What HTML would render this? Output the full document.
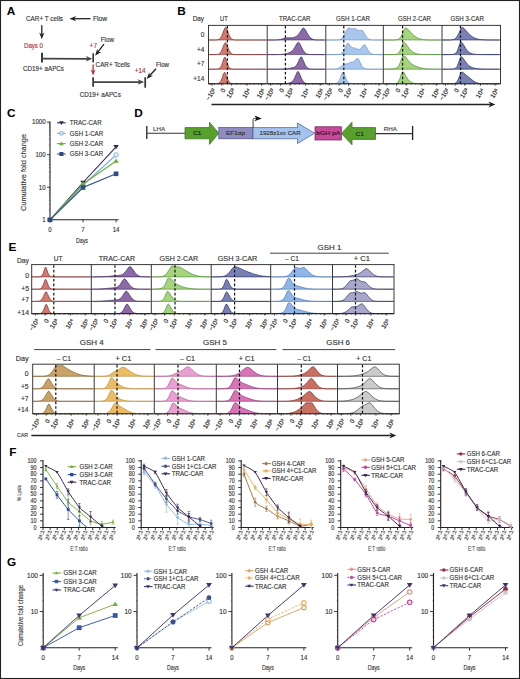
<!DOCTYPE html><html><head><meta charset="utf-8"><style>html,body{margin:0;padding:0;background:#fff;}svg{display:block;}</style></head><body>
<svg width="520" height="679" viewBox="0 0 520 679" font-family='"Liberation Sans", sans-serif'>
<rect x="0" y="0" width="520" height="679" fill="#fff"/>
<rect x="0.5" y="0.5" width="519" height="678" fill="none" stroke="#222" stroke-width="1.1"/>
<text x="6.80" y="15.10" font-size="11.8" fill="#000" font-weight="bold">A</text>
<text x="26.00" y="21.08" font-size="6.6" fill="#333" textLength="37.00" lengthAdjust="spacingAndGlyphs" stroke="#333" stroke-width="0.14">CAR+ T cells</text>
<line x1="90.50" y1="18.70" x2="73.86" y2="18.70" stroke="#222" stroke-width="1.3"/>
<path d="M69.40,18.70 L76.20,16.10 L74.16,18.70 L76.20,21.30Z" fill="#222"/>
<text x="93.00" y="21.28" font-size="6.6" fill="#333" textLength="14.00" lengthAdjust="spacingAndGlyphs" stroke="#333" stroke-width="0.14">Flow</text>
<line x1="41.80" y1="25.30" x2="41.80" y2="34.74" stroke="#222" stroke-width="1.3"/>
<path d="M41.80,39.20 L39.20,32.40 L41.80,34.44 L44.40,32.40Z" fill="#222"/>
<text x="24.00" y="48.38" font-size="6.6" fill="#b02a3a" textLength="19.00" lengthAdjust="spacingAndGlyphs" stroke="#b02a3a" stroke-width="0.14">Days 0</text>
<line x1="42.00" y1="52.80" x2="42.00" y2="62.60" stroke="#333" stroke-width="1.9"/>
<line x1="42.00" y1="58.70" x2="88.01" y2="58.79" stroke="#444" stroke-width="1.7"/>
<path d="M92.40,58.80 L85.69,61.54 L87.71,58.79 L85.71,56.04Z" fill="#444"/>
<line x1="93.20" y1="53.20" x2="93.20" y2="62.60" stroke="#333" stroke-width="1.6"/>
<text x="23.00" y="70.58" font-size="6.6" fill="#333" textLength="41.00" lengthAdjust="spacingAndGlyphs" stroke="#333" stroke-width="0.14">CD19+ aAPCs</text>
<text x="89.60" y="47.98" font-size="6.6" fill="#b02a3a" textLength="7.40" lengthAdjust="spacingAndGlyphs" stroke="#b02a3a" stroke-width="0.14">+7</text>
<text x="100.80" y="42.18" font-size="6.6" fill="#333" textLength="13.20" lengthAdjust="spacingAndGlyphs" stroke="#333" stroke-width="0.14">Flow</text>
<line x1="104.00" y1="44.20" x2="97.83" y2="52.17" stroke="#222" stroke-width="1.3"/>
<path d="M95.10,55.70 L97.21,48.73 L98.01,51.94 L101.32,51.91Z" fill="#222"/>
<text x="95.60" y="67.18" font-size="6.6" fill="#333" textLength="34.40" lengthAdjust="spacingAndGlyphs" stroke="#333" stroke-width="0.14">CAR+ Tcells</text>
<line x1="93.10" y1="64.50" x2="93.10" y2="71.56" stroke="#b02a3a" stroke-width="1.3"/>
<path d="M93.10,75.60 L90.70,69.40 L93.10,71.26 L95.50,69.40Z" fill="#b02a3a"/>
<line x1="93.10" y1="77.30" x2="93.10" y2="86.80" stroke="#333" stroke-width="1.7"/>
<line x1="93.10" y1="82.10" x2="139.81" y2="82.10" stroke="#444" stroke-width="1.6"/>
<path d="M144.20,82.10 L137.50,84.85 L139.51,82.10 L137.50,79.35Z" fill="#444"/>
<line x1="145.20" y1="77.30" x2="145.20" y2="87.70" stroke="#333" stroke-width="1.7"/>
<text x="134.80" y="73.38" font-size="6.6" fill="#b02a3a" textLength="10.60" lengthAdjust="spacingAndGlyphs" stroke="#b02a3a" stroke-width="0.14">+14</text>
<text x="156.00" y="67.18" font-size="6.6" fill="#333" textLength="13.00" lengthAdjust="spacingAndGlyphs" stroke="#333" stroke-width="0.14">Flow</text>
<line x1="156.00" y1="68.70" x2="149.61" y2="75.71" stroke="#222" stroke-width="1.3"/>
<path d="M146.60,79.00 L149.26,72.22 L149.81,75.48 L153.10,75.73Z" fill="#222"/>
<text x="79.80" y="96.98" font-size="6.6" fill="#333" textLength="41.00" lengthAdjust="spacingAndGlyphs" stroke="#333" stroke-width="0.14">CD19+ aAPCs</text>
<text x="177.20" y="15.10" font-size="11.8" fill="#000" font-weight="bold">B</text>
<text x="192.70" y="21.11" font-size="6.7" fill="#333" textLength="11.30" lengthAdjust="spacingAndGlyphs" stroke="#333" stroke-width="0.14">Day</text>
<text x="220.00" y="20.91" font-size="6.7" fill="#333" textLength="7.70" lengthAdjust="spacingAndGlyphs" stroke="#333" stroke-width="0.14">UT</text>
<text x="279.00" y="20.91" font-size="6.7" fill="#333" textLength="31.50" lengthAdjust="spacingAndGlyphs" stroke="#333" stroke-width="0.14">TRAC-CAR</text>
<text x="336.00" y="20.91" font-size="6.7" fill="#333" textLength="34.00" lengthAdjust="spacingAndGlyphs" stroke="#333" stroke-width="0.14">GSH 1-CAR</text>
<text x="398.00" y="20.91" font-size="6.7" fill="#333" textLength="33.00" lengthAdjust="spacingAndGlyphs" stroke="#333" stroke-width="0.14">GSH 2-CAR</text>
<text x="450.50" y="20.91" font-size="6.7" fill="#333" textLength="33.30" lengthAdjust="spacingAndGlyphs" stroke="#333" stroke-width="0.14">GSH 3-CAR</text>
<text x="204.30" y="36.50" font-size="6.5" fill="#333" text-anchor="end" stroke="#333" stroke-width="0.14">0</text>
<text x="204.30" y="51.50" font-size="6.5" fill="#333" text-anchor="end" stroke="#333" stroke-width="0.14">+4</text>
<text x="204.30" y="66.10" font-size="6.5" fill="#333" text-anchor="end" stroke="#333" stroke-width="0.14">+7</text>
<text x="204.30" y="80.70" font-size="6.5" fill="#333" text-anchor="end" stroke="#333" stroke-width="0.14">+14</text>
<path d="M209.0,40.00 L214.2,39.99 L215.0,39.98 L215.8,39.95 L216.5,39.90 L217.2,39.80 L218.0,39.63 L218.8,39.34 L219.5,38.88 L220.2,38.18 L221.0,37.16 L221.8,35.79 L222.5,34.07 L223.2,32.07 L224.0,30.00 L224.8,28.21 L225.5,27.18 L226.2,27.83 L227.0,29.48 L227.8,31.51 L228.5,33.55 L229.2,35.37 L230.0,36.84 L230.8,37.94 L231.5,38.72 L232.2,39.24 L233.0,39.57 L233.8,39.76 L234.5,39.88 L235.2,39.94 L236.0,39.97 L236.8,39.99 L266.0,40.00 L266.70,40.00 L209.00,40.00Z" fill="#d27a70" stroke="none"/>
<path d="M209.0,40.00 L214.2,39.99 L215.0,39.98 L215.8,39.95 L216.5,39.90 L217.2,39.80 L218.0,39.63 L218.8,39.34 L219.5,38.88 L220.2,38.18 L221.0,37.16 L221.8,35.79 L222.5,34.07 L223.2,32.07 L224.0,30.00 L224.8,28.21 L225.5,27.18 L226.2,27.83 L227.0,29.48 L227.8,31.51 L228.5,33.55 L229.2,35.37 L230.0,36.84 L230.8,37.94 L231.5,38.72 L232.2,39.24 L233.0,39.57 L233.8,39.76 L234.5,39.88 L235.2,39.94 L236.0,39.97 L236.8,39.99 L266.0,40.00" fill="none" stroke="#7c2c2c" stroke-width="0.7" stroke-linejoin="round"/>
<line x1="208.50" y1="40.00" x2="267.20" y2="40.00" stroke="#7c2c2c" stroke-width="0.8" stroke-opacity="0.75"/>
<path d="M209.0,54.60 L214.2,54.59 L215.0,54.57 L215.8,54.54 L216.5,54.48 L217.2,54.38 L218.0,54.19 L218.8,53.88 L219.5,53.38 L220.2,52.64 L221.0,51.59 L221.8,50.20 L222.5,48.48 L223.2,46.54 L224.0,44.61 L224.8,43.04 L225.5,42.42 L226.2,43.40 L227.0,45.10 L227.8,47.07 L228.5,48.96 L229.2,50.60 L230.0,51.91 L230.8,52.87 L231.5,53.54 L232.2,53.98 L233.0,54.25 L233.8,54.41 L234.5,54.50 L235.2,54.55 L236.0,54.58 L236.8,54.59 L266.0,54.60 L266.70,54.60 L209.00,54.60Z" fill="#d27a70" stroke="none"/>
<path d="M209.0,54.60 L214.2,54.59 L215.0,54.57 L215.8,54.54 L216.5,54.48 L217.2,54.38 L218.0,54.19 L218.8,53.88 L219.5,53.38 L220.2,52.64 L221.0,51.59 L221.8,50.20 L222.5,48.48 L223.2,46.54 L224.0,44.61 L224.8,43.04 L225.5,42.42 L226.2,43.40 L227.0,45.10 L227.8,47.07 L228.5,48.96 L229.2,50.60 L230.0,51.91 L230.8,52.87 L231.5,53.54 L232.2,53.98 L233.0,54.25 L233.8,54.41 L234.5,54.50 L235.2,54.55 L236.0,54.58 L236.8,54.59 L266.0,54.60" fill="none" stroke="#7c2c2c" stroke-width="0.7" stroke-linejoin="round"/>
<line x1="208.50" y1="54.60" x2="267.20" y2="54.60" stroke="#7c2c2c" stroke-width="0.8" stroke-opacity="0.75"/>
<path d="M209.0,69.20 L215.8,69.18 L216.5,69.16 L217.2,69.10 L218.0,68.98 L218.8,68.74 L219.5,68.31 L220.2,67.58 L221.0,66.45 L221.8,64.82 L222.5,62.73 L223.2,60.37 L224.0,58.21 L224.8,57.01 L225.5,57.98 L226.2,60.06 L227.0,62.42 L227.8,64.56 L228.5,66.26 L229.2,67.46 L230.0,68.24 L230.8,68.70 L231.5,68.95 L232.2,69.09 L233.0,69.15 L233.8,69.18 L234.5,69.19 L266.0,69.20 L266.70,69.20 L209.00,69.20Z" fill="#d27a70" stroke="none"/>
<path d="M209.0,69.20 L215.8,69.18 L216.5,69.16 L217.2,69.10 L218.0,68.98 L218.8,68.74 L219.5,68.31 L220.2,67.58 L221.0,66.45 L221.8,64.82 L222.5,62.73 L223.2,60.37 L224.0,58.21 L224.8,57.01 L225.5,57.98 L226.2,60.06 L227.0,62.42 L227.8,64.56 L228.5,66.26 L229.2,67.46 L230.0,68.24 L230.8,68.70 L231.5,68.95 L232.2,69.09 L233.0,69.15 L233.8,69.18 L234.5,69.19 L266.0,69.20" fill="none" stroke="#7c2c2c" stroke-width="0.7" stroke-linejoin="round"/>
<line x1="208.50" y1="69.20" x2="267.20" y2="69.20" stroke="#7c2c2c" stroke-width="0.8" stroke-opacity="0.75"/>
<path d="M209.0,83.80 L215.0,83.79 L215.8,83.78 L216.5,83.74 L217.2,83.67 L218.0,83.52 L218.8,83.23 L219.5,82.72 L220.2,81.89 L221.0,80.63 L221.8,78.90 L222.5,76.79 L223.2,74.57 L224.0,72.77 L224.8,72.38 L225.5,73.66 L226.2,75.56 L227.0,77.59 L227.8,79.42 L228.5,80.90 L229.2,81.98 L230.0,82.72 L230.8,83.19 L231.5,83.48 L232.2,83.64 L233.0,83.72 L233.8,83.76 L234.5,83.78 L266.0,83.80 L266.70,83.80 L209.00,83.80Z" fill="#d27a70" stroke="none"/>
<path d="M209.0,83.80 L215.0,83.79 L215.8,83.78 L216.5,83.74 L217.2,83.67 L218.0,83.52 L218.8,83.23 L219.5,82.72 L220.2,81.89 L221.0,80.63 L221.8,78.90 L222.5,76.79 L223.2,74.57 L224.0,72.77 L224.8,72.38 L225.5,73.66 L226.2,75.56 L227.0,77.59 L227.8,79.42 L228.5,80.90 L229.2,81.98 L230.0,82.72 L230.8,83.19 L231.5,83.48 L232.2,83.64 L233.0,83.72 L233.8,83.76 L234.5,83.78 L266.0,83.80" fill="none" stroke="#7c2c2c" stroke-width="0.7" stroke-linejoin="round"/>
<line x1="227.40" y1="26.00" x2="227.40" y2="83.80" stroke="#111" stroke-width="1.2" stroke-dasharray="2.6,2.0"/>
<path d="M267.7,40.00 L272.9,39.99 L273.7,39.98 L274.4,39.97 L275.2,39.95 L275.9,39.92 L276.7,39.89 L277.4,39.84 L278.2,39.77 L278.9,39.68 L279.7,39.57 L280.4,39.43 L281.2,39.26 L281.9,39.06 L282.7,38.83 L283.4,38.59 L284.2,38.33 L284.9,38.09 L285.7,37.87 L286.4,37.71 L287.2,37.67 L287.9,37.69 L288.7,37.73 L289.4,37.78 L290.2,37.80 L290.9,37.80 L291.7,37.75 L292.4,37.65 L293.2,37.51 L293.9,37.33 L294.7,37.12 L295.4,36.84 L296.2,36.44 L296.9,35.92 L297.7,35.24 L298.4,34.40 L299.2,33.42 L299.9,32.32 L300.7,31.17 L301.4,30.03 L302.2,29.02 L302.9,28.28 L303.7,28.03 L304.4,28.61 L305.2,29.62 L305.9,30.89 L306.7,32.25 L307.4,33.60 L308.2,34.86 L308.9,35.97 L309.7,36.93 L310.4,37.71 L311.2,38.34 L311.9,38.82 L312.7,39.18 L313.4,39.44 L314.2,39.63 L314.9,39.76 L315.7,39.84 L316.4,39.90 L317.2,39.94 L317.9,39.96 L318.7,39.98 L319.4,39.99 L324.7,40.00 L325.30,40.00 L267.70,40.00Z" fill="#8c6aa8" stroke="none"/>
<path d="M267.7,40.00 L272.9,39.99 L273.7,39.98 L274.4,39.97 L275.2,39.95 L275.9,39.92 L276.7,39.89 L277.4,39.84 L278.2,39.77 L278.9,39.68 L279.7,39.57 L280.4,39.43 L281.2,39.26 L281.9,39.06 L282.7,38.83 L283.4,38.59 L284.2,38.33 L284.9,38.09 L285.7,37.87 L286.4,37.71 L287.2,37.67 L287.9,37.69 L288.7,37.73 L289.4,37.78 L290.2,37.80 L290.9,37.80 L291.7,37.75 L292.4,37.65 L293.2,37.51 L293.9,37.33 L294.7,37.12 L295.4,36.84 L296.2,36.44 L296.9,35.92 L297.7,35.24 L298.4,34.40 L299.2,33.42 L299.9,32.32 L300.7,31.17 L301.4,30.03 L302.2,29.02 L302.9,28.28 L303.7,28.03 L304.4,28.61 L305.2,29.62 L305.9,30.89 L306.7,32.25 L307.4,33.60 L308.2,34.86 L308.9,35.97 L309.7,36.93 L310.4,37.71 L311.2,38.34 L311.9,38.82 L312.7,39.18 L313.4,39.44 L314.2,39.63 L314.9,39.76 L315.7,39.84 L316.4,39.90 L317.2,39.94 L317.9,39.96 L318.7,39.98 L319.4,39.99 L324.7,40.00" fill="none" stroke="#3a2450" stroke-width="0.7" stroke-linejoin="round"/>
<line x1="267.20" y1="40.00" x2="325.80" y2="40.00" stroke="#3a2450" stroke-width="0.8" stroke-opacity="0.75"/>
<path d="M267.7,54.60 L275.9,54.58 L276.7,54.57 L277.4,54.56 L278.2,54.54 L278.9,54.52 L279.7,54.49 L280.4,54.46 L281.2,54.41 L281.9,54.35 L282.7,54.27 L283.4,54.18 L284.2,54.07 L284.9,53.94 L285.7,53.79 L286.4,53.61 L287.2,53.41 L287.9,53.17 L288.7,52.90 L289.4,52.58 L290.2,52.21 L290.9,51.79 L291.7,51.25 L292.4,50.56 L293.2,49.70 L293.9,48.66 L294.7,47.47 L295.4,46.17 L296.2,44.84 L296.9,43.61 L297.7,42.65 L298.4,42.18 L299.2,42.73 L299.9,43.92 L300.7,45.42 L301.4,47.03 L302.2,48.58 L302.9,49.97 L303.7,51.16 L304.4,52.12 L305.2,52.87 L305.9,53.43 L306.7,53.83 L307.4,54.10 L308.2,54.29 L308.9,54.41 L309.7,54.49 L310.4,54.53 L311.2,54.56 L311.9,54.58 L312.7,54.59 L324.7,54.60 L325.30,54.60 L267.70,54.60Z" fill="#8c6aa8" stroke="none"/>
<path d="M267.7,54.60 L275.9,54.58 L276.7,54.57 L277.4,54.56 L278.2,54.54 L278.9,54.52 L279.7,54.49 L280.4,54.46 L281.2,54.41 L281.9,54.35 L282.7,54.27 L283.4,54.18 L284.2,54.07 L284.9,53.94 L285.7,53.79 L286.4,53.61 L287.2,53.41 L287.9,53.17 L288.7,52.90 L289.4,52.58 L290.2,52.21 L290.9,51.79 L291.7,51.25 L292.4,50.56 L293.2,49.70 L293.9,48.66 L294.7,47.47 L295.4,46.17 L296.2,44.84 L296.9,43.61 L297.7,42.65 L298.4,42.18 L299.2,42.73 L299.9,43.92 L300.7,45.42 L301.4,47.03 L302.2,48.58 L302.9,49.97 L303.7,51.16 L304.4,52.12 L305.2,52.87 L305.9,53.43 L306.7,53.83 L307.4,54.10 L308.2,54.29 L308.9,54.41 L309.7,54.49 L310.4,54.53 L311.2,54.56 L311.9,54.58 L312.7,54.59 L324.7,54.60" fill="none" stroke="#3a2450" stroke-width="0.7" stroke-linejoin="round"/>
<line x1="267.20" y1="54.60" x2="325.80" y2="54.60" stroke="#3a2450" stroke-width="0.8" stroke-opacity="0.75"/>
<path d="M267.7,69.20 L278.9,69.18 L279.7,69.17 L280.4,69.16 L281.2,69.14 L281.9,69.12 L282.7,69.09 L283.4,69.06 L284.2,69.01 L284.9,68.95 L285.7,68.88 L286.4,68.79 L287.2,68.70 L287.9,68.58 L288.7,68.46 L289.4,68.33 L290.2,68.19 L290.9,68.03 L291.7,67.87 L292.4,67.70 L293.2,67.50 L293.9,67.27 L294.7,66.92 L295.4,66.39 L296.2,65.62 L296.9,64.56 L297.7,63.21 L298.4,61.61 L299.2,59.89 L299.9,58.27 L300.7,57.08 L301.4,56.89 L302.2,57.98 L302.9,59.62 L303.7,61.46 L304.4,63.26 L305.2,64.84 L305.9,66.14 L306.7,67.13 L307.4,67.86 L308.2,68.36 L308.9,68.70 L309.7,68.91 L310.4,69.04 L311.2,69.11 L311.9,69.15 L312.7,69.18 L313.4,69.19 L324.7,69.20 L325.30,69.20 L267.70,69.20Z" fill="#8c6aa8" stroke="none"/>
<path d="M267.7,69.20 L278.9,69.18 L279.7,69.17 L280.4,69.16 L281.2,69.14 L281.9,69.12 L282.7,69.09 L283.4,69.06 L284.2,69.01 L284.9,68.95 L285.7,68.88 L286.4,68.79 L287.2,68.70 L287.9,68.58 L288.7,68.46 L289.4,68.33 L290.2,68.19 L290.9,68.03 L291.7,67.87 L292.4,67.70 L293.2,67.50 L293.9,67.27 L294.7,66.92 L295.4,66.39 L296.2,65.62 L296.9,64.56 L297.7,63.21 L298.4,61.61 L299.2,59.89 L299.9,58.27 L300.7,57.08 L301.4,56.89 L302.2,57.98 L302.9,59.62 L303.7,61.46 L304.4,63.26 L305.2,64.84 L305.9,66.14 L306.7,67.13 L307.4,67.86 L308.2,68.36 L308.9,68.70 L309.7,68.91 L310.4,69.04 L311.2,69.11 L311.9,69.15 L312.7,69.18 L313.4,69.19 L324.7,69.20" fill="none" stroke="#3a2450" stroke-width="0.7" stroke-linejoin="round"/>
<line x1="267.20" y1="69.20" x2="325.80" y2="69.20" stroke="#3a2450" stroke-width="0.8" stroke-opacity="0.75"/>
<path d="M267.7,83.80 L281.2,83.79 L281.9,83.78 L282.7,83.77 L283.4,83.75 L284.2,83.72 L284.9,83.68 L285.7,83.62 L286.4,83.54 L287.2,83.44 L287.9,83.31 L288.7,83.15 L289.4,82.94 L290.2,82.67 L290.9,82.32 L291.7,81.86 L292.4,81.27 L293.2,80.47 L293.9,79.38 L294.7,77.95 L295.4,76.24 L296.2,74.39 L296.9,72.68 L297.7,71.54 L298.4,71.74 L299.2,73.02 L299.9,74.74 L300.7,76.59 L301.4,78.33 L302.2,79.84 L302.9,81.05 L303.7,81.97 L304.4,82.62 L305.2,83.07 L305.9,83.37 L306.7,83.55 L307.4,83.66 L308.2,83.73 L308.9,83.76 L309.7,83.78 L324.7,83.80 L325.30,83.80 L267.70,83.80Z" fill="#8c6aa8" stroke="none"/>
<path d="M267.7,83.80 L281.2,83.79 L281.9,83.78 L282.7,83.77 L283.4,83.75 L284.2,83.72 L284.9,83.68 L285.7,83.62 L286.4,83.54 L287.2,83.44 L287.9,83.31 L288.7,83.15 L289.4,82.94 L290.2,82.67 L290.9,82.32 L291.7,81.86 L292.4,81.27 L293.2,80.47 L293.9,79.38 L294.7,77.95 L295.4,76.24 L296.2,74.39 L296.9,72.68 L297.7,71.54 L298.4,71.74 L299.2,73.02 L299.9,74.74 L300.7,76.59 L301.4,78.33 L302.2,79.84 L302.9,81.05 L303.7,81.97 L304.4,82.62 L305.2,83.07 L305.9,83.37 L306.7,83.55 L307.4,83.66 L308.2,83.73 L308.9,83.76 L309.7,83.78 L324.7,83.80" fill="none" stroke="#3a2450" stroke-width="0.7" stroke-linejoin="round"/>
<line x1="285.40" y1="26.00" x2="285.40" y2="83.80" stroke="#111" stroke-width="1.2" stroke-dasharray="2.6,2.0"/>
<path d="M326.3,40.00 L335.3,39.98 L336.1,39.97 L336.8,39.94 L337.6,39.89 L338.3,39.82 L339.1,39.70 L339.8,39.52 L340.6,39.24 L341.3,38.83 L342.1,38.26 L342.8,37.48 L343.6,36.49 L344.3,35.25 L345.1,33.82 L345.8,32.24 L346.6,30.63 L347.3,29.18 L348.1,28.15 L348.8,27.94 L349.6,28.10 L350.3,28.38 L351.1,28.64 L351.8,28.79 L352.6,28.80 L353.3,28.71 L354.1,28.57 L354.8,28.52 L355.6,28.80 L356.3,29.29 L357.1,29.80 L357.8,30.24 L358.6,30.54 L359.3,30.65 L360.1,30.59 L360.8,30.43 L361.6,30.30 L362.3,30.42 L363.1,31.19 L363.8,32.42 L364.6,33.79 L365.3,35.15 L366.1,36.36 L366.8,37.38 L367.6,38.18 L368.3,38.78 L369.1,39.21 L369.8,39.51 L370.6,39.70 L371.3,39.82 L372.1,39.90 L372.8,39.94 L373.6,39.97 L374.3,39.98 L382.6,40.00 L382.80,40.00 L326.30,40.00Z" fill="#a9c6ec" stroke="none"/>
<path d="M326.3,40.00 L335.3,39.98 L336.1,39.97 L336.8,39.94 L337.6,39.89 L338.3,39.82 L339.1,39.70 L339.8,39.52 L340.6,39.24 L341.3,38.83 L342.1,38.26 L342.8,37.48 L343.6,36.49 L344.3,35.25 L345.1,33.82 L345.8,32.24 L346.6,30.63 L347.3,29.18 L348.1,28.15 L348.8,27.94 L349.6,28.10 L350.3,28.38 L351.1,28.64 L351.8,28.79 L352.6,28.80 L353.3,28.71 L354.1,28.57 L354.8,28.52 L355.6,28.80 L356.3,29.29 L357.1,29.80 L357.8,30.24 L358.6,30.54 L359.3,30.65 L360.1,30.59 L360.8,30.43 L361.6,30.30 L362.3,30.42 L363.1,31.19 L363.8,32.42 L364.6,33.79 L365.3,35.15 L366.1,36.36 L366.8,37.38 L367.6,38.18 L368.3,38.78 L369.1,39.21 L369.8,39.51 L370.6,39.70 L371.3,39.82 L372.1,39.90 L372.8,39.94 L373.6,39.97 L374.3,39.98 L382.6,40.00" fill="none" stroke="#6a90c4" stroke-width="0.7" stroke-linejoin="round"/>
<line x1="325.80" y1="40.00" x2="383.30" y2="40.00" stroke="#6a90c4" stroke-width="0.8" stroke-opacity="0.75"/>
<path d="M326.3,54.60 L336.1,54.58 L336.8,54.56 L337.6,54.53 L338.3,54.47 L339.1,54.37 L339.8,54.20 L340.6,53.93 L341.3,53.52 L342.1,52.92 L342.8,52.09 L343.6,50.98 L344.3,49.61 L345.1,48.01 L345.8,46.31 L346.6,44.68 L347.3,43.42 L348.1,43.08 L348.8,43.67 L349.6,44.64 L350.3,45.67 L351.1,46.58 L351.8,47.26 L352.6,47.68 L353.3,47.88 L354.1,47.95 L354.8,48.01 L355.6,48.26 L356.3,48.64 L357.1,49.01 L357.8,49.30 L358.6,49.42 L359.3,49.33 L360.1,48.97 L360.8,48.34 L361.6,47.49 L362.3,46.50 L363.1,45.52 L363.8,44.78 L364.6,44.63 L365.3,45.39 L366.1,46.57 L366.8,47.93 L367.6,49.30 L368.3,50.55 L369.1,51.62 L369.8,52.49 L370.6,53.16 L371.3,53.64 L372.1,53.99 L372.8,54.22 L373.6,54.37 L374.3,54.47 L375.1,54.52 L375.8,54.56 L376.6,54.58 L377.3,54.59 L382.6,54.60 L382.80,54.60 L326.30,54.60Z" fill="#a9c6ec" stroke="none"/>
<path d="M326.3,54.60 L336.1,54.58 L336.8,54.56 L337.6,54.53 L338.3,54.47 L339.1,54.37 L339.8,54.20 L340.6,53.93 L341.3,53.52 L342.1,52.92 L342.8,52.09 L343.6,50.98 L344.3,49.61 L345.1,48.01 L345.8,46.31 L346.6,44.68 L347.3,43.42 L348.1,43.08 L348.8,43.67 L349.6,44.64 L350.3,45.67 L351.1,46.58 L351.8,47.26 L352.6,47.68 L353.3,47.88 L354.1,47.95 L354.8,48.01 L355.6,48.26 L356.3,48.64 L357.1,49.01 L357.8,49.30 L358.6,49.42 L359.3,49.33 L360.1,48.97 L360.8,48.34 L361.6,47.49 L362.3,46.50 L363.1,45.52 L363.8,44.78 L364.6,44.63 L365.3,45.39 L366.1,46.57 L366.8,47.93 L367.6,49.30 L368.3,50.55 L369.1,51.62 L369.8,52.49 L370.6,53.16 L371.3,53.64 L372.1,53.99 L372.8,54.22 L373.6,54.37 L374.3,54.47 L375.1,54.52 L375.8,54.56 L376.6,54.58 L377.3,54.59 L382.6,54.60" fill="none" stroke="#6a90c4" stroke-width="0.7" stroke-linejoin="round"/>
<line x1="325.80" y1="54.60" x2="383.30" y2="54.60" stroke="#6a90c4" stroke-width="0.8" stroke-opacity="0.75"/>
<path d="M326.3,69.20 L331.6,69.19 L332.3,69.17 L333.1,69.16 L333.8,69.13 L334.6,69.08 L335.3,69.01 L336.1,68.90 L336.8,68.75 L337.6,68.54 L338.3,68.26 L339.1,67.90 L339.8,67.45 L340.6,66.92 L341.3,66.32 L342.1,65.68 L342.8,65.04 L343.6,64.47 L344.3,64.10 L345.1,63.96 L345.8,63.89 L346.6,63.81 L347.3,63.67 L348.1,63.45 L348.8,63.16 L349.6,62.81 L350.3,62.44 L351.1,62.15 L351.8,62.06 L352.6,61.95 L353.3,61.71 L354.1,61.27 L354.8,60.62 L355.6,59.82 L356.3,58.99 L357.1,58.37 L357.8,58.35 L358.6,59.34 L359.3,60.80 L360.1,62.41 L360.8,63.96 L361.6,65.34 L362.3,66.48 L363.1,67.35 L363.8,67.99 L364.6,68.44 L365.3,68.74 L366.1,68.93 L366.8,69.05 L367.6,69.12 L368.3,69.16 L369.1,69.18 L369.8,69.19 L382.6,69.20 L382.80,69.20 L326.30,69.20Z" fill="#a9c6ec" stroke="none"/>
<path d="M326.3,69.20 L331.6,69.19 L332.3,69.17 L333.1,69.16 L333.8,69.13 L334.6,69.08 L335.3,69.01 L336.1,68.90 L336.8,68.75 L337.6,68.54 L338.3,68.26 L339.1,67.90 L339.8,67.45 L340.6,66.92 L341.3,66.32 L342.1,65.68 L342.8,65.04 L343.6,64.47 L344.3,64.10 L345.1,63.96 L345.8,63.89 L346.6,63.81 L347.3,63.67 L348.1,63.45 L348.8,63.16 L349.6,62.81 L350.3,62.44 L351.1,62.15 L351.8,62.06 L352.6,61.95 L353.3,61.71 L354.1,61.27 L354.8,60.62 L355.6,59.82 L356.3,58.99 L357.1,58.37 L357.8,58.35 L358.6,59.34 L359.3,60.80 L360.1,62.41 L360.8,63.96 L361.6,65.34 L362.3,66.48 L363.1,67.35 L363.8,67.99 L364.6,68.44 L365.3,68.74 L366.1,68.93 L366.8,69.05 L367.6,69.12 L368.3,69.16 L369.1,69.18 L369.8,69.19 L382.6,69.20" fill="none" stroke="#6a90c4" stroke-width="0.7" stroke-linejoin="round"/>
<line x1="325.80" y1="69.20" x2="383.30" y2="69.20" stroke="#6a90c4" stroke-width="0.8" stroke-opacity="0.75"/>
<path d="M326.3,83.80 L333.1,83.78 L333.8,83.76 L334.6,83.71 L335.3,83.62 L336.1,83.45 L336.8,83.16 L337.6,82.66 L338.3,81.88 L339.1,80.74 L339.8,79.21 L340.6,77.32 L341.3,75.24 L342.1,73.32 L342.8,72.08 L343.6,72.53 L344.3,74.17 L345.1,76.21 L345.8,78.24 L346.6,79.97 L347.3,81.32 L348.1,82.28 L348.8,82.92 L349.6,83.32 L350.3,83.55 L351.1,83.67 L351.8,83.74 L352.6,83.77 L353.3,83.79 L382.6,83.80 L382.80,83.80 L326.30,83.80Z" fill="#a9c6ec" stroke="none"/>
<path d="M326.3,83.80 L333.1,83.78 L333.8,83.76 L334.6,83.71 L335.3,83.62 L336.1,83.45 L336.8,83.16 L337.6,82.66 L338.3,81.88 L339.1,80.74 L339.8,79.21 L340.6,77.32 L341.3,75.24 L342.1,73.32 L342.8,72.08 L343.6,72.53 L344.3,74.17 L345.1,76.21 L345.8,78.24 L346.6,79.97 L347.3,81.32 L348.1,82.28 L348.8,82.92 L349.6,83.32 L350.3,83.55 L351.1,83.67 L351.8,83.74 L352.6,83.77 L353.3,83.79 L382.6,83.80" fill="none" stroke="#6a90c4" stroke-width="0.7" stroke-linejoin="round"/>
<line x1="343.80" y1="26.00" x2="343.80" y2="83.80" stroke="#111" stroke-width="1.2" stroke-dasharray="2.6,2.0"/>
<path d="M383.8,40.00 L392.8,39.99 L393.6,39.97 L394.3,39.95 L395.1,39.92 L395.8,39.86 L396.6,39.76 L397.3,39.59 L398.1,39.32 L398.8,38.91 L399.6,38.31 L400.3,37.46 L401.1,36.34 L401.8,34.94 L402.6,33.29 L403.3,31.50 L404.1,29.79 L404.8,28.42 L405.6,27.88 L406.3,28.09 L407.1,28.55 L407.8,29.18 L408.6,29.92 L409.3,30.72 L410.1,31.54 L410.8,32.36 L411.6,33.15 L412.3,33.91 L413.1,34.63 L413.8,35.32 L414.6,35.97 L415.3,36.56 L416.1,37.09 L416.8,37.56 L417.6,37.97 L418.3,38.32 L419.1,38.63 L419.8,38.88 L420.6,39.10 L421.3,39.28 L422.1,39.42 L422.8,39.55 L423.6,39.64 L424.3,39.72 L425.1,39.79 L425.8,39.84 L426.6,39.88 L427.3,39.91 L428.1,39.93 L428.8,39.95 L429.6,39.96 L430.3,39.97 L431.1,39.98 L431.8,39.99 L440.8,40.00 L441.50,40.00 L383.80,40.00Z" fill="#a4d47e" stroke="none"/>
<path d="M383.8,40.00 L392.8,39.99 L393.6,39.97 L394.3,39.95 L395.1,39.92 L395.8,39.86 L396.6,39.76 L397.3,39.59 L398.1,39.32 L398.8,38.91 L399.6,38.31 L400.3,37.46 L401.1,36.34 L401.8,34.94 L402.6,33.29 L403.3,31.50 L404.1,29.79 L404.8,28.42 L405.6,27.88 L406.3,28.09 L407.1,28.55 L407.8,29.18 L408.6,29.92 L409.3,30.72 L410.1,31.54 L410.8,32.36 L411.6,33.15 L412.3,33.91 L413.1,34.63 L413.8,35.32 L414.6,35.97 L415.3,36.56 L416.1,37.09 L416.8,37.56 L417.6,37.97 L418.3,38.32 L419.1,38.63 L419.8,38.88 L420.6,39.10 L421.3,39.28 L422.1,39.42 L422.8,39.55 L423.6,39.64 L424.3,39.72 L425.1,39.79 L425.8,39.84 L426.6,39.88 L427.3,39.91 L428.1,39.93 L428.8,39.95 L429.6,39.96 L430.3,39.97 L431.1,39.98 L431.8,39.99 L440.8,40.00" fill="none" stroke="#4e8a30" stroke-width="0.7" stroke-linejoin="round"/>
<line x1="383.30" y1="40.00" x2="442.00" y2="40.00" stroke="#4e8a30" stroke-width="0.8" stroke-opacity="0.75"/>
<path d="M383.8,54.60 L391.3,54.59 L392.1,54.58 L392.8,54.57 L393.6,54.55 L394.3,54.52 L395.1,54.48 L395.8,54.39 L396.6,54.24 L397.3,53.97 L398.1,53.54 L398.8,52.85 L399.6,51.83 L400.3,50.42 L401.1,48.63 L401.8,46.56 L402.6,44.47 L403.3,42.82 L404.1,42.31 L404.8,42.72 L405.6,43.46 L406.3,44.41 L407.1,45.46 L407.8,46.54 L408.6,47.58 L409.3,48.56 L410.1,49.45 L410.8,50.28 L411.6,51.00 L412.3,51.63 L413.1,52.16 L413.8,52.61 L414.6,52.97 L415.3,53.28 L416.1,53.53 L416.8,53.73 L417.6,53.90 L418.3,54.04 L419.1,54.15 L419.8,54.24 L420.6,54.32 L421.3,54.38 L422.1,54.43 L422.8,54.46 L423.6,54.50 L424.3,54.52 L425.1,54.54 L425.8,54.55 L426.6,54.57 L427.3,54.57 L428.1,54.58 L440.8,54.60 L441.50,54.60 L383.80,54.60Z" fill="#a4d47e" stroke="none"/>
<path d="M383.8,54.60 L391.3,54.59 L392.1,54.58 L392.8,54.57 L393.6,54.55 L394.3,54.52 L395.1,54.48 L395.8,54.39 L396.6,54.24 L397.3,53.97 L398.1,53.54 L398.8,52.85 L399.6,51.83 L400.3,50.42 L401.1,48.63 L401.8,46.56 L402.6,44.47 L403.3,42.82 L404.1,42.31 L404.8,42.72 L405.6,43.46 L406.3,44.41 L407.1,45.46 L407.8,46.54 L408.6,47.58 L409.3,48.56 L410.1,49.45 L410.8,50.28 L411.6,51.00 L412.3,51.63 L413.1,52.16 L413.8,52.61 L414.6,52.97 L415.3,53.28 L416.1,53.53 L416.8,53.73 L417.6,53.90 L418.3,54.04 L419.1,54.15 L419.8,54.24 L420.6,54.32 L421.3,54.38 L422.1,54.43 L422.8,54.46 L423.6,54.50 L424.3,54.52 L425.1,54.54 L425.8,54.55 L426.6,54.57 L427.3,54.57 L428.1,54.58 L440.8,54.60" fill="none" stroke="#4e8a30" stroke-width="0.7" stroke-linejoin="round"/>
<line x1="383.30" y1="54.60" x2="442.00" y2="54.60" stroke="#4e8a30" stroke-width="0.8" stroke-opacity="0.75"/>
<path d="M383.8,69.17 L384.6,69.16 L385.3,69.15 L386.1,69.13 L386.8,69.12 L387.6,69.10 L388.3,69.07 L389.1,69.05 L389.8,69.01 L390.6,68.97 L391.3,68.93 L392.1,68.87 L392.8,68.81 L393.6,68.72 L394.3,68.61 L395.1,68.46 L395.8,68.24 L396.6,67.92 L397.3,67.43 L398.1,66.70 L398.8,65.65 L399.6,64.22 L400.3,62.39 L401.1,60.25 L401.8,58.03 L402.6,56.35 L403.3,56.35 L404.1,56.35 L404.8,56.35 L405.6,56.87 L406.3,57.83 L407.1,58.83 L407.8,59.82 L408.6,60.75 L409.3,61.60 L410.1,62.38 L410.8,63.12 L411.6,63.77 L412.3,64.35 L413.1,64.86 L413.8,65.31 L414.6,65.70 L415.3,66.06 L416.1,66.37 L416.8,66.66 L417.6,66.92 L418.3,67.16 L419.1,67.38 L419.8,67.59 L420.6,67.77 L421.3,67.94 L422.1,68.10 L422.8,68.24 L423.6,68.37 L424.3,68.48 L425.1,68.59 L425.8,68.68 L426.6,68.75 L427.3,68.82 L428.1,68.88 L428.8,68.94 L429.6,68.98 L430.3,69.02 L431.1,69.05 L431.8,69.08 L432.6,69.10 L433.3,69.12 L434.1,69.13 L434.8,69.15 L435.6,69.16 L436.3,69.17 L437.1,69.17 L437.8,69.18 L438.6,69.18 L440.8,69.19 L441.50,69.20 L383.80,69.20Z" fill="#a4d47e" stroke="none"/>
<path d="M383.8,69.17 L384.6,69.16 L385.3,69.15 L386.1,69.13 L386.8,69.12 L387.6,69.10 L388.3,69.07 L389.1,69.05 L389.8,69.01 L390.6,68.97 L391.3,68.93 L392.1,68.87 L392.8,68.81 L393.6,68.72 L394.3,68.61 L395.1,68.46 L395.8,68.24 L396.6,67.92 L397.3,67.43 L398.1,66.70 L398.8,65.65 L399.6,64.22 L400.3,62.39 L401.1,60.25 L401.8,58.03 L402.6,56.35 L403.3,56.35 L404.1,56.35 L404.8,56.35 L405.6,56.87 L406.3,57.83 L407.1,58.83 L407.8,59.82 L408.6,60.75 L409.3,61.60 L410.1,62.38 L410.8,63.12 L411.6,63.77 L412.3,64.35 L413.1,64.86 L413.8,65.31 L414.6,65.70 L415.3,66.06 L416.1,66.37 L416.8,66.66 L417.6,66.92 L418.3,67.16 L419.1,67.38 L419.8,67.59 L420.6,67.77 L421.3,67.94 L422.1,68.10 L422.8,68.24 L423.6,68.37 L424.3,68.48 L425.1,68.59 L425.8,68.68 L426.6,68.75 L427.3,68.82 L428.1,68.88 L428.8,68.94 L429.6,68.98 L430.3,69.02 L431.1,69.05 L431.8,69.08 L432.6,69.10 L433.3,69.12 L434.1,69.13 L434.8,69.15 L435.6,69.16 L436.3,69.17 L437.1,69.17 L437.8,69.18 L438.6,69.18 L440.8,69.19" fill="none" stroke="#4e8a30" stroke-width="0.7" stroke-linejoin="round"/>
<line x1="383.30" y1="69.20" x2="442.00" y2="69.20" stroke="#4e8a30" stroke-width="0.8" stroke-opacity="0.75"/>
<path d="M383.8,83.80 L392.1,83.78 L392.8,83.77 L393.6,83.75 L394.3,83.72 L395.1,83.64 L395.8,83.51 L396.6,83.26 L397.3,82.82 L398.1,82.09 L398.8,80.97 L399.6,79.38 L400.3,77.34 L401.1,75.05 L401.8,72.92 L402.6,71.66 L403.3,71.97 L404.1,72.88 L404.8,74.10 L405.6,75.43 L406.3,76.76 L407.1,78.00 L407.8,79.14 L408.6,80.13 L409.3,80.94 L410.1,81.59 L410.8,82.11 L411.6,82.51 L412.3,82.83 L413.1,83.06 L413.8,83.25 L414.6,83.39 L415.3,83.49 L416.1,83.57 L416.8,83.63 L417.6,83.68 L418.3,83.71 L419.1,83.74 L419.8,83.76 L420.6,83.77 L421.3,83.78 L440.8,83.80 L441.50,83.80 L383.80,83.80Z" fill="#a4d47e" stroke="none"/>
<path d="M383.8,83.80 L392.1,83.78 L392.8,83.77 L393.6,83.75 L394.3,83.72 L395.1,83.64 L395.8,83.51 L396.6,83.26 L397.3,82.82 L398.1,82.09 L398.8,80.97 L399.6,79.38 L400.3,77.34 L401.1,75.05 L401.8,72.92 L402.6,71.66 L403.3,71.97 L404.1,72.88 L404.8,74.10 L405.6,75.43 L406.3,76.76 L407.1,78.00 L407.8,79.14 L408.6,80.13 L409.3,80.94 L410.1,81.59 L410.8,82.11 L411.6,82.51 L412.3,82.83 L413.1,83.06 L413.8,83.25 L414.6,83.39 L415.3,83.49 L416.1,83.57 L416.8,83.63 L417.6,83.68 L418.3,83.71 L419.1,83.74 L419.8,83.76 L420.6,83.77 L421.3,83.78 L440.8,83.80" fill="none" stroke="#4e8a30" stroke-width="0.7" stroke-linejoin="round"/>
<line x1="402.60" y1="26.00" x2="402.60" y2="83.80" stroke="#111" stroke-width="1.2" stroke-dasharray="2.6,2.0"/>
<path d="M442.5,40.00 L447.8,39.98 L448.5,39.97 L449.2,39.96 L450.0,39.94 L450.8,39.90 L451.5,39.84 L452.2,39.75 L453.0,39.61 L453.8,39.39 L454.5,39.06 L455.2,38.58 L456.0,37.91 L456.8,37.02 L457.5,35.87 L458.2,34.48 L459.0,32.88 L459.8,31.18 L460.5,29.54 L461.2,28.20 L462.0,27.50 L462.8,27.66 L463.5,28.10 L464.2,28.73 L465.0,29.49 L465.8,30.32 L466.5,31.19 L467.2,32.05 L468.0,32.88 L468.8,33.67 L469.5,34.41 L470.2,35.09 L471.0,35.74 L471.8,36.32 L472.5,36.84 L473.2,37.30 L474.0,37.70 L474.8,38.05 L475.5,38.35 L476.2,38.61 L477.0,38.83 L477.8,39.02 L478.5,39.18 L479.2,39.31 L480.0,39.43 L480.8,39.52 L481.5,39.61 L482.2,39.68 L483.0,39.73 L483.8,39.78 L484.5,39.82 L485.2,39.86 L486.0,39.89 L486.8,39.91 L487.5,39.93 L488.2,39.94 L489.0,39.95 L489.8,39.96 L490.5,39.97 L491.2,39.98 L492.0,39.98 L499.5,40.00 L500.00,40.00 L442.50,40.00Z" fill="#7880b4" stroke="none"/>
<path d="M442.5,40.00 L447.8,39.98 L448.5,39.97 L449.2,39.96 L450.0,39.94 L450.8,39.90 L451.5,39.84 L452.2,39.75 L453.0,39.61 L453.8,39.39 L454.5,39.06 L455.2,38.58 L456.0,37.91 L456.8,37.02 L457.5,35.87 L458.2,34.48 L459.0,32.88 L459.8,31.18 L460.5,29.54 L461.2,28.20 L462.0,27.50 L462.8,27.66 L463.5,28.10 L464.2,28.73 L465.0,29.49 L465.8,30.32 L466.5,31.19 L467.2,32.05 L468.0,32.88 L468.8,33.67 L469.5,34.41 L470.2,35.09 L471.0,35.74 L471.8,36.32 L472.5,36.84 L473.2,37.30 L474.0,37.70 L474.8,38.05 L475.5,38.35 L476.2,38.61 L477.0,38.83 L477.8,39.02 L478.5,39.18 L479.2,39.31 L480.0,39.43 L480.8,39.52 L481.5,39.61 L482.2,39.68 L483.0,39.73 L483.8,39.78 L484.5,39.82 L485.2,39.86 L486.0,39.89 L486.8,39.91 L487.5,39.93 L488.2,39.94 L489.0,39.95 L489.8,39.96 L490.5,39.97 L491.2,39.98 L492.0,39.98 L499.5,40.00" fill="none" stroke="#22285a" stroke-width="0.7" stroke-linejoin="round"/>
<line x1="442.00" y1="40.00" x2="500.50" y2="40.00" stroke="#22285a" stroke-width="0.8" stroke-opacity="0.75"/>
<path d="M442.5,54.60 L447.0,54.58 L447.8,54.57 L448.5,54.57 L449.2,54.55 L450.0,54.54 L450.8,54.52 L451.5,54.48 L452.2,54.44 L453.0,54.36 L453.8,54.22 L454.5,53.98 L455.2,53.58 L456.0,52.91 L456.8,51.87 L457.5,50.37 L458.2,48.38 L459.0,46.04 L459.8,43.70 L460.5,42.00 L461.2,41.83 L462.0,42.49 L462.8,43.51 L463.5,44.72 L464.2,46.01 L465.0,47.28 L465.8,48.50 L466.5,49.61 L467.2,50.57 L468.0,51.38 L468.8,52.04 L469.5,52.58 L470.2,53.02 L471.0,53.36 L471.8,53.62 L472.5,53.83 L473.2,54.00 L474.0,54.13 L474.8,54.23 L475.5,54.31 L476.2,54.37 L477.0,54.42 L477.8,54.46 L478.5,54.49 L479.2,54.52 L480.0,54.54 L480.8,54.55 L481.5,54.57 L482.2,54.57 L483.0,54.58 L499.5,54.60 L500.00,54.60 L442.50,54.60Z" fill="#7880b4" stroke="none"/>
<path d="M442.5,54.60 L447.0,54.58 L447.8,54.57 L448.5,54.57 L449.2,54.55 L450.0,54.54 L450.8,54.52 L451.5,54.48 L452.2,54.44 L453.0,54.36 L453.8,54.22 L454.5,53.98 L455.2,53.58 L456.0,52.91 L456.8,51.87 L457.5,50.37 L458.2,48.38 L459.0,46.04 L459.8,43.70 L460.5,42.00 L461.2,41.83 L462.0,42.49 L462.8,43.51 L463.5,44.72 L464.2,46.01 L465.0,47.28 L465.8,48.50 L466.5,49.61 L467.2,50.57 L468.0,51.38 L468.8,52.04 L469.5,52.58 L470.2,53.02 L471.0,53.36 L471.8,53.62 L472.5,53.83 L473.2,54.00 L474.0,54.13 L474.8,54.23 L475.5,54.31 L476.2,54.37 L477.0,54.42 L477.8,54.46 L478.5,54.49 L479.2,54.52 L480.0,54.54 L480.8,54.55 L481.5,54.57 L482.2,54.57 L483.0,54.58 L499.5,54.60" fill="none" stroke="#22285a" stroke-width="0.7" stroke-linejoin="round"/>
<line x1="442.00" y1="54.60" x2="500.50" y2="54.60" stroke="#22285a" stroke-width="0.8" stroke-opacity="0.75"/>
<path d="M442.5,69.20 L446.2,69.18 L447.0,69.18 L447.8,69.17 L448.5,69.16 L449.2,69.15 L450.0,69.14 L450.8,69.12 L451.5,69.10 L452.2,69.06 L453.0,69.00 L453.8,68.89 L454.5,68.70 L455.2,68.36 L456.0,67.80 L456.8,66.89 L457.5,65.54 L458.2,63.70 L459.0,61.46 L459.8,59.11 L460.5,57.18 L461.2,56.60 L462.0,57.04 L462.8,57.83 L463.5,58.82 L464.2,59.91 L465.0,61.03 L465.8,62.10 L466.5,63.10 L467.2,63.99 L468.0,64.78 L468.8,65.48 L469.5,66.07 L470.2,66.57 L471.0,66.99 L471.8,67.34 L472.5,67.62 L473.2,67.86 L474.0,68.06 L474.8,68.23 L475.5,68.37 L476.2,68.49 L477.0,68.59 L477.8,68.68 L478.5,68.76 L479.2,68.83 L480.0,68.89 L480.8,68.94 L481.5,68.99 L482.2,69.02 L483.0,69.06 L483.8,69.08 L484.5,69.11 L485.2,69.12 L486.0,69.14 L486.8,69.15 L487.5,69.16 L488.2,69.17 L489.0,69.18 L489.8,69.18 L499.5,69.20 L500.00,69.20 L442.50,69.20Z" fill="#7880b4" stroke="none"/>
<path d="M442.5,69.20 L446.2,69.18 L447.0,69.18 L447.8,69.17 L448.5,69.16 L449.2,69.15 L450.0,69.14 L450.8,69.12 L451.5,69.10 L452.2,69.06 L453.0,69.00 L453.8,68.89 L454.5,68.70 L455.2,68.36 L456.0,67.80 L456.8,66.89 L457.5,65.54 L458.2,63.70 L459.0,61.46 L459.8,59.11 L460.5,57.18 L461.2,56.60 L462.0,57.04 L462.8,57.83 L463.5,58.82 L464.2,59.91 L465.0,61.03 L465.8,62.10 L466.5,63.10 L467.2,63.99 L468.0,64.78 L468.8,65.48 L469.5,66.07 L470.2,66.57 L471.0,66.99 L471.8,67.34 L472.5,67.62 L473.2,67.86 L474.0,68.06 L474.8,68.23 L475.5,68.37 L476.2,68.49 L477.0,68.59 L477.8,68.68 L478.5,68.76 L479.2,68.83 L480.0,68.89 L480.8,68.94 L481.5,68.99 L482.2,69.02 L483.0,69.06 L483.8,69.08 L484.5,69.11 L485.2,69.12 L486.0,69.14 L486.8,69.15 L487.5,69.16 L488.2,69.17 L489.0,69.18 L489.8,69.18 L499.5,69.20" fill="none" stroke="#22285a" stroke-width="0.7" stroke-linejoin="round"/>
<line x1="442.00" y1="69.20" x2="500.50" y2="69.20" stroke="#22285a" stroke-width="0.8" stroke-opacity="0.75"/>
<path d="M442.5,83.80 L451.5,83.78 L452.2,83.76 L453.0,83.71 L453.8,83.63 L454.5,83.47 L455.2,83.18 L456.0,82.71 L456.8,81.97 L457.5,80.88 L458.2,79.40 L459.0,77.57 L459.8,75.53 L460.5,73.59 L461.2,72.25 L462.0,72.11 L462.8,72.40 L463.5,72.88 L464.2,73.47 L465.0,74.12 L465.8,74.79 L466.5,75.46 L467.2,76.10 L468.0,76.70 L468.8,77.28 L469.5,77.83 L470.2,78.42 L471.0,79.06 L471.8,79.69 L472.5,80.29 L473.2,80.85 L474.0,81.35 L474.8,81.80 L475.5,82.19 L476.2,82.53 L477.0,82.81 L477.8,83.04 L478.5,83.22 L479.2,83.37 L480.0,83.48 L480.8,83.57 L481.5,83.63 L482.2,83.68 L483.0,83.72 L483.8,83.74 L484.5,83.76 L485.2,83.77 L486.0,83.78 L499.5,83.80 L500.00,83.80 L442.50,83.80Z" fill="#7880b4" stroke="none"/>
<path d="M442.5,83.80 L451.5,83.78 L452.2,83.76 L453.0,83.71 L453.8,83.63 L454.5,83.47 L455.2,83.18 L456.0,82.71 L456.8,81.97 L457.5,80.88 L458.2,79.40 L459.0,77.57 L459.8,75.53 L460.5,73.59 L461.2,72.25 L462.0,72.11 L462.8,72.40 L463.5,72.88 L464.2,73.47 L465.0,74.12 L465.8,74.79 L466.5,75.46 L467.2,76.10 L468.0,76.70 L468.8,77.28 L469.5,77.83 L470.2,78.42 L471.0,79.06 L471.8,79.69 L472.5,80.29 L473.2,80.85 L474.0,81.35 L474.8,81.80 L475.5,82.19 L476.2,82.53 L477.0,82.81 L477.8,83.04 L478.5,83.22 L479.2,83.37 L480.0,83.48 L480.8,83.57 L481.5,83.63 L482.2,83.68 L483.0,83.72 L483.8,83.74 L484.5,83.76 L485.2,83.77 L486.0,83.78 L499.5,83.80" fill="none" stroke="#22285a" stroke-width="0.7" stroke-linejoin="round"/>
<line x1="460.50" y1="26.00" x2="460.50" y2="83.80" stroke="#111" stroke-width="1.2" stroke-dasharray="2.6,2.0"/>
<line x1="208.50" y1="25.40" x2="208.50" y2="83.80" stroke="#222" stroke-width="0.9"/>
<line x1="267.20" y1="25.40" x2="267.20" y2="83.80" stroke="#222" stroke-width="0.9"/>
<line x1="325.80" y1="25.40" x2="325.80" y2="83.80" stroke="#222" stroke-width="0.9"/>
<line x1="383.30" y1="25.40" x2="383.30" y2="83.80" stroke="#222" stroke-width="0.9"/>
<line x1="442.00" y1="25.40" x2="442.00" y2="83.80" stroke="#222" stroke-width="0.9"/>
<line x1="500.50" y1="25.40" x2="500.50" y2="83.80" stroke="#222" stroke-width="0.9"/>
<line x1="208.05" y1="25.40" x2="500.95" y2="25.40" stroke="#222" stroke-width="0.9"/>
<line x1="208.05" y1="83.80" x2="500.95" y2="83.80" stroke="#111" stroke-width="1.0"/>
<line x1="212.00" y1="83.80" x2="212.00" y2="85.60" stroke="#222" stroke-width="0.9"/>
<text x="216.00" y="90.10" font-size="6.3" fill="#2a2a2a" text-anchor="end" textLength="13.00" lengthAdjust="spacingAndGlyphs" transform="rotate(-57 216.00 90.10)" stroke="#2a2a2a" stroke-width="0.18">−10³</text>
<line x1="221.70" y1="83.80" x2="221.70" y2="85.60" stroke="#222" stroke-width="0.9"/>
<text x="225.70" y="90.10" font-size="6.3" fill="#2a2a2a" text-anchor="end" textLength="3.40" lengthAdjust="spacingAndGlyphs" transform="rotate(-57 225.70 90.10)" stroke="#2a2a2a" stroke-width="0.18">0</text>
<line x1="231.30" y1="83.80" x2="231.30" y2="85.60" stroke="#222" stroke-width="0.9"/>
<text x="235.30" y="90.10" font-size="6.3" fill="#2a2a2a" text-anchor="end" textLength="10.20" lengthAdjust="spacingAndGlyphs" transform="rotate(-57 235.30 90.10)" stroke="#2a2a2a" stroke-width="0.18">10³</text>
<line x1="247.00" y1="83.80" x2="247.00" y2="85.60" stroke="#222" stroke-width="0.9"/>
<text x="251.00" y="90.10" font-size="6.3" fill="#2a2a2a" text-anchor="end" textLength="10.20" lengthAdjust="spacingAndGlyphs" transform="rotate(-57 251.00 90.10)" stroke="#2a2a2a" stroke-width="0.18">10⁴</text>
<line x1="261.50" y1="83.80" x2="261.50" y2="85.60" stroke="#222" stroke-width="0.9"/>
<text x="265.50" y="90.10" font-size="6.3" fill="#2a2a2a" text-anchor="end" textLength="10.20" lengthAdjust="spacingAndGlyphs" transform="rotate(-57 265.50 90.10)" stroke="#2a2a2a" stroke-width="0.18">10⁵</text>
<line x1="210.00" y1="83.80" x2="210.00" y2="84.90" stroke="#333" stroke-width="0.6"/>
<line x1="214.40" y1="83.80" x2="214.40" y2="84.90" stroke="#333" stroke-width="0.6"/>
<line x1="218.80" y1="83.80" x2="218.80" y2="84.90" stroke="#333" stroke-width="0.6"/>
<line x1="223.20" y1="83.80" x2="223.20" y2="84.90" stroke="#333" stroke-width="0.6"/>
<line x1="227.60" y1="83.80" x2="227.60" y2="84.90" stroke="#333" stroke-width="0.6"/>
<line x1="232.00" y1="83.80" x2="232.00" y2="84.90" stroke="#333" stroke-width="0.6"/>
<line x1="236.40" y1="83.80" x2="236.40" y2="84.90" stroke="#333" stroke-width="0.6"/>
<line x1="240.80" y1="83.80" x2="240.80" y2="84.90" stroke="#333" stroke-width="0.6"/>
<line x1="245.20" y1="83.80" x2="245.20" y2="84.90" stroke="#333" stroke-width="0.6"/>
<line x1="249.60" y1="83.80" x2="249.60" y2="84.90" stroke="#333" stroke-width="0.6"/>
<line x1="254.00" y1="83.80" x2="254.00" y2="84.90" stroke="#333" stroke-width="0.6"/>
<line x1="258.40" y1="83.80" x2="258.40" y2="84.90" stroke="#333" stroke-width="0.6"/>
<line x1="262.80" y1="83.80" x2="262.80" y2="84.90" stroke="#333" stroke-width="0.6"/>
<line x1="270.70" y1="83.80" x2="270.70" y2="85.60" stroke="#222" stroke-width="0.9"/>
<text x="274.70" y="90.10" font-size="6.3" fill="#2a2a2a" text-anchor="end" textLength="13.00" lengthAdjust="spacingAndGlyphs" transform="rotate(-57 274.70 90.10)" stroke="#2a2a2a" stroke-width="0.18">−10³</text>
<line x1="280.40" y1="83.80" x2="280.40" y2="85.60" stroke="#222" stroke-width="0.9"/>
<text x="284.40" y="90.10" font-size="6.3" fill="#2a2a2a" text-anchor="end" textLength="3.40" lengthAdjust="spacingAndGlyphs" transform="rotate(-57 284.40 90.10)" stroke="#2a2a2a" stroke-width="0.18">0</text>
<line x1="290.00" y1="83.80" x2="290.00" y2="85.60" stroke="#222" stroke-width="0.9"/>
<text x="294.00" y="90.10" font-size="6.3" fill="#2a2a2a" text-anchor="end" textLength="10.20" lengthAdjust="spacingAndGlyphs" transform="rotate(-57 294.00 90.10)" stroke="#2a2a2a" stroke-width="0.18">10³</text>
<line x1="305.70" y1="83.80" x2="305.70" y2="85.60" stroke="#222" stroke-width="0.9"/>
<text x="309.70" y="90.10" font-size="6.3" fill="#2a2a2a" text-anchor="end" textLength="10.20" lengthAdjust="spacingAndGlyphs" transform="rotate(-57 309.70 90.10)" stroke="#2a2a2a" stroke-width="0.18">10⁴</text>
<line x1="320.20" y1="83.80" x2="320.20" y2="85.60" stroke="#222" stroke-width="0.9"/>
<text x="324.20" y="90.10" font-size="6.3" fill="#2a2a2a" text-anchor="end" textLength="10.20" lengthAdjust="spacingAndGlyphs" transform="rotate(-57 324.20 90.10)" stroke="#2a2a2a" stroke-width="0.18">10⁵</text>
<line x1="268.70" y1="83.80" x2="268.70" y2="84.90" stroke="#333" stroke-width="0.6"/>
<line x1="273.10" y1="83.80" x2="273.10" y2="84.90" stroke="#333" stroke-width="0.6"/>
<line x1="277.50" y1="83.80" x2="277.50" y2="84.90" stroke="#333" stroke-width="0.6"/>
<line x1="281.90" y1="83.80" x2="281.90" y2="84.90" stroke="#333" stroke-width="0.6"/>
<line x1="286.30" y1="83.80" x2="286.30" y2="84.90" stroke="#333" stroke-width="0.6"/>
<line x1="290.70" y1="83.80" x2="290.70" y2="84.90" stroke="#333" stroke-width="0.6"/>
<line x1="295.10" y1="83.80" x2="295.10" y2="84.90" stroke="#333" stroke-width="0.6"/>
<line x1="299.50" y1="83.80" x2="299.50" y2="84.90" stroke="#333" stroke-width="0.6"/>
<line x1="303.90" y1="83.80" x2="303.90" y2="84.90" stroke="#333" stroke-width="0.6"/>
<line x1="308.30" y1="83.80" x2="308.30" y2="84.90" stroke="#333" stroke-width="0.6"/>
<line x1="312.70" y1="83.80" x2="312.70" y2="84.90" stroke="#333" stroke-width="0.6"/>
<line x1="317.10" y1="83.80" x2="317.10" y2="84.90" stroke="#333" stroke-width="0.6"/>
<line x1="321.50" y1="83.80" x2="321.50" y2="84.90" stroke="#333" stroke-width="0.6"/>
<line x1="329.30" y1="83.80" x2="329.30" y2="85.60" stroke="#222" stroke-width="0.9"/>
<text x="333.30" y="90.10" font-size="6.3" fill="#2a2a2a" text-anchor="end" textLength="13.00" lengthAdjust="spacingAndGlyphs" transform="rotate(-57 333.30 90.10)" stroke="#2a2a2a" stroke-width="0.18">−10³</text>
<line x1="339.00" y1="83.80" x2="339.00" y2="85.60" stroke="#222" stroke-width="0.9"/>
<text x="343.00" y="90.10" font-size="6.3" fill="#2a2a2a" text-anchor="end" textLength="3.40" lengthAdjust="spacingAndGlyphs" transform="rotate(-57 343.00 90.10)" stroke="#2a2a2a" stroke-width="0.18">0</text>
<line x1="348.60" y1="83.80" x2="348.60" y2="85.60" stroke="#222" stroke-width="0.9"/>
<text x="352.60" y="90.10" font-size="6.3" fill="#2a2a2a" text-anchor="end" textLength="10.20" lengthAdjust="spacingAndGlyphs" transform="rotate(-57 352.60 90.10)" stroke="#2a2a2a" stroke-width="0.18">10³</text>
<line x1="364.30" y1="83.80" x2="364.30" y2="85.60" stroke="#222" stroke-width="0.9"/>
<text x="368.30" y="90.10" font-size="6.3" fill="#2a2a2a" text-anchor="end" textLength="10.20" lengthAdjust="spacingAndGlyphs" transform="rotate(-57 368.30 90.10)" stroke="#2a2a2a" stroke-width="0.18">10⁴</text>
<line x1="378.80" y1="83.80" x2="378.80" y2="85.60" stroke="#222" stroke-width="0.9"/>
<text x="382.80" y="90.10" font-size="6.3" fill="#2a2a2a" text-anchor="end" textLength="10.20" lengthAdjust="spacingAndGlyphs" transform="rotate(-57 382.80 90.10)" stroke="#2a2a2a" stroke-width="0.18">10⁵</text>
<line x1="327.30" y1="83.80" x2="327.30" y2="84.90" stroke="#333" stroke-width="0.6"/>
<line x1="331.70" y1="83.80" x2="331.70" y2="84.90" stroke="#333" stroke-width="0.6"/>
<line x1="336.10" y1="83.80" x2="336.10" y2="84.90" stroke="#333" stroke-width="0.6"/>
<line x1="340.50" y1="83.80" x2="340.50" y2="84.90" stroke="#333" stroke-width="0.6"/>
<line x1="344.90" y1="83.80" x2="344.90" y2="84.90" stroke="#333" stroke-width="0.6"/>
<line x1="349.30" y1="83.80" x2="349.30" y2="84.90" stroke="#333" stroke-width="0.6"/>
<line x1="353.70" y1="83.80" x2="353.70" y2="84.90" stroke="#333" stroke-width="0.6"/>
<line x1="358.10" y1="83.80" x2="358.10" y2="84.90" stroke="#333" stroke-width="0.6"/>
<line x1="362.50" y1="83.80" x2="362.50" y2="84.90" stroke="#333" stroke-width="0.6"/>
<line x1="366.90" y1="83.80" x2="366.90" y2="84.90" stroke="#333" stroke-width="0.6"/>
<line x1="371.30" y1="83.80" x2="371.30" y2="84.90" stroke="#333" stroke-width="0.6"/>
<line x1="375.70" y1="83.80" x2="375.70" y2="84.90" stroke="#333" stroke-width="0.6"/>
<line x1="380.10" y1="83.80" x2="380.10" y2="84.90" stroke="#333" stroke-width="0.6"/>
<line x1="386.80" y1="83.80" x2="386.80" y2="85.60" stroke="#222" stroke-width="0.9"/>
<text x="390.80" y="90.10" font-size="6.3" fill="#2a2a2a" text-anchor="end" textLength="13.00" lengthAdjust="spacingAndGlyphs" transform="rotate(-57 390.80 90.10)" stroke="#2a2a2a" stroke-width="0.18">−10³</text>
<line x1="396.50" y1="83.80" x2="396.50" y2="85.60" stroke="#222" stroke-width="0.9"/>
<text x="400.50" y="90.10" font-size="6.3" fill="#2a2a2a" text-anchor="end" textLength="3.40" lengthAdjust="spacingAndGlyphs" transform="rotate(-57 400.50 90.10)" stroke="#2a2a2a" stroke-width="0.18">0</text>
<line x1="406.10" y1="83.80" x2="406.10" y2="85.60" stroke="#222" stroke-width="0.9"/>
<text x="410.10" y="90.10" font-size="6.3" fill="#2a2a2a" text-anchor="end" textLength="10.20" lengthAdjust="spacingAndGlyphs" transform="rotate(-57 410.10 90.10)" stroke="#2a2a2a" stroke-width="0.18">10³</text>
<line x1="421.80" y1="83.80" x2="421.80" y2="85.60" stroke="#222" stroke-width="0.9"/>
<text x="425.80" y="90.10" font-size="6.3" fill="#2a2a2a" text-anchor="end" textLength="10.20" lengthAdjust="spacingAndGlyphs" transform="rotate(-57 425.80 90.10)" stroke="#2a2a2a" stroke-width="0.18">10⁴</text>
<line x1="436.30" y1="83.80" x2="436.30" y2="85.60" stroke="#222" stroke-width="0.9"/>
<text x="440.30" y="90.10" font-size="6.3" fill="#2a2a2a" text-anchor="end" textLength="10.20" lengthAdjust="spacingAndGlyphs" transform="rotate(-57 440.30 90.10)" stroke="#2a2a2a" stroke-width="0.18">10⁵</text>
<line x1="384.80" y1="83.80" x2="384.80" y2="84.90" stroke="#333" stroke-width="0.6"/>
<line x1="389.20" y1="83.80" x2="389.20" y2="84.90" stroke="#333" stroke-width="0.6"/>
<line x1="393.60" y1="83.80" x2="393.60" y2="84.90" stroke="#333" stroke-width="0.6"/>
<line x1="398.00" y1="83.80" x2="398.00" y2="84.90" stroke="#333" stroke-width="0.6"/>
<line x1="402.40" y1="83.80" x2="402.40" y2="84.90" stroke="#333" stroke-width="0.6"/>
<line x1="406.80" y1="83.80" x2="406.80" y2="84.90" stroke="#333" stroke-width="0.6"/>
<line x1="411.20" y1="83.80" x2="411.20" y2="84.90" stroke="#333" stroke-width="0.6"/>
<line x1="415.60" y1="83.80" x2="415.60" y2="84.90" stroke="#333" stroke-width="0.6"/>
<line x1="420.00" y1="83.80" x2="420.00" y2="84.90" stroke="#333" stroke-width="0.6"/>
<line x1="424.40" y1="83.80" x2="424.40" y2="84.90" stroke="#333" stroke-width="0.6"/>
<line x1="428.80" y1="83.80" x2="428.80" y2="84.90" stroke="#333" stroke-width="0.6"/>
<line x1="433.20" y1="83.80" x2="433.20" y2="84.90" stroke="#333" stroke-width="0.6"/>
<line x1="437.60" y1="83.80" x2="437.60" y2="84.90" stroke="#333" stroke-width="0.6"/>
<line x1="445.50" y1="83.80" x2="445.50" y2="85.60" stroke="#222" stroke-width="0.9"/>
<text x="449.50" y="90.10" font-size="6.3" fill="#2a2a2a" text-anchor="end" textLength="13.00" lengthAdjust="spacingAndGlyphs" transform="rotate(-57 449.50 90.10)" stroke="#2a2a2a" stroke-width="0.18">−10³</text>
<line x1="455.20" y1="83.80" x2="455.20" y2="85.60" stroke="#222" stroke-width="0.9"/>
<text x="459.20" y="90.10" font-size="6.3" fill="#2a2a2a" text-anchor="end" textLength="3.40" lengthAdjust="spacingAndGlyphs" transform="rotate(-57 459.20 90.10)" stroke="#2a2a2a" stroke-width="0.18">0</text>
<line x1="464.80" y1="83.80" x2="464.80" y2="85.60" stroke="#222" stroke-width="0.9"/>
<text x="468.80" y="90.10" font-size="6.3" fill="#2a2a2a" text-anchor="end" textLength="10.20" lengthAdjust="spacingAndGlyphs" transform="rotate(-57 468.80 90.10)" stroke="#2a2a2a" stroke-width="0.18">10³</text>
<line x1="480.50" y1="83.80" x2="480.50" y2="85.60" stroke="#222" stroke-width="0.9"/>
<text x="484.50" y="90.10" font-size="6.3" fill="#2a2a2a" text-anchor="end" textLength="10.20" lengthAdjust="spacingAndGlyphs" transform="rotate(-57 484.50 90.10)" stroke="#2a2a2a" stroke-width="0.18">10⁴</text>
<line x1="495.00" y1="83.80" x2="495.00" y2="85.60" stroke="#222" stroke-width="0.9"/>
<text x="499.00" y="90.10" font-size="6.3" fill="#2a2a2a" text-anchor="end" textLength="10.20" lengthAdjust="spacingAndGlyphs" transform="rotate(-57 499.00 90.10)" stroke="#2a2a2a" stroke-width="0.18">10⁵</text>
<line x1="443.50" y1="83.80" x2="443.50" y2="84.90" stroke="#333" stroke-width="0.6"/>
<line x1="447.90" y1="83.80" x2="447.90" y2="84.90" stroke="#333" stroke-width="0.6"/>
<line x1="452.30" y1="83.80" x2="452.30" y2="84.90" stroke="#333" stroke-width="0.6"/>
<line x1="456.70" y1="83.80" x2="456.70" y2="84.90" stroke="#333" stroke-width="0.6"/>
<line x1="461.10" y1="83.80" x2="461.10" y2="84.90" stroke="#333" stroke-width="0.6"/>
<line x1="465.50" y1="83.80" x2="465.50" y2="84.90" stroke="#333" stroke-width="0.6"/>
<line x1="469.90" y1="83.80" x2="469.90" y2="84.90" stroke="#333" stroke-width="0.6"/>
<line x1="474.30" y1="83.80" x2="474.30" y2="84.90" stroke="#333" stroke-width="0.6"/>
<line x1="478.70" y1="83.80" x2="478.70" y2="84.90" stroke="#333" stroke-width="0.6"/>
<line x1="483.10" y1="83.80" x2="483.10" y2="84.90" stroke="#333" stroke-width="0.6"/>
<line x1="487.50" y1="83.80" x2="487.50" y2="84.90" stroke="#333" stroke-width="0.6"/>
<line x1="491.90" y1="83.80" x2="491.90" y2="84.90" stroke="#333" stroke-width="0.6"/>
<line x1="496.30" y1="83.80" x2="496.30" y2="84.90" stroke="#333" stroke-width="0.6"/>
<line x1="211.50" y1="104.50" x2="490.80" y2="104.50" stroke="#222" stroke-width="1.4"/>
<path d="M495.40,104.50 L488.40,107.50 L490.50,104.50 L488.40,101.50Z" fill="#222"/>
<text x="6.90" y="117.30" font-size="11.8" fill="#000" font-weight="bold">C</text>
<line x1="50.00" y1="121.50" x2="50.00" y2="219.80" stroke="#222" stroke-width="1.1"/>
<line x1="50.00" y1="219.80" x2="118.50" y2="219.80" stroke="#222" stroke-width="1.1"/>
<line x1="47.00" y1="219.80" x2="50.00" y2="219.80" stroke="#222" stroke-width="0.9"/>
<text x="45.60" y="222.10" font-size="6.5" fill="#333" text-anchor="end" textLength="3.39" lengthAdjust="spacingAndGlyphs" stroke="#333" stroke-width="0.14">1</text>
<line x1="48.90" y1="210.00" x2="50.00" y2="210.00" stroke="#222" stroke-width="0.5"/>
<line x1="48.90" y1="204.27" x2="50.00" y2="204.27" stroke="#222" stroke-width="0.5"/>
<line x1="48.90" y1="200.20" x2="50.00" y2="200.20" stroke="#222" stroke-width="0.5"/>
<line x1="48.90" y1="197.05" x2="50.00" y2="197.05" stroke="#222" stroke-width="0.5"/>
<line x1="48.90" y1="194.47" x2="50.00" y2="194.47" stroke="#222" stroke-width="0.5"/>
<line x1="48.90" y1="192.29" x2="50.00" y2="192.29" stroke="#222" stroke-width="0.5"/>
<line x1="48.90" y1="190.40" x2="50.00" y2="190.40" stroke="#222" stroke-width="0.5"/>
<line x1="48.90" y1="188.74" x2="50.00" y2="188.74" stroke="#222" stroke-width="0.5"/>
<line x1="47.00" y1="187.25" x2="50.00" y2="187.25" stroke="#222" stroke-width="0.9"/>
<text x="45.60" y="189.55" font-size="6.5" fill="#333" text-anchor="end" textLength="6.78" lengthAdjust="spacingAndGlyphs" stroke="#333" stroke-width="0.14">10</text>
<line x1="48.90" y1="177.45" x2="50.00" y2="177.45" stroke="#222" stroke-width="0.5"/>
<line x1="48.90" y1="171.72" x2="50.00" y2="171.72" stroke="#222" stroke-width="0.5"/>
<line x1="48.90" y1="167.65" x2="50.00" y2="167.65" stroke="#222" stroke-width="0.5"/>
<line x1="48.90" y1="164.50" x2="50.00" y2="164.50" stroke="#222" stroke-width="0.5"/>
<line x1="48.90" y1="161.92" x2="50.00" y2="161.92" stroke="#222" stroke-width="0.5"/>
<line x1="48.90" y1="159.74" x2="50.00" y2="159.74" stroke="#222" stroke-width="0.5"/>
<line x1="48.90" y1="157.85" x2="50.00" y2="157.85" stroke="#222" stroke-width="0.5"/>
<line x1="48.90" y1="156.19" x2="50.00" y2="156.19" stroke="#222" stroke-width="0.5"/>
<line x1="47.00" y1="154.70" x2="50.00" y2="154.70" stroke="#222" stroke-width="0.9"/>
<text x="45.60" y="157.00" font-size="6.5" fill="#333" text-anchor="end" textLength="10.18" lengthAdjust="spacingAndGlyphs" stroke="#333" stroke-width="0.14">100</text>
<line x1="48.90" y1="144.90" x2="50.00" y2="144.90" stroke="#222" stroke-width="0.5"/>
<line x1="48.90" y1="139.17" x2="50.00" y2="139.17" stroke="#222" stroke-width="0.5"/>
<line x1="48.90" y1="135.10" x2="50.00" y2="135.10" stroke="#222" stroke-width="0.5"/>
<line x1="48.90" y1="131.95" x2="50.00" y2="131.95" stroke="#222" stroke-width="0.5"/>
<line x1="48.90" y1="129.37" x2="50.00" y2="129.37" stroke="#222" stroke-width="0.5"/>
<line x1="48.90" y1="127.19" x2="50.00" y2="127.19" stroke="#222" stroke-width="0.5"/>
<line x1="48.90" y1="125.30" x2="50.00" y2="125.30" stroke="#222" stroke-width="0.5"/>
<line x1="48.90" y1="123.64" x2="50.00" y2="123.64" stroke="#222" stroke-width="0.5"/>
<line x1="47.00" y1="122.15" x2="50.00" y2="122.15" stroke="#222" stroke-width="0.9"/>
<text x="45.60" y="124.45" font-size="6.5" fill="#333" text-anchor="end" textLength="13.57" lengthAdjust="spacingAndGlyphs" stroke="#333" stroke-width="0.14">1000</text>
<line x1="50.00" y1="219.80" x2="50.00" y2="222.40" stroke="#222" stroke-width="0.9"/>
<text x="50.00" y="231.70" font-size="6.5" fill="#333" text-anchor="middle" textLength="3.39" lengthAdjust="spacingAndGlyphs" stroke="#333" stroke-width="0.14">0</text>
<line x1="83.04" y1="219.80" x2="83.04" y2="222.40" stroke="#222" stroke-width="0.9"/>
<text x="83.04" y="231.70" font-size="6.5" fill="#333" text-anchor="middle" textLength="3.39" lengthAdjust="spacingAndGlyphs" stroke="#333" stroke-width="0.14">7</text>
<line x1="116.08" y1="219.80" x2="116.08" y2="222.40" stroke="#222" stroke-width="0.9"/>
<text x="116.08" y="231.70" font-size="6.5" fill="#333" text-anchor="middle" textLength="6.78" lengthAdjust="spacingAndGlyphs" stroke="#333" stroke-width="0.14">14</text>
<text x="76.00" y="243.08" font-size="6.9" fill="#333" textLength="12.00" lengthAdjust="spacingAndGlyphs" stroke="#333" stroke-width="0.14">Days</text>
<text x="25.80" y="172.50" font-size="7.4" fill="#3a3a3a" text-anchor="middle" textLength="77.00" lengthAdjust="spacingAndGlyphs" transform="rotate(-90 25.80 172.50)" stroke="#3a3a3a" stroke-width="0.14">Cumulative fold change</text>
<polyline points="50.00,219.80 83.04,182.50 116.08,146.80" fill="none" stroke="#3b2754" stroke-width="1.1"/>
<polyline points="50.00,219.80 83.04,185.00 116.08,155.00" fill="none" stroke="#7aaee0" stroke-width="1.1"/>
<polyline points="50.00,219.80 83.04,184.00 116.08,161.00" fill="none" stroke="#6aae3e" stroke-width="1.1"/>
<polyline points="50.00,219.80 83.04,187.50 116.08,173.80" fill="none" stroke="#2c4a86" stroke-width="1.1"/>
<path d="M47.24,217.96 L52.76,217.96 L50.00,222.33Z" fill="#3b2754"/>
<path d="M80.28,180.66 L85.80,180.66 L83.04,185.03Z" fill="#3b2754"/>
<path d="M113.32,144.96 L118.84,144.96 L116.08,149.33Z" fill="#3b2754"/>
<circle cx="50.00" cy="219.80" r="2.18" fill="#fff" fill-opacity="0.5" stroke="#7aaee0" stroke-width="1"/>
<circle cx="83.04" cy="185.00" r="2.18" fill="#fff" fill-opacity="0.5" stroke="#7aaee0" stroke-width="1"/>
<circle cx="116.08" cy="155.00" r="2.18" fill="#fff" fill-opacity="0.5" stroke="#7aaee0" stroke-width="1"/>
<path d="M47.24,221.64 L52.76,221.64 L50.00,217.27Z" fill="#6aae3e"/>
<path d="M80.28,185.84 L85.80,185.84 L83.04,181.47Z" fill="#6aae3e"/>
<path d="M113.32,162.84 L118.84,162.84 L116.08,158.47Z" fill="#6aae3e"/>
<rect x="47.70" y="217.50" width="4.60" height="4.60" fill="#2c4a86"/>
<rect x="80.74" y="185.20" width="4.60" height="4.60" fill="#2c4a86"/>
<rect x="113.78" y="171.50" width="4.60" height="4.60" fill="#2c4a86"/>
<line x1="57.10" y1="122.80" x2="65.60" y2="122.80" stroke="#3b2754" stroke-width="1.1"/>
<path d="M59.00,121.20 L63.80,121.20 L61.40,125.00Z" fill="#3b2754"/>
<text x="69.80" y="125.25" font-size="6.8" fill="#333" textLength="31.80" lengthAdjust="spacingAndGlyphs" stroke="#333" stroke-width="0.14">TRAC-CAR</text>
<line x1="57.10" y1="133.30" x2="65.60" y2="133.30" stroke="#7aaee0" stroke-width="1.1"/>
<circle cx="61.40" cy="133.30" r="1.90" fill="#fff" fill-opacity="0.5" stroke="#7aaee0" stroke-width="1"/>
<text x="69.80" y="135.75" font-size="6.8" fill="#333" textLength="33.30" lengthAdjust="spacingAndGlyphs" stroke="#333" stroke-width="0.14">GSH 1-CAR</text>
<line x1="57.10" y1="143.60" x2="65.60" y2="143.60" stroke="#6aae3e" stroke-width="1.1"/>
<path d="M59.00,145.20 L63.80,145.20 L61.40,141.40Z" fill="#6aae3e"/>
<text x="69.80" y="146.05" font-size="6.8" fill="#333" textLength="33.30" lengthAdjust="spacingAndGlyphs" stroke="#333" stroke-width="0.14">GSH 2-CAR</text>
<line x1="57.10" y1="154.00" x2="65.60" y2="154.00" stroke="#2c4a86" stroke-width="1.1"/>
<rect x="59.40" y="152.00" width="4.00" height="4.00" fill="#2c4a86"/>
<text x="69.80" y="156.45" font-size="6.8" fill="#333" textLength="33.30" lengthAdjust="spacingAndGlyphs" stroke="#333" stroke-width="0.14">GSH 3-CAR</text>
<text x="134.30" y="117.10" font-size="11.8" fill="#000" font-weight="bold">D</text>
<line x1="146.80" y1="126.00" x2="146.80" y2="139.00" stroke="#222" stroke-width="1.3"/>
<line x1="146.80" y1="133.20" x2="186.00" y2="133.20" stroke="#333" stroke-width="1.1"/>
<text x="153.00" y="130.70" font-size="5.0" fill="#444" textLength="12.00" lengthAdjust="spacingAndGlyphs" stroke="#444" stroke-width="0.14">LHA</text>
<path d="M185,127.6 L209.5,127.6 L209.5,122.2 L218.8,133.2 L209.5,144.4 L209.5,138.8 L185,138.8Z" fill="#58a02e" stroke="#2f6a18" stroke-width="0.7"/>
<text x="193.20" y="135.43" font-size="6.2" fill="#14280a" textLength="8.30" lengthAdjust="spacingAndGlyphs" stroke="#14280a" stroke-width="0.14">C1</text>
<rect x="218.8" y="127.6" width="34.2" height="11.2" fill="#8c8cc0" stroke="#4a4a7a" stroke-width="0.7"/>
<text x="226.00" y="135.14" font-size="5.4" fill="#333" textLength="19.00" lengthAdjust="spacingAndGlyphs" stroke="#333" stroke-width="0.14">EF1αp</text>
<path d="M253,127.6 L297.5,127.6 L297.5,123 L314.6,133.2 L297.5,143.6 L297.5,138.8 L253,138.8Z" fill="#a4c4ee" stroke="#4a5c88" stroke-width="0.7"/>
<text x="259.50" y="135.22" font-size="5.6" fill="#333" textLength="41.20" lengthAdjust="spacingAndGlyphs" stroke="#333" stroke-width="0.14">1928z1xx CAR</text>
<path d="M253.1,127.6 L253.1,119.6 Q253.1,118.4 254.3,118.4 L257,118.4" fill="none" stroke="#444" stroke-width="1.0"/>
<path d="M261.8,118.4 L254.4,115.5 L256.4,118.4 L254.4,121.3Z" fill="#111"/>
<rect x="315" y="126.8" width="26.3" height="13.2" fill="#c64a98" stroke="#6a1a50" stroke-width="0.7"/>
<text x="316.30" y="135.34" font-size="5.4" fill="#3a0a2a" textLength="23.90" lengthAdjust="spacingAndGlyphs" stroke="#3a0a2a" stroke-width="0.14">bGH pA</text>
<path d="M375.5,127.6 L352,127.6 L352,122.2 L341.4,133.4 L352,144.8 L352,139.4 L375.5,139.4Z" fill="#58a02e" stroke="#2f6a18" stroke-width="0.7"/>
<text x="355.60" y="135.63" font-size="6.2" fill="#14280a" textLength="8.40" lengthAdjust="spacingAndGlyphs" stroke="#14280a" stroke-width="0.14">C1</text>
<line x1="375.50" y1="133.60" x2="412.60" y2="133.60" stroke="#333" stroke-width="1.1"/>
<line x1="412.60" y1="126.00" x2="412.60" y2="140.00" stroke="#222" stroke-width="1.3"/>
<text x="383.80" y="130.80" font-size="5.0" fill="#444" textLength="13.20" lengthAdjust="spacingAndGlyphs" stroke="#444" stroke-width="0.14">RHA</text>
<text x="8.60" y="250.50" font-size="11.8" fill="#000" font-weight="bold">E</text>
<text x="17.00" y="263.01" font-size="6.7" fill="#333" textLength="11.80" lengthAdjust="spacingAndGlyphs" stroke="#333" stroke-width="0.14">Day</text>
<text x="53.80" y="261.21" font-size="6.7" fill="#333" textLength="8.70" lengthAdjust="spacingAndGlyphs" stroke="#333" stroke-width="0.14">UT</text>
<text x="98.80" y="261.21" font-size="6.7" fill="#333" textLength="36.20" lengthAdjust="spacingAndGlyphs" stroke="#333" stroke-width="0.14">TRAC-CAR</text>
<text x="159.50" y="261.21" font-size="6.7" fill="#333" textLength="38.50" lengthAdjust="spacingAndGlyphs" stroke="#333" stroke-width="0.14">GSH 2-CAR</text>
<text x="217.70" y="261.21" font-size="6.7" fill="#333" textLength="39.60" lengthAdjust="spacingAndGlyphs" stroke="#333" stroke-width="0.14">GSH 3-CAR</text>
<text x="285.00" y="261.21" font-size="6.7" fill="#333" textLength="13.80" lengthAdjust="spacingAndGlyphs" stroke="#333" stroke-width="0.14">– C1</text>
<text x="353.80" y="261.21" font-size="6.7" fill="#333" textLength="16.20" lengthAdjust="spacingAndGlyphs" stroke="#333" stroke-width="0.14">+ C1</text>
<text x="317.50" y="249.82" font-size="7.0" fill="#333" textLength="23.80" lengthAdjust="spacingAndGlyphs" stroke="#333" stroke-width="0.14">GSH 1</text>
<line x1="270.00" y1="253.20" x2="388.80" y2="253.20" stroke="#444" stroke-width="1.0"/>
<text x="29.00" y="278.05" font-size="6.9" fill="#333" text-anchor="end" stroke="#333" stroke-width="0.14">0</text>
<text x="29.00" y="290.55" font-size="6.9" fill="#333" text-anchor="end" stroke="#333" stroke-width="0.14">+5</text>
<text x="29.00" y="302.35" font-size="6.9" fill="#333" text-anchor="end" stroke="#333" stroke-width="0.14">+7</text>
<text x="29.00" y="314.95" font-size="6.9" fill="#333" text-anchor="end" stroke="#333" stroke-width="0.14">+14</text>
<path d="M32.2,276.90 L38.2,276.89 L39.0,276.86 L39.7,276.80 L40.5,276.64 L41.2,276.29 L42.0,275.59 L42.7,274.38 L43.5,272.54 L44.2,270.21 L45.0,267.96 L45.7,266.99 L46.5,268.50 L47.2,270.86 L48.0,273.09 L48.7,274.76 L49.5,275.82 L50.2,276.41 L51.0,276.70 L51.7,276.82 L52.5,276.87 L53.2,276.89 L90.7,276.90 L90.80,276.90 L32.20,276.90Z" fill="#d27a70" stroke="none"/>
<path d="M32.2,276.90 L38.2,276.89 L39.0,276.86 L39.7,276.80 L40.5,276.64 L41.2,276.29 L42.0,275.59 L42.7,274.38 L43.5,272.54 L44.2,270.21 L45.0,267.96 L45.7,266.99 L46.5,268.50 L47.2,270.86 L48.0,273.09 L48.7,274.76 L49.5,275.82 L50.2,276.41 L51.0,276.70 L51.7,276.82 L52.5,276.87 L53.2,276.89 L90.7,276.90" fill="none" stroke="#7c2c2c" stroke-width="0.7" stroke-linejoin="round"/>
<line x1="31.70" y1="276.90" x2="91.30" y2="276.90" stroke="#7c2c2c" stroke-width="0.8" stroke-opacity="0.75"/>
<path d="M32.2,289.20 L37.5,289.19 L38.2,289.16 L39.0,289.10 L39.7,288.97 L40.5,288.70 L41.2,288.19 L42.0,287.31 L42.7,285.97 L43.5,284.14 L44.2,282.01 L45.0,280.09 L45.7,279.28 L46.5,280.54 L47.2,282.59 L48.0,284.67 L48.7,286.37 L49.5,287.59 L50.2,288.35 L51.0,288.79 L51.7,289.01 L52.5,289.12 L53.2,289.17 L54.0,289.19 L90.7,289.20 L90.80,289.20 L32.20,289.20Z" fill="#d27a70" stroke="none"/>
<path d="M32.2,289.20 L37.5,289.19 L38.2,289.16 L39.0,289.10 L39.7,288.97 L40.5,288.70 L41.2,288.19 L42.0,287.31 L42.7,285.97 L43.5,284.14 L44.2,282.01 L45.0,280.09 L45.7,279.28 L46.5,280.54 L47.2,282.59 L48.0,284.67 L48.7,286.37 L49.5,287.59 L50.2,288.35 L51.0,288.79 L51.7,289.01 L52.5,289.12 L53.2,289.17 L54.0,289.19 L90.7,289.20" fill="none" stroke="#7c2c2c" stroke-width="0.7" stroke-linejoin="round"/>
<line x1="31.70" y1="289.20" x2="91.30" y2="289.20" stroke="#7c2c2c" stroke-width="0.8" stroke-opacity="0.75"/>
<path d="M32.2,301.40 L36.0,301.39 L36.7,301.37 L37.5,301.34 L38.2,301.27 L39.0,301.14 L39.7,300.91 L40.5,300.53 L41.2,299.93 L42.0,299.04 L42.7,297.83 L43.5,296.32 L44.2,294.63 L45.0,293.02 L45.7,291.90 L46.5,292.06 L47.2,293.32 L48.0,294.97 L48.7,296.64 L49.5,298.10 L50.2,299.25 L51.0,300.07 L51.7,300.62 L52.5,300.97 L53.2,301.17 L54.0,301.29 L54.7,301.35 L55.5,301.38 L56.2,301.39 L90.7,301.40 L90.80,301.40 L32.20,301.40Z" fill="#d27a70" stroke="none"/>
<path d="M32.2,301.40 L36.0,301.39 L36.7,301.37 L37.5,301.34 L38.2,301.27 L39.0,301.14 L39.7,300.91 L40.5,300.53 L41.2,299.93 L42.0,299.04 L42.7,297.83 L43.5,296.32 L44.2,294.63 L45.0,293.02 L45.7,291.90 L46.5,292.06 L47.2,293.32 L48.0,294.97 L48.7,296.64 L49.5,298.10 L50.2,299.25 L51.0,300.07 L51.7,300.62 L52.5,300.97 L53.2,301.17 L54.0,301.29 L54.7,301.35 L55.5,301.38 L56.2,301.39 L90.7,301.40" fill="none" stroke="#7c2c2c" stroke-width="0.7" stroke-linejoin="round"/>
<line x1="31.70" y1="301.40" x2="91.30" y2="301.40" stroke="#7c2c2c" stroke-width="0.8" stroke-opacity="0.75"/>
<path d="M32.2,313.70 L38.2,313.68 L39.0,313.65 L39.7,313.59 L40.5,313.44 L41.2,313.14 L42.0,312.60 L42.7,311.68 L43.5,310.29 L44.2,308.46 L45.0,306.42 L45.7,304.70 L46.5,304.34 L47.2,305.78 L48.0,307.79 L48.7,309.73 L49.5,311.27 L50.2,312.34 L51.0,312.99 L51.7,313.36 L52.5,313.55 L53.2,313.64 L54.0,313.68 L54.7,313.69 L90.7,313.70 L90.80,313.70 L32.20,313.70Z" fill="#d27a70" stroke="none"/>
<path d="M32.2,313.70 L38.2,313.68 L39.0,313.65 L39.7,313.59 L40.5,313.44 L41.2,313.14 L42.0,312.60 L42.7,311.68 L43.5,310.29 L44.2,308.46 L45.0,306.42 L45.7,304.70 L46.5,304.34 L47.2,305.78 L48.0,307.79 L48.7,309.73 L49.5,311.27 L50.2,312.34 L51.0,312.99 L51.7,313.36 L52.5,313.55 L53.2,313.64 L54.0,313.68 L54.7,313.69 L90.7,313.70" fill="none" stroke="#7c2c2c" stroke-width="0.7" stroke-linejoin="round"/>
<line x1="53.80" y1="265.20" x2="53.80" y2="313.70" stroke="#111" stroke-width="1.2" stroke-dasharray="2.6,2.0"/>
<path d="M91.8,276.89 L93.3,276.88 L94.0,276.88 L94.8,276.87 L95.5,276.87 L96.3,276.86 L97.0,276.85 L97.8,276.84 L98.5,276.82 L99.3,276.81 L100.0,276.79 L100.8,276.77 L101.5,276.75 L102.3,276.72 L103.0,276.69 L103.8,276.65 L104.5,276.62 L105.3,276.57 L106.0,276.52 L106.8,276.47 L107.5,276.42 L108.3,276.36 L109.0,276.29 L109.8,276.22 L110.5,276.15 L111.3,276.08 L112.0,276.01 L112.8,275.94 L113.5,275.86 L114.3,275.79 L115.0,275.72 L115.8,275.65 L116.5,275.59 L117.3,275.52 L118.0,275.46 L118.8,275.39 L119.5,275.31 L120.3,275.19 L121.0,275.00 L121.8,274.74 L122.5,274.39 L123.3,273.91 L124.0,273.29 L124.8,272.54 L125.5,271.65 L126.3,270.64 L127.0,269.58 L127.8,268.52 L128.6,267.57 L129.3,266.86 L130.1,266.58 L130.8,267.00 L131.6,267.78 L132.3,268.77 L133.1,269.86 L133.8,270.97 L134.6,272.02 L135.3,272.98 L136.1,273.82 L136.8,274.53 L137.6,275.11 L138.3,275.58 L139.1,275.94 L139.8,276.22 L140.6,276.42 L141.3,276.57 L142.1,276.68 L142.8,276.75 L143.6,276.80 L144.3,276.83 L145.1,276.86 L145.8,276.87 L146.6,276.88 L150.3,276.90 L150.80,276.90 L91.80,276.90Z" fill="#8c6aa8" stroke="none"/>
<path d="M91.8,276.89 L93.3,276.88 L94.0,276.88 L94.8,276.87 L95.5,276.87 L96.3,276.86 L97.0,276.85 L97.8,276.84 L98.5,276.82 L99.3,276.81 L100.0,276.79 L100.8,276.77 L101.5,276.75 L102.3,276.72 L103.0,276.69 L103.8,276.65 L104.5,276.62 L105.3,276.57 L106.0,276.52 L106.8,276.47 L107.5,276.42 L108.3,276.36 L109.0,276.29 L109.8,276.22 L110.5,276.15 L111.3,276.08 L112.0,276.01 L112.8,275.94 L113.5,275.86 L114.3,275.79 L115.0,275.72 L115.8,275.65 L116.5,275.59 L117.3,275.52 L118.0,275.46 L118.8,275.39 L119.5,275.31 L120.3,275.19 L121.0,275.00 L121.8,274.74 L122.5,274.39 L123.3,273.91 L124.0,273.29 L124.8,272.54 L125.5,271.65 L126.3,270.64 L127.0,269.58 L127.8,268.52 L128.6,267.57 L129.3,266.86 L130.1,266.58 L130.8,267.00 L131.6,267.78 L132.3,268.77 L133.1,269.86 L133.8,270.97 L134.6,272.02 L135.3,272.98 L136.1,273.82 L136.8,274.53 L137.6,275.11 L138.3,275.58 L139.1,275.94 L139.8,276.22 L140.6,276.42 L141.3,276.57 L142.1,276.68 L142.8,276.75 L143.6,276.80 L144.3,276.83 L145.1,276.86 L145.8,276.87 L146.6,276.88 L150.3,276.90" fill="none" stroke="#3a2450" stroke-width="0.7" stroke-linejoin="round"/>
<line x1="91.30" y1="276.90" x2="151.30" y2="276.90" stroke="#3a2450" stroke-width="0.8" stroke-opacity="0.75"/>
<path d="M91.8,289.16 L92.5,289.15 L93.3,289.14 L94.0,289.13 L94.8,289.12 L95.5,289.10 L96.3,289.08 L97.0,289.06 L97.8,289.04 L98.5,289.01 L99.3,288.98 L100.0,288.94 L100.8,288.90 L101.5,288.86 L102.3,288.81 L103.0,288.75 L103.8,288.70 L104.5,288.64 L105.3,288.57 L106.0,288.50 L106.8,288.43 L107.5,288.36 L108.3,288.29 L109.0,288.21 L109.8,288.14 L110.5,288.07 L111.3,288.00 L112.0,287.94 L112.8,287.87 L113.5,287.80 L114.3,287.72 L115.0,287.63 L115.8,287.49 L116.5,287.29 L117.3,286.98 L118.0,286.55 L118.8,285.95 L119.5,285.19 L120.3,284.24 L121.0,283.14 L121.8,281.93 L122.5,280.73 L123.3,279.66 L124.0,278.92 L124.8,278.86 L125.5,279.43 L126.3,280.31 L127.0,281.35 L127.8,282.46 L128.6,283.56 L129.3,284.60 L130.1,285.53 L130.8,286.33 L131.6,287.00 L132.3,287.55 L133.1,287.99 L133.8,288.32 L134.6,288.57 L135.3,288.76 L136.1,288.90 L136.8,288.99 L137.6,289.06 L138.3,289.11 L139.1,289.14 L139.8,289.16 L140.6,289.17 L141.3,289.18 L150.3,289.20 L150.80,289.20 L91.80,289.20Z" fill="#8c6aa8" stroke="none"/>
<path d="M91.8,289.16 L92.5,289.15 L93.3,289.14 L94.0,289.13 L94.8,289.12 L95.5,289.10 L96.3,289.08 L97.0,289.06 L97.8,289.04 L98.5,289.01 L99.3,288.98 L100.0,288.94 L100.8,288.90 L101.5,288.86 L102.3,288.81 L103.0,288.75 L103.8,288.70 L104.5,288.64 L105.3,288.57 L106.0,288.50 L106.8,288.43 L107.5,288.36 L108.3,288.29 L109.0,288.21 L109.8,288.14 L110.5,288.07 L111.3,288.00 L112.0,287.94 L112.8,287.87 L113.5,287.80 L114.3,287.72 L115.0,287.63 L115.8,287.49 L116.5,287.29 L117.3,286.98 L118.0,286.55 L118.8,285.95 L119.5,285.19 L120.3,284.24 L121.0,283.14 L121.8,281.93 L122.5,280.73 L123.3,279.66 L124.0,278.92 L124.8,278.86 L125.5,279.43 L126.3,280.31 L127.0,281.35 L127.8,282.46 L128.6,283.56 L129.3,284.60 L130.1,285.53 L130.8,286.33 L131.6,287.00 L132.3,287.55 L133.1,287.99 L133.8,288.32 L134.6,288.57 L135.3,288.76 L136.1,288.90 L136.8,288.99 L137.6,289.06 L138.3,289.11 L139.1,289.14 L139.8,289.16 L140.6,289.17 L141.3,289.18 L150.3,289.20" fill="none" stroke="#3a2450" stroke-width="0.7" stroke-linejoin="round"/>
<line x1="91.30" y1="289.20" x2="151.30" y2="289.20" stroke="#3a2450" stroke-width="0.8" stroke-opacity="0.75"/>
<path d="M91.8,301.37 L92.5,301.37 L93.3,301.36 L94.0,301.35 L94.8,301.34 L95.5,301.32 L96.3,301.31 L97.0,301.29 L97.8,301.27 L98.5,301.25 L99.3,301.22 L100.0,301.19 L100.8,301.16 L101.5,301.12 L102.3,301.07 L103.0,301.03 L103.8,300.98 L104.5,300.92 L105.3,300.86 L106.0,300.80 L106.8,300.73 L107.5,300.66 L108.3,300.59 L109.0,300.52 L109.8,300.45 L110.5,300.38 L111.3,300.31 L112.0,300.24 L112.8,300.18 L113.5,300.13 L114.3,300.07 L115.0,300.02 L115.8,299.98 L116.5,299.92 L117.3,299.82 L118.0,299.65 L118.8,299.40 L119.5,299.03 L120.3,298.51 L121.0,297.82 L121.8,296.95 L122.5,295.91 L123.3,294.75 L124.0,293.54 L124.8,292.40 L125.5,291.51 L126.3,291.11 L127.0,291.55 L127.8,292.42 L128.6,293.51 L129.3,294.70 L130.1,295.89 L130.8,296.99 L131.6,297.97 L132.3,298.79 L133.1,299.47 L133.8,300.00 L134.6,300.41 L135.3,300.71 L136.1,300.93 L136.8,301.08 L137.6,301.19 L138.3,301.26 L139.1,301.31 L139.8,301.34 L140.6,301.36 L141.3,301.37 L142.1,301.38 L150.3,301.40 L150.80,301.40 L91.80,301.40Z" fill="#8c6aa8" stroke="none"/>
<path d="M91.8,301.37 L92.5,301.37 L93.3,301.36 L94.0,301.35 L94.8,301.34 L95.5,301.32 L96.3,301.31 L97.0,301.29 L97.8,301.27 L98.5,301.25 L99.3,301.22 L100.0,301.19 L100.8,301.16 L101.5,301.12 L102.3,301.07 L103.0,301.03 L103.8,300.98 L104.5,300.92 L105.3,300.86 L106.0,300.80 L106.8,300.73 L107.5,300.66 L108.3,300.59 L109.0,300.52 L109.8,300.45 L110.5,300.38 L111.3,300.31 L112.0,300.24 L112.8,300.18 L113.5,300.13 L114.3,300.07 L115.0,300.02 L115.8,299.98 L116.5,299.92 L117.3,299.82 L118.0,299.65 L118.8,299.40 L119.5,299.03 L120.3,298.51 L121.0,297.82 L121.8,296.95 L122.5,295.91 L123.3,294.75 L124.0,293.54 L124.8,292.40 L125.5,291.51 L126.3,291.11 L127.0,291.55 L127.8,292.42 L128.6,293.51 L129.3,294.70 L130.1,295.89 L130.8,296.99 L131.6,297.97 L132.3,298.79 L133.1,299.47 L133.8,300.00 L134.6,300.41 L135.3,300.71 L136.1,300.93 L136.8,301.08 L137.6,301.19 L138.3,301.26 L139.1,301.31 L139.8,301.34 L140.6,301.36 L141.3,301.37 L142.1,301.38 L150.3,301.40" fill="none" stroke="#3a2450" stroke-width="0.7" stroke-linejoin="round"/>
<line x1="91.30" y1="301.40" x2="151.30" y2="301.40" stroke="#3a2450" stroke-width="0.8" stroke-opacity="0.75"/>
<path d="M91.8,313.70 L115.8,313.69 L116.5,313.68 L117.3,313.65 L118.0,313.61 L118.8,313.53 L119.5,313.38 L120.3,313.14 L121.0,312.76 L121.8,312.19 L122.5,311.36 L123.3,310.27 L124.0,308.91 L124.8,307.37 L125.5,305.82 L126.3,304.54 L127.0,303.96 L127.8,304.52 L128.6,305.59 L129.3,306.89 L130.1,308.24 L130.8,309.50 L131.6,310.59 L132.3,311.48 L133.1,312.17 L133.8,312.68 L134.6,313.05 L135.3,313.29 L136.1,313.45 L136.8,313.55 L137.6,313.62 L138.3,313.65 L139.1,313.68 L139.8,313.69 L150.3,313.70 L150.80,313.70 L91.80,313.70Z" fill="#8c6aa8" stroke="none"/>
<path d="M91.8,313.70 L115.8,313.69 L116.5,313.68 L117.3,313.65 L118.0,313.61 L118.8,313.53 L119.5,313.38 L120.3,313.14 L121.0,312.76 L121.8,312.19 L122.5,311.36 L123.3,310.27 L124.0,308.91 L124.8,307.37 L125.5,305.82 L126.3,304.54 L127.0,303.96 L127.8,304.52 L128.6,305.59 L129.3,306.89 L130.1,308.24 L130.8,309.50 L131.6,310.59 L132.3,311.48 L133.1,312.17 L133.8,312.68 L134.6,313.05 L135.3,313.29 L136.1,313.45 L136.8,313.55 L137.6,313.62 L138.3,313.65 L139.1,313.68 L139.8,313.69 L150.3,313.70" fill="none" stroke="#3a2450" stroke-width="0.7" stroke-linejoin="round"/>
<line x1="115.00" y1="265.20" x2="115.00" y2="313.70" stroke="#111" stroke-width="1.2" stroke-dasharray="2.6,2.0"/>
<path d="M151.8,276.90 L156.3,276.89 L157.1,276.88 L157.8,276.87 L158.6,276.84 L159.3,276.81 L160.1,276.76 L160.8,276.68 L161.6,276.56 L162.3,276.39 L163.1,276.16 L163.8,275.84 L164.6,275.42 L165.3,274.87 L166.1,274.19 L166.8,273.35 L167.6,272.36 L168.3,271.23 L169.1,270.01 L169.8,268.75 L170.6,267.53 L171.3,266.45 L172.1,266.08 L172.8,266.08 L173.6,266.08 L174.3,266.08 L175.1,266.23 L175.8,266.50 L176.6,266.69 L177.3,266.82 L178.1,266.88 L178.8,266.94 L179.6,267.05 L180.3,267.35 L181.1,267.76 L181.8,268.18 L182.6,268.62 L183.3,269.06 L184.1,269.51 L184.8,269.97 L185.6,270.44 L186.3,270.90 L187.1,271.36 L187.8,271.82 L188.6,272.26 L189.3,272.69 L190.1,273.09 L190.8,273.48 L191.6,273.84 L192.3,274.18 L193.1,274.50 L193.8,274.79 L194.6,275.05 L195.3,275.29 L196.1,275.50 L196.8,275.69 L197.6,275.86 L198.3,276.01 L199.1,276.14 L199.8,276.26 L200.6,276.36 L201.3,276.45 L202.1,276.52 L202.8,276.58 L203.6,276.64 L204.3,276.68 L205.1,276.72 L205.8,276.75 L206.6,276.78 L207.3,276.80 L208.1,276.82 L208.8,276.84 L209.6,276.85 L210.3,276.86 L210.70,276.90 L151.80,276.90Z" fill="#a4d47e" stroke="none"/>
<path d="M151.8,276.90 L156.3,276.89 L157.1,276.88 L157.8,276.87 L158.6,276.84 L159.3,276.81 L160.1,276.76 L160.8,276.68 L161.6,276.56 L162.3,276.39 L163.1,276.16 L163.8,275.84 L164.6,275.42 L165.3,274.87 L166.1,274.19 L166.8,273.35 L167.6,272.36 L168.3,271.23 L169.1,270.01 L169.8,268.75 L170.6,267.53 L171.3,266.45 L172.1,266.08 L172.8,266.08 L173.6,266.08 L174.3,266.08 L175.1,266.23 L175.8,266.50 L176.6,266.69 L177.3,266.82 L178.1,266.88 L178.8,266.94 L179.6,267.05 L180.3,267.35 L181.1,267.76 L181.8,268.18 L182.6,268.62 L183.3,269.06 L184.1,269.51 L184.8,269.97 L185.6,270.44 L186.3,270.90 L187.1,271.36 L187.8,271.82 L188.6,272.26 L189.3,272.69 L190.1,273.09 L190.8,273.48 L191.6,273.84 L192.3,274.18 L193.1,274.50 L193.8,274.79 L194.6,275.05 L195.3,275.29 L196.1,275.50 L196.8,275.69 L197.6,275.86 L198.3,276.01 L199.1,276.14 L199.8,276.26 L200.6,276.36 L201.3,276.45 L202.1,276.52 L202.8,276.58 L203.6,276.64 L204.3,276.68 L205.1,276.72 L205.8,276.75 L206.6,276.78 L207.3,276.80 L208.1,276.82 L208.8,276.84 L209.6,276.85 L210.3,276.86" fill="none" stroke="#4e8a30" stroke-width="0.7" stroke-linejoin="round"/>
<line x1="151.30" y1="276.90" x2="211.20" y2="276.90" stroke="#4e8a30" stroke-width="0.8" stroke-opacity="0.75"/>
<path d="M151.8,289.14 L152.6,289.12 L153.3,289.11 L154.1,289.08 L154.8,289.06 L155.6,289.03 L156.3,288.99 L157.1,288.95 L157.8,288.89 L158.6,288.82 L159.3,288.74 L160.1,288.62 L160.8,288.45 L161.6,288.20 L162.3,287.83 L163.1,287.29 L163.8,286.52 L164.6,285.46 L165.3,284.08 L166.1,282.40 L166.8,280.55 L167.6,278.76 L168.3,278.38 L169.1,278.38 L169.8,278.38 L170.6,278.38 L171.3,278.90 L172.1,279.80 L172.8,280.70 L173.6,281.55 L174.3,282.30 L175.1,282.96 L175.8,283.53 L176.6,284.05 L177.3,284.53 L178.1,284.94 L178.8,285.31 L179.6,285.64 L180.3,285.94 L181.1,286.22 L181.8,286.48 L182.6,286.72 L183.3,286.95 L184.1,287.17 L184.8,287.38 L185.6,287.57 L186.3,287.75 L187.1,287.92 L187.8,288.07 L188.6,288.22 L189.3,288.34 L190.1,288.46 L190.8,288.56 L191.6,288.66 L192.3,288.74 L193.1,288.81 L193.8,288.87 L194.6,288.92 L195.3,288.97 L196.1,289.01 L196.8,289.04 L197.6,289.07 L198.3,289.09 L199.1,289.11 L199.8,289.13 L200.6,289.14 L201.3,289.16 L202.1,289.16 L202.8,289.17 L203.6,289.18 L204.3,289.18 L210.3,289.20 L210.70,289.20 L151.80,289.20Z" fill="#a4d47e" stroke="none"/>
<path d="M151.8,289.14 L152.6,289.12 L153.3,289.11 L154.1,289.08 L154.8,289.06 L155.6,289.03 L156.3,288.99 L157.1,288.95 L157.8,288.89 L158.6,288.82 L159.3,288.74 L160.1,288.62 L160.8,288.45 L161.6,288.20 L162.3,287.83 L163.1,287.29 L163.8,286.52 L164.6,285.46 L165.3,284.08 L166.1,282.40 L166.8,280.55 L167.6,278.76 L168.3,278.38 L169.1,278.38 L169.8,278.38 L170.6,278.38 L171.3,278.90 L172.1,279.80 L172.8,280.70 L173.6,281.55 L174.3,282.30 L175.1,282.96 L175.8,283.53 L176.6,284.05 L177.3,284.53 L178.1,284.94 L178.8,285.31 L179.6,285.64 L180.3,285.94 L181.1,286.22 L181.8,286.48 L182.6,286.72 L183.3,286.95 L184.1,287.17 L184.8,287.38 L185.6,287.57 L186.3,287.75 L187.1,287.92 L187.8,288.07 L188.6,288.22 L189.3,288.34 L190.1,288.46 L190.8,288.56 L191.6,288.66 L192.3,288.74 L193.1,288.81 L193.8,288.87 L194.6,288.92 L195.3,288.97 L196.1,289.01 L196.8,289.04 L197.6,289.07 L198.3,289.09 L199.1,289.11 L199.8,289.13 L200.6,289.14 L201.3,289.16 L202.1,289.16 L202.8,289.17 L203.6,289.18 L204.3,289.18 L210.3,289.20" fill="none" stroke="#4e8a30" stroke-width="0.7" stroke-linejoin="round"/>
<line x1="151.30" y1="289.20" x2="211.20" y2="289.20" stroke="#4e8a30" stroke-width="0.8" stroke-opacity="0.75"/>
<path d="M151.8,301.40 L157.8,301.38 L158.6,301.36 L159.3,301.32 L160.1,301.23 L160.8,301.07 L161.6,300.79 L162.3,300.33 L163.1,299.63 L163.8,298.61 L164.6,297.25 L165.3,295.61 L166.1,293.85 L166.8,292.26 L167.6,291.34 L168.3,291.66 L169.1,292.53 L169.8,293.67 L170.6,294.88 L171.3,296.04 L172.1,297.11 L172.8,298.07 L173.6,298.89 L174.3,299.55 L175.1,300.07 L175.8,300.46 L176.6,300.75 L177.3,300.96 L178.1,301.10 L178.8,301.21 L179.6,301.28 L180.3,301.32 L181.1,301.35 L181.8,301.37 L182.6,301.38 L210.3,301.40 L210.70,301.40 L151.80,301.40Z" fill="#a4d47e" stroke="none"/>
<path d="M151.8,301.40 L157.8,301.38 L158.6,301.36 L159.3,301.32 L160.1,301.23 L160.8,301.07 L161.6,300.79 L162.3,300.33 L163.1,299.63 L163.8,298.61 L164.6,297.25 L165.3,295.61 L166.1,293.85 L166.8,292.26 L167.6,291.34 L168.3,291.66 L169.1,292.53 L169.8,293.67 L170.6,294.88 L171.3,296.04 L172.1,297.11 L172.8,298.07 L173.6,298.89 L174.3,299.55 L175.1,300.07 L175.8,300.46 L176.6,300.75 L177.3,300.96 L178.1,301.10 L178.8,301.21 L179.6,301.28 L180.3,301.32 L181.1,301.35 L181.8,301.37 L182.6,301.38 L210.3,301.40" fill="none" stroke="#4e8a30" stroke-width="0.7" stroke-linejoin="round"/>
<line x1="151.30" y1="301.40" x2="211.20" y2="301.40" stroke="#4e8a30" stroke-width="0.8" stroke-opacity="0.75"/>
<path d="M151.8,313.70 L159.3,313.68 L160.1,313.66 L160.8,313.60 L161.6,313.49 L162.3,313.28 L163.1,312.90 L163.8,312.26 L164.6,311.27 L165.3,309.90 L166.1,308.17 L166.8,306.28 L167.6,304.65 L168.3,303.98 L169.1,304.66 L169.8,305.87 L170.6,307.31 L171.3,308.74 L172.1,310.02 L172.8,311.09 L173.6,311.93 L174.3,312.54 L175.1,312.97 L175.8,313.26 L176.6,313.44 L177.3,313.55 L178.1,313.62 L178.8,313.66 L179.6,313.68 L180.3,313.69 L210.3,313.70 L210.70,313.70 L151.80,313.70Z" fill="#a4d47e" stroke="none"/>
<path d="M151.8,313.70 L159.3,313.68 L160.1,313.66 L160.8,313.60 L161.6,313.49 L162.3,313.28 L163.1,312.90 L163.8,312.26 L164.6,311.27 L165.3,309.90 L166.1,308.17 L166.8,306.28 L167.6,304.65 L168.3,303.98 L169.1,304.66 L169.8,305.87 L170.6,307.31 L171.3,308.74 L172.1,310.02 L172.8,311.09 L173.6,311.93 L174.3,312.54 L175.1,312.97 L175.8,313.26 L176.6,313.44 L177.3,313.55 L178.1,313.62 L178.8,313.66 L179.6,313.68 L180.3,313.69 L210.3,313.70" fill="none" stroke="#4e8a30" stroke-width="0.7" stroke-linejoin="round"/>
<line x1="175.00" y1="265.20" x2="175.00" y2="313.70" stroke="#111" stroke-width="1.2" stroke-dasharray="2.6,2.0"/>
<path d="M211.7,276.90 L216.2,276.88 L216.9,276.87 L217.7,276.86 L218.4,276.84 L219.2,276.82 L219.9,276.78 L220.7,276.72 L221.4,276.65 L222.2,276.55 L222.9,276.41 L223.7,276.23 L224.4,275.99 L225.2,275.68 L225.9,275.29 L226.7,274.81 L227.4,274.24 L228.2,273.56 L228.9,272.77 L229.7,271.90 L230.4,270.96 L231.2,269.98 L231.9,269.01 L232.7,268.10 L233.4,267.34 L234.2,266.81 L234.9,266.68 L235.7,266.76 L236.4,266.92 L237.2,267.14 L237.9,267.41 L238.7,267.72 L239.4,268.06 L240.2,268.41 L240.9,268.78 L241.7,269.15 L242.4,269.52 L243.2,269.88 L243.9,270.24 L244.7,270.58 L245.4,270.90 L246.2,271.22 L246.9,271.51 L247.7,271.80 L248.4,272.07 L249.2,272.33 L249.9,272.59 L250.7,272.87 L251.4,273.14 L252.2,273.41 L252.9,273.67 L253.7,273.92 L254.4,274.16 L255.2,274.40 L255.9,274.61 L256.7,274.82 L257.4,275.01 L258.2,275.20 L258.9,275.36 L259.7,275.52 L260.4,275.67 L261.2,275.80 L261.9,275.92 L262.7,276.04 L263.4,276.14 L264.2,276.23 L264.9,276.31 L265.7,276.39 L266.4,276.45 L267.2,276.51 L267.9,276.57 L268.7,276.61 L269.4,276.65 L270.2,276.69 L270.20,276.90 L211.70,276.90Z" fill="#7880b4" stroke="none"/>
<path d="M211.7,276.90 L216.2,276.88 L216.9,276.87 L217.7,276.86 L218.4,276.84 L219.2,276.82 L219.9,276.78 L220.7,276.72 L221.4,276.65 L222.2,276.55 L222.9,276.41 L223.7,276.23 L224.4,275.99 L225.2,275.68 L225.9,275.29 L226.7,274.81 L227.4,274.24 L228.2,273.56 L228.9,272.77 L229.7,271.90 L230.4,270.96 L231.2,269.98 L231.9,269.01 L232.7,268.10 L233.4,267.34 L234.2,266.81 L234.9,266.68 L235.7,266.76 L236.4,266.92 L237.2,267.14 L237.9,267.41 L238.7,267.72 L239.4,268.06 L240.2,268.41 L240.9,268.78 L241.7,269.15 L242.4,269.52 L243.2,269.88 L243.9,270.24 L244.7,270.58 L245.4,270.90 L246.2,271.22 L246.9,271.51 L247.7,271.80 L248.4,272.07 L249.2,272.33 L249.9,272.59 L250.7,272.87 L251.4,273.14 L252.2,273.41 L252.9,273.67 L253.7,273.92 L254.4,274.16 L255.2,274.40 L255.9,274.61 L256.7,274.82 L257.4,275.01 L258.2,275.20 L258.9,275.36 L259.7,275.52 L260.4,275.67 L261.2,275.80 L261.9,275.92 L262.7,276.04 L263.4,276.14 L264.2,276.23 L264.9,276.31 L265.7,276.39 L266.4,276.45 L267.2,276.51 L267.9,276.57 L268.7,276.61 L269.4,276.65 L270.2,276.69" fill="none" stroke="#22285a" stroke-width="0.7" stroke-linejoin="round"/>
<line x1="211.20" y1="276.90" x2="270.70" y2="276.90" stroke="#22285a" stroke-width="0.8" stroke-opacity="0.75"/>
<path d="M211.7,289.20 L217.7,289.19 L218.4,289.17 L219.2,289.14 L219.9,289.05 L220.7,288.88 L221.4,288.55 L222.2,287.96 L222.9,287.02 L223.7,285.63 L224.4,283.83 L225.2,281.80 L225.9,280.01 L226.7,279.26 L227.4,280.06 L228.2,281.45 L228.9,283.05 L229.7,284.60 L230.4,285.94 L231.2,287.00 L231.9,287.79 L232.7,288.33 L233.4,288.69 L234.2,288.91 L234.9,289.05 L235.7,289.12 L236.4,289.16 L237.2,289.18 L270.2,289.20 L270.20,289.20 L211.70,289.20Z" fill="#7880b4" stroke="none"/>
<path d="M211.7,289.20 L217.7,289.19 L218.4,289.17 L219.2,289.14 L219.9,289.05 L220.7,288.88 L221.4,288.55 L222.2,287.96 L222.9,287.02 L223.7,285.63 L224.4,283.83 L225.2,281.80 L225.9,280.01 L226.7,279.26 L227.4,280.06 L228.2,281.45 L228.9,283.05 L229.7,284.60 L230.4,285.94 L231.2,287.00 L231.9,287.79 L232.7,288.33 L233.4,288.69 L234.2,288.91 L234.9,289.05 L235.7,289.12 L236.4,289.16 L237.2,289.18 L270.2,289.20" fill="none" stroke="#22285a" stroke-width="0.7" stroke-linejoin="round"/>
<line x1="211.20" y1="289.20" x2="270.70" y2="289.20" stroke="#22285a" stroke-width="0.8" stroke-opacity="0.75"/>
<path d="M211.7,301.40 L217.7,301.38 L218.4,301.36 L219.2,301.31 L219.9,301.20 L220.7,300.98 L221.4,300.60 L222.2,299.97 L222.9,298.99 L223.7,297.63 L224.4,295.91 L225.2,294.04 L225.9,292.43 L226.7,291.76 L227.4,292.43 L228.2,293.64 L228.9,295.06 L229.7,296.48 L230.4,297.75 L231.2,298.82 L231.9,299.64 L232.7,300.25 L233.4,300.68 L234.2,300.96 L234.9,301.14 L235.7,301.26 L236.4,301.32 L237.2,301.36 L237.9,301.38 L238.7,301.39 L270.2,301.40 L270.20,301.40 L211.70,301.40Z" fill="#7880b4" stroke="none"/>
<path d="M211.7,301.40 L217.7,301.38 L218.4,301.36 L219.2,301.31 L219.9,301.20 L220.7,300.98 L221.4,300.60 L222.2,299.97 L222.9,298.99 L223.7,297.63 L224.4,295.91 L225.2,294.04 L225.9,292.43 L226.7,291.76 L227.4,292.43 L228.2,293.64 L228.9,295.06 L229.7,296.48 L230.4,297.75 L231.2,298.82 L231.9,299.64 L232.7,300.25 L233.4,300.68 L234.2,300.96 L234.9,301.14 L235.7,301.26 L236.4,301.32 L237.2,301.36 L237.9,301.38 L238.7,301.39 L270.2,301.40" fill="none" stroke="#22285a" stroke-width="0.7" stroke-linejoin="round"/>
<line x1="211.20" y1="301.40" x2="270.70" y2="301.40" stroke="#22285a" stroke-width="0.8" stroke-opacity="0.75"/>
<path d="M211.7,313.70 L218.4,313.68 L219.2,313.65 L219.9,313.58 L220.7,313.42 L221.4,313.10 L222.2,312.52 L222.9,311.55 L223.7,310.10 L224.4,308.21 L225.2,306.12 L225.9,304.41 L226.7,304.10 L227.4,305.08 L228.2,306.53 L228.9,308.10 L229.7,309.57 L230.4,310.82 L231.2,311.78 L231.9,312.48 L232.7,312.96 L233.4,313.27 L234.2,313.46 L234.9,313.57 L235.7,313.63 L236.4,313.67 L237.2,313.68 L270.2,313.70 L270.20,313.70 L211.70,313.70Z" fill="#7880b4" stroke="none"/>
<path d="M211.7,313.70 L218.4,313.68 L219.2,313.65 L219.9,313.58 L220.7,313.42 L221.4,313.10 L222.2,312.52 L222.9,311.55 L223.7,310.10 L224.4,308.21 L225.2,306.12 L225.9,304.41 L226.7,304.10 L227.4,305.08 L228.2,306.53 L228.9,308.10 L229.7,309.57 L230.4,310.82 L231.2,311.78 L231.9,312.48 L232.7,312.96 L233.4,313.27 L234.2,313.46 L234.9,313.57 L235.7,313.63 L236.4,313.67 L237.2,313.68 L270.2,313.70" fill="none" stroke="#22285a" stroke-width="0.7" stroke-linejoin="round"/>
<line x1="234.60" y1="265.20" x2="234.60" y2="313.70" stroke="#111" stroke-width="1.2" stroke-dasharray="2.6,2.0"/>
<path d="M271.2,276.90 L280.2,276.88 L280.9,276.87 L281.7,276.85 L282.4,276.82 L283.2,276.78 L283.9,276.71 L284.7,276.62 L285.4,276.48 L286.2,276.29 L286.9,276.03 L287.7,275.69 L288.4,275.25 L289.2,274.70 L289.9,274.03 L290.7,273.24 L291.4,272.34 L292.2,271.36 L292.9,270.34 L293.7,269.34 L294.4,268.43 L295.2,267.73 L295.9,267.48 L296.7,267.60 L297.4,267.85 L298.2,268.12 L298.9,268.31 L299.7,268.37 L300.4,268.28 L301.2,268.06 L301.9,267.77 L302.7,267.47 L303.4,267.30 L304.2,267.46 L304.9,267.98 L305.7,268.64 L306.4,269.39 L307.2,270.18 L307.9,270.99 L308.7,271.77 L309.4,272.52 L310.2,273.22 L310.9,273.84 L311.7,274.40 L312.4,274.88 L313.2,275.29 L313.9,275.64 L314.7,275.92 L315.4,276.15 L316.2,276.33 L316.9,276.48 L317.7,276.59 L318.4,276.67 L319.2,276.73 L319.9,276.78 L320.7,276.82 L321.4,276.84 L322.2,276.86 L322.9,276.87 L323.7,276.88 L331.9,276.90 L332.00,276.90 L271.20,276.90Z" fill="#90b6e8" stroke="none"/>
<path d="M271.2,276.90 L280.2,276.88 L280.9,276.87 L281.7,276.85 L282.4,276.82 L283.2,276.78 L283.9,276.71 L284.7,276.62 L285.4,276.48 L286.2,276.29 L286.9,276.03 L287.7,275.69 L288.4,275.25 L289.2,274.70 L289.9,274.03 L290.7,273.24 L291.4,272.34 L292.2,271.36 L292.9,270.34 L293.7,269.34 L294.4,268.43 L295.2,267.73 L295.9,267.48 L296.7,267.60 L297.4,267.85 L298.2,268.12 L298.9,268.31 L299.7,268.37 L300.4,268.28 L301.2,268.06 L301.9,267.77 L302.7,267.47 L303.4,267.30 L304.2,267.46 L304.9,267.98 L305.7,268.64 L306.4,269.39 L307.2,270.18 L307.9,270.99 L308.7,271.77 L309.4,272.52 L310.2,273.22 L310.9,273.84 L311.7,274.40 L312.4,274.88 L313.2,275.29 L313.9,275.64 L314.7,275.92 L315.4,276.15 L316.2,276.33 L316.9,276.48 L317.7,276.59 L318.4,276.67 L319.2,276.73 L319.9,276.78 L320.7,276.82 L321.4,276.84 L322.2,276.86 L322.9,276.87 L323.7,276.88 L331.9,276.90" fill="none" stroke="#4a72b0" stroke-width="0.7" stroke-linejoin="round"/>
<line x1="270.70" y1="276.90" x2="332.50" y2="276.90" stroke="#4a72b0" stroke-width="0.8" stroke-opacity="0.75"/>
<path d="M271.2,289.19 L271.9,289.18 L272.7,289.18 L273.4,289.17 L274.2,289.16 L274.9,289.15 L275.7,289.14 L276.4,289.12 L277.2,289.09 L277.9,289.06 L278.7,289.01 L279.4,288.93 L280.2,288.82 L280.9,288.65 L281.7,288.38 L282.4,287.98 L283.2,287.38 L283.9,286.55 L284.7,285.43 L285.4,284.01 L286.2,282.35 L286.9,280.58 L287.7,278.94 L288.4,278.38 L289.2,278.38 L289.9,278.62 L290.7,279.80 L291.4,281.08 L292.2,282.27 L292.9,283.28 L293.7,284.08 L294.4,284.66 L295.2,285.08 L295.9,285.38 L296.7,285.66 L297.4,285.90 L298.2,286.13 L298.9,286.35 L299.7,286.56 L300.4,286.78 L301.2,287.00 L301.9,287.21 L302.7,287.42 L303.4,287.62 L304.2,287.81 L304.9,287.99 L305.7,288.15 L306.4,288.30 L307.2,288.43 L307.9,288.55 L308.7,288.66 L309.4,288.75 L310.2,288.83 L310.9,288.89 L311.7,288.95 L312.4,289.00 L313.2,289.04 L313.9,289.07 L314.7,289.10 L315.4,289.12 L316.2,289.14 L316.9,289.15 L317.7,289.16 L318.4,289.17 L319.2,289.18 L319.9,289.18 L331.9,289.20 L332.00,289.20 L271.20,289.20Z" fill="#90b6e8" stroke="none"/>
<path d="M271.2,289.19 L271.9,289.18 L272.7,289.18 L273.4,289.17 L274.2,289.16 L274.9,289.15 L275.7,289.14 L276.4,289.12 L277.2,289.09 L277.9,289.06 L278.7,289.01 L279.4,288.93 L280.2,288.82 L280.9,288.65 L281.7,288.38 L282.4,287.98 L283.2,287.38 L283.9,286.55 L284.7,285.43 L285.4,284.01 L286.2,282.35 L286.9,280.58 L287.7,278.94 L288.4,278.38 L289.2,278.38 L289.9,278.62 L290.7,279.80 L291.4,281.08 L292.2,282.27 L292.9,283.28 L293.7,284.08 L294.4,284.66 L295.2,285.08 L295.9,285.38 L296.7,285.66 L297.4,285.90 L298.2,286.13 L298.9,286.35 L299.7,286.56 L300.4,286.78 L301.2,287.00 L301.9,287.21 L302.7,287.42 L303.4,287.62 L304.2,287.81 L304.9,287.99 L305.7,288.15 L306.4,288.30 L307.2,288.43 L307.9,288.55 L308.7,288.66 L309.4,288.75 L310.2,288.83 L310.9,288.89 L311.7,288.95 L312.4,289.00 L313.2,289.04 L313.9,289.07 L314.7,289.10 L315.4,289.12 L316.2,289.14 L316.9,289.15 L317.7,289.16 L318.4,289.17 L319.2,289.18 L319.9,289.18 L331.9,289.20" fill="none" stroke="#4a72b0" stroke-width="0.7" stroke-linejoin="round"/>
<line x1="270.70" y1="289.20" x2="332.50" y2="289.20" stroke="#4a72b0" stroke-width="0.8" stroke-opacity="0.75"/>
<path d="M271.2,301.39 L271.9,301.38 L272.7,301.38 L273.4,301.37 L274.2,301.36 L274.9,301.35 L275.7,301.34 L276.4,301.32 L277.2,301.29 L277.9,301.25 L278.7,301.20 L279.4,301.12 L280.2,300.99 L280.9,300.79 L281.7,300.49 L282.4,300.03 L283.2,299.37 L283.9,298.46 L284.7,297.25 L285.4,295.78 L286.2,294.10 L286.9,292.41 L287.7,290.96 L288.4,290.66 L289.2,290.66 L289.9,291.61 L290.7,292.81 L291.4,294.03 L292.2,295.12 L292.9,296.00 L293.7,296.68 L294.4,297.15 L295.2,297.49 L295.9,297.73 L296.7,297.96 L297.4,298.17 L298.2,298.38 L298.9,298.58 L299.7,298.79 L300.4,299.00 L301.2,299.22 L301.9,299.43 L302.7,299.64 L303.4,299.84 L304.2,300.02 L304.9,300.20 L305.7,300.36 L306.4,300.51 L307.2,300.64 L307.9,300.76 L308.7,300.86 L309.4,300.95 L310.2,301.03 L310.9,301.10 L311.7,301.15 L312.4,301.20 L313.2,301.24 L313.9,301.27 L314.7,301.30 L315.4,301.32 L316.2,301.34 L316.9,301.35 L317.7,301.36 L318.4,301.37 L319.2,301.38 L319.9,301.38 L331.9,301.40 L332.00,301.40 L271.20,301.40Z" fill="#90b6e8" stroke="none"/>
<path d="M271.2,301.39 L271.9,301.38 L272.7,301.38 L273.4,301.37 L274.2,301.36 L274.9,301.35 L275.7,301.34 L276.4,301.32 L277.2,301.29 L277.9,301.25 L278.7,301.20 L279.4,301.12 L280.2,300.99 L280.9,300.79 L281.7,300.49 L282.4,300.03 L283.2,299.37 L283.9,298.46 L284.7,297.25 L285.4,295.78 L286.2,294.10 L286.9,292.41 L287.7,290.96 L288.4,290.66 L289.2,290.66 L289.9,291.61 L290.7,292.81 L291.4,294.03 L292.2,295.12 L292.9,296.00 L293.7,296.68 L294.4,297.15 L295.2,297.49 L295.9,297.73 L296.7,297.96 L297.4,298.17 L298.2,298.38 L298.9,298.58 L299.7,298.79 L300.4,299.00 L301.2,299.22 L301.9,299.43 L302.7,299.64 L303.4,299.84 L304.2,300.02 L304.9,300.20 L305.7,300.36 L306.4,300.51 L307.2,300.64 L307.9,300.76 L308.7,300.86 L309.4,300.95 L310.2,301.03 L310.9,301.10 L311.7,301.15 L312.4,301.20 L313.2,301.24 L313.9,301.27 L314.7,301.30 L315.4,301.32 L316.2,301.34 L316.9,301.35 L317.7,301.36 L318.4,301.37 L319.2,301.38 L319.9,301.38 L331.9,301.40" fill="none" stroke="#4a72b0" stroke-width="0.7" stroke-linejoin="round"/>
<line x1="270.70" y1="301.40" x2="332.50" y2="301.40" stroke="#4a72b0" stroke-width="0.8" stroke-opacity="0.75"/>
<path d="M271.2,313.67 L271.9,313.66 L272.7,313.66 L273.4,313.64 L274.2,313.63 L274.9,313.61 L275.7,313.59 L276.4,313.57 L277.2,313.54 L277.9,313.51 L278.7,313.46 L279.4,313.40 L280.2,313.32 L280.9,313.20 L281.7,313.02 L282.4,312.75 L283.2,312.32 L283.9,311.68 L284.7,310.76 L285.4,309.49 L286.2,307.89 L286.9,306.03 L287.7,304.14 L288.4,302.88 L289.2,302.88 L289.9,302.88 L290.7,303.25 L291.4,304.29 L292.2,305.37 L292.9,306.37 L293.7,307.25 L294.4,307.96 L295.2,308.50 L295.9,308.90 L296.7,309.19 L297.4,309.39 L298.2,309.57 L298.9,309.76 L299.7,309.95 L300.4,310.14 L301.2,310.34 L301.9,310.54 L302.7,310.75 L303.4,310.96 L304.2,311.17 L304.9,311.39 L305.7,311.59 L306.4,311.80 L307.2,311.99 L307.9,312.17 L308.7,312.35 L309.4,312.51 L310.2,312.65 L310.9,312.79 L311.7,312.91 L312.4,313.02 L313.2,313.12 L313.9,313.20 L314.7,313.28 L315.4,313.34 L316.2,313.40 L316.9,313.45 L317.7,313.49 L318.4,313.53 L319.2,313.56 L319.9,313.58 L320.7,313.61 L321.4,313.62 L322.2,313.64 L322.9,313.65 L323.7,313.66 L324.4,313.67 L325.2,313.68 L325.9,313.68 L331.9,313.70 L332.00,313.70 L271.20,313.70Z" fill="#90b6e8" stroke="none"/>
<path d="M271.2,313.67 L271.9,313.66 L272.7,313.66 L273.4,313.64 L274.2,313.63 L274.9,313.61 L275.7,313.59 L276.4,313.57 L277.2,313.54 L277.9,313.51 L278.7,313.46 L279.4,313.40 L280.2,313.32 L280.9,313.20 L281.7,313.02 L282.4,312.75 L283.2,312.32 L283.9,311.68 L284.7,310.76 L285.4,309.49 L286.2,307.89 L286.9,306.03 L287.7,304.14 L288.4,302.88 L289.2,302.88 L289.9,302.88 L290.7,303.25 L291.4,304.29 L292.2,305.37 L292.9,306.37 L293.7,307.25 L294.4,307.96 L295.2,308.50 L295.9,308.90 L296.7,309.19 L297.4,309.39 L298.2,309.57 L298.9,309.76 L299.7,309.95 L300.4,310.14 L301.2,310.34 L301.9,310.54 L302.7,310.75 L303.4,310.96 L304.2,311.17 L304.9,311.39 L305.7,311.59 L306.4,311.80 L307.2,311.99 L307.9,312.17 L308.7,312.35 L309.4,312.51 L310.2,312.65 L310.9,312.79 L311.7,312.91 L312.4,313.02 L313.2,313.12 L313.9,313.20 L314.7,313.28 L315.4,313.34 L316.2,313.40 L316.9,313.45 L317.7,313.49 L318.4,313.53 L319.2,313.56 L319.9,313.58 L320.7,313.61 L321.4,313.62 L322.2,313.64 L322.9,313.65 L323.7,313.66 L324.4,313.67 L325.2,313.68 L325.9,313.68 L331.9,313.70" fill="none" stroke="#4a72b0" stroke-width="0.7" stroke-linejoin="round"/>
<line x1="294.50" y1="265.20" x2="294.50" y2="313.70" stroke="#111" stroke-width="1.2" stroke-dasharray="2.6,2.0"/>
<path d="M333.0,276.90 L337.5,276.88 L338.2,276.87 L339.0,276.86 L339.8,276.85 L340.5,276.84 L341.2,276.82 L342.0,276.80 L342.8,276.77 L343.5,276.73 L344.2,276.69 L345.0,276.64 L345.8,276.58 L346.5,276.51 L347.2,276.43 L348.0,276.33 L348.8,276.23 L349.5,276.11 L350.2,275.98 L351.0,275.84 L351.8,275.69 L352.5,275.53 L353.2,275.36 L354.0,275.17 L354.8,274.98 L355.5,274.80 L356.2,274.61 L357.0,274.38 L357.8,274.11 L358.5,273.79 L359.2,273.41 L360.0,272.97 L360.8,272.46 L361.5,271.90 L362.2,271.30 L363.0,270.69 L363.8,270.09 L364.5,269.55 L365.2,269.09 L366.0,268.79 L366.8,268.77 L367.5,269.11 L368.2,269.65 L369.0,270.31 L369.8,271.05 L370.5,271.80 L371.2,272.54 L372.0,273.24 L372.8,273.88 L373.5,274.45 L374.2,274.95 L375.0,275.37 L375.8,275.71 L376.5,276.00 L377.2,276.22 L378.0,276.40 L378.8,276.53 L379.5,276.64 L380.2,276.71 L381.0,276.77 L381.8,276.81 L382.5,276.84 L383.2,276.86 L384.0,276.87 L384.8,276.88 L393.0,276.90 L393.50,276.90 L333.00,276.90Z" fill="#a8a8cc" stroke="none"/>
<path d="M333.0,276.90 L337.5,276.88 L338.2,276.87 L339.0,276.86 L339.8,276.85 L340.5,276.84 L341.2,276.82 L342.0,276.80 L342.8,276.77 L343.5,276.73 L344.2,276.69 L345.0,276.64 L345.8,276.58 L346.5,276.51 L347.2,276.43 L348.0,276.33 L348.8,276.23 L349.5,276.11 L350.2,275.98 L351.0,275.84 L351.8,275.69 L352.5,275.53 L353.2,275.36 L354.0,275.17 L354.8,274.98 L355.5,274.80 L356.2,274.61 L357.0,274.38 L357.8,274.11 L358.5,273.79 L359.2,273.41 L360.0,272.97 L360.8,272.46 L361.5,271.90 L362.2,271.30 L363.0,270.69 L363.8,270.09 L364.5,269.55 L365.2,269.09 L366.0,268.79 L366.8,268.77 L367.5,269.11 L368.2,269.65 L369.0,270.31 L369.8,271.05 L370.5,271.80 L371.2,272.54 L372.0,273.24 L372.8,273.88 L373.5,274.45 L374.2,274.95 L375.0,275.37 L375.8,275.71 L376.5,276.00 L377.2,276.22 L378.0,276.40 L378.8,276.53 L379.5,276.64 L380.2,276.71 L381.0,276.77 L381.8,276.81 L382.5,276.84 L383.2,276.86 L384.0,276.87 L384.8,276.88 L393.0,276.90" fill="none" stroke="#2c2c50" stroke-width="0.7" stroke-linejoin="round"/>
<line x1="332.50" y1="276.90" x2="394.00" y2="276.90" stroke="#2c2c50" stroke-width="0.8" stroke-opacity="0.75"/>
<path d="M333.0,289.20 L336.0,289.19 L336.8,289.18 L337.5,289.16 L338.2,289.13 L339.0,289.09 L339.8,289.02 L340.5,288.92 L341.2,288.78 L342.0,288.57 L342.8,288.29 L343.5,287.91 L344.2,287.42 L345.0,286.81 L345.8,286.08 L346.5,285.22 L347.2,284.27 L348.0,283.28 L348.8,282.29 L349.5,281.41 L350.2,280.81 L351.0,280.57 L351.8,280.46 L352.5,280.34 L353.2,280.16 L354.0,279.88 L354.8,279.52 L355.5,279.13 L356.2,278.79 L357.0,278.65 L357.8,278.98 L358.5,279.53 L359.2,280.12 L360.0,280.68 L360.8,281.15 L361.5,281.48 L362.2,281.67 L363.0,281.77 L363.8,281.82 L364.5,281.92 L365.2,282.24 L366.0,282.87 L366.8,283.62 L367.5,284.42 L368.2,285.22 L369.0,285.97 L369.8,286.64 L370.5,287.22 L371.2,287.70 L372.0,288.10 L372.8,288.40 L373.5,288.64 L374.2,288.81 L375.0,288.94 L375.8,289.03 L376.5,289.09 L377.2,289.13 L378.0,289.15 L378.8,289.17 L379.5,289.18 L393.0,289.20 L393.50,289.20 L333.00,289.20Z" fill="#a8a8cc" stroke="none"/>
<path d="M333.0,289.20 L336.0,289.19 L336.8,289.18 L337.5,289.16 L338.2,289.13 L339.0,289.09 L339.8,289.02 L340.5,288.92 L341.2,288.78 L342.0,288.57 L342.8,288.29 L343.5,287.91 L344.2,287.42 L345.0,286.81 L345.8,286.08 L346.5,285.22 L347.2,284.27 L348.0,283.28 L348.8,282.29 L349.5,281.41 L350.2,280.81 L351.0,280.57 L351.8,280.46 L352.5,280.34 L353.2,280.16 L354.0,279.88 L354.8,279.52 L355.5,279.13 L356.2,278.79 L357.0,278.65 L357.8,278.98 L358.5,279.53 L359.2,280.12 L360.0,280.68 L360.8,281.15 L361.5,281.48 L362.2,281.67 L363.0,281.77 L363.8,281.82 L364.5,281.92 L365.2,282.24 L366.0,282.87 L366.8,283.62 L367.5,284.42 L368.2,285.22 L369.0,285.97 L369.8,286.64 L370.5,287.22 L371.2,287.70 L372.0,288.10 L372.8,288.40 L373.5,288.64 L374.2,288.81 L375.0,288.94 L375.8,289.03 L376.5,289.09 L377.2,289.13 L378.0,289.15 L378.8,289.17 L379.5,289.18 L393.0,289.20" fill="none" stroke="#2c2c50" stroke-width="0.7" stroke-linejoin="round"/>
<line x1="332.50" y1="289.20" x2="394.00" y2="289.20" stroke="#2c2c50" stroke-width="0.8" stroke-opacity="0.75"/>
<path d="M333.0,301.40 L335.2,301.38 L336.0,301.37 L336.8,301.36 L337.5,301.33 L338.2,301.29 L339.0,301.23 L339.8,301.14 L340.5,301.01 L341.2,300.83 L342.0,300.59 L342.8,300.27 L343.5,299.85 L344.2,299.33 L345.0,298.70 L345.8,297.95 L346.5,297.11 L347.2,296.19 L348.0,295.24 L348.8,294.32 L349.5,293.51 L350.2,292.96 L351.0,292.77 L351.8,292.70 L352.5,292.65 L353.2,292.57 L354.0,292.41 L354.8,292.19 L355.5,291.92 L356.2,291.68 L357.0,291.58 L357.8,291.83 L358.5,292.21 L359.2,292.58 L360.0,292.88 L360.8,293.06 L361.5,293.11 L362.2,293.03 L363.0,292.87 L363.8,292.71 L364.5,292.65 L365.2,292.92 L366.0,293.61 L366.8,294.49 L367.5,295.46 L368.2,296.43 L369.0,297.35 L369.8,298.19 L370.5,298.91 L371.2,299.52 L372.0,300.01 L372.8,300.40 L373.5,300.69 L374.2,300.91 L375.0,301.07 L375.8,301.18 L376.5,301.26 L377.2,301.31 L378.0,301.34 L378.8,301.37 L379.5,301.38 L380.2,301.39 L393.0,301.40 L393.50,301.40 L333.00,301.40Z" fill="#a8a8cc" stroke="none"/>
<path d="M333.0,301.40 L335.2,301.38 L336.0,301.37 L336.8,301.36 L337.5,301.33 L338.2,301.29 L339.0,301.23 L339.8,301.14 L340.5,301.01 L341.2,300.83 L342.0,300.59 L342.8,300.27 L343.5,299.85 L344.2,299.33 L345.0,298.70 L345.8,297.95 L346.5,297.11 L347.2,296.19 L348.0,295.24 L348.8,294.32 L349.5,293.51 L350.2,292.96 L351.0,292.77 L351.8,292.70 L352.5,292.65 L353.2,292.57 L354.0,292.41 L354.8,292.19 L355.5,291.92 L356.2,291.68 L357.0,291.58 L357.8,291.83 L358.5,292.21 L359.2,292.58 L360.0,292.88 L360.8,293.06 L361.5,293.11 L362.2,293.03 L363.0,292.87 L363.8,292.71 L364.5,292.65 L365.2,292.92 L366.0,293.61 L366.8,294.49 L367.5,295.46 L368.2,296.43 L369.0,297.35 L369.8,298.19 L370.5,298.91 L371.2,299.52 L372.0,300.01 L372.8,300.40 L373.5,300.69 L374.2,300.91 L375.0,301.07 L375.8,301.18 L376.5,301.26 L377.2,301.31 L378.0,301.34 L378.8,301.37 L379.5,301.38 L380.2,301.39 L393.0,301.40" fill="none" stroke="#2c2c50" stroke-width="0.7" stroke-linejoin="round"/>
<line x1="332.50" y1="301.40" x2="394.00" y2="301.40" stroke="#2c2c50" stroke-width="0.8" stroke-opacity="0.75"/>
<path d="M333.0,313.70 L336.0,313.68 L336.8,313.67 L337.5,313.65 L338.2,313.63 L339.0,313.60 L339.8,313.55 L340.5,313.48 L341.2,313.38 L342.0,313.25 L342.8,313.08 L343.5,312.85 L344.2,312.57 L345.0,312.22 L345.8,311.80 L346.5,311.30 L347.2,310.74 L348.0,310.11 L348.8,309.44 L349.5,308.75 L350.2,308.07 L351.0,307.46 L351.8,306.97 L352.5,306.76 L353.2,306.74 L354.0,306.79 L354.8,306.83 L355.5,306.80 L356.2,306.68 L357.0,306.43 L357.8,306.06 L358.5,305.59 L359.2,305.06 L360.0,304.52 L360.8,304.06 L361.5,303.76 L362.2,303.83 L363.0,304.42 L363.8,305.28 L364.5,306.29 L365.2,307.35 L366.0,308.40 L366.8,309.38 L367.5,310.27 L368.2,311.03 L369.0,311.67 L369.8,312.18 L370.5,312.59 L371.2,312.91 L372.0,313.14 L372.8,313.32 L373.5,313.44 L374.2,313.53 L375.0,313.59 L375.8,313.63 L376.5,313.65 L377.2,313.67 L378.0,313.68 L393.0,313.70 L393.50,313.70 L333.00,313.70Z" fill="#a8a8cc" stroke="none"/>
<path d="M333.0,313.70 L336.0,313.68 L336.8,313.67 L337.5,313.65 L338.2,313.63 L339.0,313.60 L339.8,313.55 L340.5,313.48 L341.2,313.38 L342.0,313.25 L342.8,313.08 L343.5,312.85 L344.2,312.57 L345.0,312.22 L345.8,311.80 L346.5,311.30 L347.2,310.74 L348.0,310.11 L348.8,309.44 L349.5,308.75 L350.2,308.07 L351.0,307.46 L351.8,306.97 L352.5,306.76 L353.2,306.74 L354.0,306.79 L354.8,306.83 L355.5,306.80 L356.2,306.68 L357.0,306.43 L357.8,306.06 L358.5,305.59 L359.2,305.06 L360.0,304.52 L360.8,304.06 L361.5,303.76 L362.2,303.83 L363.0,304.42 L363.8,305.28 L364.5,306.29 L365.2,307.35 L366.0,308.40 L366.8,309.38 L367.5,310.27 L368.2,311.03 L369.0,311.67 L369.8,312.18 L370.5,312.59 L371.2,312.91 L372.0,313.14 L372.8,313.32 L373.5,313.44 L374.2,313.53 L375.0,313.59 L375.8,313.63 L376.5,313.65 L377.2,313.67 L378.0,313.68 L393.0,313.70" fill="none" stroke="#2c2c50" stroke-width="0.7" stroke-linejoin="round"/>
<line x1="355.50" y1="265.20" x2="355.50" y2="313.70" stroke="#111" stroke-width="1.2" stroke-dasharray="2.6,2.0"/>
<line x1="31.70" y1="264.60" x2="31.70" y2="313.70" stroke="#222" stroke-width="0.9"/>
<line x1="91.30" y1="264.60" x2="91.30" y2="313.70" stroke="#222" stroke-width="0.9"/>
<line x1="151.30" y1="264.60" x2="151.30" y2="313.70" stroke="#222" stroke-width="0.9"/>
<line x1="211.20" y1="264.60" x2="211.20" y2="313.70" stroke="#222" stroke-width="0.9"/>
<line x1="270.70" y1="264.60" x2="270.70" y2="313.70" stroke="#222" stroke-width="0.9"/>
<line x1="332.50" y1="264.60" x2="332.50" y2="313.70" stroke="#222" stroke-width="0.9"/>
<line x1="394.00" y1="264.60" x2="394.00" y2="313.70" stroke="#222" stroke-width="0.9"/>
<line x1="31.25" y1="264.60" x2="394.45" y2="264.60" stroke="#222" stroke-width="0.9"/>
<line x1="31.25" y1="313.70" x2="394.45" y2="313.70" stroke="#111" stroke-width="1.0"/>
<line x1="35.40" y1="313.70" x2="35.40" y2="315.50" stroke="#222" stroke-width="0.9"/>
<text x="39.40" y="320.70" font-size="6.3" fill="#2a2a2a" text-anchor="end" textLength="13.00" lengthAdjust="spacingAndGlyphs" transform="rotate(-57 39.40 320.70)" stroke="#2a2a2a" stroke-width="0.18">−10³</text>
<line x1="45.00" y1="313.70" x2="45.00" y2="315.50" stroke="#222" stroke-width="0.9"/>
<text x="49.00" y="320.70" font-size="6.3" fill="#2a2a2a" text-anchor="end" textLength="3.40" lengthAdjust="spacingAndGlyphs" transform="rotate(-57 49.00 320.70)" stroke="#2a2a2a" stroke-width="0.18">0</text>
<line x1="54.60" y1="313.70" x2="54.60" y2="315.50" stroke="#222" stroke-width="0.9"/>
<text x="58.60" y="320.70" font-size="6.3" fill="#2a2a2a" text-anchor="end" textLength="10.20" lengthAdjust="spacingAndGlyphs" transform="rotate(-57 58.60 320.70)" stroke="#2a2a2a" stroke-width="0.18">10³</text>
<line x1="70.20" y1="313.70" x2="70.20" y2="315.50" stroke="#222" stroke-width="0.9"/>
<text x="74.20" y="320.70" font-size="6.3" fill="#2a2a2a" text-anchor="end" textLength="10.20" lengthAdjust="spacingAndGlyphs" transform="rotate(-57 74.20 320.70)" stroke="#2a2a2a" stroke-width="0.18">10⁴</text>
<line x1="85.20" y1="313.70" x2="85.20" y2="315.50" stroke="#222" stroke-width="0.9"/>
<text x="89.20" y="320.70" font-size="6.3" fill="#2a2a2a" text-anchor="end" textLength="10.20" lengthAdjust="spacingAndGlyphs" transform="rotate(-57 89.20 320.70)" stroke="#2a2a2a" stroke-width="0.18">10⁵</text>
<line x1="33.20" y1="313.70" x2="33.20" y2="314.80" stroke="#333" stroke-width="0.6"/>
<line x1="37.60" y1="313.70" x2="37.60" y2="314.80" stroke="#333" stroke-width="0.6"/>
<line x1="42.00" y1="313.70" x2="42.00" y2="314.80" stroke="#333" stroke-width="0.6"/>
<line x1="46.40" y1="313.70" x2="46.40" y2="314.80" stroke="#333" stroke-width="0.6"/>
<line x1="50.80" y1="313.70" x2="50.80" y2="314.80" stroke="#333" stroke-width="0.6"/>
<line x1="55.20" y1="313.70" x2="55.20" y2="314.80" stroke="#333" stroke-width="0.6"/>
<line x1="59.60" y1="313.70" x2="59.60" y2="314.80" stroke="#333" stroke-width="0.6"/>
<line x1="64.00" y1="313.70" x2="64.00" y2="314.80" stroke="#333" stroke-width="0.6"/>
<line x1="68.40" y1="313.70" x2="68.40" y2="314.80" stroke="#333" stroke-width="0.6"/>
<line x1="72.80" y1="313.70" x2="72.80" y2="314.80" stroke="#333" stroke-width="0.6"/>
<line x1="77.20" y1="313.70" x2="77.20" y2="314.80" stroke="#333" stroke-width="0.6"/>
<line x1="81.60" y1="313.70" x2="81.60" y2="314.80" stroke="#333" stroke-width="0.6"/>
<line x1="86.00" y1="313.70" x2="86.00" y2="314.80" stroke="#333" stroke-width="0.6"/>
<line x1="95.00" y1="313.70" x2="95.00" y2="315.50" stroke="#222" stroke-width="0.9"/>
<text x="99.00" y="320.70" font-size="6.3" fill="#2a2a2a" text-anchor="end" textLength="13.00" lengthAdjust="spacingAndGlyphs" transform="rotate(-57 99.00 320.70)" stroke="#2a2a2a" stroke-width="0.18">−10³</text>
<line x1="104.60" y1="313.70" x2="104.60" y2="315.50" stroke="#222" stroke-width="0.9"/>
<text x="108.60" y="320.70" font-size="6.3" fill="#2a2a2a" text-anchor="end" textLength="3.40" lengthAdjust="spacingAndGlyphs" transform="rotate(-57 108.60 320.70)" stroke="#2a2a2a" stroke-width="0.18">0</text>
<line x1="114.20" y1="313.70" x2="114.20" y2="315.50" stroke="#222" stroke-width="0.9"/>
<text x="118.20" y="320.70" font-size="6.3" fill="#2a2a2a" text-anchor="end" textLength="10.20" lengthAdjust="spacingAndGlyphs" transform="rotate(-57 118.20 320.70)" stroke="#2a2a2a" stroke-width="0.18">10³</text>
<line x1="129.80" y1="313.70" x2="129.80" y2="315.50" stroke="#222" stroke-width="0.9"/>
<text x="133.80" y="320.70" font-size="6.3" fill="#2a2a2a" text-anchor="end" textLength="10.20" lengthAdjust="spacingAndGlyphs" transform="rotate(-57 133.80 320.70)" stroke="#2a2a2a" stroke-width="0.18">10⁴</text>
<line x1="144.80" y1="313.70" x2="144.80" y2="315.50" stroke="#222" stroke-width="0.9"/>
<text x="148.80" y="320.70" font-size="6.3" fill="#2a2a2a" text-anchor="end" textLength="10.20" lengthAdjust="spacingAndGlyphs" transform="rotate(-57 148.80 320.70)" stroke="#2a2a2a" stroke-width="0.18">10⁵</text>
<line x1="92.80" y1="313.70" x2="92.80" y2="314.80" stroke="#333" stroke-width="0.6"/>
<line x1="97.20" y1="313.70" x2="97.20" y2="314.80" stroke="#333" stroke-width="0.6"/>
<line x1="101.60" y1="313.70" x2="101.60" y2="314.80" stroke="#333" stroke-width="0.6"/>
<line x1="106.00" y1="313.70" x2="106.00" y2="314.80" stroke="#333" stroke-width="0.6"/>
<line x1="110.40" y1="313.70" x2="110.40" y2="314.80" stroke="#333" stroke-width="0.6"/>
<line x1="114.80" y1="313.70" x2="114.80" y2="314.80" stroke="#333" stroke-width="0.6"/>
<line x1="119.20" y1="313.70" x2="119.20" y2="314.80" stroke="#333" stroke-width="0.6"/>
<line x1="123.60" y1="313.70" x2="123.60" y2="314.80" stroke="#333" stroke-width="0.6"/>
<line x1="128.00" y1="313.70" x2="128.00" y2="314.80" stroke="#333" stroke-width="0.6"/>
<line x1="132.40" y1="313.70" x2="132.40" y2="314.80" stroke="#333" stroke-width="0.6"/>
<line x1="136.80" y1="313.70" x2="136.80" y2="314.80" stroke="#333" stroke-width="0.6"/>
<line x1="141.20" y1="313.70" x2="141.20" y2="314.80" stroke="#333" stroke-width="0.6"/>
<line x1="145.60" y1="313.70" x2="145.60" y2="314.80" stroke="#333" stroke-width="0.6"/>
<line x1="155.00" y1="313.70" x2="155.00" y2="315.50" stroke="#222" stroke-width="0.9"/>
<text x="159.00" y="320.70" font-size="6.3" fill="#2a2a2a" text-anchor="end" textLength="13.00" lengthAdjust="spacingAndGlyphs" transform="rotate(-57 159.00 320.70)" stroke="#2a2a2a" stroke-width="0.18">−10³</text>
<line x1="164.60" y1="313.70" x2="164.60" y2="315.50" stroke="#222" stroke-width="0.9"/>
<text x="168.60" y="320.70" font-size="6.3" fill="#2a2a2a" text-anchor="end" textLength="3.40" lengthAdjust="spacingAndGlyphs" transform="rotate(-57 168.60 320.70)" stroke="#2a2a2a" stroke-width="0.18">0</text>
<line x1="174.20" y1="313.70" x2="174.20" y2="315.50" stroke="#222" stroke-width="0.9"/>
<text x="178.20" y="320.70" font-size="6.3" fill="#2a2a2a" text-anchor="end" textLength="10.20" lengthAdjust="spacingAndGlyphs" transform="rotate(-57 178.20 320.70)" stroke="#2a2a2a" stroke-width="0.18">10³</text>
<line x1="189.80" y1="313.70" x2="189.80" y2="315.50" stroke="#222" stroke-width="0.9"/>
<text x="193.80" y="320.70" font-size="6.3" fill="#2a2a2a" text-anchor="end" textLength="10.20" lengthAdjust="spacingAndGlyphs" transform="rotate(-57 193.80 320.70)" stroke="#2a2a2a" stroke-width="0.18">10⁴</text>
<line x1="204.80" y1="313.70" x2="204.80" y2="315.50" stroke="#222" stroke-width="0.9"/>
<text x="208.80" y="320.70" font-size="6.3" fill="#2a2a2a" text-anchor="end" textLength="10.20" lengthAdjust="spacingAndGlyphs" transform="rotate(-57 208.80 320.70)" stroke="#2a2a2a" stroke-width="0.18">10⁵</text>
<line x1="152.80" y1="313.70" x2="152.80" y2="314.80" stroke="#333" stroke-width="0.6"/>
<line x1="157.20" y1="313.70" x2="157.20" y2="314.80" stroke="#333" stroke-width="0.6"/>
<line x1="161.60" y1="313.70" x2="161.60" y2="314.80" stroke="#333" stroke-width="0.6"/>
<line x1="166.00" y1="313.70" x2="166.00" y2="314.80" stroke="#333" stroke-width="0.6"/>
<line x1="170.40" y1="313.70" x2="170.40" y2="314.80" stroke="#333" stroke-width="0.6"/>
<line x1="174.80" y1="313.70" x2="174.80" y2="314.80" stroke="#333" stroke-width="0.6"/>
<line x1="179.20" y1="313.70" x2="179.20" y2="314.80" stroke="#333" stroke-width="0.6"/>
<line x1="183.60" y1="313.70" x2="183.60" y2="314.80" stroke="#333" stroke-width="0.6"/>
<line x1="188.00" y1="313.70" x2="188.00" y2="314.80" stroke="#333" stroke-width="0.6"/>
<line x1="192.40" y1="313.70" x2="192.40" y2="314.80" stroke="#333" stroke-width="0.6"/>
<line x1="196.80" y1="313.70" x2="196.80" y2="314.80" stroke="#333" stroke-width="0.6"/>
<line x1="201.20" y1="313.70" x2="201.20" y2="314.80" stroke="#333" stroke-width="0.6"/>
<line x1="205.60" y1="313.70" x2="205.60" y2="314.80" stroke="#333" stroke-width="0.6"/>
<line x1="214.90" y1="313.70" x2="214.90" y2="315.50" stroke="#222" stroke-width="0.9"/>
<text x="218.90" y="320.70" font-size="6.3" fill="#2a2a2a" text-anchor="end" textLength="13.00" lengthAdjust="spacingAndGlyphs" transform="rotate(-57 218.90 320.70)" stroke="#2a2a2a" stroke-width="0.18">−10³</text>
<line x1="224.50" y1="313.70" x2="224.50" y2="315.50" stroke="#222" stroke-width="0.9"/>
<text x="228.50" y="320.70" font-size="6.3" fill="#2a2a2a" text-anchor="end" textLength="3.40" lengthAdjust="spacingAndGlyphs" transform="rotate(-57 228.50 320.70)" stroke="#2a2a2a" stroke-width="0.18">0</text>
<line x1="234.10" y1="313.70" x2="234.10" y2="315.50" stroke="#222" stroke-width="0.9"/>
<text x="238.10" y="320.70" font-size="6.3" fill="#2a2a2a" text-anchor="end" textLength="10.20" lengthAdjust="spacingAndGlyphs" transform="rotate(-57 238.10 320.70)" stroke="#2a2a2a" stroke-width="0.18">10³</text>
<line x1="249.70" y1="313.70" x2="249.70" y2="315.50" stroke="#222" stroke-width="0.9"/>
<text x="253.70" y="320.70" font-size="6.3" fill="#2a2a2a" text-anchor="end" textLength="10.20" lengthAdjust="spacingAndGlyphs" transform="rotate(-57 253.70 320.70)" stroke="#2a2a2a" stroke-width="0.18">10⁴</text>
<line x1="264.70" y1="313.70" x2="264.70" y2="315.50" stroke="#222" stroke-width="0.9"/>
<text x="268.70" y="320.70" font-size="6.3" fill="#2a2a2a" text-anchor="end" textLength="10.20" lengthAdjust="spacingAndGlyphs" transform="rotate(-57 268.70 320.70)" stroke="#2a2a2a" stroke-width="0.18">10⁵</text>
<line x1="212.70" y1="313.70" x2="212.70" y2="314.80" stroke="#333" stroke-width="0.6"/>
<line x1="217.10" y1="313.70" x2="217.10" y2="314.80" stroke="#333" stroke-width="0.6"/>
<line x1="221.50" y1="313.70" x2="221.50" y2="314.80" stroke="#333" stroke-width="0.6"/>
<line x1="225.90" y1="313.70" x2="225.90" y2="314.80" stroke="#333" stroke-width="0.6"/>
<line x1="230.30" y1="313.70" x2="230.30" y2="314.80" stroke="#333" stroke-width="0.6"/>
<line x1="234.70" y1="313.70" x2="234.70" y2="314.80" stroke="#333" stroke-width="0.6"/>
<line x1="239.10" y1="313.70" x2="239.10" y2="314.80" stroke="#333" stroke-width="0.6"/>
<line x1="243.50" y1="313.70" x2="243.50" y2="314.80" stroke="#333" stroke-width="0.6"/>
<line x1="247.90" y1="313.70" x2="247.90" y2="314.80" stroke="#333" stroke-width="0.6"/>
<line x1="252.30" y1="313.70" x2="252.30" y2="314.80" stroke="#333" stroke-width="0.6"/>
<line x1="256.70" y1="313.70" x2="256.70" y2="314.80" stroke="#333" stroke-width="0.6"/>
<line x1="261.10" y1="313.70" x2="261.10" y2="314.80" stroke="#333" stroke-width="0.6"/>
<line x1="265.50" y1="313.70" x2="265.50" y2="314.80" stroke="#333" stroke-width="0.6"/>
<line x1="274.40" y1="313.70" x2="274.40" y2="315.50" stroke="#222" stroke-width="0.9"/>
<text x="278.40" y="320.70" font-size="6.3" fill="#2a2a2a" text-anchor="end" textLength="13.00" lengthAdjust="spacingAndGlyphs" transform="rotate(-57 278.40 320.70)" stroke="#2a2a2a" stroke-width="0.18">−10³</text>
<line x1="284.00" y1="313.70" x2="284.00" y2="315.50" stroke="#222" stroke-width="0.9"/>
<text x="288.00" y="320.70" font-size="6.3" fill="#2a2a2a" text-anchor="end" textLength="3.40" lengthAdjust="spacingAndGlyphs" transform="rotate(-57 288.00 320.70)" stroke="#2a2a2a" stroke-width="0.18">0</text>
<line x1="293.60" y1="313.70" x2="293.60" y2="315.50" stroke="#222" stroke-width="0.9"/>
<text x="297.60" y="320.70" font-size="6.3" fill="#2a2a2a" text-anchor="end" textLength="10.20" lengthAdjust="spacingAndGlyphs" transform="rotate(-57 297.60 320.70)" stroke="#2a2a2a" stroke-width="0.18">10³</text>
<line x1="309.20" y1="313.70" x2="309.20" y2="315.50" stroke="#222" stroke-width="0.9"/>
<text x="313.20" y="320.70" font-size="6.3" fill="#2a2a2a" text-anchor="end" textLength="10.20" lengthAdjust="spacingAndGlyphs" transform="rotate(-57 313.20 320.70)" stroke="#2a2a2a" stroke-width="0.18">10⁴</text>
<line x1="324.20" y1="313.70" x2="324.20" y2="315.50" stroke="#222" stroke-width="0.9"/>
<text x="328.20" y="320.70" font-size="6.3" fill="#2a2a2a" text-anchor="end" textLength="10.20" lengthAdjust="spacingAndGlyphs" transform="rotate(-57 328.20 320.70)" stroke="#2a2a2a" stroke-width="0.18">10⁵</text>
<line x1="272.20" y1="313.70" x2="272.20" y2="314.80" stroke="#333" stroke-width="0.6"/>
<line x1="276.60" y1="313.70" x2="276.60" y2="314.80" stroke="#333" stroke-width="0.6"/>
<line x1="281.00" y1="313.70" x2="281.00" y2="314.80" stroke="#333" stroke-width="0.6"/>
<line x1="285.40" y1="313.70" x2="285.40" y2="314.80" stroke="#333" stroke-width="0.6"/>
<line x1="289.80" y1="313.70" x2="289.80" y2="314.80" stroke="#333" stroke-width="0.6"/>
<line x1="294.20" y1="313.70" x2="294.20" y2="314.80" stroke="#333" stroke-width="0.6"/>
<line x1="298.60" y1="313.70" x2="298.60" y2="314.80" stroke="#333" stroke-width="0.6"/>
<line x1="303.00" y1="313.70" x2="303.00" y2="314.80" stroke="#333" stroke-width="0.6"/>
<line x1="307.40" y1="313.70" x2="307.40" y2="314.80" stroke="#333" stroke-width="0.6"/>
<line x1="311.80" y1="313.70" x2="311.80" y2="314.80" stroke="#333" stroke-width="0.6"/>
<line x1="316.20" y1="313.70" x2="316.20" y2="314.80" stroke="#333" stroke-width="0.6"/>
<line x1="320.60" y1="313.70" x2="320.60" y2="314.80" stroke="#333" stroke-width="0.6"/>
<line x1="325.00" y1="313.70" x2="325.00" y2="314.80" stroke="#333" stroke-width="0.6"/>
<line x1="336.20" y1="313.70" x2="336.20" y2="315.50" stroke="#222" stroke-width="0.9"/>
<text x="340.20" y="320.70" font-size="6.3" fill="#2a2a2a" text-anchor="end" textLength="13.00" lengthAdjust="spacingAndGlyphs" transform="rotate(-57 340.20 320.70)" stroke="#2a2a2a" stroke-width="0.18">−10³</text>
<line x1="345.80" y1="313.70" x2="345.80" y2="315.50" stroke="#222" stroke-width="0.9"/>
<text x="349.80" y="320.70" font-size="6.3" fill="#2a2a2a" text-anchor="end" textLength="3.40" lengthAdjust="spacingAndGlyphs" transform="rotate(-57 349.80 320.70)" stroke="#2a2a2a" stroke-width="0.18">0</text>
<line x1="355.40" y1="313.70" x2="355.40" y2="315.50" stroke="#222" stroke-width="0.9"/>
<text x="359.40" y="320.70" font-size="6.3" fill="#2a2a2a" text-anchor="end" textLength="10.20" lengthAdjust="spacingAndGlyphs" transform="rotate(-57 359.40 320.70)" stroke="#2a2a2a" stroke-width="0.18">10³</text>
<line x1="371.00" y1="313.70" x2="371.00" y2="315.50" stroke="#222" stroke-width="0.9"/>
<text x="375.00" y="320.70" font-size="6.3" fill="#2a2a2a" text-anchor="end" textLength="10.20" lengthAdjust="spacingAndGlyphs" transform="rotate(-57 375.00 320.70)" stroke="#2a2a2a" stroke-width="0.18">10⁴</text>
<line x1="386.00" y1="313.70" x2="386.00" y2="315.50" stroke="#222" stroke-width="0.9"/>
<text x="390.00" y="320.70" font-size="6.3" fill="#2a2a2a" text-anchor="end" textLength="10.20" lengthAdjust="spacingAndGlyphs" transform="rotate(-57 390.00 320.70)" stroke="#2a2a2a" stroke-width="0.18">10⁵</text>
<line x1="334.00" y1="313.70" x2="334.00" y2="314.80" stroke="#333" stroke-width="0.6"/>
<line x1="338.40" y1="313.70" x2="338.40" y2="314.80" stroke="#333" stroke-width="0.6"/>
<line x1="342.80" y1="313.70" x2="342.80" y2="314.80" stroke="#333" stroke-width="0.6"/>
<line x1="347.20" y1="313.70" x2="347.20" y2="314.80" stroke="#333" stroke-width="0.6"/>
<line x1="351.60" y1="313.70" x2="351.60" y2="314.80" stroke="#333" stroke-width="0.6"/>
<line x1="356.00" y1="313.70" x2="356.00" y2="314.80" stroke="#333" stroke-width="0.6"/>
<line x1="360.40" y1="313.70" x2="360.40" y2="314.80" stroke="#333" stroke-width="0.6"/>
<line x1="364.80" y1="313.70" x2="364.80" y2="314.80" stroke="#333" stroke-width="0.6"/>
<line x1="369.20" y1="313.70" x2="369.20" y2="314.80" stroke="#333" stroke-width="0.6"/>
<line x1="373.60" y1="313.70" x2="373.60" y2="314.80" stroke="#333" stroke-width="0.6"/>
<line x1="378.00" y1="313.70" x2="378.00" y2="314.80" stroke="#333" stroke-width="0.6"/>
<line x1="382.40" y1="313.70" x2="382.40" y2="314.80" stroke="#333" stroke-width="0.6"/>
<line x1="386.80" y1="313.70" x2="386.80" y2="314.80" stroke="#333" stroke-width="0.6"/>
<text x="79.80" y="344.72" font-size="7.0" fill="#333" textLength="24.00" lengthAdjust="spacingAndGlyphs" stroke="#333" stroke-width="0.14">GSH 4</text>
<text x="203.00" y="344.72" font-size="7.0" fill="#333" textLength="24.00" lengthAdjust="spacingAndGlyphs" stroke="#333" stroke-width="0.14">GSH 5</text>
<text x="326.30" y="344.72" font-size="7.0" fill="#333" textLength="23.70" lengthAdjust="spacingAndGlyphs" stroke="#333" stroke-width="0.14">GSH 6</text>
<line x1="34.20" y1="349.60" x2="150.50" y2="349.60" stroke="#444" stroke-width="1.0"/>
<line x1="155.50" y1="349.60" x2="276.30" y2="349.60" stroke="#444" stroke-width="1.0"/>
<line x1="282.50" y1="349.60" x2="395.00" y2="349.60" stroke="#444" stroke-width="1.0"/>
<text x="15.80" y="360.61" font-size="6.7" fill="#333" textLength="12.70" lengthAdjust="spacingAndGlyphs" stroke="#333" stroke-width="0.14">Day</text>
<text x="56.70" y="360.61" font-size="6.7" fill="#333" textLength="14.30" lengthAdjust="spacingAndGlyphs" stroke="#333" stroke-width="0.14">– C1</text>
<text x="115.50" y="360.61" font-size="6.7" fill="#333" textLength="15.80" lengthAdjust="spacingAndGlyphs" stroke="#333" stroke-width="0.14">+ C1</text>
<text x="180.00" y="360.61" font-size="6.7" fill="#333" textLength="15.00" lengthAdjust="spacingAndGlyphs" stroke="#333" stroke-width="0.14">– C1</text>
<text x="238.80" y="360.61" font-size="6.7" fill="#333" textLength="15.70" lengthAdjust="spacingAndGlyphs" stroke="#333" stroke-width="0.14">+ C1</text>
<text x="297.50" y="360.61" font-size="6.7" fill="#333" textLength="13.50" lengthAdjust="spacingAndGlyphs" stroke="#333" stroke-width="0.14">– C1</text>
<text x="356.30" y="360.61" font-size="6.7" fill="#333" textLength="15.00" lengthAdjust="spacingAndGlyphs" stroke="#333" stroke-width="0.14">+ C1</text>
<text x="28.50" y="376.00" font-size="6.7" fill="#333" text-anchor="end" stroke="#333" stroke-width="0.14">0</text>
<text x="28.50" y="388.70" font-size="6.7" fill="#333" text-anchor="end" stroke="#333" stroke-width="0.14">+5</text>
<text x="28.50" y="400.80" font-size="6.7" fill="#333" text-anchor="end" stroke="#333" stroke-width="0.14">+7</text>
<text x="28.50" y="412.40" font-size="6.7" fill="#333" text-anchor="end" stroke="#333" stroke-width="0.14">+14</text>
<path d="M33.2,376.30 L40.7,376.28 L41.5,376.27 L42.2,376.25 L43.0,376.23 L43.7,376.18 L44.5,376.12 L45.2,376.03 L46.0,375.91 L46.7,375.73 L47.5,375.49 L48.2,375.17 L49.0,374.75 L49.7,374.22 L50.5,373.56 L51.2,372.77 L52.0,371.84 L52.7,370.80 L53.5,369.66 L54.2,368.46 L55.0,367.28 L55.7,366.19 L56.5,365.65 L57.2,365.65 L58.0,365.65 L58.7,365.65 L59.5,365.65 L60.2,365.65 L61.0,365.65 L61.7,365.65 L62.5,365.65 L63.2,365.82 L64.0,366.40 L64.7,366.96 L65.5,367.49 L66.2,367.99 L67.0,368.47 L67.7,368.94 L68.5,369.39 L69.2,369.82 L70.0,370.25 L70.7,370.67 L71.5,371.08 L72.2,371.47 L73.0,371.86 L73.7,372.23 L74.5,372.58 L75.2,372.92 L76.0,373.24 L76.7,373.54 L77.5,373.82 L78.2,374.08 L79.0,374.32 L79.7,374.54 L80.5,374.74 L81.2,374.93 L82.0,375.09 L82.7,375.24 L83.5,375.38 L84.2,375.50 L85.0,375.61 L85.7,375.70 L86.5,375.79 L87.2,375.86 L88.0,375.92 L88.7,375.98 L89.5,376.03 L90.2,376.07 L91.0,376.11 L91.7,376.14 L92.5,376.16 L93.2,376.19 L93.70,376.30 L33.20,376.30Z" fill="#c8a266" stroke="none"/>
<path d="M33.2,376.30 L40.7,376.28 L41.5,376.27 L42.2,376.25 L43.0,376.23 L43.7,376.18 L44.5,376.12 L45.2,376.03 L46.0,375.91 L46.7,375.73 L47.5,375.49 L48.2,375.17 L49.0,374.75 L49.7,374.22 L50.5,373.56 L51.2,372.77 L52.0,371.84 L52.7,370.80 L53.5,369.66 L54.2,368.46 L55.0,367.28 L55.7,366.19 L56.5,365.65 L57.2,365.65 L58.0,365.65 L58.7,365.65 L59.5,365.65 L60.2,365.65 L61.0,365.65 L61.7,365.65 L62.5,365.65 L63.2,365.82 L64.0,366.40 L64.7,366.96 L65.5,367.49 L66.2,367.99 L67.0,368.47 L67.7,368.94 L68.5,369.39 L69.2,369.82 L70.0,370.25 L70.7,370.67 L71.5,371.08 L72.2,371.47 L73.0,371.86 L73.7,372.23 L74.5,372.58 L75.2,372.92 L76.0,373.24 L76.7,373.54 L77.5,373.82 L78.2,374.08 L79.0,374.32 L79.7,374.54 L80.5,374.74 L81.2,374.93 L82.0,375.09 L82.7,375.24 L83.5,375.38 L84.2,375.50 L85.0,375.61 L85.7,375.70 L86.5,375.79 L87.2,375.86 L88.0,375.92 L88.7,375.98 L89.5,376.03 L90.2,376.07 L91.0,376.11 L91.7,376.14 L92.5,376.16 L93.2,376.19" fill="none" stroke="#7a5a2a" stroke-width="0.7" stroke-linejoin="round"/>
<line x1="32.70" y1="376.30" x2="94.20" y2="376.30" stroke="#7a5a2a" stroke-width="0.8" stroke-opacity="0.75"/>
<path d="M33.2,388.80 L35.5,388.79 L36.2,388.78 L37.0,388.75 L37.7,388.72 L38.5,388.65 L39.2,388.55 L40.0,388.39 L40.7,388.14 L41.5,387.77 L42.2,387.25 L43.0,386.55 L43.7,385.64 L44.5,384.51 L45.2,383.22 L46.0,381.82 L46.7,380.46 L47.5,379.33 L48.2,378.70 L49.0,379.05 L49.7,379.97 L50.5,381.18 L51.2,382.49 L52.0,383.76 L52.7,384.92 L53.5,385.91 L54.2,386.71 L55.0,387.34 L55.7,387.81 L56.5,388.14 L57.2,388.38 L58.0,388.54 L58.7,388.64 L59.5,388.70 L60.2,388.74 L61.0,388.77 L61.7,388.78 L93.2,388.80 L93.70,388.80 L33.20,388.80Z" fill="#c8a266" stroke="none"/>
<path d="M33.2,388.80 L35.5,388.79 L36.2,388.78 L37.0,388.75 L37.7,388.72 L38.5,388.65 L39.2,388.55 L40.0,388.39 L40.7,388.14 L41.5,387.77 L42.2,387.25 L43.0,386.55 L43.7,385.64 L44.5,384.51 L45.2,383.22 L46.0,381.82 L46.7,380.46 L47.5,379.33 L48.2,378.70 L49.0,379.05 L49.7,379.97 L50.5,381.18 L51.2,382.49 L52.0,383.76 L52.7,384.92 L53.5,385.91 L54.2,386.71 L55.0,387.34 L55.7,387.81 L56.5,388.14 L57.2,388.38 L58.0,388.54 L58.7,388.64 L59.5,388.70 L60.2,388.74 L61.0,388.77 L61.7,388.78 L93.2,388.80" fill="none" stroke="#7a5a2a" stroke-width="0.7" stroke-linejoin="round"/>
<line x1="32.70" y1="388.80" x2="94.20" y2="388.80" stroke="#7a5a2a" stroke-width="0.8" stroke-opacity="0.75"/>
<path d="M33.2,401.30 L36.2,401.28 L37.0,401.26 L37.7,401.23 L38.5,401.18 L39.2,401.10 L40.0,400.96 L40.7,400.75 L41.5,400.44 L42.2,399.98 L43.0,399.35 L43.7,398.53 L44.5,397.49 L45.2,396.25 L46.0,394.88 L46.7,393.49 L47.5,392.24 L48.2,391.36 L49.0,391.31 L49.7,392.06 L50.5,393.18 L51.2,394.46 L52.0,395.76 L52.7,396.98 L53.5,398.04 L54.2,398.91 L55.0,399.61 L55.7,400.14 L56.5,400.52 L57.2,400.79 L58.0,400.98 L58.7,401.10 L59.5,401.18 L60.2,401.23 L61.0,401.26 L61.7,401.28 L62.5,401.29 L93.2,401.30 L93.70,401.30 L33.20,401.30Z" fill="#c8a266" stroke="none"/>
<path d="M33.2,401.30 L36.2,401.28 L37.0,401.26 L37.7,401.23 L38.5,401.18 L39.2,401.10 L40.0,400.96 L40.7,400.75 L41.5,400.44 L42.2,399.98 L43.0,399.35 L43.7,398.53 L44.5,397.49 L45.2,396.25 L46.0,394.88 L46.7,393.49 L47.5,392.24 L48.2,391.36 L49.0,391.31 L49.7,392.06 L50.5,393.18 L51.2,394.46 L52.0,395.76 L52.7,396.98 L53.5,398.04 L54.2,398.91 L55.0,399.61 L55.7,400.14 L56.5,400.52 L57.2,400.79 L58.0,400.98 L58.7,401.10 L59.5,401.18 L60.2,401.23 L61.0,401.26 L61.7,401.28 L62.5,401.29 L93.2,401.30" fill="none" stroke="#7a5a2a" stroke-width="0.7" stroke-linejoin="round"/>
<line x1="32.70" y1="401.30" x2="94.20" y2="401.30" stroke="#7a5a2a" stroke-width="0.8" stroke-opacity="0.75"/>
<path d="M33.2,413.80 L38.5,413.79 L39.2,413.78 L40.0,413.75 L40.7,413.70 L41.5,413.60 L42.2,413.41 L43.0,413.09 L43.7,412.57 L44.5,411.79 L45.2,410.68 L46.0,409.25 L46.7,407.56 L47.5,405.84 L48.2,404.43 L49.0,403.94 L49.7,404.79 L50.5,406.20 L51.2,407.80 L52.0,409.32 L52.7,410.64 L53.5,411.68 L54.2,412.44 L55.0,412.97 L55.7,413.31 L56.5,413.53 L57.2,413.65 L58.0,413.72 L58.7,413.76 L59.5,413.78 L93.2,413.80 L93.70,413.80 L33.20,413.80Z" fill="#c8a266" stroke="none"/>
<path d="M33.2,413.80 L38.5,413.79 L39.2,413.78 L40.0,413.75 L40.7,413.70 L41.5,413.60 L42.2,413.41 L43.0,413.09 L43.7,412.57 L44.5,411.79 L45.2,410.68 L46.0,409.25 L46.7,407.56 L47.5,405.84 L48.2,404.43 L49.0,403.94 L49.7,404.79 L50.5,406.20 L51.2,407.80 L52.0,409.32 L52.7,410.64 L53.5,411.68 L54.2,412.44 L55.0,412.97 L55.7,413.31 L56.5,413.53 L57.2,413.65 L58.0,413.72 L58.7,413.76 L59.5,413.78 L93.2,413.80" fill="none" stroke="#7a5a2a" stroke-width="0.7" stroke-linejoin="round"/>
<line x1="55.80" y1="364.80" x2="55.80" y2="413.80" stroke="#111" stroke-width="1.2" stroke-dasharray="2.6,2.0"/>
<path d="M94.7,376.30 L100.7,376.28 L101.5,376.27 L102.2,376.26 L103.0,376.23 L103.7,376.20 L104.5,376.15 L105.2,376.09 L106.0,375.99 L106.7,375.86 L107.5,375.69 L108.2,375.46 L109.0,375.17 L109.7,374.81 L110.5,374.38 L111.2,373.88 L112.0,373.34 L112.7,372.77 L113.5,372.21 L114.2,371.73 L115.0,371.37 L115.7,371.04 L116.5,370.70 L117.2,370.33 L118.0,369.90 L118.7,369.42 L119.5,368.92 L120.2,368.41 L121.0,367.93 L121.7,367.52 L122.5,367.24 L123.2,367.19 L124.0,367.37 L124.7,367.67 L125.5,368.05 L126.2,368.50 L127.0,368.99 L127.7,369.51 L128.4,370.05 L129.2,370.59 L129.9,371.13 L130.7,371.65 L131.4,372.16 L132.2,372.63 L132.9,373.07 L133.7,373.48 L134.4,373.86 L135.2,374.19 L135.9,374.50 L136.7,374.77 L137.4,375.01 L138.2,375.21 L138.9,375.39 L139.7,375.55 L140.4,375.68 L141.2,375.79 L141.9,375.89 L142.7,375.96 L143.4,376.03 L144.2,376.08 L144.9,376.13 L145.7,376.16 L146.4,376.19 L147.2,376.22 L147.9,376.23 L148.7,376.25 L149.4,376.26 L150.2,376.27 L150.9,376.28 L151.7,376.28 L153.2,376.29 L153.80,376.30 L94.70,376.30Z" fill="#ecbc64" stroke="none"/>
<path d="M94.7,376.30 L100.7,376.28 L101.5,376.27 L102.2,376.26 L103.0,376.23 L103.7,376.20 L104.5,376.15 L105.2,376.09 L106.0,375.99 L106.7,375.86 L107.5,375.69 L108.2,375.46 L109.0,375.17 L109.7,374.81 L110.5,374.38 L111.2,373.88 L112.0,373.34 L112.7,372.77 L113.5,372.21 L114.2,371.73 L115.0,371.37 L115.7,371.04 L116.5,370.70 L117.2,370.33 L118.0,369.90 L118.7,369.42 L119.5,368.92 L120.2,368.41 L121.0,367.93 L121.7,367.52 L122.5,367.24 L123.2,367.19 L124.0,367.37 L124.7,367.67 L125.5,368.05 L126.2,368.50 L127.0,368.99 L127.7,369.51 L128.4,370.05 L129.2,370.59 L129.9,371.13 L130.7,371.65 L131.4,372.16 L132.2,372.63 L132.9,373.07 L133.7,373.48 L134.4,373.86 L135.2,374.19 L135.9,374.50 L136.7,374.77 L137.4,375.01 L138.2,375.21 L138.9,375.39 L139.7,375.55 L140.4,375.68 L141.2,375.79 L141.9,375.89 L142.7,375.96 L143.4,376.03 L144.2,376.08 L144.9,376.13 L145.7,376.16 L146.4,376.19 L147.2,376.22 L147.9,376.23 L148.7,376.25 L149.4,376.26 L150.2,376.27 L150.9,376.28 L151.7,376.28 L153.2,376.29" fill="none" stroke="#b88a36" stroke-width="0.7" stroke-linejoin="round"/>
<line x1="94.20" y1="376.30" x2="154.30" y2="376.30" stroke="#b88a36" stroke-width="0.8" stroke-opacity="0.75"/>
<path d="M94.7,388.80 L98.5,388.78 L99.2,388.77 L100.0,388.76 L100.7,388.74 L101.5,388.70 L102.2,388.64 L103.0,388.54 L103.7,388.38 L104.5,388.11 L105.2,387.71 L106.0,387.10 L106.7,386.24 L107.5,385.09 L108.2,383.66 L109.0,381.99 L109.7,380.26 L110.5,378.71 L111.2,377.80 L112.0,377.80 L112.7,378.26 L113.5,378.96 L114.2,379.79 L115.0,380.65 L115.7,381.49 L116.5,382.28 L117.2,383.00 L118.0,383.66 L118.7,384.29 L119.5,384.88 L120.2,385.41 L121.0,385.87 L121.7,386.29 L122.5,386.65 L123.2,386.97 L124.0,387.25 L124.7,387.50 L125.5,387.71 L126.2,387.90 L127.0,388.06 L127.7,388.20 L128.4,388.31 L129.2,388.41 L129.9,388.49 L130.7,388.56 L131.4,388.61 L132.2,388.66 L132.9,388.69 L133.7,388.72 L134.4,388.74 L135.2,388.75 L135.9,388.77 L136.7,388.78 L137.4,388.78 L153.2,388.80 L153.80,388.80 L94.70,388.80Z" fill="#ecbc64" stroke="none"/>
<path d="M94.7,388.80 L98.5,388.78 L99.2,388.77 L100.0,388.76 L100.7,388.74 L101.5,388.70 L102.2,388.64 L103.0,388.54 L103.7,388.38 L104.5,388.11 L105.2,387.71 L106.0,387.10 L106.7,386.24 L107.5,385.09 L108.2,383.66 L109.0,381.99 L109.7,380.26 L110.5,378.71 L111.2,377.80 L112.0,377.80 L112.7,378.26 L113.5,378.96 L114.2,379.79 L115.0,380.65 L115.7,381.49 L116.5,382.28 L117.2,383.00 L118.0,383.66 L118.7,384.29 L119.5,384.88 L120.2,385.41 L121.0,385.87 L121.7,386.29 L122.5,386.65 L123.2,386.97 L124.0,387.25 L124.7,387.50 L125.5,387.71 L126.2,387.90 L127.0,388.06 L127.7,388.20 L128.4,388.31 L129.2,388.41 L129.9,388.49 L130.7,388.56 L131.4,388.61 L132.2,388.66 L132.9,388.69 L133.7,388.72 L134.4,388.74 L135.2,388.75 L135.9,388.77 L136.7,388.78 L137.4,388.78 L153.2,388.80" fill="none" stroke="#b88a36" stroke-width="0.7" stroke-linejoin="round"/>
<line x1="94.20" y1="388.80" x2="154.30" y2="388.80" stroke="#b88a36" stroke-width="0.8" stroke-opacity="0.75"/>
<path d="M94.7,401.30 L97.7,401.28 L98.5,401.28 L99.2,401.27 L100.0,401.25 L100.7,401.23 L101.5,401.19 L102.2,401.13 L103.0,401.02 L103.7,400.85 L104.5,400.58 L105.2,400.16 L106.0,399.54 L106.7,398.67 L107.5,397.50 L108.2,396.03 L109.0,394.34 L109.7,392.58 L110.5,391.01 L111.2,390.30 L112.0,390.30 L112.7,390.98 L113.5,392.02 L114.2,393.16 L115.0,394.29 L115.7,395.33 L116.5,396.23 L117.2,397.02 L118.0,397.70 L118.7,398.27 L119.5,398.75 L120.2,399.14 L121.0,399.46 L121.7,399.74 L122.5,399.97 L123.2,400.17 L124.0,400.35 L124.7,400.51 L125.5,400.64 L126.2,400.76 L127.0,400.86 L127.7,400.94 L128.4,401.01 L129.2,401.07 L129.9,401.12 L130.7,401.16 L131.4,401.19 L132.2,401.22 L132.9,401.24 L133.7,401.25 L134.4,401.27 L135.2,401.28 L135.9,401.28 L153.2,401.30 L153.80,401.30 L94.70,401.30Z" fill="#ecbc64" stroke="none"/>
<path d="M94.7,401.30 L97.7,401.28 L98.5,401.28 L99.2,401.27 L100.0,401.25 L100.7,401.23 L101.5,401.19 L102.2,401.13 L103.0,401.02 L103.7,400.85 L104.5,400.58 L105.2,400.16 L106.0,399.54 L106.7,398.67 L107.5,397.50 L108.2,396.03 L109.0,394.34 L109.7,392.58 L110.5,391.01 L111.2,390.30 L112.0,390.30 L112.7,390.98 L113.5,392.02 L114.2,393.16 L115.0,394.29 L115.7,395.33 L116.5,396.23 L117.2,397.02 L118.0,397.70 L118.7,398.27 L119.5,398.75 L120.2,399.14 L121.0,399.46 L121.7,399.74 L122.5,399.97 L123.2,400.17 L124.0,400.35 L124.7,400.51 L125.5,400.64 L126.2,400.76 L127.0,400.86 L127.7,400.94 L128.4,401.01 L129.2,401.07 L129.9,401.12 L130.7,401.16 L131.4,401.19 L132.2,401.22 L132.9,401.24 L133.7,401.25 L134.4,401.27 L135.2,401.28 L135.9,401.28 L153.2,401.30" fill="none" stroke="#b88a36" stroke-width="0.7" stroke-linejoin="round"/>
<line x1="94.20" y1="401.30" x2="154.30" y2="401.30" stroke="#b88a36" stroke-width="0.8" stroke-opacity="0.75"/>
<path d="M94.7,413.80 L101.5,413.78 L102.2,413.77 L103.0,413.74 L103.7,413.70 L104.5,413.64 L105.2,413.54 L106.0,413.39 L106.7,413.17 L107.5,412.85 L108.2,412.41 L109.0,411.81 L109.7,411.04 L110.5,410.08 L111.2,408.94 L112.0,407.66 L112.7,406.31 L113.5,405.02 L114.2,403.93 L115.0,403.29 L115.7,403.31 L116.5,403.60 L117.2,404.03 L118.0,404.56 L118.7,405.14 L119.5,405.72 L120.2,406.28 L121.0,406.81 L121.7,407.29 L122.5,407.74 L123.2,408.15 L124.0,408.56 L124.7,409.03 L125.5,409.50 L126.2,409.97 L127.0,410.41 L127.7,410.83 L128.4,411.22 L129.2,411.58 L129.9,411.91 L130.7,412.20 L131.4,412.46 L132.2,412.69 L132.9,412.89 L133.7,413.06 L134.4,413.20 L135.2,413.32 L135.9,413.42 L136.7,413.51 L137.4,413.57 L138.2,413.62 L138.9,413.67 L139.7,413.70 L140.4,413.72 L141.2,413.74 L141.9,413.76 L142.7,413.77 L143.4,413.78 L144.2,413.78 L153.2,413.80 L153.80,413.80 L94.70,413.80Z" fill="#ecbc64" stroke="none"/>
<path d="M94.7,413.80 L101.5,413.78 L102.2,413.77 L103.0,413.74 L103.7,413.70 L104.5,413.64 L105.2,413.54 L106.0,413.39 L106.7,413.17 L107.5,412.85 L108.2,412.41 L109.0,411.81 L109.7,411.04 L110.5,410.08 L111.2,408.94 L112.0,407.66 L112.7,406.31 L113.5,405.02 L114.2,403.93 L115.0,403.29 L115.7,403.31 L116.5,403.60 L117.2,404.03 L118.0,404.56 L118.7,405.14 L119.5,405.72 L120.2,406.28 L121.0,406.81 L121.7,407.29 L122.5,407.74 L123.2,408.15 L124.0,408.56 L124.7,409.03 L125.5,409.50 L126.2,409.97 L127.0,410.41 L127.7,410.83 L128.4,411.22 L129.2,411.58 L129.9,411.91 L130.7,412.20 L131.4,412.46 L132.2,412.69 L132.9,412.89 L133.7,413.06 L134.4,413.20 L135.2,413.32 L135.9,413.42 L136.7,413.51 L137.4,413.57 L138.2,413.62 L138.9,413.67 L139.7,413.70 L140.4,413.72 L141.2,413.74 L141.9,413.76 L142.7,413.77 L143.4,413.78 L144.2,413.78 L153.2,413.80" fill="none" stroke="#b88a36" stroke-width="0.7" stroke-linejoin="round"/>
<line x1="117.00" y1="364.80" x2="117.00" y2="413.80" stroke="#111" stroke-width="1.2" stroke-dasharray="2.6,2.0"/>
<path d="M154.8,376.30 L161.6,376.28 L162.3,376.28 L163.1,376.26 L163.8,376.25 L164.6,376.22 L165.3,376.19 L166.1,376.15 L166.8,376.09 L167.6,376.01 L168.3,375.92 L169.1,375.80 L169.8,375.65 L170.6,375.47 L171.3,375.25 L172.1,375.00 L172.8,374.72 L173.6,374.41 L174.3,374.07 L175.1,373.71 L175.8,373.34 L176.6,372.98 L177.3,372.67 L178.1,372.41 L178.8,372.14 L179.6,371.85 L180.3,371.51 L181.1,371.12 L181.8,370.67 L182.6,370.16 L183.3,369.60 L184.1,369.02 L184.8,368.44 L185.6,367.88 L186.3,367.39 L187.1,367.01 L187.8,366.81 L188.6,366.94 L189.3,367.32 L190.1,367.85 L190.8,368.49 L191.6,369.19 L192.3,369.92 L193.1,370.65 L193.8,371.37 L194.6,372.05 L195.3,372.68 L196.1,373.25 L196.8,373.76 L197.6,374.21 L198.3,374.60 L199.1,374.93 L199.8,375.21 L200.6,375.44 L201.3,375.63 L202.1,375.78 L202.8,375.90 L203.6,376.00 L204.3,376.07 L205.1,376.13 L205.8,376.18 L206.6,376.21 L207.3,376.23 L208.1,376.25 L208.8,376.27 L209.6,376.28 L210.3,376.28 L215.6,376.30 L215.80,376.30 L154.80,376.30Z" fill="#e7a0d0" stroke="none"/>
<path d="M154.8,376.30 L161.6,376.28 L162.3,376.28 L163.1,376.26 L163.8,376.25 L164.6,376.22 L165.3,376.19 L166.1,376.15 L166.8,376.09 L167.6,376.01 L168.3,375.92 L169.1,375.80 L169.8,375.65 L170.6,375.47 L171.3,375.25 L172.1,375.00 L172.8,374.72 L173.6,374.41 L174.3,374.07 L175.1,373.71 L175.8,373.34 L176.6,372.98 L177.3,372.67 L178.1,372.41 L178.8,372.14 L179.6,371.85 L180.3,371.51 L181.1,371.12 L181.8,370.67 L182.6,370.16 L183.3,369.60 L184.1,369.02 L184.8,368.44 L185.6,367.88 L186.3,367.39 L187.1,367.01 L187.8,366.81 L188.6,366.94 L189.3,367.32 L190.1,367.85 L190.8,368.49 L191.6,369.19 L192.3,369.92 L193.1,370.65 L193.8,371.37 L194.6,372.05 L195.3,372.68 L196.1,373.25 L196.8,373.76 L197.6,374.21 L198.3,374.60 L199.1,374.93 L199.8,375.21 L200.6,375.44 L201.3,375.63 L202.1,375.78 L202.8,375.90 L203.6,376.00 L204.3,376.07 L205.1,376.13 L205.8,376.18 L206.6,376.21 L207.3,376.23 L208.1,376.25 L208.8,376.27 L209.6,376.28 L210.3,376.28 L215.6,376.30" fill="none" stroke="#b0578e" stroke-width="0.7" stroke-linejoin="round"/>
<line x1="154.30" y1="376.30" x2="216.30" y2="376.30" stroke="#b0578e" stroke-width="0.8" stroke-opacity="0.75"/>
<path d="M154.8,388.80 L160.8,388.78 L161.6,388.77 L162.3,388.74 L163.1,388.69 L163.8,388.60 L164.6,388.44 L165.3,388.17 L166.1,387.76 L166.8,387.13 L167.6,386.24 L168.3,385.06 L169.1,383.59 L169.8,381.91 L170.6,380.21 L171.3,378.76 L172.1,378.02 L172.8,378.26 L173.6,378.85 L174.3,379.64 L175.1,380.51 L175.8,381.36 L176.6,382.15 L177.3,382.82 L178.1,383.37 L178.8,383.80 L179.6,384.14 L180.3,384.41 L181.1,384.68 L181.8,385.02 L182.6,385.37 L183.3,385.73 L184.1,386.08 L184.8,386.42 L185.6,386.75 L186.3,387.05 L187.1,387.33 L187.8,387.58 L188.6,387.80 L189.3,387.99 L190.1,388.16 L190.8,388.29 L191.6,388.41 L192.3,388.50 L193.1,388.57 L193.8,388.63 L194.6,388.67 L195.3,388.71 L196.1,388.73 L196.8,388.75 L197.6,388.77 L198.3,388.78 L199.1,388.78 L215.6,388.80 L215.80,388.80 L154.80,388.80Z" fill="#e7a0d0" stroke="none"/>
<path d="M154.8,388.80 L160.8,388.78 L161.6,388.77 L162.3,388.74 L163.1,388.69 L163.8,388.60 L164.6,388.44 L165.3,388.17 L166.1,387.76 L166.8,387.13 L167.6,386.24 L168.3,385.06 L169.1,383.59 L169.8,381.91 L170.6,380.21 L171.3,378.76 L172.1,378.02 L172.8,378.26 L173.6,378.85 L174.3,379.64 L175.1,380.51 L175.8,381.36 L176.6,382.15 L177.3,382.82 L178.1,383.37 L178.8,383.80 L179.6,384.14 L180.3,384.41 L181.1,384.68 L181.8,385.02 L182.6,385.37 L183.3,385.73 L184.1,386.08 L184.8,386.42 L185.6,386.75 L186.3,387.05 L187.1,387.33 L187.8,387.58 L188.6,387.80 L189.3,387.99 L190.1,388.16 L190.8,388.29 L191.6,388.41 L192.3,388.50 L193.1,388.57 L193.8,388.63 L194.6,388.67 L195.3,388.71 L196.1,388.73 L196.8,388.75 L197.6,388.77 L198.3,388.78 L199.1,388.78 L215.6,388.80" fill="none" stroke="#b0578e" stroke-width="0.7" stroke-linejoin="round"/>
<line x1="154.30" y1="388.80" x2="216.30" y2="388.80" stroke="#b0578e" stroke-width="0.8" stroke-opacity="0.75"/>
<path d="M154.8,401.30 L160.8,401.28 L161.6,401.27 L162.3,401.24 L163.1,401.19 L163.8,401.10 L164.6,400.94 L165.3,400.68 L166.1,400.28 L166.8,399.66 L167.6,398.79 L168.3,397.64 L169.1,396.20 L169.8,394.56 L170.6,392.89 L171.3,391.47 L172.1,390.74 L172.8,390.97 L173.6,391.55 L174.3,392.32 L175.1,393.16 L175.8,393.99 L176.6,394.75 L177.3,395.40 L178.1,395.93 L178.8,396.35 L179.6,396.67 L180.3,396.94 L181.1,397.20 L181.8,397.53 L182.6,397.88 L183.3,398.23 L184.1,398.59 L184.8,398.93 L185.6,399.25 L186.3,399.55 L187.1,399.83 L187.8,400.08 L188.6,400.30 L189.3,400.49 L190.1,400.66 L190.8,400.79 L191.6,400.91 L192.3,401.00 L193.1,401.07 L193.8,401.13 L194.6,401.17 L195.3,401.21 L196.1,401.23 L196.8,401.25 L197.6,401.27 L198.3,401.28 L199.1,401.28 L215.6,401.30 L215.80,401.30 L154.80,401.30Z" fill="#e7a0d0" stroke="none"/>
<path d="M154.8,401.30 L160.8,401.28 L161.6,401.27 L162.3,401.24 L163.1,401.19 L163.8,401.10 L164.6,400.94 L165.3,400.68 L166.1,400.28 L166.8,399.66 L167.6,398.79 L168.3,397.64 L169.1,396.20 L169.8,394.56 L170.6,392.89 L171.3,391.47 L172.1,390.74 L172.8,390.97 L173.6,391.55 L174.3,392.32 L175.1,393.16 L175.8,393.99 L176.6,394.75 L177.3,395.40 L178.1,395.93 L178.8,396.35 L179.6,396.67 L180.3,396.94 L181.1,397.20 L181.8,397.53 L182.6,397.88 L183.3,398.23 L184.1,398.59 L184.8,398.93 L185.6,399.25 L186.3,399.55 L187.1,399.83 L187.8,400.08 L188.6,400.30 L189.3,400.49 L190.1,400.66 L190.8,400.79 L191.6,400.91 L192.3,401.00 L193.1,401.07 L193.8,401.13 L194.6,401.17 L195.3,401.21 L196.1,401.23 L196.8,401.25 L197.6,401.27 L198.3,401.28 L199.1,401.28 L215.6,401.30" fill="none" stroke="#b0578e" stroke-width="0.7" stroke-linejoin="round"/>
<line x1="154.30" y1="401.30" x2="216.30" y2="401.30" stroke="#b0578e" stroke-width="0.8" stroke-opacity="0.75"/>
<path d="M154.8,413.80 L160.8,413.79 L161.6,413.78 L162.3,413.76 L163.1,413.73 L163.8,413.68 L164.6,413.60 L165.3,413.46 L166.1,413.22 L166.8,412.85 L167.6,412.30 L168.3,411.49 L169.1,410.41 L169.8,409.02 L170.6,407.40 L171.3,405.68 L172.1,404.10 L172.8,403.03 L173.6,402.97 L174.3,403.42 L175.1,404.10 L175.8,404.90 L176.6,405.71 L177.3,406.48 L178.1,407.15 L178.8,407.71 L179.6,408.16 L180.3,408.52 L181.1,408.80 L181.8,409.06 L182.6,409.36 L183.3,409.71 L184.1,410.06 L184.8,410.41 L185.6,410.76 L186.3,411.11 L187.1,411.44 L187.8,411.75 L188.6,412.04 L189.3,412.30 L190.1,412.54 L190.8,412.75 L191.6,412.94 L192.3,413.10 L193.1,413.24 L193.8,413.35 L194.6,413.45 L195.3,413.52 L196.1,413.59 L196.8,413.64 L197.6,413.68 L198.3,413.71 L199.1,413.73 L199.8,413.75 L200.6,413.76 L201.3,413.77 L202.1,413.78 L215.6,413.80 L215.80,413.80 L154.80,413.80Z" fill="#e7a0d0" stroke="none"/>
<path d="M154.8,413.80 L160.8,413.79 L161.6,413.78 L162.3,413.76 L163.1,413.73 L163.8,413.68 L164.6,413.60 L165.3,413.46 L166.1,413.22 L166.8,412.85 L167.6,412.30 L168.3,411.49 L169.1,410.41 L169.8,409.02 L170.6,407.40 L171.3,405.68 L172.1,404.10 L172.8,403.03 L173.6,402.97 L174.3,403.42 L175.1,404.10 L175.8,404.90 L176.6,405.71 L177.3,406.48 L178.1,407.15 L178.8,407.71 L179.6,408.16 L180.3,408.52 L181.1,408.80 L181.8,409.06 L182.6,409.36 L183.3,409.71 L184.1,410.06 L184.8,410.41 L185.6,410.76 L186.3,411.11 L187.1,411.44 L187.8,411.75 L188.6,412.04 L189.3,412.30 L190.1,412.54 L190.8,412.75 L191.6,412.94 L192.3,413.10 L193.1,413.24 L193.8,413.35 L194.6,413.45 L195.3,413.52 L196.1,413.59 L196.8,413.64 L197.6,413.68 L198.3,413.71 L199.1,413.73 L199.8,413.75 L200.6,413.76 L201.3,413.77 L202.1,413.78 L215.6,413.80" fill="none" stroke="#b0578e" stroke-width="0.7" stroke-linejoin="round"/>
<line x1="178.00" y1="364.80" x2="178.00" y2="413.80" stroke="#111" stroke-width="1.2" stroke-dasharray="2.6,2.0"/>
<path d="M216.8,376.30 L222.8,376.29 L223.6,376.28 L224.3,376.27 L225.1,376.26 L225.8,376.25 L226.6,376.23 L227.3,376.21 L228.1,376.17 L228.8,376.13 L229.6,376.08 L230.3,376.02 L231.1,375.94 L231.8,375.84 L232.6,375.71 L233.3,375.56 L234.1,375.38 L234.8,375.16 L235.6,374.91 L236.3,374.60 L237.1,374.26 L237.8,373.86 L238.6,373.42 L239.3,372.92 L240.1,372.38 L240.8,371.80 L241.6,371.19 L242.3,370.56 L243.1,369.91 L243.8,369.29 L244.6,368.69 L245.3,368.15 L246.1,367.71 L246.8,367.38 L247.6,367.25 L248.3,367.42 L249.1,367.76 L249.8,368.22 L250.6,368.77 L251.3,369.37 L252.1,370.00 L252.8,370.64 L253.6,371.27 L254.3,371.88 L255.1,372.46 L255.8,372.99 L256.6,373.48 L257.3,373.92 L258.1,374.31 L258.8,374.65 L259.6,374.94 L260.3,375.19 L261.1,375.41 L261.8,375.58 L262.6,375.73 L263.3,375.85 L264.1,375.95 L264.8,376.03 L265.6,376.09 L266.3,376.14 L267.1,376.18 L267.8,376.21 L268.6,376.23 L269.3,376.25 L270.1,376.26 L270.8,376.27 L271.6,376.28 L276.8,376.30 L277.00,376.30 L216.80,376.30Z" fill="#d873b8" stroke="none"/>
<path d="M216.8,376.30 L222.8,376.29 L223.6,376.28 L224.3,376.27 L225.1,376.26 L225.8,376.25 L226.6,376.23 L227.3,376.21 L228.1,376.17 L228.8,376.13 L229.6,376.08 L230.3,376.02 L231.1,375.94 L231.8,375.84 L232.6,375.71 L233.3,375.56 L234.1,375.38 L234.8,375.16 L235.6,374.91 L236.3,374.60 L237.1,374.26 L237.8,373.86 L238.6,373.42 L239.3,372.92 L240.1,372.38 L240.8,371.80 L241.6,371.19 L242.3,370.56 L243.1,369.91 L243.8,369.29 L244.6,368.69 L245.3,368.15 L246.1,367.71 L246.8,367.38 L247.6,367.25 L248.3,367.42 L249.1,367.76 L249.8,368.22 L250.6,368.77 L251.3,369.37 L252.1,370.00 L252.8,370.64 L253.6,371.27 L254.3,371.88 L255.1,372.46 L255.8,372.99 L256.6,373.48 L257.3,373.92 L258.1,374.31 L258.8,374.65 L259.6,374.94 L260.3,375.19 L261.1,375.41 L261.8,375.58 L262.6,375.73 L263.3,375.85 L264.1,375.95 L264.8,376.03 L265.6,376.09 L266.3,376.14 L267.1,376.18 L267.8,376.21 L268.6,376.23 L269.3,376.25 L270.1,376.26 L270.8,376.27 L271.6,376.28 L276.8,376.30" fill="none" stroke="#8a2a68" stroke-width="0.7" stroke-linejoin="round"/>
<line x1="216.30" y1="376.30" x2="277.50" y2="376.30" stroke="#8a2a68" stroke-width="0.8" stroke-opacity="0.75"/>
<path d="M216.8,388.80 L220.6,388.78 L221.3,388.78 L222.1,388.77 L222.8,388.75 L223.6,388.73 L224.3,388.70 L225.1,388.64 L225.8,388.56 L226.6,388.43 L227.3,388.22 L228.1,387.90 L228.8,387.44 L229.6,386.78 L230.3,385.89 L231.1,384.75 L231.8,383.37 L232.6,381.82 L233.3,380.22 L234.1,378.80 L234.8,377.84 L235.6,377.80 L236.3,378.10 L237.1,378.65 L237.8,379.32 L238.6,380.03 L239.3,380.74 L240.1,381.41 L240.8,382.00 L241.6,382.52 L242.3,382.95 L243.1,383.31 L243.8,383.61 L244.6,383.87 L245.3,384.15 L246.1,384.45 L246.8,384.76 L247.6,385.07 L248.3,385.38 L249.1,385.68 L249.8,385.97 L250.6,386.25 L251.3,386.52 L252.1,386.78 L252.8,387.02 L253.6,387.24 L254.3,387.45 L255.1,387.64 L255.8,387.81 L256.6,387.96 L257.3,388.09 L258.1,388.21 L258.8,388.31 L259.6,388.40 L260.3,388.47 L261.1,388.53 L261.8,388.58 L262.6,388.63 L263.3,388.66 L264.1,388.69 L264.8,388.71 L265.6,388.73 L266.3,388.75 L267.1,388.76 L267.8,388.77 L268.6,388.78 L269.3,388.78 L276.8,388.80 L277.00,388.80 L216.80,388.80Z" fill="#d873b8" stroke="none"/>
<path d="M216.8,388.80 L220.6,388.78 L221.3,388.78 L222.1,388.77 L222.8,388.75 L223.6,388.73 L224.3,388.70 L225.1,388.64 L225.8,388.56 L226.6,388.43 L227.3,388.22 L228.1,387.90 L228.8,387.44 L229.6,386.78 L230.3,385.89 L231.1,384.75 L231.8,383.37 L232.6,381.82 L233.3,380.22 L234.1,378.80 L234.8,377.84 L235.6,377.80 L236.3,378.10 L237.1,378.65 L237.8,379.32 L238.6,380.03 L239.3,380.74 L240.1,381.41 L240.8,382.00 L241.6,382.52 L242.3,382.95 L243.1,383.31 L243.8,383.61 L244.6,383.87 L245.3,384.15 L246.1,384.45 L246.8,384.76 L247.6,385.07 L248.3,385.38 L249.1,385.68 L249.8,385.97 L250.6,386.25 L251.3,386.52 L252.1,386.78 L252.8,387.02 L253.6,387.24 L254.3,387.45 L255.1,387.64 L255.8,387.81 L256.6,387.96 L257.3,388.09 L258.1,388.21 L258.8,388.31 L259.6,388.40 L260.3,388.47 L261.1,388.53 L261.8,388.58 L262.6,388.63 L263.3,388.66 L264.1,388.69 L264.8,388.71 L265.6,388.73 L266.3,388.75 L267.1,388.76 L267.8,388.77 L268.6,388.78 L269.3,388.78 L276.8,388.80" fill="none" stroke="#8a2a68" stroke-width="0.7" stroke-linejoin="round"/>
<line x1="216.30" y1="388.80" x2="277.50" y2="388.80" stroke="#8a2a68" stroke-width="0.8" stroke-opacity="0.75"/>
<path d="M216.8,401.30 L220.6,401.28 L221.3,401.28 L222.1,401.27 L222.8,401.26 L223.6,401.24 L224.3,401.21 L225.1,401.16 L225.8,401.07 L226.6,400.94 L227.3,400.74 L228.1,400.43 L228.8,399.97 L229.6,399.32 L230.3,398.45 L231.1,397.32 L231.8,395.95 L232.6,394.41 L233.3,392.84 L234.1,391.43 L234.8,390.50 L235.6,390.45 L236.3,390.82 L237.1,391.40 L237.8,392.09 L238.6,392.84 L239.3,393.59 L240.1,394.29 L240.8,394.92 L241.6,395.47 L242.3,395.93 L243.1,396.32 L243.8,396.64 L244.6,396.92 L245.3,397.19 L246.1,397.49 L246.8,397.78 L247.6,398.06 L248.3,398.34 L249.1,398.60 L249.8,398.86 L250.6,399.11 L251.3,399.34 L252.1,399.56 L252.8,399.77 L253.6,399.96 L254.3,400.14 L255.1,400.30 L255.8,400.45 L256.6,400.58 L257.3,400.69 L258.1,400.79 L258.8,400.88 L259.6,400.95 L260.3,401.02 L261.1,401.07 L261.8,401.11 L262.6,401.15 L263.3,401.18 L264.1,401.21 L264.8,401.23 L265.6,401.24 L266.3,401.26 L267.1,401.27 L267.8,401.27 L268.6,401.28 L276.8,401.30 L277.00,401.30 L216.80,401.30Z" fill="#d873b8" stroke="none"/>
<path d="M216.8,401.30 L220.6,401.28 L221.3,401.28 L222.1,401.27 L222.8,401.26 L223.6,401.24 L224.3,401.21 L225.1,401.16 L225.8,401.07 L226.6,400.94 L227.3,400.74 L228.1,400.43 L228.8,399.97 L229.6,399.32 L230.3,398.45 L231.1,397.32 L231.8,395.95 L232.6,394.41 L233.3,392.84 L234.1,391.43 L234.8,390.50 L235.6,390.45 L236.3,390.82 L237.1,391.40 L237.8,392.09 L238.6,392.84 L239.3,393.59 L240.1,394.29 L240.8,394.92 L241.6,395.47 L242.3,395.93 L243.1,396.32 L243.8,396.64 L244.6,396.92 L245.3,397.19 L246.1,397.49 L246.8,397.78 L247.6,398.06 L248.3,398.34 L249.1,398.60 L249.8,398.86 L250.6,399.11 L251.3,399.34 L252.1,399.56 L252.8,399.77 L253.6,399.96 L254.3,400.14 L255.1,400.30 L255.8,400.45 L256.6,400.58 L257.3,400.69 L258.1,400.79 L258.8,400.88 L259.6,400.95 L260.3,401.02 L261.1,401.07 L261.8,401.11 L262.6,401.15 L263.3,401.18 L264.1,401.21 L264.8,401.23 L265.6,401.24 L266.3,401.26 L267.1,401.27 L267.8,401.27 L268.6,401.28 L276.8,401.30" fill="none" stroke="#8a2a68" stroke-width="0.7" stroke-linejoin="round"/>
<line x1="216.30" y1="401.30" x2="277.50" y2="401.30" stroke="#8a2a68" stroke-width="0.8" stroke-opacity="0.75"/>
<path d="M216.8,413.80 L220.6,413.78 L221.3,413.78 L222.1,413.77 L222.8,413.75 L223.6,413.73 L224.3,413.70 L225.1,413.64 L225.8,413.56 L226.6,413.43 L227.3,413.22 L228.1,412.90 L228.8,412.44 L229.6,411.78 L230.3,410.89 L231.1,409.75 L231.8,408.37 L232.6,406.82 L233.3,405.22 L234.1,403.80 L234.8,402.84 L235.6,402.80 L236.3,403.10 L237.1,403.65 L237.8,404.32 L238.6,405.03 L239.3,405.74 L240.1,406.41 L240.8,407.00 L241.6,407.52 L242.3,407.95 L243.1,408.31 L243.8,408.61 L244.6,408.87 L245.3,409.15 L246.1,409.45 L246.8,409.76 L247.6,410.07 L248.3,410.38 L249.1,410.68 L249.8,410.97 L250.6,411.25 L251.3,411.52 L252.1,411.78 L252.8,412.02 L253.6,412.24 L254.3,412.45 L255.1,412.64 L255.8,412.81 L256.6,412.96 L257.3,413.09 L258.1,413.21 L258.8,413.31 L259.6,413.40 L260.3,413.47 L261.1,413.53 L261.8,413.58 L262.6,413.63 L263.3,413.66 L264.1,413.69 L264.8,413.71 L265.6,413.73 L266.3,413.75 L267.1,413.76 L267.8,413.77 L268.6,413.78 L269.3,413.78 L276.8,413.80 L277.00,413.80 L216.80,413.80Z" fill="#d873b8" stroke="none"/>
<path d="M216.8,413.80 L220.6,413.78 L221.3,413.78 L222.1,413.77 L222.8,413.75 L223.6,413.73 L224.3,413.70 L225.1,413.64 L225.8,413.56 L226.6,413.43 L227.3,413.22 L228.1,412.90 L228.8,412.44 L229.6,411.78 L230.3,410.89 L231.1,409.75 L231.8,408.37 L232.6,406.82 L233.3,405.22 L234.1,403.80 L234.8,402.84 L235.6,402.80 L236.3,403.10 L237.1,403.65 L237.8,404.32 L238.6,405.03 L239.3,405.74 L240.1,406.41 L240.8,407.00 L241.6,407.52 L242.3,407.95 L243.1,408.31 L243.8,408.61 L244.6,408.87 L245.3,409.15 L246.1,409.45 L246.8,409.76 L247.6,410.07 L248.3,410.38 L249.1,410.68 L249.8,410.97 L250.6,411.25 L251.3,411.52 L252.1,411.78 L252.8,412.02 L253.6,412.24 L254.3,412.45 L255.1,412.64 L255.8,412.81 L256.6,412.96 L257.3,413.09 L258.1,413.21 L258.8,413.31 L259.6,413.40 L260.3,413.47 L261.1,413.53 L261.8,413.58 L262.6,413.63 L263.3,413.66 L264.1,413.69 L264.8,413.71 L265.6,413.73 L266.3,413.75 L267.1,413.76 L267.8,413.77 L268.6,413.78 L269.3,413.78 L276.8,413.80" fill="none" stroke="#8a2a68" stroke-width="0.7" stroke-linejoin="round"/>
<line x1="239.50" y1="364.80" x2="239.50" y2="413.80" stroke="#111" stroke-width="1.2" stroke-dasharray="2.6,2.0"/>
<path d="M278.0,376.30 L285.5,376.28 L286.2,376.27 L287.0,376.27 L287.8,376.25 L288.5,376.24 L289.2,376.22 L290.0,376.20 L290.8,376.17 L291.5,376.13 L292.2,376.09 L293.0,376.04 L293.8,375.98 L294.5,375.91 L295.2,375.83 L296.0,375.73 L296.8,375.62 L297.5,375.50 L298.2,375.36 L299.0,375.20 L299.8,375.02 L300.5,374.82 L301.2,374.60 L302.0,374.35 L302.8,374.07 L303.5,373.77 L304.2,373.44 L305.0,373.05 L305.8,372.59 L306.5,372.05 L307.2,371.43 L308.0,370.74 L308.8,370.00 L309.5,369.22 L310.2,368.46 L311.0,367.75 L311.8,367.16 L312.5,366.77 L313.2,366.74 L314.0,367.21 L314.8,367.95 L315.5,368.85 L316.2,369.82 L317.0,370.80 L317.8,371.73 L318.5,372.59 L319.2,373.35 L320.0,373.99 L320.8,374.54 L321.5,374.97 L322.2,375.32 L323.0,375.59 L323.8,375.79 L324.5,375.95 L325.2,376.06 L326.0,376.13 L326.8,376.19 L327.5,376.23 L328.2,376.25 L329.0,376.27 L329.8,376.28 L336.5,376.30 L337.00,376.30 L278.00,376.30Z" fill="#c87062" stroke="none"/>
<path d="M278.0,376.30 L285.5,376.28 L286.2,376.27 L287.0,376.27 L287.8,376.25 L288.5,376.24 L289.2,376.22 L290.0,376.20 L290.8,376.17 L291.5,376.13 L292.2,376.09 L293.0,376.04 L293.8,375.98 L294.5,375.91 L295.2,375.83 L296.0,375.73 L296.8,375.62 L297.5,375.50 L298.2,375.36 L299.0,375.20 L299.8,375.02 L300.5,374.82 L301.2,374.60 L302.0,374.35 L302.8,374.07 L303.5,373.77 L304.2,373.44 L305.0,373.05 L305.8,372.59 L306.5,372.05 L307.2,371.43 L308.0,370.74 L308.8,370.00 L309.5,369.22 L310.2,368.46 L311.0,367.75 L311.8,367.16 L312.5,366.77 L313.2,366.74 L314.0,367.21 L314.8,367.95 L315.5,368.85 L316.2,369.82 L317.0,370.80 L317.8,371.73 L318.5,372.59 L319.2,373.35 L320.0,373.99 L320.8,374.54 L321.5,374.97 L322.2,375.32 L323.0,375.59 L323.8,375.79 L324.5,375.95 L325.2,376.06 L326.0,376.13 L326.8,376.19 L327.5,376.23 L328.2,376.25 L329.0,376.27 L329.8,376.28 L336.5,376.30" fill="none" stroke="#7a2a28" stroke-width="0.7" stroke-linejoin="round"/>
<line x1="277.50" y1="376.30" x2="337.50" y2="376.30" stroke="#7a2a28" stroke-width="0.8" stroke-opacity="0.75"/>
<path d="M278.0,388.80 L284.8,388.78 L285.5,388.78 L286.2,388.77 L287.0,388.76 L287.8,388.74 L288.5,388.73 L289.2,388.70 L290.0,388.68 L290.8,388.65 L291.5,388.61 L292.2,388.56 L293.0,388.51 L293.8,388.44 L294.5,388.36 L295.2,388.28 L296.0,388.18 L296.8,388.06 L297.5,387.92 L298.2,387.77 L299.0,387.59 L299.8,387.39 L300.5,387.15 L301.2,386.87 L302.0,386.55 L302.8,386.20 L303.5,385.78 L304.2,385.27 L305.0,384.68 L305.8,383.98 L306.5,383.20 L307.2,382.35 L308.0,381.45 L308.8,380.55 L309.5,379.72 L310.2,379.02 L311.0,378.54 L311.8,378.50 L312.5,379.00 L313.2,379.80 L314.0,380.76 L314.8,381.81 L315.5,382.86 L316.2,383.87 L317.0,384.79 L317.8,385.61 L318.5,386.31 L319.2,386.89 L320.0,387.37 L320.8,387.74 L321.5,388.03 L322.2,388.25 L323.0,388.42 L323.8,388.54 L324.5,388.62 L325.2,388.68 L326.0,388.72 L326.8,388.75 L327.5,388.77 L328.2,388.78 L329.0,388.79 L336.5,388.80 L337.00,388.80 L278.00,388.80Z" fill="#c87062" stroke="none"/>
<path d="M278.0,388.80 L284.8,388.78 L285.5,388.78 L286.2,388.77 L287.0,388.76 L287.8,388.74 L288.5,388.73 L289.2,388.70 L290.0,388.68 L290.8,388.65 L291.5,388.61 L292.2,388.56 L293.0,388.51 L293.8,388.44 L294.5,388.36 L295.2,388.28 L296.0,388.18 L296.8,388.06 L297.5,387.92 L298.2,387.77 L299.0,387.59 L299.8,387.39 L300.5,387.15 L301.2,386.87 L302.0,386.55 L302.8,386.20 L303.5,385.78 L304.2,385.27 L305.0,384.68 L305.8,383.98 L306.5,383.20 L307.2,382.35 L308.0,381.45 L308.8,380.55 L309.5,379.72 L310.2,379.02 L311.0,378.54 L311.8,378.50 L312.5,379.00 L313.2,379.80 L314.0,380.76 L314.8,381.81 L315.5,382.86 L316.2,383.87 L317.0,384.79 L317.8,385.61 L318.5,386.31 L319.2,386.89 L320.0,387.37 L320.8,387.74 L321.5,388.03 L322.2,388.25 L323.0,388.42 L323.8,388.54 L324.5,388.62 L325.2,388.68 L326.0,388.72 L326.8,388.75 L327.5,388.77 L328.2,388.78 L329.0,388.79 L336.5,388.80" fill="none" stroke="#7a2a28" stroke-width="0.7" stroke-linejoin="round"/>
<line x1="277.50" y1="388.80" x2="337.50" y2="388.80" stroke="#7a2a28" stroke-width="0.8" stroke-opacity="0.75"/>
<path d="M278.0,401.30 L281.8,401.28 L282.5,401.28 L283.2,401.27 L284.0,401.25 L284.8,401.24 L285.5,401.22 L286.2,401.20 L287.0,401.16 L287.8,401.13 L288.5,401.08 L289.2,401.02 L290.0,400.95 L290.8,400.86 L291.5,400.76 L292.2,400.64 L293.0,400.50 L293.8,400.34 L294.5,400.16 L295.2,399.95 L296.0,399.71 L296.8,399.44 L297.5,399.15 L298.2,398.82 L299.0,398.46 L299.8,398.08 L300.5,397.69 L301.2,397.27 L302.0,396.81 L302.8,396.30 L303.5,395.73 L304.2,395.11 L305.0,394.46 L305.8,393.78 L306.5,393.12 L307.2,392.50 L308.0,391.98 L308.8,391.60 L309.5,391.47 L310.2,391.75 L311.0,392.27 L311.8,392.95 L312.5,393.72 L313.2,394.54 L314.0,395.36 L314.8,396.17 L315.5,396.93 L316.2,397.64 L317.0,398.27 L317.8,398.82 L318.5,399.31 L319.2,399.71 L320.0,400.05 L320.8,400.33 L321.5,400.56 L322.2,400.74 L323.0,400.88 L323.8,400.99 L324.5,401.07 L325.2,401.13 L326.0,401.18 L326.8,401.22 L327.5,401.24 L328.2,401.26 L329.0,401.27 L329.8,401.28 L336.5,401.30 L337.00,401.30 L278.00,401.30Z" fill="#c87062" stroke="none"/>
<path d="M278.0,401.30 L281.8,401.28 L282.5,401.28 L283.2,401.27 L284.0,401.25 L284.8,401.24 L285.5,401.22 L286.2,401.20 L287.0,401.16 L287.8,401.13 L288.5,401.08 L289.2,401.02 L290.0,400.95 L290.8,400.86 L291.5,400.76 L292.2,400.64 L293.0,400.50 L293.8,400.34 L294.5,400.16 L295.2,399.95 L296.0,399.71 L296.8,399.44 L297.5,399.15 L298.2,398.82 L299.0,398.46 L299.8,398.08 L300.5,397.69 L301.2,397.27 L302.0,396.81 L302.8,396.30 L303.5,395.73 L304.2,395.11 L305.0,394.46 L305.8,393.78 L306.5,393.12 L307.2,392.50 L308.0,391.98 L308.8,391.60 L309.5,391.47 L310.2,391.75 L311.0,392.27 L311.8,392.95 L312.5,393.72 L313.2,394.54 L314.0,395.36 L314.8,396.17 L315.5,396.93 L316.2,397.64 L317.0,398.27 L317.8,398.82 L318.5,399.31 L319.2,399.71 L320.0,400.05 L320.8,400.33 L321.5,400.56 L322.2,400.74 L323.0,400.88 L323.8,400.99 L324.5,401.07 L325.2,401.13 L326.0,401.18 L326.8,401.22 L327.5,401.24 L328.2,401.26 L329.0,401.27 L329.8,401.28 L336.5,401.30" fill="none" stroke="#7a2a28" stroke-width="0.7" stroke-linejoin="round"/>
<line x1="277.50" y1="401.30" x2="337.50" y2="401.30" stroke="#7a2a28" stroke-width="0.8" stroke-opacity="0.75"/>
<path d="M278.0,413.79 L280.2,413.78 L281.0,413.77 L281.8,413.76 L282.5,413.75 L283.2,413.73 L284.0,413.71 L284.8,413.68 L285.5,413.64 L286.2,413.60 L287.0,413.54 L287.8,413.47 L288.5,413.38 L289.2,413.27 L290.0,413.14 L290.8,412.99 L291.5,412.82 L292.2,412.62 L293.0,412.39 L293.8,412.13 L294.5,411.84 L295.2,411.52 L296.0,411.16 L296.8,410.77 L297.5,410.34 L298.2,409.87 L299.0,409.36 L299.8,408.81 L300.5,408.26 L301.2,407.68 L302.0,407.01 L302.8,406.24 L303.5,405.39 L304.2,404.46 L305.0,403.49 L305.8,402.80 L306.5,402.80 L307.2,402.80 L308.0,402.80 L308.8,402.80 L309.5,402.80 L310.2,402.80 L311.0,402.80 L311.8,402.80 L312.5,403.13 L313.2,404.41 L314.0,405.74 L314.8,407.04 L315.5,408.26 L316.2,409.36 L317.0,410.31 L317.8,411.11 L318.5,411.77 L319.2,412.30 L320.0,412.71 L320.8,413.03 L321.5,413.26 L322.2,413.43 L323.0,413.55 L323.8,413.63 L324.5,413.69 L325.2,413.73 L326.0,413.76 L326.8,413.77 L327.5,413.78 L336.5,413.80 L337.00,413.80 L278.00,413.80Z" fill="#c87062" stroke="none"/>
<path d="M278.0,413.79 L280.2,413.78 L281.0,413.77 L281.8,413.76 L282.5,413.75 L283.2,413.73 L284.0,413.71 L284.8,413.68 L285.5,413.64 L286.2,413.60 L287.0,413.54 L287.8,413.47 L288.5,413.38 L289.2,413.27 L290.0,413.14 L290.8,412.99 L291.5,412.82 L292.2,412.62 L293.0,412.39 L293.8,412.13 L294.5,411.84 L295.2,411.52 L296.0,411.16 L296.8,410.77 L297.5,410.34 L298.2,409.87 L299.0,409.36 L299.8,408.81 L300.5,408.26 L301.2,407.68 L302.0,407.01 L302.8,406.24 L303.5,405.39 L304.2,404.46 L305.0,403.49 L305.8,402.80 L306.5,402.80 L307.2,402.80 L308.0,402.80 L308.8,402.80 L309.5,402.80 L310.2,402.80 L311.0,402.80 L311.8,402.80 L312.5,403.13 L313.2,404.41 L314.0,405.74 L314.8,407.04 L315.5,408.26 L316.2,409.36 L317.0,410.31 L317.8,411.11 L318.5,411.77 L319.2,412.30 L320.0,412.71 L320.8,413.03 L321.5,413.26 L322.2,413.43 L323.0,413.55 L323.8,413.63 L324.5,413.69 L325.2,413.73 L326.0,413.76 L326.8,413.77 L327.5,413.78 L336.5,413.80" fill="none" stroke="#7a2a28" stroke-width="0.7" stroke-linejoin="round"/>
<line x1="301.30" y1="364.80" x2="301.30" y2="413.80" stroke="#111" stroke-width="1.2" stroke-dasharray="2.6,2.0"/>
<path d="M338.0,376.30 L342.5,376.28 L343.2,376.28 L344.0,376.27 L344.8,376.26 L345.5,376.25 L346.2,376.24 L347.0,376.22 L347.8,376.20 L348.5,376.18 L349.2,376.15 L350.0,376.12 L350.8,376.08 L351.5,376.03 L352.2,375.98 L353.0,375.91 L353.8,375.84 L354.5,375.76 L355.2,375.67 L356.0,375.57 L356.8,375.45 L357.5,375.32 L358.2,375.18 L359.0,375.02 L359.8,374.85 L360.5,374.65 L361.2,374.44 L362.0,374.20 L362.8,373.95 L363.5,373.67 L364.2,373.37 L365.0,373.06 L365.8,372.72 L366.5,372.33 L367.2,371.89 L368.0,371.41 L368.8,370.88 L369.5,370.30 L370.2,369.70 L371.0,369.09 L371.8,368.49 L372.5,367.94 L373.2,367.45 L374.0,367.09 L374.8,366.89 L375.5,367.03 L376.2,367.49 L377.0,368.13 L377.8,368.88 L378.5,369.69 L379.2,370.52 L380.0,371.33 L380.8,372.10 L381.5,372.80 L382.2,373.43 L383.0,373.98 L383.8,374.46 L384.5,374.85 L385.2,375.18 L386.0,375.44 L386.8,375.65 L387.5,375.82 L388.2,375.94 L389.0,376.04 L389.8,376.11 L390.5,376.17 L391.2,376.21 L392.0,376.24 L392.8,376.26 L393.5,376.27 L394.2,376.28 L398.8,376.30 L398.80,376.30 L338.00,376.30Z" fill="#cbcbcb" stroke="none"/>
<path d="M338.0,376.30 L342.5,376.28 L343.2,376.28 L344.0,376.27 L344.8,376.26 L345.5,376.25 L346.2,376.24 L347.0,376.22 L347.8,376.20 L348.5,376.18 L349.2,376.15 L350.0,376.12 L350.8,376.08 L351.5,376.03 L352.2,375.98 L353.0,375.91 L353.8,375.84 L354.5,375.76 L355.2,375.67 L356.0,375.57 L356.8,375.45 L357.5,375.32 L358.2,375.18 L359.0,375.02 L359.8,374.85 L360.5,374.65 L361.2,374.44 L362.0,374.20 L362.8,373.95 L363.5,373.67 L364.2,373.37 L365.0,373.06 L365.8,372.72 L366.5,372.33 L367.2,371.89 L368.0,371.41 L368.8,370.88 L369.5,370.30 L370.2,369.70 L371.0,369.09 L371.8,368.49 L372.5,367.94 L373.2,367.45 L374.0,367.09 L374.8,366.89 L375.5,367.03 L376.2,367.49 L377.0,368.13 L377.8,368.88 L378.5,369.69 L379.2,370.52 L380.0,371.33 L380.8,372.10 L381.5,372.80 L382.2,373.43 L383.0,373.98 L383.8,374.46 L384.5,374.85 L385.2,375.18 L386.0,375.44 L386.8,375.65 L387.5,375.82 L388.2,375.94 L389.0,376.04 L389.8,376.11 L390.5,376.17 L391.2,376.21 L392.0,376.24 L392.8,376.26 L393.5,376.27 L394.2,376.28 L398.8,376.30" fill="none" stroke="#3c3c3c" stroke-width="0.7" stroke-linejoin="round"/>
<line x1="337.50" y1="376.30" x2="399.30" y2="376.30" stroke="#3c3c3c" stroke-width="0.8" stroke-opacity="0.75"/>
<path d="M338.0,388.78 L338.8,388.77 L339.5,388.77 L340.2,388.76 L341.0,388.75 L341.8,388.73 L342.5,388.72 L343.2,388.70 L344.0,388.68 L344.8,388.65 L345.5,388.62 L346.2,388.58 L347.0,388.54 L347.8,388.49 L348.5,388.43 L349.2,388.36 L350.0,388.29 L350.8,388.21 L351.5,388.12 L352.2,388.01 L353.0,387.90 L353.8,387.78 L354.5,387.64 L355.2,387.48 L356.0,387.31 L356.8,387.12 L357.5,386.90 L358.2,386.66 L359.0,386.38 L359.8,386.09 L360.5,385.76 L361.2,385.37 L362.0,384.92 L362.8,384.40 L363.5,383.80 L364.2,383.15 L365.0,382.43 L365.8,381.69 L366.5,380.93 L367.2,380.20 L368.0,379.54 L368.8,379.00 L369.5,378.65 L370.2,378.63 L371.0,379.00 L371.8,379.59 L372.5,380.33 L373.2,381.15 L374.0,382.00 L374.8,382.86 L375.5,383.69 L376.2,384.47 L377.0,385.18 L377.8,385.82 L378.5,386.37 L379.2,386.85 L380.0,387.26 L380.8,387.59 L381.5,387.87 L382.2,388.09 L383.0,388.26 L383.8,388.40 L384.5,388.50 L385.2,388.58 L386.0,388.64 L386.8,388.69 L387.5,388.72 L388.2,388.74 L389.0,388.76 L389.8,388.77 L390.5,388.78 L398.8,388.80 L398.80,388.80 L338.00,388.80Z" fill="#cbcbcb" stroke="none"/>
<path d="M338.0,388.78 L338.8,388.77 L339.5,388.77 L340.2,388.76 L341.0,388.75 L341.8,388.73 L342.5,388.72 L343.2,388.70 L344.0,388.68 L344.8,388.65 L345.5,388.62 L346.2,388.58 L347.0,388.54 L347.8,388.49 L348.5,388.43 L349.2,388.36 L350.0,388.29 L350.8,388.21 L351.5,388.12 L352.2,388.01 L353.0,387.90 L353.8,387.78 L354.5,387.64 L355.2,387.48 L356.0,387.31 L356.8,387.12 L357.5,386.90 L358.2,386.66 L359.0,386.38 L359.8,386.09 L360.5,385.76 L361.2,385.37 L362.0,384.92 L362.8,384.40 L363.5,383.80 L364.2,383.15 L365.0,382.43 L365.8,381.69 L366.5,380.93 L367.2,380.20 L368.0,379.54 L368.8,379.00 L369.5,378.65 L370.2,378.63 L371.0,379.00 L371.8,379.59 L372.5,380.33 L373.2,381.15 L374.0,382.00 L374.8,382.86 L375.5,383.69 L376.2,384.47 L377.0,385.18 L377.8,385.82 L378.5,386.37 L379.2,386.85 L380.0,387.26 L380.8,387.59 L381.5,387.87 L382.2,388.09 L383.0,388.26 L383.8,388.40 L384.5,388.50 L385.2,388.58 L386.0,388.64 L386.8,388.69 L387.5,388.72 L388.2,388.74 L389.0,388.76 L389.8,388.77 L390.5,388.78 L398.8,388.80" fill="none" stroke="#3c3c3c" stroke-width="0.7" stroke-linejoin="round"/>
<line x1="337.50" y1="388.80" x2="399.30" y2="388.80" stroke="#3c3c3c" stroke-width="0.8" stroke-opacity="0.75"/>
<path d="M338.0,401.24 L338.8,401.22 L339.5,401.20 L340.2,401.18 L341.0,401.15 L341.8,401.12 L342.5,401.08 L343.2,401.03 L344.0,400.98 L344.8,400.91 L345.5,400.84 L346.2,400.75 L347.0,400.66 L347.8,400.55 L348.5,400.42 L349.2,400.28 L350.0,400.11 L350.8,399.93 L351.5,399.73 L352.2,399.50 L353.0,399.24 L353.8,398.96 L354.5,398.64 L355.2,398.29 L356.0,397.92 L356.8,397.53 L357.5,397.10 L358.2,396.64 L359.0,396.12 L359.8,395.57 L360.5,394.97 L361.2,394.35 L362.0,393.73 L362.8,393.11 L363.5,392.54 L364.2,392.05 L365.0,391.68 L365.8,391.49 L366.5,391.61 L367.2,392.00 L368.0,392.52 L368.8,393.15 L369.5,393.84 L370.2,394.57 L371.0,395.30 L371.8,396.02 L372.5,396.70 L373.2,397.34 L374.0,397.93 L374.8,398.47 L375.5,398.94 L376.2,399.35 L377.0,399.71 L377.8,400.02 L378.5,400.27 L379.2,400.48 L380.0,400.66 L380.8,400.80 L381.5,400.91 L382.2,401.01 L383.0,401.08 L383.8,401.13 L384.5,401.17 L385.2,401.21 L386.0,401.23 L386.8,401.25 L387.5,401.26 L388.2,401.27 L389.0,401.28 L398.8,401.30 L398.80,401.30 L338.00,401.30Z" fill="#cbcbcb" stroke="none"/>
<path d="M338.0,401.24 L338.8,401.22 L339.5,401.20 L340.2,401.18 L341.0,401.15 L341.8,401.12 L342.5,401.08 L343.2,401.03 L344.0,400.98 L344.8,400.91 L345.5,400.84 L346.2,400.75 L347.0,400.66 L347.8,400.55 L348.5,400.42 L349.2,400.28 L350.0,400.11 L350.8,399.93 L351.5,399.73 L352.2,399.50 L353.0,399.24 L353.8,398.96 L354.5,398.64 L355.2,398.29 L356.0,397.92 L356.8,397.53 L357.5,397.10 L358.2,396.64 L359.0,396.12 L359.8,395.57 L360.5,394.97 L361.2,394.35 L362.0,393.73 L362.8,393.11 L363.5,392.54 L364.2,392.05 L365.0,391.68 L365.8,391.49 L366.5,391.61 L367.2,392.00 L368.0,392.52 L368.8,393.15 L369.5,393.84 L370.2,394.57 L371.0,395.30 L371.8,396.02 L372.5,396.70 L373.2,397.34 L374.0,397.93 L374.8,398.47 L375.5,398.94 L376.2,399.35 L377.0,399.71 L377.8,400.02 L378.5,400.27 L379.2,400.48 L380.0,400.66 L380.8,400.80 L381.5,400.91 L382.2,401.01 L383.0,401.08 L383.8,401.13 L384.5,401.17 L385.2,401.21 L386.0,401.23 L386.8,401.25 L387.5,401.26 L388.2,401.27 L389.0,401.28 L398.8,401.30" fill="none" stroke="#3c3c3c" stroke-width="0.7" stroke-linejoin="round"/>
<line x1="337.50" y1="401.30" x2="399.30" y2="401.30" stroke="#3c3c3c" stroke-width="0.8" stroke-opacity="0.75"/>
<path d="M338.0,413.80 L342.5,413.79 L343.2,413.78 L344.0,413.77 L344.8,413.76 L345.5,413.74 L346.2,413.71 L347.0,413.67 L347.8,413.63 L348.5,413.56 L349.2,413.48 L350.0,413.37 L350.8,413.23 L351.5,413.06 L352.2,412.85 L353.0,412.59 L353.8,412.28 L354.5,411.92 L355.2,411.50 L356.0,411.03 L356.8,410.50 L357.5,409.92 L358.2,409.30 L359.0,408.65 L359.8,407.99 L360.5,407.33 L361.2,406.71 L362.0,406.16 L362.8,405.80 L363.5,405.51 L364.2,405.21 L365.0,404.88 L365.8,404.50 L366.5,404.08 L367.2,403.63 L368.0,403.22 L368.8,402.90 L369.5,402.80 L370.2,403.00 L371.0,403.63 L371.8,404.44 L372.5,405.34 L373.2,406.30 L374.0,407.26 L374.8,408.19 L375.5,409.06 L376.2,409.85 L377.0,410.56 L377.8,411.18 L378.5,411.71 L379.2,412.16 L380.0,412.53 L380.8,412.83 L381.5,413.06 L382.2,413.25 L383.0,413.39 L383.8,413.50 L384.5,413.59 L385.2,413.65 L386.0,413.69 L386.8,413.73 L387.5,413.75 L388.2,413.77 L389.0,413.78 L389.8,413.78 L398.8,413.80 L398.80,413.80 L338.00,413.80Z" fill="#cbcbcb" stroke="none"/>
<path d="M338.0,413.80 L342.5,413.79 L343.2,413.78 L344.0,413.77 L344.8,413.76 L345.5,413.74 L346.2,413.71 L347.0,413.67 L347.8,413.63 L348.5,413.56 L349.2,413.48 L350.0,413.37 L350.8,413.23 L351.5,413.06 L352.2,412.85 L353.0,412.59 L353.8,412.28 L354.5,411.92 L355.2,411.50 L356.0,411.03 L356.8,410.50 L357.5,409.92 L358.2,409.30 L359.0,408.65 L359.8,407.99 L360.5,407.33 L361.2,406.71 L362.0,406.16 L362.8,405.80 L363.5,405.51 L364.2,405.21 L365.0,404.88 L365.8,404.50 L366.5,404.08 L367.2,403.63 L368.0,403.22 L368.8,402.90 L369.5,402.80 L370.2,403.00 L371.0,403.63 L371.8,404.44 L372.5,405.34 L373.2,406.30 L374.0,407.26 L374.8,408.19 L375.5,409.06 L376.2,409.85 L377.0,410.56 L377.8,411.18 L378.5,411.71 L379.2,412.16 L380.0,412.53 L380.8,412.83 L381.5,413.06 L382.2,413.25 L383.0,413.39 L383.8,413.50 L384.5,413.59 L385.2,413.65 L386.0,413.69 L386.8,413.73 L387.5,413.75 L388.2,413.77 L389.0,413.78 L389.8,413.78 L398.8,413.80" fill="none" stroke="#3c3c3c" stroke-width="0.7" stroke-linejoin="round"/>
<line x1="362.50" y1="364.80" x2="362.50" y2="413.80" stroke="#111" stroke-width="1.2" stroke-dasharray="2.6,2.0"/>
<line x1="32.70" y1="364.20" x2="32.70" y2="413.80" stroke="#222" stroke-width="0.9"/>
<line x1="94.20" y1="364.20" x2="94.20" y2="413.80" stroke="#222" stroke-width="0.9"/>
<line x1="154.30" y1="364.20" x2="154.30" y2="413.80" stroke="#222" stroke-width="0.9"/>
<line x1="216.30" y1="364.20" x2="216.30" y2="413.80" stroke="#222" stroke-width="0.9"/>
<line x1="277.50" y1="364.20" x2="277.50" y2="413.80" stroke="#222" stroke-width="0.9"/>
<line x1="337.50" y1="364.20" x2="337.50" y2="413.80" stroke="#222" stroke-width="0.9"/>
<line x1="399.30" y1="364.20" x2="399.30" y2="413.80" stroke="#222" stroke-width="0.9"/>
<line x1="32.25" y1="364.20" x2="399.75" y2="364.20" stroke="#222" stroke-width="0.9"/>
<line x1="32.25" y1="413.80" x2="399.75" y2="413.80" stroke="#111" stroke-width="1.0"/>
<line x1="36.40" y1="413.80" x2="36.40" y2="415.60" stroke="#222" stroke-width="0.9"/>
<text x="40.40" y="420.80" font-size="6.3" fill="#2a2a2a" text-anchor="end" textLength="13.00" lengthAdjust="spacingAndGlyphs" transform="rotate(-57 40.40 420.80)" stroke="#2a2a2a" stroke-width="0.18">−10³</text>
<line x1="46.00" y1="413.80" x2="46.00" y2="415.60" stroke="#222" stroke-width="0.9"/>
<text x="50.00" y="420.80" font-size="6.3" fill="#2a2a2a" text-anchor="end" textLength="3.40" lengthAdjust="spacingAndGlyphs" transform="rotate(-57 50.00 420.80)" stroke="#2a2a2a" stroke-width="0.18">0</text>
<line x1="55.60" y1="413.80" x2="55.60" y2="415.60" stroke="#222" stroke-width="0.9"/>
<text x="59.60" y="420.80" font-size="6.3" fill="#2a2a2a" text-anchor="end" textLength="10.20" lengthAdjust="spacingAndGlyphs" transform="rotate(-57 59.60 420.80)" stroke="#2a2a2a" stroke-width="0.18">10³</text>
<line x1="71.20" y1="413.80" x2="71.20" y2="415.60" stroke="#222" stroke-width="0.9"/>
<text x="75.20" y="420.80" font-size="6.3" fill="#2a2a2a" text-anchor="end" textLength="10.20" lengthAdjust="spacingAndGlyphs" transform="rotate(-57 75.20 420.80)" stroke="#2a2a2a" stroke-width="0.18">10⁴</text>
<line x1="86.20" y1="413.80" x2="86.20" y2="415.60" stroke="#222" stroke-width="0.9"/>
<text x="90.20" y="420.80" font-size="6.3" fill="#2a2a2a" text-anchor="end" textLength="10.20" lengthAdjust="spacingAndGlyphs" transform="rotate(-57 90.20 420.80)" stroke="#2a2a2a" stroke-width="0.18">10⁵</text>
<line x1="34.20" y1="413.80" x2="34.20" y2="414.90" stroke="#333" stroke-width="0.6"/>
<line x1="38.60" y1="413.80" x2="38.60" y2="414.90" stroke="#333" stroke-width="0.6"/>
<line x1="43.00" y1="413.80" x2="43.00" y2="414.90" stroke="#333" stroke-width="0.6"/>
<line x1="47.40" y1="413.80" x2="47.40" y2="414.90" stroke="#333" stroke-width="0.6"/>
<line x1="51.80" y1="413.80" x2="51.80" y2="414.90" stroke="#333" stroke-width="0.6"/>
<line x1="56.20" y1="413.80" x2="56.20" y2="414.90" stroke="#333" stroke-width="0.6"/>
<line x1="60.60" y1="413.80" x2="60.60" y2="414.90" stroke="#333" stroke-width="0.6"/>
<line x1="65.00" y1="413.80" x2="65.00" y2="414.90" stroke="#333" stroke-width="0.6"/>
<line x1="69.40" y1="413.80" x2="69.40" y2="414.90" stroke="#333" stroke-width="0.6"/>
<line x1="73.80" y1="413.80" x2="73.80" y2="414.90" stroke="#333" stroke-width="0.6"/>
<line x1="78.20" y1="413.80" x2="78.20" y2="414.90" stroke="#333" stroke-width="0.6"/>
<line x1="82.60" y1="413.80" x2="82.60" y2="414.90" stroke="#333" stroke-width="0.6"/>
<line x1="87.00" y1="413.80" x2="87.00" y2="414.90" stroke="#333" stroke-width="0.6"/>
<line x1="97.90" y1="413.80" x2="97.90" y2="415.60" stroke="#222" stroke-width="0.9"/>
<text x="101.90" y="420.80" font-size="6.3" fill="#2a2a2a" text-anchor="end" textLength="13.00" lengthAdjust="spacingAndGlyphs" transform="rotate(-57 101.90 420.80)" stroke="#2a2a2a" stroke-width="0.18">−10³</text>
<line x1="107.50" y1="413.80" x2="107.50" y2="415.60" stroke="#222" stroke-width="0.9"/>
<text x="111.50" y="420.80" font-size="6.3" fill="#2a2a2a" text-anchor="end" textLength="3.40" lengthAdjust="spacingAndGlyphs" transform="rotate(-57 111.50 420.80)" stroke="#2a2a2a" stroke-width="0.18">0</text>
<line x1="117.10" y1="413.80" x2="117.10" y2="415.60" stroke="#222" stroke-width="0.9"/>
<text x="121.10" y="420.80" font-size="6.3" fill="#2a2a2a" text-anchor="end" textLength="10.20" lengthAdjust="spacingAndGlyphs" transform="rotate(-57 121.10 420.80)" stroke="#2a2a2a" stroke-width="0.18">10³</text>
<line x1="132.70" y1="413.80" x2="132.70" y2="415.60" stroke="#222" stroke-width="0.9"/>
<text x="136.70" y="420.80" font-size="6.3" fill="#2a2a2a" text-anchor="end" textLength="10.20" lengthAdjust="spacingAndGlyphs" transform="rotate(-57 136.70 420.80)" stroke="#2a2a2a" stroke-width="0.18">10⁴</text>
<line x1="147.70" y1="413.80" x2="147.70" y2="415.60" stroke="#222" stroke-width="0.9"/>
<text x="151.70" y="420.80" font-size="6.3" fill="#2a2a2a" text-anchor="end" textLength="10.20" lengthAdjust="spacingAndGlyphs" transform="rotate(-57 151.70 420.80)" stroke="#2a2a2a" stroke-width="0.18">10⁵</text>
<line x1="95.70" y1="413.80" x2="95.70" y2="414.90" stroke="#333" stroke-width="0.6"/>
<line x1="100.10" y1="413.80" x2="100.10" y2="414.90" stroke="#333" stroke-width="0.6"/>
<line x1="104.50" y1="413.80" x2="104.50" y2="414.90" stroke="#333" stroke-width="0.6"/>
<line x1="108.90" y1="413.80" x2="108.90" y2="414.90" stroke="#333" stroke-width="0.6"/>
<line x1="113.30" y1="413.80" x2="113.30" y2="414.90" stroke="#333" stroke-width="0.6"/>
<line x1="117.70" y1="413.80" x2="117.70" y2="414.90" stroke="#333" stroke-width="0.6"/>
<line x1="122.10" y1="413.80" x2="122.10" y2="414.90" stroke="#333" stroke-width="0.6"/>
<line x1="126.50" y1="413.80" x2="126.50" y2="414.90" stroke="#333" stroke-width="0.6"/>
<line x1="130.90" y1="413.80" x2="130.90" y2="414.90" stroke="#333" stroke-width="0.6"/>
<line x1="135.30" y1="413.80" x2="135.30" y2="414.90" stroke="#333" stroke-width="0.6"/>
<line x1="139.70" y1="413.80" x2="139.70" y2="414.90" stroke="#333" stroke-width="0.6"/>
<line x1="144.10" y1="413.80" x2="144.10" y2="414.90" stroke="#333" stroke-width="0.6"/>
<line x1="148.50" y1="413.80" x2="148.50" y2="414.90" stroke="#333" stroke-width="0.6"/>
<line x1="158.00" y1="413.80" x2="158.00" y2="415.60" stroke="#222" stroke-width="0.9"/>
<text x="162.00" y="420.80" font-size="6.3" fill="#2a2a2a" text-anchor="end" textLength="13.00" lengthAdjust="spacingAndGlyphs" transform="rotate(-57 162.00 420.80)" stroke="#2a2a2a" stroke-width="0.18">−10³</text>
<line x1="167.60" y1="413.80" x2="167.60" y2="415.60" stroke="#222" stroke-width="0.9"/>
<text x="171.60" y="420.80" font-size="6.3" fill="#2a2a2a" text-anchor="end" textLength="3.40" lengthAdjust="spacingAndGlyphs" transform="rotate(-57 171.60 420.80)" stroke="#2a2a2a" stroke-width="0.18">0</text>
<line x1="177.20" y1="413.80" x2="177.20" y2="415.60" stroke="#222" stroke-width="0.9"/>
<text x="181.20" y="420.80" font-size="6.3" fill="#2a2a2a" text-anchor="end" textLength="10.20" lengthAdjust="spacingAndGlyphs" transform="rotate(-57 181.20 420.80)" stroke="#2a2a2a" stroke-width="0.18">10³</text>
<line x1="192.80" y1="413.80" x2="192.80" y2="415.60" stroke="#222" stroke-width="0.9"/>
<text x="196.80" y="420.80" font-size="6.3" fill="#2a2a2a" text-anchor="end" textLength="10.20" lengthAdjust="spacingAndGlyphs" transform="rotate(-57 196.80 420.80)" stroke="#2a2a2a" stroke-width="0.18">10⁴</text>
<line x1="207.80" y1="413.80" x2="207.80" y2="415.60" stroke="#222" stroke-width="0.9"/>
<text x="211.80" y="420.80" font-size="6.3" fill="#2a2a2a" text-anchor="end" textLength="10.20" lengthAdjust="spacingAndGlyphs" transform="rotate(-57 211.80 420.80)" stroke="#2a2a2a" stroke-width="0.18">10⁵</text>
<line x1="155.80" y1="413.80" x2="155.80" y2="414.90" stroke="#333" stroke-width="0.6"/>
<line x1="160.20" y1="413.80" x2="160.20" y2="414.90" stroke="#333" stroke-width="0.6"/>
<line x1="164.60" y1="413.80" x2="164.60" y2="414.90" stroke="#333" stroke-width="0.6"/>
<line x1="169.00" y1="413.80" x2="169.00" y2="414.90" stroke="#333" stroke-width="0.6"/>
<line x1="173.40" y1="413.80" x2="173.40" y2="414.90" stroke="#333" stroke-width="0.6"/>
<line x1="177.80" y1="413.80" x2="177.80" y2="414.90" stroke="#333" stroke-width="0.6"/>
<line x1="182.20" y1="413.80" x2="182.20" y2="414.90" stroke="#333" stroke-width="0.6"/>
<line x1="186.60" y1="413.80" x2="186.60" y2="414.90" stroke="#333" stroke-width="0.6"/>
<line x1="191.00" y1="413.80" x2="191.00" y2="414.90" stroke="#333" stroke-width="0.6"/>
<line x1="195.40" y1="413.80" x2="195.40" y2="414.90" stroke="#333" stroke-width="0.6"/>
<line x1="199.80" y1="413.80" x2="199.80" y2="414.90" stroke="#333" stroke-width="0.6"/>
<line x1="204.20" y1="413.80" x2="204.20" y2="414.90" stroke="#333" stroke-width="0.6"/>
<line x1="208.60" y1="413.80" x2="208.60" y2="414.90" stroke="#333" stroke-width="0.6"/>
<line x1="220.00" y1="413.80" x2="220.00" y2="415.60" stroke="#222" stroke-width="0.9"/>
<text x="224.00" y="420.80" font-size="6.3" fill="#2a2a2a" text-anchor="end" textLength="13.00" lengthAdjust="spacingAndGlyphs" transform="rotate(-57 224.00 420.80)" stroke="#2a2a2a" stroke-width="0.18">−10³</text>
<line x1="229.60" y1="413.80" x2="229.60" y2="415.60" stroke="#222" stroke-width="0.9"/>
<text x="233.60" y="420.80" font-size="6.3" fill="#2a2a2a" text-anchor="end" textLength="3.40" lengthAdjust="spacingAndGlyphs" transform="rotate(-57 233.60 420.80)" stroke="#2a2a2a" stroke-width="0.18">0</text>
<line x1="239.20" y1="413.80" x2="239.20" y2="415.60" stroke="#222" stroke-width="0.9"/>
<text x="243.20" y="420.80" font-size="6.3" fill="#2a2a2a" text-anchor="end" textLength="10.20" lengthAdjust="spacingAndGlyphs" transform="rotate(-57 243.20 420.80)" stroke="#2a2a2a" stroke-width="0.18">10³</text>
<line x1="254.80" y1="413.80" x2="254.80" y2="415.60" stroke="#222" stroke-width="0.9"/>
<text x="258.80" y="420.80" font-size="6.3" fill="#2a2a2a" text-anchor="end" textLength="10.20" lengthAdjust="spacingAndGlyphs" transform="rotate(-57 258.80 420.80)" stroke="#2a2a2a" stroke-width="0.18">10⁴</text>
<line x1="269.80" y1="413.80" x2="269.80" y2="415.60" stroke="#222" stroke-width="0.9"/>
<text x="273.80" y="420.80" font-size="6.3" fill="#2a2a2a" text-anchor="end" textLength="10.20" lengthAdjust="spacingAndGlyphs" transform="rotate(-57 273.80 420.80)" stroke="#2a2a2a" stroke-width="0.18">10⁵</text>
<line x1="217.80" y1="413.80" x2="217.80" y2="414.90" stroke="#333" stroke-width="0.6"/>
<line x1="222.20" y1="413.80" x2="222.20" y2="414.90" stroke="#333" stroke-width="0.6"/>
<line x1="226.60" y1="413.80" x2="226.60" y2="414.90" stroke="#333" stroke-width="0.6"/>
<line x1="231.00" y1="413.80" x2="231.00" y2="414.90" stroke="#333" stroke-width="0.6"/>
<line x1="235.40" y1="413.80" x2="235.40" y2="414.90" stroke="#333" stroke-width="0.6"/>
<line x1="239.80" y1="413.80" x2="239.80" y2="414.90" stroke="#333" stroke-width="0.6"/>
<line x1="244.20" y1="413.80" x2="244.20" y2="414.90" stroke="#333" stroke-width="0.6"/>
<line x1="248.60" y1="413.80" x2="248.60" y2="414.90" stroke="#333" stroke-width="0.6"/>
<line x1="253.00" y1="413.80" x2="253.00" y2="414.90" stroke="#333" stroke-width="0.6"/>
<line x1="257.40" y1="413.80" x2="257.40" y2="414.90" stroke="#333" stroke-width="0.6"/>
<line x1="261.80" y1="413.80" x2="261.80" y2="414.90" stroke="#333" stroke-width="0.6"/>
<line x1="266.20" y1="413.80" x2="266.20" y2="414.90" stroke="#333" stroke-width="0.6"/>
<line x1="270.60" y1="413.80" x2="270.60" y2="414.90" stroke="#333" stroke-width="0.6"/>
<line x1="281.20" y1="413.80" x2="281.20" y2="415.60" stroke="#222" stroke-width="0.9"/>
<text x="285.20" y="420.80" font-size="6.3" fill="#2a2a2a" text-anchor="end" textLength="13.00" lengthAdjust="spacingAndGlyphs" transform="rotate(-57 285.20 420.80)" stroke="#2a2a2a" stroke-width="0.18">−10³</text>
<line x1="290.80" y1="413.80" x2="290.80" y2="415.60" stroke="#222" stroke-width="0.9"/>
<text x="294.80" y="420.80" font-size="6.3" fill="#2a2a2a" text-anchor="end" textLength="3.40" lengthAdjust="spacingAndGlyphs" transform="rotate(-57 294.80 420.80)" stroke="#2a2a2a" stroke-width="0.18">0</text>
<line x1="300.40" y1="413.80" x2="300.40" y2="415.60" stroke="#222" stroke-width="0.9"/>
<text x="304.40" y="420.80" font-size="6.3" fill="#2a2a2a" text-anchor="end" textLength="10.20" lengthAdjust="spacingAndGlyphs" transform="rotate(-57 304.40 420.80)" stroke="#2a2a2a" stroke-width="0.18">10³</text>
<line x1="316.00" y1="413.80" x2="316.00" y2="415.60" stroke="#222" stroke-width="0.9"/>
<text x="320.00" y="420.80" font-size="6.3" fill="#2a2a2a" text-anchor="end" textLength="10.20" lengthAdjust="spacingAndGlyphs" transform="rotate(-57 320.00 420.80)" stroke="#2a2a2a" stroke-width="0.18">10⁴</text>
<line x1="331.00" y1="413.80" x2="331.00" y2="415.60" stroke="#222" stroke-width="0.9"/>
<text x="335.00" y="420.80" font-size="6.3" fill="#2a2a2a" text-anchor="end" textLength="10.20" lengthAdjust="spacingAndGlyphs" transform="rotate(-57 335.00 420.80)" stroke="#2a2a2a" stroke-width="0.18">10⁵</text>
<line x1="279.00" y1="413.80" x2="279.00" y2="414.90" stroke="#333" stroke-width="0.6"/>
<line x1="283.40" y1="413.80" x2="283.40" y2="414.90" stroke="#333" stroke-width="0.6"/>
<line x1="287.80" y1="413.80" x2="287.80" y2="414.90" stroke="#333" stroke-width="0.6"/>
<line x1="292.20" y1="413.80" x2="292.20" y2="414.90" stroke="#333" stroke-width="0.6"/>
<line x1="296.60" y1="413.80" x2="296.60" y2="414.90" stroke="#333" stroke-width="0.6"/>
<line x1="301.00" y1="413.80" x2="301.00" y2="414.90" stroke="#333" stroke-width="0.6"/>
<line x1="305.40" y1="413.80" x2="305.40" y2="414.90" stroke="#333" stroke-width="0.6"/>
<line x1="309.80" y1="413.80" x2="309.80" y2="414.90" stroke="#333" stroke-width="0.6"/>
<line x1="314.20" y1="413.80" x2="314.20" y2="414.90" stroke="#333" stroke-width="0.6"/>
<line x1="318.60" y1="413.80" x2="318.60" y2="414.90" stroke="#333" stroke-width="0.6"/>
<line x1="323.00" y1="413.80" x2="323.00" y2="414.90" stroke="#333" stroke-width="0.6"/>
<line x1="327.40" y1="413.80" x2="327.40" y2="414.90" stroke="#333" stroke-width="0.6"/>
<line x1="331.80" y1="413.80" x2="331.80" y2="414.90" stroke="#333" stroke-width="0.6"/>
<line x1="341.20" y1="413.80" x2="341.20" y2="415.60" stroke="#222" stroke-width="0.9"/>
<text x="345.20" y="420.80" font-size="6.3" fill="#2a2a2a" text-anchor="end" textLength="13.00" lengthAdjust="spacingAndGlyphs" transform="rotate(-57 345.20 420.80)" stroke="#2a2a2a" stroke-width="0.18">−10³</text>
<line x1="350.80" y1="413.80" x2="350.80" y2="415.60" stroke="#222" stroke-width="0.9"/>
<text x="354.80" y="420.80" font-size="6.3" fill="#2a2a2a" text-anchor="end" textLength="3.40" lengthAdjust="spacingAndGlyphs" transform="rotate(-57 354.80 420.80)" stroke="#2a2a2a" stroke-width="0.18">0</text>
<line x1="360.40" y1="413.80" x2="360.40" y2="415.60" stroke="#222" stroke-width="0.9"/>
<text x="364.40" y="420.80" font-size="6.3" fill="#2a2a2a" text-anchor="end" textLength="10.20" lengthAdjust="spacingAndGlyphs" transform="rotate(-57 364.40 420.80)" stroke="#2a2a2a" stroke-width="0.18">10³</text>
<line x1="376.00" y1="413.80" x2="376.00" y2="415.60" stroke="#222" stroke-width="0.9"/>
<text x="380.00" y="420.80" font-size="6.3" fill="#2a2a2a" text-anchor="end" textLength="10.20" lengthAdjust="spacingAndGlyphs" transform="rotate(-57 380.00 420.80)" stroke="#2a2a2a" stroke-width="0.18">10⁴</text>
<line x1="391.00" y1="413.80" x2="391.00" y2="415.60" stroke="#222" stroke-width="0.9"/>
<text x="395.00" y="420.80" font-size="6.3" fill="#2a2a2a" text-anchor="end" textLength="10.20" lengthAdjust="spacingAndGlyphs" transform="rotate(-57 395.00 420.80)" stroke="#2a2a2a" stroke-width="0.18">10⁵</text>
<line x1="339.00" y1="413.80" x2="339.00" y2="414.90" stroke="#333" stroke-width="0.6"/>
<line x1="343.40" y1="413.80" x2="343.40" y2="414.90" stroke="#333" stroke-width="0.6"/>
<line x1="347.80" y1="413.80" x2="347.80" y2="414.90" stroke="#333" stroke-width="0.6"/>
<line x1="352.20" y1="413.80" x2="352.20" y2="414.90" stroke="#333" stroke-width="0.6"/>
<line x1="356.60" y1="413.80" x2="356.60" y2="414.90" stroke="#333" stroke-width="0.6"/>
<line x1="361.00" y1="413.80" x2="361.00" y2="414.90" stroke="#333" stroke-width="0.6"/>
<line x1="365.40" y1="413.80" x2="365.40" y2="414.90" stroke="#333" stroke-width="0.6"/>
<line x1="369.80" y1="413.80" x2="369.80" y2="414.90" stroke="#333" stroke-width="0.6"/>
<line x1="374.20" y1="413.80" x2="374.20" y2="414.90" stroke="#333" stroke-width="0.6"/>
<line x1="378.60" y1="413.80" x2="378.60" y2="414.90" stroke="#333" stroke-width="0.6"/>
<line x1="383.00" y1="413.80" x2="383.00" y2="414.90" stroke="#333" stroke-width="0.6"/>
<line x1="387.40" y1="413.80" x2="387.40" y2="414.90" stroke="#333" stroke-width="0.6"/>
<line x1="391.80" y1="413.80" x2="391.80" y2="414.90" stroke="#333" stroke-width="0.6"/>
<text x="17.00" y="437.14" font-size="5.4" fill="#333" textLength="11.00" lengthAdjust="spacingAndGlyphs" stroke="#333" stroke-width="0.14">CAR</text>
<line x1="31.30" y1="435.50" x2="391.70" y2="435.50" stroke="#222" stroke-width="1.4"/>
<path d="M396.30,435.50 L389.30,438.50 L391.40,435.50 L389.30,432.50Z" fill="#222"/>
<text x="9.20" y="456.20" font-size="11.8" fill="#000" font-weight="bold">F</text>
<text x="6.90" y="565.60" font-size="11.8" fill="#000" font-weight="bold">G</text>
<line x1="43.00" y1="460.00" x2="43.00" y2="527.50" stroke="#222" stroke-width="1.1"/>
<line x1="42.50" y1="527.50" x2="115.50" y2="527.50" stroke="#222" stroke-width="1.1"/>
<line x1="40.00" y1="527.50" x2="43.00" y2="527.50" stroke="#222" stroke-width="0.9"/>
<text x="36.60" y="529.70" font-size="6.3" fill="#333" text-anchor="end" textLength="3.00" lengthAdjust="spacingAndGlyphs" stroke="#333" stroke-width="0.14">0</text>
<line x1="40.00" y1="520.84" x2="43.00" y2="520.84" stroke="#222" stroke-width="0.9"/>
<text x="36.60" y="523.04" font-size="6.3" fill="#333" text-anchor="end" textLength="6.01" lengthAdjust="spacingAndGlyphs" stroke="#333" stroke-width="0.14">10</text>
<line x1="40.00" y1="514.18" x2="43.00" y2="514.18" stroke="#222" stroke-width="0.9"/>
<text x="36.60" y="516.38" font-size="6.3" fill="#333" text-anchor="end" textLength="6.01" lengthAdjust="spacingAndGlyphs" stroke="#333" stroke-width="0.14">20</text>
<line x1="40.00" y1="507.52" x2="43.00" y2="507.52" stroke="#222" stroke-width="0.9"/>
<text x="36.60" y="509.72" font-size="6.3" fill="#333" text-anchor="end" textLength="6.01" lengthAdjust="spacingAndGlyphs" stroke="#333" stroke-width="0.14">30</text>
<line x1="40.00" y1="500.86" x2="43.00" y2="500.86" stroke="#222" stroke-width="0.9"/>
<text x="36.60" y="503.06" font-size="6.3" fill="#333" text-anchor="end" textLength="6.01" lengthAdjust="spacingAndGlyphs" stroke="#333" stroke-width="0.14">40</text>
<line x1="40.00" y1="494.20" x2="43.00" y2="494.20" stroke="#222" stroke-width="0.9"/>
<text x="36.60" y="496.40" font-size="6.3" fill="#333" text-anchor="end" textLength="6.01" lengthAdjust="spacingAndGlyphs" stroke="#333" stroke-width="0.14">50</text>
<line x1="40.00" y1="487.54" x2="43.00" y2="487.54" stroke="#222" stroke-width="0.9"/>
<text x="36.60" y="489.74" font-size="6.3" fill="#333" text-anchor="end" textLength="6.01" lengthAdjust="spacingAndGlyphs" stroke="#333" stroke-width="0.14">60</text>
<line x1="40.00" y1="480.88" x2="43.00" y2="480.88" stroke="#222" stroke-width="0.9"/>
<text x="36.60" y="483.08" font-size="6.3" fill="#333" text-anchor="end" textLength="6.01" lengthAdjust="spacingAndGlyphs" stroke="#333" stroke-width="0.14">70</text>
<line x1="40.00" y1="474.22" x2="43.00" y2="474.22" stroke="#222" stroke-width="0.9"/>
<text x="36.60" y="476.42" font-size="6.3" fill="#333" text-anchor="end" textLength="6.01" lengthAdjust="spacingAndGlyphs" stroke="#333" stroke-width="0.14">80</text>
<line x1="40.00" y1="467.56" x2="43.00" y2="467.56" stroke="#222" stroke-width="0.9"/>
<text x="36.60" y="469.76" font-size="6.3" fill="#333" text-anchor="end" textLength="6.01" lengthAdjust="spacingAndGlyphs" stroke="#333" stroke-width="0.14">90</text>
<line x1="40.00" y1="460.90" x2="43.00" y2="460.90" stroke="#222" stroke-width="0.9"/>
<text x="36.60" y="463.10" font-size="6.3" fill="#333" text-anchor="end" textLength="9.01" lengthAdjust="spacingAndGlyphs" stroke="#333" stroke-width="0.14">100</text>
<line x1="43.00" y1="527.50" x2="43.00" y2="530.20" stroke="#222" stroke-width="0.9"/>
<text x="44.70" y="531.00" font-size="5.2" fill="#333" text-anchor="end" textLength="10.00" lengthAdjust="spacingAndGlyphs" transform="rotate(-70 44.70 531.00)" stroke="#333" stroke-width="0.14">2²:1</text>
<line x1="50.10" y1="527.50" x2="50.10" y2="530.20" stroke="#222" stroke-width="0.9"/>
<text x="51.80" y="531.00" font-size="5.2" fill="#333" text-anchor="end" textLength="10.00" lengthAdjust="spacingAndGlyphs" transform="rotate(-70 51.80 531.00)" stroke="#333" stroke-width="0.14">2²:1</text>
<line x1="57.20" y1="527.50" x2="57.20" y2="530.20" stroke="#222" stroke-width="0.9"/>
<text x="58.90" y="531.00" font-size="5.2" fill="#333" text-anchor="end" textLength="10.00" lengthAdjust="spacingAndGlyphs" transform="rotate(-70 58.90 531.00)" stroke="#333" stroke-width="0.14">2²:1</text>
<line x1="64.30" y1="527.50" x2="64.30" y2="530.20" stroke="#222" stroke-width="0.9"/>
<text x="66.00" y="531.00" font-size="5.2" fill="#333" text-anchor="end" textLength="10.00" lengthAdjust="spacingAndGlyphs" transform="rotate(-70 66.00 531.00)" stroke="#333" stroke-width="0.14">2²:1</text>
<line x1="71.40" y1="527.50" x2="71.40" y2="530.20" stroke="#222" stroke-width="0.9"/>
<text x="73.10" y="531.00" font-size="5.2" fill="#333" text-anchor="end" textLength="10.00" lengthAdjust="spacingAndGlyphs" transform="rotate(-70 73.10 531.00)" stroke="#333" stroke-width="0.14">2²:1</text>
<line x1="78.50" y1="527.50" x2="78.50" y2="530.20" stroke="#222" stroke-width="0.9"/>
<text x="80.20" y="531.00" font-size="5.2" fill="#333" text-anchor="end" textLength="10.00" lengthAdjust="spacingAndGlyphs" transform="rotate(-70 80.20 531.00)" stroke="#333" stroke-width="0.14">2²:1</text>
<line x1="85.60" y1="527.50" x2="85.60" y2="530.20" stroke="#222" stroke-width="0.9"/>
<text x="87.30" y="531.00" font-size="5.2" fill="#333" text-anchor="end" textLength="10.00" lengthAdjust="spacingAndGlyphs" transform="rotate(-70 87.30 531.00)" stroke="#333" stroke-width="0.14">2²:1</text>
<line x1="92.70" y1="527.50" x2="92.70" y2="530.20" stroke="#222" stroke-width="0.9"/>
<text x="94.40" y="531.00" font-size="5.2" fill="#333" text-anchor="end" textLength="10.00" lengthAdjust="spacingAndGlyphs" transform="rotate(-70 94.40 531.00)" stroke="#333" stroke-width="0.14">2²:1</text>
<line x1="99.80" y1="527.50" x2="99.80" y2="530.20" stroke="#222" stroke-width="0.9"/>
<text x="101.50" y="531.00" font-size="5.2" fill="#333" text-anchor="end" textLength="10.00" lengthAdjust="spacingAndGlyphs" transform="rotate(-70 101.50 531.00)" stroke="#333" stroke-width="0.14">2²:1</text>
<line x1="106.90" y1="527.50" x2="106.90" y2="530.20" stroke="#222" stroke-width="0.9"/>
<text x="108.60" y="531.00" font-size="5.2" fill="#333" text-anchor="end" textLength="10.00" lengthAdjust="spacingAndGlyphs" transform="rotate(-70 108.60 531.00)" stroke="#333" stroke-width="0.14">2²:1</text>
<line x1="114.00" y1="527.50" x2="114.00" y2="530.20" stroke="#222" stroke-width="0.9"/>
<text x="115.70" y="531.00" font-size="5.2" fill="#333" text-anchor="end" textLength="10.00" lengthAdjust="spacingAndGlyphs" transform="rotate(-70 115.70 531.00)" stroke="#333" stroke-width="0.14">2²:1</text>
<text x="79.00" y="551.40" font-size="6.6" fill="#555" text-anchor="middle" textLength="17.50" lengthAdjust="spacingAndGlyphs" stroke="#555" stroke-width="0.14">E:T ratio</text>
<text x="21.20" y="493.00" font-size="6.0" fill="#444" text-anchor="middle" textLength="15.80" lengthAdjust="spacingAndGlyphs" transform="rotate(-90 21.20 493.00)" stroke="#444" stroke-width="0.14">% Lysis</text>
<path d="M45.80,469.56 C46.62,470.78 55.36,483.81 57.00,486.21 C58.64,488.60 66.56,500.34 68.20,502.19 C69.84,504.05 77.76,510.15 79.40,511.52 C81.04,512.88 88.96,519.91 90.60,520.84 C92.24,521.77 100.16,524.07 101.80,524.17 C103.44,524.27 112.18,522.32 113.00,522.17" fill="none" stroke="#7db04a" stroke-width="1.0"/>
<line x1="45.80" y1="468.23" x2="45.80" y2="470.89" stroke="#7db04a" stroke-width="0.6"/>
<line x1="44.60" y1="468.23" x2="47.00" y2="468.23" stroke="#7db04a" stroke-width="0.6"/>
<line x1="44.60" y1="470.89" x2="47.00" y2="470.89" stroke="#7db04a" stroke-width="0.6"/>
<path d="M44.12,470.68 L47.48,470.68 L45.80,468.02Z" fill="#7db04a"/>
<line x1="57.00" y1="483.54" x2="57.00" y2="488.87" stroke="#7db04a" stroke-width="0.6"/>
<line x1="55.80" y1="483.54" x2="58.20" y2="483.54" stroke="#7db04a" stroke-width="0.6"/>
<line x1="55.80" y1="488.87" x2="58.20" y2="488.87" stroke="#7db04a" stroke-width="0.6"/>
<path d="M55.32,487.33 L58.68,487.33 L57.00,484.67Z" fill="#7db04a"/>
<line x1="68.20" y1="495.53" x2="68.20" y2="508.85" stroke="#7db04a" stroke-width="0.6"/>
<line x1="67.00" y1="495.53" x2="69.40" y2="495.53" stroke="#7db04a" stroke-width="0.6"/>
<line x1="67.00" y1="508.85" x2="69.40" y2="508.85" stroke="#7db04a" stroke-width="0.6"/>
<path d="M66.52,503.31 L69.88,503.31 L68.20,500.65Z" fill="#7db04a"/>
<line x1="79.40" y1="506.19" x2="79.40" y2="516.84" stroke="#7db04a" stroke-width="0.6"/>
<line x1="78.20" y1="506.19" x2="80.60" y2="506.19" stroke="#7db04a" stroke-width="0.6"/>
<line x1="78.20" y1="516.84" x2="80.60" y2="516.84" stroke="#7db04a" stroke-width="0.6"/>
<path d="M77.72,512.64 L81.08,512.64 L79.40,509.98Z" fill="#7db04a"/>
<line x1="90.60" y1="516.84" x2="90.60" y2="524.84" stroke="#7db04a" stroke-width="0.6"/>
<line x1="89.40" y1="516.84" x2="91.80" y2="516.84" stroke="#7db04a" stroke-width="0.6"/>
<line x1="89.40" y1="524.84" x2="91.80" y2="524.84" stroke="#7db04a" stroke-width="0.6"/>
<path d="M88.92,521.96 L92.28,521.96 L90.60,519.30Z" fill="#7db04a"/>
<line x1="101.80" y1="521.51" x2="101.80" y2="526.83" stroke="#7db04a" stroke-width="0.6"/>
<line x1="100.60" y1="521.51" x2="103.00" y2="521.51" stroke="#7db04a" stroke-width="0.6"/>
<line x1="100.60" y1="526.83" x2="103.00" y2="526.83" stroke="#7db04a" stroke-width="0.6"/>
<path d="M100.12,525.29 L103.48,525.29 L101.80,522.63Z" fill="#7db04a"/>
<line x1="113.00" y1="520.17" x2="113.00" y2="524.17" stroke="#7db04a" stroke-width="0.6"/>
<line x1="111.80" y1="520.17" x2="114.20" y2="520.17" stroke="#7db04a" stroke-width="0.6"/>
<line x1="111.80" y1="524.17" x2="114.20" y2="524.17" stroke="#7db04a" stroke-width="0.6"/>
<path d="M111.32,523.29 L114.68,523.29 L113.00,520.63Z" fill="#7db04a"/>
<path d="M45.80,478.88 C46.62,480.05 55.36,492.62 57.00,494.87 C58.64,497.11 66.56,507.61 68.20,509.52 C69.84,511.42 78.02,519.52 79.40,520.84 C80.78,522.16 86.44,527.01 87.00,527.50" fill="none" stroke="#2d4d96" stroke-width="1.0"/>
<rect x="44.40" y="477.48" width="2.80" height="2.80" fill="#2d4d96"/>
<line x1="57.00" y1="491.54" x2="57.00" y2="498.20" stroke="#2d4d96" stroke-width="0.6"/>
<line x1="55.80" y1="491.54" x2="58.20" y2="491.54" stroke="#2d4d96" stroke-width="0.6"/>
<line x1="55.80" y1="498.20" x2="58.20" y2="498.20" stroke="#2d4d96" stroke-width="0.6"/>
<rect x="55.60" y="493.47" width="2.80" height="2.80" fill="#2d4d96"/>
<line x1="68.20" y1="499.53" x2="68.20" y2="519.51" stroke="#2d4d96" stroke-width="0.6"/>
<line x1="67.00" y1="499.53" x2="69.40" y2="499.53" stroke="#2d4d96" stroke-width="0.6"/>
<line x1="67.00" y1="519.51" x2="69.40" y2="519.51" stroke="#2d4d96" stroke-width="0.6"/>
<rect x="66.80" y="508.12" width="2.80" height="2.80" fill="#2d4d96"/>
<line x1="79.40" y1="515.51" x2="79.40" y2="526.17" stroke="#2d4d96" stroke-width="0.6"/>
<line x1="78.20" y1="515.51" x2="80.60" y2="515.51" stroke="#2d4d96" stroke-width="0.6"/>
<line x1="78.20" y1="526.17" x2="80.60" y2="526.17" stroke="#2d4d96" stroke-width="0.6"/>
<rect x="78.00" y="519.44" width="2.80" height="2.80" fill="#2d4d96"/>
<path d="M45.80,466.23 C46.62,466.67 55.36,470.37 57.00,472.22 C58.64,474.08 66.56,488.95 68.20,491.54 C69.84,494.12 77.76,505.66 79.40,507.52 C81.04,509.38 88.96,515.48 90.60,516.84 C92.24,518.21 100.74,525.39 101.80,526.17 C102.86,526.95 104.77,527.40 105.00,527.50" fill="none" stroke="#3b2754" stroke-width="1.0"/>
<path d="M44.12,465.11 L47.48,465.11 L45.80,467.77Z" fill="#3b2754"/>
<path d="M55.32,471.10 L58.68,471.10 L57.00,473.76Z" fill="#3b2754"/>
<line x1="68.20" y1="488.87" x2="68.20" y2="494.20" stroke="#3b2754" stroke-width="0.6"/>
<line x1="67.00" y1="488.87" x2="69.40" y2="488.87" stroke="#3b2754" stroke-width="0.6"/>
<line x1="67.00" y1="494.20" x2="69.40" y2="494.20" stroke="#3b2754" stroke-width="0.6"/>
<path d="M66.52,490.42 L69.88,490.42 L68.20,493.08Z" fill="#3b2754"/>
<line x1="79.40" y1="503.52" x2="79.40" y2="511.52" stroke="#3b2754" stroke-width="0.6"/>
<line x1="78.20" y1="503.52" x2="80.60" y2="503.52" stroke="#3b2754" stroke-width="0.6"/>
<line x1="78.20" y1="511.52" x2="80.60" y2="511.52" stroke="#3b2754" stroke-width="0.6"/>
<path d="M77.72,506.40 L81.08,506.40 L79.40,509.06Z" fill="#3b2754"/>
<line x1="90.60" y1="511.52" x2="90.60" y2="522.17" stroke="#3b2754" stroke-width="0.6"/>
<line x1="89.40" y1="511.52" x2="91.80" y2="511.52" stroke="#3b2754" stroke-width="0.6"/>
<line x1="89.40" y1="522.17" x2="91.80" y2="522.17" stroke="#3b2754" stroke-width="0.6"/>
<path d="M88.92,515.72 L92.28,515.72 L90.60,518.38Z" fill="#3b2754"/>
<line x1="101.80" y1="524.17" x2="101.80" y2="527.50" stroke="#3b2754" stroke-width="0.6"/>
<line x1="100.60" y1="524.17" x2="103.00" y2="524.17" stroke="#3b2754" stroke-width="0.6"/>
<line x1="100.60" y1="527.50" x2="103.00" y2="527.50" stroke="#3b2754" stroke-width="0.6"/>
<path d="M100.12,525.05 L103.48,525.05 L101.80,527.71Z" fill="#3b2754"/>
<line x1="67.70" y1="466.60" x2="76.20" y2="466.60" stroke="#7db04a" stroke-width="1.1"/>
<path d="M69.66,467.96 L73.74,467.96 L71.70,464.73Z" fill="#7db04a"/>
<text x="79.40" y="469.00" font-size="6.7" fill="#333" textLength="33.22" lengthAdjust="spacingAndGlyphs" stroke="#333" stroke-width="0.14">GSH 2-CAR</text>
<line x1="67.70" y1="474.60" x2="76.20" y2="474.60" stroke="#2d4d96" stroke-width="1.1"/>
<rect x="70.00" y="472.90" width="3.40" height="3.40" fill="#2d4d96"/>
<text x="79.40" y="477.00" font-size="6.7" fill="#333" textLength="33.22" lengthAdjust="spacingAndGlyphs" stroke="#333" stroke-width="0.14">GSH 3-CAR</text>
<line x1="67.70" y1="482.20" x2="76.20" y2="482.20" stroke="#3b2754" stroke-width="1.1"/>
<path d="M69.66,480.84 L73.74,480.84 L71.70,484.07Z" fill="#3b2754"/>
<text x="79.40" y="484.60" font-size="6.7" fill="#333" textLength="31.52" lengthAdjust="spacingAndGlyphs" stroke="#333" stroke-width="0.14">TRAC-CAR</text>
<line x1="141.20" y1="460.00" x2="141.20" y2="527.50" stroke="#222" stroke-width="1.1"/>
<line x1="140.70" y1="527.50" x2="213.70" y2="527.50" stroke="#222" stroke-width="1.1"/>
<line x1="138.20" y1="527.50" x2="141.20" y2="527.50" stroke="#222" stroke-width="0.9"/>
<text x="134.80" y="529.70" font-size="6.3" fill="#333" text-anchor="end" textLength="3.00" lengthAdjust="spacingAndGlyphs" stroke="#333" stroke-width="0.14">0</text>
<line x1="138.20" y1="520.84" x2="141.20" y2="520.84" stroke="#222" stroke-width="0.9"/>
<text x="134.80" y="523.04" font-size="6.3" fill="#333" text-anchor="end" textLength="6.01" lengthAdjust="spacingAndGlyphs" stroke="#333" stroke-width="0.14">10</text>
<line x1="138.20" y1="514.18" x2="141.20" y2="514.18" stroke="#222" stroke-width="0.9"/>
<text x="134.80" y="516.38" font-size="6.3" fill="#333" text-anchor="end" textLength="6.01" lengthAdjust="spacingAndGlyphs" stroke="#333" stroke-width="0.14">20</text>
<line x1="138.20" y1="507.52" x2="141.20" y2="507.52" stroke="#222" stroke-width="0.9"/>
<text x="134.80" y="509.72" font-size="6.3" fill="#333" text-anchor="end" textLength="6.01" lengthAdjust="spacingAndGlyphs" stroke="#333" stroke-width="0.14">30</text>
<line x1="138.20" y1="500.86" x2="141.20" y2="500.86" stroke="#222" stroke-width="0.9"/>
<text x="134.80" y="503.06" font-size="6.3" fill="#333" text-anchor="end" textLength="6.01" lengthAdjust="spacingAndGlyphs" stroke="#333" stroke-width="0.14">40</text>
<line x1="138.20" y1="494.20" x2="141.20" y2="494.20" stroke="#222" stroke-width="0.9"/>
<text x="134.80" y="496.40" font-size="6.3" fill="#333" text-anchor="end" textLength="6.01" lengthAdjust="spacingAndGlyphs" stroke="#333" stroke-width="0.14">50</text>
<line x1="138.20" y1="487.54" x2="141.20" y2="487.54" stroke="#222" stroke-width="0.9"/>
<text x="134.80" y="489.74" font-size="6.3" fill="#333" text-anchor="end" textLength="6.01" lengthAdjust="spacingAndGlyphs" stroke="#333" stroke-width="0.14">60</text>
<line x1="138.20" y1="480.88" x2="141.20" y2="480.88" stroke="#222" stroke-width="0.9"/>
<text x="134.80" y="483.08" font-size="6.3" fill="#333" text-anchor="end" textLength="6.01" lengthAdjust="spacingAndGlyphs" stroke="#333" stroke-width="0.14">70</text>
<line x1="138.20" y1="474.22" x2="141.20" y2="474.22" stroke="#222" stroke-width="0.9"/>
<text x="134.80" y="476.42" font-size="6.3" fill="#333" text-anchor="end" textLength="6.01" lengthAdjust="spacingAndGlyphs" stroke="#333" stroke-width="0.14">80</text>
<line x1="138.20" y1="467.56" x2="141.20" y2="467.56" stroke="#222" stroke-width="0.9"/>
<text x="134.80" y="469.76" font-size="6.3" fill="#333" text-anchor="end" textLength="6.01" lengthAdjust="spacingAndGlyphs" stroke="#333" stroke-width="0.14">90</text>
<line x1="138.20" y1="460.90" x2="141.20" y2="460.90" stroke="#222" stroke-width="0.9"/>
<text x="134.80" y="463.10" font-size="6.3" fill="#333" text-anchor="end" textLength="9.01" lengthAdjust="spacingAndGlyphs" stroke="#333" stroke-width="0.14">100</text>
<line x1="141.20" y1="527.50" x2="141.20" y2="530.20" stroke="#222" stroke-width="0.9"/>
<text x="142.90" y="531.00" font-size="5.2" fill="#333" text-anchor="end" textLength="10.00" lengthAdjust="spacingAndGlyphs" transform="rotate(-70 142.90 531.00)" stroke="#333" stroke-width="0.14">2²:1</text>
<line x1="148.30" y1="527.50" x2="148.30" y2="530.20" stroke="#222" stroke-width="0.9"/>
<text x="150.00" y="531.00" font-size="5.2" fill="#333" text-anchor="end" textLength="10.00" lengthAdjust="spacingAndGlyphs" transform="rotate(-70 150.00 531.00)" stroke="#333" stroke-width="0.14">2²:1</text>
<line x1="155.40" y1="527.50" x2="155.40" y2="530.20" stroke="#222" stroke-width="0.9"/>
<text x="157.10" y="531.00" font-size="5.2" fill="#333" text-anchor="end" textLength="10.00" lengthAdjust="spacingAndGlyphs" transform="rotate(-70 157.10 531.00)" stroke="#333" stroke-width="0.14">2²:1</text>
<line x1="162.50" y1="527.50" x2="162.50" y2="530.20" stroke="#222" stroke-width="0.9"/>
<text x="164.20" y="531.00" font-size="5.2" fill="#333" text-anchor="end" textLength="10.00" lengthAdjust="spacingAndGlyphs" transform="rotate(-70 164.20 531.00)" stroke="#333" stroke-width="0.14">2²:1</text>
<line x1="169.60" y1="527.50" x2="169.60" y2="530.20" stroke="#222" stroke-width="0.9"/>
<text x="171.30" y="531.00" font-size="5.2" fill="#333" text-anchor="end" textLength="10.00" lengthAdjust="spacingAndGlyphs" transform="rotate(-70 171.30 531.00)" stroke="#333" stroke-width="0.14">2²:1</text>
<line x1="176.70" y1="527.50" x2="176.70" y2="530.20" stroke="#222" stroke-width="0.9"/>
<text x="178.40" y="531.00" font-size="5.2" fill="#333" text-anchor="end" textLength="10.00" lengthAdjust="spacingAndGlyphs" transform="rotate(-70 178.40 531.00)" stroke="#333" stroke-width="0.14">2²:1</text>
<line x1="183.80" y1="527.50" x2="183.80" y2="530.20" stroke="#222" stroke-width="0.9"/>
<text x="185.50" y="531.00" font-size="5.2" fill="#333" text-anchor="end" textLength="10.00" lengthAdjust="spacingAndGlyphs" transform="rotate(-70 185.50 531.00)" stroke="#333" stroke-width="0.14">2²:1</text>
<line x1="190.90" y1="527.50" x2="190.90" y2="530.20" stroke="#222" stroke-width="0.9"/>
<text x="192.60" y="531.00" font-size="5.2" fill="#333" text-anchor="end" textLength="10.00" lengthAdjust="spacingAndGlyphs" transform="rotate(-70 192.60 531.00)" stroke="#333" stroke-width="0.14">2²:1</text>
<line x1="198.00" y1="527.50" x2="198.00" y2="530.20" stroke="#222" stroke-width="0.9"/>
<text x="199.70" y="531.00" font-size="5.2" fill="#333" text-anchor="end" textLength="10.00" lengthAdjust="spacingAndGlyphs" transform="rotate(-70 199.70 531.00)" stroke="#333" stroke-width="0.14">2²:1</text>
<line x1="205.10" y1="527.50" x2="205.10" y2="530.20" stroke="#222" stroke-width="0.9"/>
<text x="206.80" y="531.00" font-size="5.2" fill="#333" text-anchor="end" textLength="10.00" lengthAdjust="spacingAndGlyphs" transform="rotate(-70 206.80 531.00)" stroke="#333" stroke-width="0.14">2²:1</text>
<line x1="212.20" y1="527.50" x2="212.20" y2="530.20" stroke="#222" stroke-width="0.9"/>
<text x="213.90" y="531.00" font-size="5.2" fill="#333" text-anchor="end" textLength="10.00" lengthAdjust="spacingAndGlyphs" transform="rotate(-70 213.90 531.00)" stroke="#333" stroke-width="0.14">2²:1</text>
<text x="177.20" y="551.40" font-size="6.6" fill="#555" text-anchor="middle" textLength="17.50" lengthAdjust="spacingAndGlyphs" stroke="#555" stroke-width="0.14">E:T ratio</text>
<path d="M144.00,472.22 C144.82,473.20 153.56,483.20 155.20,485.54 C156.84,487.89 164.76,501.85 166.40,504.19 C168.04,506.53 175.96,516.04 177.60,517.51 C179.24,518.98 187.16,523.68 188.80,524.17 C190.44,524.66 198.36,524.07 200.00,524.17 C201.64,524.27 210.38,525.40 211.20,525.50" fill="none" stroke="#8fb8e6" stroke-width="1.0"/>
<line x1="144.00" y1="469.56" x2="144.00" y2="474.89" stroke="#8fb8e6" stroke-width="0.6"/>
<line x1="142.80" y1="469.56" x2="145.20" y2="469.56" stroke="#8fb8e6" stroke-width="0.6"/>
<line x1="142.80" y1="474.89" x2="145.20" y2="474.89" stroke="#8fb8e6" stroke-width="0.6"/>
<path d="M144.00,470.54 L145.68,472.22 L144.00,473.90 L142.32,472.22Z" fill="#8fb8e6"/>
<line x1="155.20" y1="482.88" x2="155.20" y2="488.21" stroke="#8fb8e6" stroke-width="0.6"/>
<line x1="154.00" y1="482.88" x2="156.40" y2="482.88" stroke="#8fb8e6" stroke-width="0.6"/>
<line x1="154.00" y1="488.21" x2="156.40" y2="488.21" stroke="#8fb8e6" stroke-width="0.6"/>
<path d="M155.20,483.86 L156.88,485.54 L155.20,487.22 L153.52,485.54Z" fill="#8fb8e6"/>
<line x1="166.40" y1="496.20" x2="166.40" y2="512.18" stroke="#8fb8e6" stroke-width="0.6"/>
<line x1="165.20" y1="496.20" x2="167.60" y2="496.20" stroke="#8fb8e6" stroke-width="0.6"/>
<line x1="165.20" y1="512.18" x2="167.60" y2="512.18" stroke="#8fb8e6" stroke-width="0.6"/>
<path d="M166.40,502.51 L168.08,504.19 L166.40,505.87 L164.72,504.19Z" fill="#8fb8e6"/>
<line x1="177.60" y1="510.85" x2="177.60" y2="524.17" stroke="#8fb8e6" stroke-width="0.6"/>
<line x1="176.40" y1="510.85" x2="178.80" y2="510.85" stroke="#8fb8e6" stroke-width="0.6"/>
<line x1="176.40" y1="524.17" x2="178.80" y2="524.17" stroke="#8fb8e6" stroke-width="0.6"/>
<path d="M177.60,515.83 L179.28,517.51 L177.60,519.19 L175.92,517.51Z" fill="#8fb8e6"/>
<line x1="188.80" y1="521.51" x2="188.80" y2="526.83" stroke="#8fb8e6" stroke-width="0.6"/>
<line x1="187.60" y1="521.51" x2="190.00" y2="521.51" stroke="#8fb8e6" stroke-width="0.6"/>
<line x1="187.60" y1="526.83" x2="190.00" y2="526.83" stroke="#8fb8e6" stroke-width="0.6"/>
<path d="M188.80,522.49 L190.48,524.17 L188.80,525.85 L187.12,524.17Z" fill="#8fb8e6"/>
<line x1="200.00" y1="522.84" x2="200.00" y2="525.50" stroke="#8fb8e6" stroke-width="0.6"/>
<line x1="198.80" y1="522.84" x2="201.20" y2="522.84" stroke="#8fb8e6" stroke-width="0.6"/>
<line x1="198.80" y1="525.50" x2="201.20" y2="525.50" stroke="#8fb8e6" stroke-width="0.6"/>
<path d="M200.00,522.49 L201.68,524.17 L200.00,525.85 L198.32,524.17Z" fill="#8fb8e6"/>
<line x1="211.20" y1="524.17" x2="211.20" y2="526.83" stroke="#8fb8e6" stroke-width="0.6"/>
<line x1="210.00" y1="524.17" x2="212.40" y2="524.17" stroke="#8fb8e6" stroke-width="0.6"/>
<line x1="210.00" y1="526.83" x2="212.40" y2="526.83" stroke="#8fb8e6" stroke-width="0.6"/>
<path d="M211.20,523.82 L212.88,525.50 L211.20,527.18 L209.52,525.50Z" fill="#8fb8e6"/>
<path d="M144.00,468.23 C144.82,469.40 153.56,481.96 155.20,484.21 C156.84,486.46 164.76,496.91 166.40,498.86 C168.04,500.82 175.96,509.53 177.60,510.85 C179.24,512.17 187.16,516.21 188.80,516.84 C190.44,517.48 198.36,519.02 200.00,519.51 C201.64,520.00 210.38,523.21 211.20,523.50" fill="none" stroke="#45527e" stroke-width="1.0"/>
<line x1="144.00" y1="466.23" x2="144.00" y2="470.22" stroke="#45527e" stroke-width="0.6"/>
<line x1="142.80" y1="466.23" x2="145.20" y2="466.23" stroke="#45527e" stroke-width="0.6"/>
<line x1="142.80" y1="470.22" x2="145.20" y2="470.22" stroke="#45527e" stroke-width="0.6"/>
<circle cx="144.00" cy="468.23" r="1.40" fill="#45527e"/>
<line x1="155.20" y1="482.21" x2="155.20" y2="486.21" stroke="#45527e" stroke-width="0.6"/>
<line x1="154.00" y1="482.21" x2="156.40" y2="482.21" stroke="#45527e" stroke-width="0.6"/>
<line x1="154.00" y1="486.21" x2="156.40" y2="486.21" stroke="#45527e" stroke-width="0.6"/>
<circle cx="155.20" cy="484.21" r="1.40" fill="#45527e"/>
<line x1="166.40" y1="495.53" x2="166.40" y2="502.19" stroke="#45527e" stroke-width="0.6"/>
<line x1="165.20" y1="495.53" x2="167.60" y2="495.53" stroke="#45527e" stroke-width="0.6"/>
<line x1="165.20" y1="502.19" x2="167.60" y2="502.19" stroke="#45527e" stroke-width="0.6"/>
<circle cx="166.40" cy="498.86" r="1.40" fill="#45527e"/>
<line x1="177.60" y1="507.52" x2="177.60" y2="514.18" stroke="#45527e" stroke-width="0.6"/>
<line x1="176.40" y1="507.52" x2="178.80" y2="507.52" stroke="#45527e" stroke-width="0.6"/>
<line x1="176.40" y1="514.18" x2="178.80" y2="514.18" stroke="#45527e" stroke-width="0.6"/>
<circle cx="177.60" cy="510.85" r="1.40" fill="#45527e"/>
<line x1="188.80" y1="511.52" x2="188.80" y2="522.17" stroke="#45527e" stroke-width="0.6"/>
<line x1="187.60" y1="511.52" x2="190.00" y2="511.52" stroke="#45527e" stroke-width="0.6"/>
<line x1="187.60" y1="522.17" x2="190.00" y2="522.17" stroke="#45527e" stroke-width="0.6"/>
<circle cx="188.80" cy="516.84" r="1.40" fill="#45527e"/>
<line x1="200.00" y1="517.51" x2="200.00" y2="521.51" stroke="#45527e" stroke-width="0.6"/>
<line x1="198.80" y1="517.51" x2="201.20" y2="517.51" stroke="#45527e" stroke-width="0.6"/>
<line x1="198.80" y1="521.51" x2="201.20" y2="521.51" stroke="#45527e" stroke-width="0.6"/>
<circle cx="200.00" cy="519.51" r="1.40" fill="#45527e"/>
<line x1="211.20" y1="520.17" x2="211.20" y2="526.83" stroke="#45527e" stroke-width="0.6"/>
<line x1="210.00" y1="520.17" x2="212.40" y2="520.17" stroke="#45527e" stroke-width="0.6"/>
<line x1="210.00" y1="526.83" x2="212.40" y2="526.83" stroke="#45527e" stroke-width="0.6"/>
<circle cx="211.20" cy="523.50" r="1.40" fill="#45527e"/>
<path d="M144.00,466.23 C144.82,466.67 153.56,470.27 155.20,472.22 C156.84,474.18 164.76,490.28 166.40,492.87 C168.04,495.46 175.96,505.76 177.60,507.52 C179.24,509.28 187.16,515.48 188.80,516.84 C190.44,518.21 198.98,525.39 200.00,526.17 C201.02,526.95 202.50,527.40 202.70,527.50" fill="none" stroke="#3b2754" stroke-width="1.0"/>
<line x1="144.00" y1="464.23" x2="144.00" y2="468.23" stroke="#3b2754" stroke-width="0.6"/>
<line x1="142.80" y1="464.23" x2="145.20" y2="464.23" stroke="#3b2754" stroke-width="0.6"/>
<line x1="142.80" y1="468.23" x2="145.20" y2="468.23" stroke="#3b2754" stroke-width="0.6"/>
<path d="M142.32,465.11 L145.68,465.11 L144.00,467.77Z" fill="#3b2754"/>
<line x1="155.20" y1="470.89" x2="155.20" y2="473.55" stroke="#3b2754" stroke-width="0.6"/>
<line x1="154.00" y1="470.89" x2="156.40" y2="470.89" stroke="#3b2754" stroke-width="0.6"/>
<line x1="154.00" y1="473.55" x2="156.40" y2="473.55" stroke="#3b2754" stroke-width="0.6"/>
<path d="M153.52,471.10 L156.88,471.10 L155.20,473.76Z" fill="#3b2754"/>
<line x1="166.40" y1="489.54" x2="166.40" y2="496.20" stroke="#3b2754" stroke-width="0.6"/>
<line x1="165.20" y1="489.54" x2="167.60" y2="489.54" stroke="#3b2754" stroke-width="0.6"/>
<line x1="165.20" y1="496.20" x2="167.60" y2="496.20" stroke="#3b2754" stroke-width="0.6"/>
<path d="M164.72,491.75 L168.08,491.75 L166.40,494.41Z" fill="#3b2754"/>
<line x1="177.60" y1="504.19" x2="177.60" y2="510.85" stroke="#3b2754" stroke-width="0.6"/>
<line x1="176.40" y1="504.19" x2="178.80" y2="504.19" stroke="#3b2754" stroke-width="0.6"/>
<line x1="176.40" y1="510.85" x2="178.80" y2="510.85" stroke="#3b2754" stroke-width="0.6"/>
<path d="M175.92,506.40 L179.28,506.40 L177.60,509.06Z" fill="#3b2754"/>
<line x1="188.80" y1="513.51" x2="188.80" y2="520.17" stroke="#3b2754" stroke-width="0.6"/>
<line x1="187.60" y1="513.51" x2="190.00" y2="513.51" stroke="#3b2754" stroke-width="0.6"/>
<line x1="187.60" y1="520.17" x2="190.00" y2="520.17" stroke="#3b2754" stroke-width="0.6"/>
<path d="M187.12,515.72 L190.48,515.72 L188.80,518.38Z" fill="#3b2754"/>
<line x1="200.00" y1="524.84" x2="200.00" y2="527.50" stroke="#3b2754" stroke-width="0.6"/>
<line x1="198.80" y1="524.84" x2="201.20" y2="524.84" stroke="#3b2754" stroke-width="0.6"/>
<line x1="198.80" y1="527.50" x2="201.20" y2="527.50" stroke="#3b2754" stroke-width="0.6"/>
<path d="M198.32,525.05 L201.68,525.05 L200.00,527.71Z" fill="#3b2754"/>
<line x1="161.50" y1="458.30" x2="170.00" y2="458.30" stroke="#8fb8e6" stroke-width="1.1"/>
<path d="M165.50,456.26 L167.54,458.30 L165.50,460.34 L163.46,458.30Z" fill="#8fb8e6"/>
<text x="171.80" y="460.70" font-size="6.7" fill="#333" textLength="33.22" lengthAdjust="spacingAndGlyphs" stroke="#333" stroke-width="0.14">GSH 1-CAR</text>
<line x1="161.50" y1="466.20" x2="170.00" y2="466.20" stroke="#45527e" stroke-width="1.1"/>
<circle cx="165.50" cy="466.20" r="1.70" fill="#45527e"/>
<text x="171.80" y="468.60" font-size="6.7" fill="#333" textLength="44.58" lengthAdjust="spacingAndGlyphs" stroke="#333" stroke-width="0.14">GSH 1+C1-CAR</text>
<line x1="161.50" y1="473.80" x2="170.00" y2="473.80" stroke="#3b2754" stroke-width="1.1"/>
<path d="M163.46,472.44 L167.54,472.44 L165.50,475.67Z" fill="#3b2754"/>
<text x="171.80" y="476.20" font-size="6.7" fill="#333" textLength="31.52" lengthAdjust="spacingAndGlyphs" stroke="#333" stroke-width="0.14">TRAC-CAR</text>
<line x1="241.20" y1="460.00" x2="241.20" y2="527.50" stroke="#222" stroke-width="1.1"/>
<line x1="240.70" y1="527.50" x2="313.70" y2="527.50" stroke="#222" stroke-width="1.1"/>
<line x1="238.20" y1="527.50" x2="241.20" y2="527.50" stroke="#222" stroke-width="0.9"/>
<text x="234.80" y="529.70" font-size="6.3" fill="#333" text-anchor="end" textLength="3.00" lengthAdjust="spacingAndGlyphs" stroke="#333" stroke-width="0.14">0</text>
<line x1="238.20" y1="520.84" x2="241.20" y2="520.84" stroke="#222" stroke-width="0.9"/>
<text x="234.80" y="523.04" font-size="6.3" fill="#333" text-anchor="end" textLength="6.01" lengthAdjust="spacingAndGlyphs" stroke="#333" stroke-width="0.14">10</text>
<line x1="238.20" y1="514.18" x2="241.20" y2="514.18" stroke="#222" stroke-width="0.9"/>
<text x="234.80" y="516.38" font-size="6.3" fill="#333" text-anchor="end" textLength="6.01" lengthAdjust="spacingAndGlyphs" stroke="#333" stroke-width="0.14">20</text>
<line x1="238.20" y1="507.52" x2="241.20" y2="507.52" stroke="#222" stroke-width="0.9"/>
<text x="234.80" y="509.72" font-size="6.3" fill="#333" text-anchor="end" textLength="6.01" lengthAdjust="spacingAndGlyphs" stroke="#333" stroke-width="0.14">30</text>
<line x1="238.20" y1="500.86" x2="241.20" y2="500.86" stroke="#222" stroke-width="0.9"/>
<text x="234.80" y="503.06" font-size="6.3" fill="#333" text-anchor="end" textLength="6.01" lengthAdjust="spacingAndGlyphs" stroke="#333" stroke-width="0.14">40</text>
<line x1="238.20" y1="494.20" x2="241.20" y2="494.20" stroke="#222" stroke-width="0.9"/>
<text x="234.80" y="496.40" font-size="6.3" fill="#333" text-anchor="end" textLength="6.01" lengthAdjust="spacingAndGlyphs" stroke="#333" stroke-width="0.14">50</text>
<line x1="238.20" y1="487.54" x2="241.20" y2="487.54" stroke="#222" stroke-width="0.9"/>
<text x="234.80" y="489.74" font-size="6.3" fill="#333" text-anchor="end" textLength="6.01" lengthAdjust="spacingAndGlyphs" stroke="#333" stroke-width="0.14">60</text>
<line x1="238.20" y1="480.88" x2="241.20" y2="480.88" stroke="#222" stroke-width="0.9"/>
<text x="234.80" y="483.08" font-size="6.3" fill="#333" text-anchor="end" textLength="6.01" lengthAdjust="spacingAndGlyphs" stroke="#333" stroke-width="0.14">70</text>
<line x1="238.20" y1="474.22" x2="241.20" y2="474.22" stroke="#222" stroke-width="0.9"/>
<text x="234.80" y="476.42" font-size="6.3" fill="#333" text-anchor="end" textLength="6.01" lengthAdjust="spacingAndGlyphs" stroke="#333" stroke-width="0.14">80</text>
<line x1="238.20" y1="467.56" x2="241.20" y2="467.56" stroke="#222" stroke-width="0.9"/>
<text x="234.80" y="469.76" font-size="6.3" fill="#333" text-anchor="end" textLength="6.01" lengthAdjust="spacingAndGlyphs" stroke="#333" stroke-width="0.14">90</text>
<line x1="238.20" y1="460.90" x2="241.20" y2="460.90" stroke="#222" stroke-width="0.9"/>
<text x="234.80" y="463.10" font-size="6.3" fill="#333" text-anchor="end" textLength="9.01" lengthAdjust="spacingAndGlyphs" stroke="#333" stroke-width="0.14">100</text>
<line x1="241.20" y1="527.50" x2="241.20" y2="530.20" stroke="#222" stroke-width="0.9"/>
<text x="242.90" y="531.00" font-size="5.2" fill="#333" text-anchor="end" textLength="10.00" lengthAdjust="spacingAndGlyphs" transform="rotate(-70 242.90 531.00)" stroke="#333" stroke-width="0.14">2²:1</text>
<line x1="248.30" y1="527.50" x2="248.30" y2="530.20" stroke="#222" stroke-width="0.9"/>
<text x="250.00" y="531.00" font-size="5.2" fill="#333" text-anchor="end" textLength="10.00" lengthAdjust="spacingAndGlyphs" transform="rotate(-70 250.00 531.00)" stroke="#333" stroke-width="0.14">2²:1</text>
<line x1="255.40" y1="527.50" x2="255.40" y2="530.20" stroke="#222" stroke-width="0.9"/>
<text x="257.10" y="531.00" font-size="5.2" fill="#333" text-anchor="end" textLength="10.00" lengthAdjust="spacingAndGlyphs" transform="rotate(-70 257.10 531.00)" stroke="#333" stroke-width="0.14">2²:1</text>
<line x1="262.50" y1="527.50" x2="262.50" y2="530.20" stroke="#222" stroke-width="0.9"/>
<text x="264.20" y="531.00" font-size="5.2" fill="#333" text-anchor="end" textLength="10.00" lengthAdjust="spacingAndGlyphs" transform="rotate(-70 264.20 531.00)" stroke="#333" stroke-width="0.14">2²:1</text>
<line x1="269.60" y1="527.50" x2="269.60" y2="530.20" stroke="#222" stroke-width="0.9"/>
<text x="271.30" y="531.00" font-size="5.2" fill="#333" text-anchor="end" textLength="10.00" lengthAdjust="spacingAndGlyphs" transform="rotate(-70 271.30 531.00)" stroke="#333" stroke-width="0.14">2²:1</text>
<line x1="276.70" y1="527.50" x2="276.70" y2="530.20" stroke="#222" stroke-width="0.9"/>
<text x="278.40" y="531.00" font-size="5.2" fill="#333" text-anchor="end" textLength="10.00" lengthAdjust="spacingAndGlyphs" transform="rotate(-70 278.40 531.00)" stroke="#333" stroke-width="0.14">2²:1</text>
<line x1="283.80" y1="527.50" x2="283.80" y2="530.20" stroke="#222" stroke-width="0.9"/>
<text x="285.50" y="531.00" font-size="5.2" fill="#333" text-anchor="end" textLength="10.00" lengthAdjust="spacingAndGlyphs" transform="rotate(-70 285.50 531.00)" stroke="#333" stroke-width="0.14">2²:1</text>
<line x1="290.90" y1="527.50" x2="290.90" y2="530.20" stroke="#222" stroke-width="0.9"/>
<text x="292.60" y="531.00" font-size="5.2" fill="#333" text-anchor="end" textLength="10.00" lengthAdjust="spacingAndGlyphs" transform="rotate(-70 292.60 531.00)" stroke="#333" stroke-width="0.14">2²:1</text>
<line x1="298.00" y1="527.50" x2="298.00" y2="530.20" stroke="#222" stroke-width="0.9"/>
<text x="299.70" y="531.00" font-size="5.2" fill="#333" text-anchor="end" textLength="10.00" lengthAdjust="spacingAndGlyphs" transform="rotate(-70 299.70 531.00)" stroke="#333" stroke-width="0.14">2²:1</text>
<line x1="305.10" y1="527.50" x2="305.10" y2="530.20" stroke="#222" stroke-width="0.9"/>
<text x="306.80" y="531.00" font-size="5.2" fill="#333" text-anchor="end" textLength="10.00" lengthAdjust="spacingAndGlyphs" transform="rotate(-70 306.80 531.00)" stroke="#333" stroke-width="0.14">2²:1</text>
<line x1="312.20" y1="527.50" x2="312.20" y2="530.20" stroke="#222" stroke-width="0.9"/>
<text x="313.90" y="531.00" font-size="5.2" fill="#333" text-anchor="end" textLength="10.00" lengthAdjust="spacingAndGlyphs" transform="rotate(-70 313.90 531.00)" stroke="#333" stroke-width="0.14">2²:1</text>
<text x="277.20" y="551.40" font-size="6.6" fill="#555" text-anchor="middle" textLength="17.50" lengthAdjust="spacingAndGlyphs" stroke="#555" stroke-width="0.14">E:T ratio</text>
<path d="M244.00,474.22 C244.82,476.27 253.56,499.65 255.20,502.19 C256.84,504.73 264.76,507.83 266.40,508.85 C268.04,509.88 275.96,515.30 277.60,516.18 C279.24,517.06 287.16,520.11 288.80,520.84 C290.44,521.57 298.36,525.92 300.00,526.17 C301.64,526.41 310.38,524.32 311.20,524.17" fill="none" stroke="#a47a4a" stroke-width="1.0"/>
<line x1="244.00" y1="472.22" x2="244.00" y2="476.22" stroke="#a47a4a" stroke-width="0.6"/>
<line x1="242.80" y1="472.22" x2="245.20" y2="472.22" stroke="#a47a4a" stroke-width="0.6"/>
<line x1="242.80" y1="476.22" x2="245.20" y2="476.22" stroke="#a47a4a" stroke-width="0.6"/>
<path d="M244.00,472.54 L245.68,474.22 L244.00,475.90 L242.32,474.22Z" fill="#a47a4a"/>
<line x1="255.20" y1="498.20" x2="255.20" y2="506.19" stroke="#a47a4a" stroke-width="0.6"/>
<line x1="254.00" y1="498.20" x2="256.40" y2="498.20" stroke="#a47a4a" stroke-width="0.6"/>
<line x1="254.00" y1="506.19" x2="256.40" y2="506.19" stroke="#a47a4a" stroke-width="0.6"/>
<path d="M255.20,500.51 L256.88,502.19 L255.20,503.87 L253.52,502.19Z" fill="#a47a4a"/>
<line x1="266.40" y1="506.19" x2="266.40" y2="511.52" stroke="#a47a4a" stroke-width="0.6"/>
<line x1="265.20" y1="506.19" x2="267.60" y2="506.19" stroke="#a47a4a" stroke-width="0.6"/>
<line x1="265.20" y1="511.52" x2="267.60" y2="511.52" stroke="#a47a4a" stroke-width="0.6"/>
<path d="M266.40,507.17 L268.08,508.85 L266.40,510.53 L264.72,508.85Z" fill="#a47a4a"/>
<line x1="277.60" y1="513.51" x2="277.60" y2="518.84" stroke="#a47a4a" stroke-width="0.6"/>
<line x1="276.40" y1="513.51" x2="278.80" y2="513.51" stroke="#a47a4a" stroke-width="0.6"/>
<line x1="276.40" y1="518.84" x2="278.80" y2="518.84" stroke="#a47a4a" stroke-width="0.6"/>
<path d="M277.60,514.50 L279.28,516.18 L277.60,517.86 L275.92,516.18Z" fill="#a47a4a"/>
<line x1="288.80" y1="518.84" x2="288.80" y2="522.84" stroke="#a47a4a" stroke-width="0.6"/>
<line x1="287.60" y1="518.84" x2="290.00" y2="518.84" stroke="#a47a4a" stroke-width="0.6"/>
<line x1="287.60" y1="522.84" x2="290.00" y2="522.84" stroke="#a47a4a" stroke-width="0.6"/>
<path d="M288.80,519.16 L290.48,520.84 L288.80,522.52 L287.12,520.84Z" fill="#a47a4a"/>
<line x1="300.00" y1="524.84" x2="300.00" y2="527.50" stroke="#a47a4a" stroke-width="0.6"/>
<line x1="298.80" y1="524.84" x2="301.20" y2="524.84" stroke="#a47a4a" stroke-width="0.6"/>
<line x1="298.80" y1="527.50" x2="301.20" y2="527.50" stroke="#a47a4a" stroke-width="0.6"/>
<path d="M300.00,524.49 L301.68,526.17 L300.00,527.85 L298.32,526.17Z" fill="#a47a4a"/>
<line x1="311.20" y1="522.84" x2="311.20" y2="525.50" stroke="#a47a4a" stroke-width="0.6"/>
<line x1="310.00" y1="522.84" x2="312.40" y2="522.84" stroke="#a47a4a" stroke-width="0.6"/>
<line x1="310.00" y1="525.50" x2="312.40" y2="525.50" stroke="#a47a4a" stroke-width="0.6"/>
<path d="M311.20,522.49 L312.88,524.17 L311.20,525.85 L309.52,524.17Z" fill="#a47a4a"/>
<path d="M244.00,469.56 C244.82,470.88 253.56,485.34 255.20,487.54 C256.84,489.74 264.76,497.67 266.40,499.53 C268.04,501.38 275.96,511.43 277.60,512.85 C279.24,514.26 287.16,518.01 288.80,518.84 C290.44,519.67 298.36,523.78 300.00,524.17 C301.64,524.56 310.38,524.17 311.20,524.17" fill="none" stroke="#eab060" stroke-width="1.0"/>
<line x1="244.00" y1="467.56" x2="244.00" y2="471.56" stroke="#eab060" stroke-width="0.6"/>
<line x1="242.80" y1="467.56" x2="245.20" y2="467.56" stroke="#eab060" stroke-width="0.6"/>
<line x1="242.80" y1="471.56" x2="245.20" y2="471.56" stroke="#eab060" stroke-width="0.6"/>
<circle cx="244.00" cy="469.56" r="1.40" fill="#eab060"/>
<line x1="255.20" y1="485.54" x2="255.20" y2="489.54" stroke="#eab060" stroke-width="0.6"/>
<line x1="254.00" y1="485.54" x2="256.40" y2="485.54" stroke="#eab060" stroke-width="0.6"/>
<line x1="254.00" y1="489.54" x2="256.40" y2="489.54" stroke="#eab060" stroke-width="0.6"/>
<circle cx="255.20" cy="487.54" r="1.40" fill="#eab060"/>
<line x1="266.40" y1="496.20" x2="266.40" y2="502.86" stroke="#eab060" stroke-width="0.6"/>
<line x1="265.20" y1="496.20" x2="267.60" y2="496.20" stroke="#eab060" stroke-width="0.6"/>
<line x1="265.20" y1="502.86" x2="267.60" y2="502.86" stroke="#eab060" stroke-width="0.6"/>
<circle cx="266.40" cy="499.53" r="1.40" fill="#eab060"/>
<line x1="277.60" y1="508.85" x2="277.60" y2="516.84" stroke="#eab060" stroke-width="0.6"/>
<line x1="276.40" y1="508.85" x2="278.80" y2="508.85" stroke="#eab060" stroke-width="0.6"/>
<line x1="276.40" y1="516.84" x2="278.80" y2="516.84" stroke="#eab060" stroke-width="0.6"/>
<circle cx="277.60" cy="512.85" r="1.40" fill="#eab060"/>
<line x1="288.80" y1="513.51" x2="288.80" y2="524.17" stroke="#eab060" stroke-width="0.6"/>
<line x1="287.60" y1="513.51" x2="290.00" y2="513.51" stroke="#eab060" stroke-width="0.6"/>
<line x1="287.60" y1="524.17" x2="290.00" y2="524.17" stroke="#eab060" stroke-width="0.6"/>
<circle cx="288.80" cy="518.84" r="1.40" fill="#eab060"/>
<line x1="300.00" y1="518.84" x2="300.00" y2="527.50" stroke="#eab060" stroke-width="0.6"/>
<line x1="298.80" y1="518.84" x2="301.20" y2="518.84" stroke="#eab060" stroke-width="0.6"/>
<line x1="298.80" y1="527.50" x2="301.20" y2="527.50" stroke="#eab060" stroke-width="0.6"/>
<circle cx="300.00" cy="524.17" r="1.40" fill="#eab060"/>
<line x1="311.20" y1="520.17" x2="311.20" y2="527.50" stroke="#eab060" stroke-width="0.6"/>
<line x1="310.00" y1="520.17" x2="312.40" y2="520.17" stroke="#eab060" stroke-width="0.6"/>
<line x1="310.00" y1="527.50" x2="312.40" y2="527.50" stroke="#eab060" stroke-width="0.6"/>
<circle cx="311.20" cy="524.17" r="1.40" fill="#eab060"/>
<path d="M244.00,465.56 C244.82,466.05 253.56,470.27 255.20,472.22 C256.84,474.18 264.76,489.61 266.40,492.20 C268.04,494.79 275.96,505.66 277.60,507.52 C279.24,509.38 287.16,516.14 288.80,517.51 C290.44,518.88 298.98,525.44 300.00,526.17 C301.02,526.90 302.50,527.40 302.70,527.50" fill="none" stroke="#3b2754" stroke-width="1.0"/>
<path d="M242.32,464.44 L245.68,464.44 L244.00,467.10Z" fill="#3b2754"/>
<path d="M253.52,471.10 L256.88,471.10 L255.20,473.76Z" fill="#3b2754"/>
<line x1="266.40" y1="488.87" x2="266.40" y2="495.53" stroke="#3b2754" stroke-width="0.6"/>
<line x1="265.20" y1="488.87" x2="267.60" y2="488.87" stroke="#3b2754" stroke-width="0.6"/>
<line x1="265.20" y1="495.53" x2="267.60" y2="495.53" stroke="#3b2754" stroke-width="0.6"/>
<path d="M264.72,491.08 L268.08,491.08 L266.40,493.74Z" fill="#3b2754"/>
<line x1="277.60" y1="504.86" x2="277.60" y2="510.18" stroke="#3b2754" stroke-width="0.6"/>
<line x1="276.40" y1="504.86" x2="278.80" y2="504.86" stroke="#3b2754" stroke-width="0.6"/>
<line x1="276.40" y1="510.18" x2="278.80" y2="510.18" stroke="#3b2754" stroke-width="0.6"/>
<path d="M275.92,506.40 L279.28,506.40 L277.60,509.06Z" fill="#3b2754"/>
<line x1="288.80" y1="512.18" x2="288.80" y2="522.84" stroke="#3b2754" stroke-width="0.6"/>
<line x1="287.60" y1="512.18" x2="290.00" y2="512.18" stroke="#3b2754" stroke-width="0.6"/>
<line x1="287.60" y1="522.84" x2="290.00" y2="522.84" stroke="#3b2754" stroke-width="0.6"/>
<path d="M287.12,516.39 L290.48,516.39 L288.80,519.05Z" fill="#3b2754"/>
<line x1="300.00" y1="524.84" x2="300.00" y2="527.50" stroke="#3b2754" stroke-width="0.6"/>
<line x1="298.80" y1="524.84" x2="301.20" y2="524.84" stroke="#3b2754" stroke-width="0.6"/>
<line x1="298.80" y1="527.50" x2="301.20" y2="527.50" stroke="#3b2754" stroke-width="0.6"/>
<path d="M298.32,525.05 L301.68,525.05 L300.00,527.71Z" fill="#3b2754"/>
<line x1="262.10" y1="463.60" x2="270.60" y2="463.60" stroke="#a47a4a" stroke-width="1.1"/>
<path d="M266.10,461.56 L268.14,463.60 L266.10,465.64 L264.06,463.60Z" fill="#a47a4a"/>
<text x="271.80" y="466.00" font-size="6.7" fill="#333" textLength="33.22" lengthAdjust="spacingAndGlyphs" stroke="#333" stroke-width="0.14">GSH 4-CAR</text>
<line x1="262.10" y1="470.90" x2="270.60" y2="470.90" stroke="#eab060" stroke-width="1.1"/>
<circle cx="266.10" cy="470.90" r="1.70" fill="#eab060"/>
<text x="271.80" y="473.30" font-size="6.7" fill="#333" textLength="44.58" lengthAdjust="spacingAndGlyphs" stroke="#333" stroke-width="0.14">GSH 4+C1-CAR</text>
<line x1="262.10" y1="478.40" x2="270.60" y2="478.40" stroke="#3b2754" stroke-width="1.1"/>
<path d="M264.06,477.04 L268.14,477.04 L266.10,480.27Z" fill="#3b2754"/>
<text x="271.80" y="480.80" font-size="6.7" fill="#333" textLength="31.52" lengthAdjust="spacingAndGlyphs" stroke="#333" stroke-width="0.14">TRAC-CAR</text>
<line x1="340.70" y1="460.00" x2="340.70" y2="527.50" stroke="#222" stroke-width="1.1"/>
<line x1="340.20" y1="527.50" x2="413.20" y2="527.50" stroke="#222" stroke-width="1.1"/>
<line x1="337.70" y1="527.50" x2="340.70" y2="527.50" stroke="#222" stroke-width="0.9"/>
<text x="334.30" y="529.70" font-size="6.3" fill="#333" text-anchor="end" textLength="3.00" lengthAdjust="spacingAndGlyphs" stroke="#333" stroke-width="0.14">0</text>
<line x1="337.70" y1="520.84" x2="340.70" y2="520.84" stroke="#222" stroke-width="0.9"/>
<text x="334.30" y="523.04" font-size="6.3" fill="#333" text-anchor="end" textLength="6.01" lengthAdjust="spacingAndGlyphs" stroke="#333" stroke-width="0.14">10</text>
<line x1="337.70" y1="514.18" x2="340.70" y2="514.18" stroke="#222" stroke-width="0.9"/>
<text x="334.30" y="516.38" font-size="6.3" fill="#333" text-anchor="end" textLength="6.01" lengthAdjust="spacingAndGlyphs" stroke="#333" stroke-width="0.14">20</text>
<line x1="337.70" y1="507.52" x2="340.70" y2="507.52" stroke="#222" stroke-width="0.9"/>
<text x="334.30" y="509.72" font-size="6.3" fill="#333" text-anchor="end" textLength="6.01" lengthAdjust="spacingAndGlyphs" stroke="#333" stroke-width="0.14">30</text>
<line x1="337.70" y1="500.86" x2="340.70" y2="500.86" stroke="#222" stroke-width="0.9"/>
<text x="334.30" y="503.06" font-size="6.3" fill="#333" text-anchor="end" textLength="6.01" lengthAdjust="spacingAndGlyphs" stroke="#333" stroke-width="0.14">40</text>
<line x1="337.70" y1="494.20" x2="340.70" y2="494.20" stroke="#222" stroke-width="0.9"/>
<text x="334.30" y="496.40" font-size="6.3" fill="#333" text-anchor="end" textLength="6.01" lengthAdjust="spacingAndGlyphs" stroke="#333" stroke-width="0.14">50</text>
<line x1="337.70" y1="487.54" x2="340.70" y2="487.54" stroke="#222" stroke-width="0.9"/>
<text x="334.30" y="489.74" font-size="6.3" fill="#333" text-anchor="end" textLength="6.01" lengthAdjust="spacingAndGlyphs" stroke="#333" stroke-width="0.14">60</text>
<line x1="337.70" y1="480.88" x2="340.70" y2="480.88" stroke="#222" stroke-width="0.9"/>
<text x="334.30" y="483.08" font-size="6.3" fill="#333" text-anchor="end" textLength="6.01" lengthAdjust="spacingAndGlyphs" stroke="#333" stroke-width="0.14">70</text>
<line x1="337.70" y1="474.22" x2="340.70" y2="474.22" stroke="#222" stroke-width="0.9"/>
<text x="334.30" y="476.42" font-size="6.3" fill="#333" text-anchor="end" textLength="6.01" lengthAdjust="spacingAndGlyphs" stroke="#333" stroke-width="0.14">80</text>
<line x1="337.70" y1="467.56" x2="340.70" y2="467.56" stroke="#222" stroke-width="0.9"/>
<text x="334.30" y="469.76" font-size="6.3" fill="#333" text-anchor="end" textLength="6.01" lengthAdjust="spacingAndGlyphs" stroke="#333" stroke-width="0.14">90</text>
<line x1="337.70" y1="460.90" x2="340.70" y2="460.90" stroke="#222" stroke-width="0.9"/>
<text x="334.30" y="463.10" font-size="6.3" fill="#333" text-anchor="end" textLength="9.01" lengthAdjust="spacingAndGlyphs" stroke="#333" stroke-width="0.14">100</text>
<line x1="340.70" y1="527.50" x2="340.70" y2="530.20" stroke="#222" stroke-width="0.9"/>
<text x="342.40" y="531.00" font-size="5.2" fill="#333" text-anchor="end" textLength="10.00" lengthAdjust="spacingAndGlyphs" transform="rotate(-70 342.40 531.00)" stroke="#333" stroke-width="0.14">2²:1</text>
<line x1="347.80" y1="527.50" x2="347.80" y2="530.20" stroke="#222" stroke-width="0.9"/>
<text x="349.50" y="531.00" font-size="5.2" fill="#333" text-anchor="end" textLength="10.00" lengthAdjust="spacingAndGlyphs" transform="rotate(-70 349.50 531.00)" stroke="#333" stroke-width="0.14">2²:1</text>
<line x1="354.90" y1="527.50" x2="354.90" y2="530.20" stroke="#222" stroke-width="0.9"/>
<text x="356.60" y="531.00" font-size="5.2" fill="#333" text-anchor="end" textLength="10.00" lengthAdjust="spacingAndGlyphs" transform="rotate(-70 356.60 531.00)" stroke="#333" stroke-width="0.14">2²:1</text>
<line x1="362.00" y1="527.50" x2="362.00" y2="530.20" stroke="#222" stroke-width="0.9"/>
<text x="363.70" y="531.00" font-size="5.2" fill="#333" text-anchor="end" textLength="10.00" lengthAdjust="spacingAndGlyphs" transform="rotate(-70 363.70 531.00)" stroke="#333" stroke-width="0.14">2²:1</text>
<line x1="369.10" y1="527.50" x2="369.10" y2="530.20" stroke="#222" stroke-width="0.9"/>
<text x="370.80" y="531.00" font-size="5.2" fill="#333" text-anchor="end" textLength="10.00" lengthAdjust="spacingAndGlyphs" transform="rotate(-70 370.80 531.00)" stroke="#333" stroke-width="0.14">2²:1</text>
<line x1="376.20" y1="527.50" x2="376.20" y2="530.20" stroke="#222" stroke-width="0.9"/>
<text x="377.90" y="531.00" font-size="5.2" fill="#333" text-anchor="end" textLength="10.00" lengthAdjust="spacingAndGlyphs" transform="rotate(-70 377.90 531.00)" stroke="#333" stroke-width="0.14">2²:1</text>
<line x1="383.30" y1="527.50" x2="383.30" y2="530.20" stroke="#222" stroke-width="0.9"/>
<text x="385.00" y="531.00" font-size="5.2" fill="#333" text-anchor="end" textLength="10.00" lengthAdjust="spacingAndGlyphs" transform="rotate(-70 385.00 531.00)" stroke="#333" stroke-width="0.14">2²:1</text>
<line x1="390.40" y1="527.50" x2="390.40" y2="530.20" stroke="#222" stroke-width="0.9"/>
<text x="392.10" y="531.00" font-size="5.2" fill="#333" text-anchor="end" textLength="10.00" lengthAdjust="spacingAndGlyphs" transform="rotate(-70 392.10 531.00)" stroke="#333" stroke-width="0.14">2²:1</text>
<line x1="397.50" y1="527.50" x2="397.50" y2="530.20" stroke="#222" stroke-width="0.9"/>
<text x="399.20" y="531.00" font-size="5.2" fill="#333" text-anchor="end" textLength="10.00" lengthAdjust="spacingAndGlyphs" transform="rotate(-70 399.20 531.00)" stroke="#333" stroke-width="0.14">2²:1</text>
<line x1="404.60" y1="527.50" x2="404.60" y2="530.20" stroke="#222" stroke-width="0.9"/>
<text x="406.30" y="531.00" font-size="5.2" fill="#333" text-anchor="end" textLength="10.00" lengthAdjust="spacingAndGlyphs" transform="rotate(-70 406.30 531.00)" stroke="#333" stroke-width="0.14">2²:1</text>
<line x1="411.70" y1="527.50" x2="411.70" y2="530.20" stroke="#222" stroke-width="0.9"/>
<text x="413.40" y="531.00" font-size="5.2" fill="#333" text-anchor="end" textLength="10.00" lengthAdjust="spacingAndGlyphs" transform="rotate(-70 413.40 531.00)" stroke="#333" stroke-width="0.14">2²:1</text>
<text x="376.70" y="551.40" font-size="6.6" fill="#555" text-anchor="middle" textLength="17.50" lengthAdjust="spacingAndGlyphs" stroke="#555" stroke-width="0.14">E:T ratio</text>
<path d="M343.50,467.56 C344.32,467.95 353.06,471.33 354.70,472.89 C356.34,474.45 364.26,486.48 365.90,488.87 C367.54,491.27 375.46,503.67 377.10,505.52 C378.74,507.38 386.66,513.20 388.30,514.18 C389.94,515.16 397.86,518.45 399.50,518.84 C401.14,519.23 409.88,519.46 410.70,519.51" fill="none" stroke="#e2a494" stroke-width="1.0"/>
<line x1="343.50" y1="464.23" x2="343.50" y2="470.89" stroke="#e2a494" stroke-width="0.6"/>
<line x1="342.30" y1="464.23" x2="344.70" y2="464.23" stroke="#e2a494" stroke-width="0.6"/>
<line x1="342.30" y1="470.89" x2="344.70" y2="470.89" stroke="#e2a494" stroke-width="0.6"/>
<circle cx="343.50" cy="467.56" r="1.40" fill="#e2a494"/>
<line x1="354.70" y1="470.89" x2="354.70" y2="474.89" stroke="#e2a494" stroke-width="0.6"/>
<line x1="353.50" y1="470.89" x2="355.90" y2="470.89" stroke="#e2a494" stroke-width="0.6"/>
<line x1="353.50" y1="474.89" x2="355.90" y2="474.89" stroke="#e2a494" stroke-width="0.6"/>
<circle cx="354.70" cy="472.89" r="1.40" fill="#e2a494"/>
<line x1="365.90" y1="485.54" x2="365.90" y2="492.20" stroke="#e2a494" stroke-width="0.6"/>
<line x1="364.70" y1="485.54" x2="367.10" y2="485.54" stroke="#e2a494" stroke-width="0.6"/>
<line x1="364.70" y1="492.20" x2="367.10" y2="492.20" stroke="#e2a494" stroke-width="0.6"/>
<circle cx="365.90" cy="488.87" r="1.40" fill="#e2a494"/>
<line x1="377.10" y1="502.86" x2="377.10" y2="508.19" stroke="#e2a494" stroke-width="0.6"/>
<line x1="375.90" y1="502.86" x2="378.30" y2="502.86" stroke="#e2a494" stroke-width="0.6"/>
<line x1="375.90" y1="508.19" x2="378.30" y2="508.19" stroke="#e2a494" stroke-width="0.6"/>
<circle cx="377.10" cy="505.52" r="1.40" fill="#e2a494"/>
<line x1="388.30" y1="510.85" x2="388.30" y2="517.51" stroke="#e2a494" stroke-width="0.6"/>
<line x1="387.10" y1="510.85" x2="389.50" y2="510.85" stroke="#e2a494" stroke-width="0.6"/>
<line x1="387.10" y1="517.51" x2="389.50" y2="517.51" stroke="#e2a494" stroke-width="0.6"/>
<circle cx="388.30" cy="514.18" r="1.40" fill="#e2a494"/>
<line x1="399.50" y1="513.51" x2="399.50" y2="524.17" stroke="#e2a494" stroke-width="0.6"/>
<line x1="398.30" y1="513.51" x2="400.70" y2="513.51" stroke="#e2a494" stroke-width="0.6"/>
<line x1="398.30" y1="524.17" x2="400.70" y2="524.17" stroke="#e2a494" stroke-width="0.6"/>
<circle cx="399.50" cy="518.84" r="1.40" fill="#e2a494"/>
<line x1="410.70" y1="514.18" x2="410.70" y2="524.84" stroke="#e2a494" stroke-width="0.6"/>
<line x1="409.50" y1="514.18" x2="411.90" y2="514.18" stroke="#e2a494" stroke-width="0.6"/>
<line x1="409.50" y1="524.84" x2="411.90" y2="524.84" stroke="#e2a494" stroke-width="0.6"/>
<circle cx="410.70" cy="519.51" r="1.40" fill="#e2a494"/>
<path d="M343.50,468.89 C344.32,469.67 353.06,477.69 354.70,479.55 C356.34,481.40 364.26,491.76 365.90,494.20 C367.54,496.64 375.46,511.24 377.10,512.85 C378.74,514.46 386.66,515.59 388.30,516.18 C389.94,516.76 397.86,520.16 399.50,520.84 C401.14,521.52 409.88,525.16 410.70,525.50" fill="none" stroke="#c2449e" stroke-width="1.0"/>
<line x1="343.50" y1="466.23" x2="343.50" y2="471.56" stroke="#c2449e" stroke-width="0.6"/>
<line x1="342.30" y1="466.23" x2="344.70" y2="466.23" stroke="#c2449e" stroke-width="0.6"/>
<line x1="342.30" y1="471.56" x2="344.70" y2="471.56" stroke="#c2449e" stroke-width="0.6"/>
<circle cx="343.50" cy="468.89" r="1.40" fill="#c2449e"/>
<line x1="354.70" y1="478.22" x2="354.70" y2="480.88" stroke="#c2449e" stroke-width="0.6"/>
<line x1="353.50" y1="478.22" x2="355.90" y2="478.22" stroke="#c2449e" stroke-width="0.6"/>
<line x1="353.50" y1="480.88" x2="355.90" y2="480.88" stroke="#c2449e" stroke-width="0.6"/>
<circle cx="354.70" cy="479.55" r="1.40" fill="#c2449e"/>
<line x1="365.90" y1="491.54" x2="365.90" y2="496.86" stroke="#c2449e" stroke-width="0.6"/>
<line x1="364.70" y1="491.54" x2="367.10" y2="491.54" stroke="#c2449e" stroke-width="0.6"/>
<line x1="364.70" y1="496.86" x2="367.10" y2="496.86" stroke="#c2449e" stroke-width="0.6"/>
<circle cx="365.90" cy="494.20" r="1.40" fill="#c2449e"/>
<line x1="377.10" y1="510.18" x2="377.10" y2="515.51" stroke="#c2449e" stroke-width="0.6"/>
<line x1="375.90" y1="510.18" x2="378.30" y2="510.18" stroke="#c2449e" stroke-width="0.6"/>
<line x1="375.90" y1="515.51" x2="378.30" y2="515.51" stroke="#c2449e" stroke-width="0.6"/>
<circle cx="377.10" cy="512.85" r="1.40" fill="#c2449e"/>
<line x1="388.30" y1="512.18" x2="388.30" y2="520.17" stroke="#c2449e" stroke-width="0.6"/>
<line x1="387.10" y1="512.18" x2="389.50" y2="512.18" stroke="#c2449e" stroke-width="0.6"/>
<line x1="387.10" y1="520.17" x2="389.50" y2="520.17" stroke="#c2449e" stroke-width="0.6"/>
<circle cx="388.30" cy="516.18" r="1.40" fill="#c2449e"/>
<line x1="399.50" y1="516.84" x2="399.50" y2="524.84" stroke="#c2449e" stroke-width="0.6"/>
<line x1="398.30" y1="516.84" x2="400.70" y2="516.84" stroke="#c2449e" stroke-width="0.6"/>
<line x1="398.30" y1="524.84" x2="400.70" y2="524.84" stroke="#c2449e" stroke-width="0.6"/>
<circle cx="399.50" cy="520.84" r="1.40" fill="#c2449e"/>
<line x1="410.70" y1="522.84" x2="410.70" y2="527.50" stroke="#c2449e" stroke-width="0.6"/>
<line x1="409.50" y1="522.84" x2="411.90" y2="522.84" stroke="#c2449e" stroke-width="0.6"/>
<line x1="409.50" y1="527.50" x2="411.90" y2="527.50" stroke="#c2449e" stroke-width="0.6"/>
<circle cx="410.70" cy="525.50" r="1.40" fill="#c2449e"/>
<path d="M343.50,466.23 C344.32,466.67 353.06,470.32 354.70,472.22 C356.34,474.13 364.26,489.61 365.90,492.20 C367.54,494.79 375.46,505.76 377.10,507.52 C378.74,509.28 386.66,514.81 388.30,516.18 C389.94,517.55 398.44,525.34 399.50,526.17 C400.56,527.00 402.47,527.40 402.70,527.50" fill="none" stroke="#3b2754" stroke-width="1.0"/>
<path d="M341.82,465.11 L345.18,465.11 L343.50,467.77Z" fill="#3b2754"/>
<path d="M353.02,471.10 L356.38,471.10 L354.70,473.76Z" fill="#3b2754"/>
<line x1="365.90" y1="489.54" x2="365.90" y2="494.87" stroke="#3b2754" stroke-width="0.6"/>
<line x1="364.70" y1="489.54" x2="367.10" y2="489.54" stroke="#3b2754" stroke-width="0.6"/>
<line x1="364.70" y1="494.87" x2="367.10" y2="494.87" stroke="#3b2754" stroke-width="0.6"/>
<path d="M364.22,491.08 L367.58,491.08 L365.90,493.74Z" fill="#3b2754"/>
<line x1="377.10" y1="504.86" x2="377.10" y2="510.18" stroke="#3b2754" stroke-width="0.6"/>
<line x1="375.90" y1="504.86" x2="378.30" y2="504.86" stroke="#3b2754" stroke-width="0.6"/>
<line x1="375.90" y1="510.18" x2="378.30" y2="510.18" stroke="#3b2754" stroke-width="0.6"/>
<path d="M375.42,506.40 L378.78,506.40 L377.10,509.06Z" fill="#3b2754"/>
<line x1="388.30" y1="512.18" x2="388.30" y2="520.17" stroke="#3b2754" stroke-width="0.6"/>
<line x1="387.10" y1="512.18" x2="389.50" y2="512.18" stroke="#3b2754" stroke-width="0.6"/>
<line x1="387.10" y1="520.17" x2="389.50" y2="520.17" stroke="#3b2754" stroke-width="0.6"/>
<path d="M386.62,515.06 L389.98,515.06 L388.30,517.72Z" fill="#3b2754"/>
<line x1="399.50" y1="524.84" x2="399.50" y2="527.50" stroke="#3b2754" stroke-width="0.6"/>
<line x1="398.30" y1="524.84" x2="400.70" y2="524.84" stroke="#3b2754" stroke-width="0.6"/>
<line x1="398.30" y1="527.50" x2="400.70" y2="527.50" stroke="#3b2754" stroke-width="0.6"/>
<path d="M397.82,525.05 L401.18,525.05 L399.50,527.71Z" fill="#3b2754"/>
<line x1="361.40" y1="459.90" x2="369.90" y2="459.90" stroke="#e2a494" stroke-width="1.1"/>
<circle cx="365.40" cy="459.90" r="1.70" fill="#e2a494"/>
<text x="371.30" y="462.30" font-size="6.7" fill="#333" textLength="33.22" lengthAdjust="spacingAndGlyphs" stroke="#333" stroke-width="0.14">GSH 5-CAR</text>
<line x1="361.40" y1="467.30" x2="369.90" y2="467.30" stroke="#c2449e" stroke-width="1.1"/>
<circle cx="365.40" cy="467.30" r="1.70" fill="#c2449e"/>
<text x="371.30" y="469.70" font-size="6.7" fill="#333" textLength="44.58" lengthAdjust="spacingAndGlyphs" stroke="#333" stroke-width="0.14">GSH 5+C1-CAR</text>
<line x1="361.40" y1="475.30" x2="369.90" y2="475.30" stroke="#3b2754" stroke-width="1.1"/>
<path d="M363.36,473.94 L367.44,473.94 L365.40,477.17Z" fill="#3b2754"/>
<text x="371.30" y="477.70" font-size="6.7" fill="#333" textLength="31.52" lengthAdjust="spacingAndGlyphs" stroke="#333" stroke-width="0.14">TRAC-CAR</text>
<line x1="440.70" y1="460.00" x2="440.70" y2="527.50" stroke="#222" stroke-width="1.1"/>
<line x1="440.20" y1="527.50" x2="513.20" y2="527.50" stroke="#222" stroke-width="1.1"/>
<line x1="437.70" y1="527.50" x2="440.70" y2="527.50" stroke="#222" stroke-width="0.9"/>
<text x="434.30" y="529.70" font-size="6.3" fill="#333" text-anchor="end" textLength="3.00" lengthAdjust="spacingAndGlyphs" stroke="#333" stroke-width="0.14">0</text>
<line x1="437.70" y1="520.84" x2="440.70" y2="520.84" stroke="#222" stroke-width="0.9"/>
<text x="434.30" y="523.04" font-size="6.3" fill="#333" text-anchor="end" textLength="6.01" lengthAdjust="spacingAndGlyphs" stroke="#333" stroke-width="0.14">10</text>
<line x1="437.70" y1="514.18" x2="440.70" y2="514.18" stroke="#222" stroke-width="0.9"/>
<text x="434.30" y="516.38" font-size="6.3" fill="#333" text-anchor="end" textLength="6.01" lengthAdjust="spacingAndGlyphs" stroke="#333" stroke-width="0.14">20</text>
<line x1="437.70" y1="507.52" x2="440.70" y2="507.52" stroke="#222" stroke-width="0.9"/>
<text x="434.30" y="509.72" font-size="6.3" fill="#333" text-anchor="end" textLength="6.01" lengthAdjust="spacingAndGlyphs" stroke="#333" stroke-width="0.14">30</text>
<line x1="437.70" y1="500.86" x2="440.70" y2="500.86" stroke="#222" stroke-width="0.9"/>
<text x="434.30" y="503.06" font-size="6.3" fill="#333" text-anchor="end" textLength="6.01" lengthAdjust="spacingAndGlyphs" stroke="#333" stroke-width="0.14">40</text>
<line x1="437.70" y1="494.20" x2="440.70" y2="494.20" stroke="#222" stroke-width="0.9"/>
<text x="434.30" y="496.40" font-size="6.3" fill="#333" text-anchor="end" textLength="6.01" lengthAdjust="spacingAndGlyphs" stroke="#333" stroke-width="0.14">50</text>
<line x1="437.70" y1="487.54" x2="440.70" y2="487.54" stroke="#222" stroke-width="0.9"/>
<text x="434.30" y="489.74" font-size="6.3" fill="#333" text-anchor="end" textLength="6.01" lengthAdjust="spacingAndGlyphs" stroke="#333" stroke-width="0.14">60</text>
<line x1="437.70" y1="480.88" x2="440.70" y2="480.88" stroke="#222" stroke-width="0.9"/>
<text x="434.30" y="483.08" font-size="6.3" fill="#333" text-anchor="end" textLength="6.01" lengthAdjust="spacingAndGlyphs" stroke="#333" stroke-width="0.14">70</text>
<line x1="437.70" y1="474.22" x2="440.70" y2="474.22" stroke="#222" stroke-width="0.9"/>
<text x="434.30" y="476.42" font-size="6.3" fill="#333" text-anchor="end" textLength="6.01" lengthAdjust="spacingAndGlyphs" stroke="#333" stroke-width="0.14">80</text>
<line x1="437.70" y1="467.56" x2="440.70" y2="467.56" stroke="#222" stroke-width="0.9"/>
<text x="434.30" y="469.76" font-size="6.3" fill="#333" text-anchor="end" textLength="6.01" lengthAdjust="spacingAndGlyphs" stroke="#333" stroke-width="0.14">90</text>
<line x1="437.70" y1="460.90" x2="440.70" y2="460.90" stroke="#222" stroke-width="0.9"/>
<text x="434.30" y="463.10" font-size="6.3" fill="#333" text-anchor="end" textLength="9.01" lengthAdjust="spacingAndGlyphs" stroke="#333" stroke-width="0.14">100</text>
<line x1="440.70" y1="527.50" x2="440.70" y2="530.20" stroke="#222" stroke-width="0.9"/>
<text x="442.40" y="531.00" font-size="5.2" fill="#333" text-anchor="end" textLength="10.00" lengthAdjust="spacingAndGlyphs" transform="rotate(-70 442.40 531.00)" stroke="#333" stroke-width="0.14">2²:1</text>
<line x1="447.80" y1="527.50" x2="447.80" y2="530.20" stroke="#222" stroke-width="0.9"/>
<text x="449.50" y="531.00" font-size="5.2" fill="#333" text-anchor="end" textLength="10.00" lengthAdjust="spacingAndGlyphs" transform="rotate(-70 449.50 531.00)" stroke="#333" stroke-width="0.14">2²:1</text>
<line x1="454.90" y1="527.50" x2="454.90" y2="530.20" stroke="#222" stroke-width="0.9"/>
<text x="456.60" y="531.00" font-size="5.2" fill="#333" text-anchor="end" textLength="10.00" lengthAdjust="spacingAndGlyphs" transform="rotate(-70 456.60 531.00)" stroke="#333" stroke-width="0.14">2²:1</text>
<line x1="462.00" y1="527.50" x2="462.00" y2="530.20" stroke="#222" stroke-width="0.9"/>
<text x="463.70" y="531.00" font-size="5.2" fill="#333" text-anchor="end" textLength="10.00" lengthAdjust="spacingAndGlyphs" transform="rotate(-70 463.70 531.00)" stroke="#333" stroke-width="0.14">2²:1</text>
<line x1="469.10" y1="527.50" x2="469.10" y2="530.20" stroke="#222" stroke-width="0.9"/>
<text x="470.80" y="531.00" font-size="5.2" fill="#333" text-anchor="end" textLength="10.00" lengthAdjust="spacingAndGlyphs" transform="rotate(-70 470.80 531.00)" stroke="#333" stroke-width="0.14">2²:1</text>
<line x1="476.20" y1="527.50" x2="476.20" y2="530.20" stroke="#222" stroke-width="0.9"/>
<text x="477.90" y="531.00" font-size="5.2" fill="#333" text-anchor="end" textLength="10.00" lengthAdjust="spacingAndGlyphs" transform="rotate(-70 477.90 531.00)" stroke="#333" stroke-width="0.14">2²:1</text>
<line x1="483.30" y1="527.50" x2="483.30" y2="530.20" stroke="#222" stroke-width="0.9"/>
<text x="485.00" y="531.00" font-size="5.2" fill="#333" text-anchor="end" textLength="10.00" lengthAdjust="spacingAndGlyphs" transform="rotate(-70 485.00 531.00)" stroke="#333" stroke-width="0.14">2²:1</text>
<line x1="490.40" y1="527.50" x2="490.40" y2="530.20" stroke="#222" stroke-width="0.9"/>
<text x="492.10" y="531.00" font-size="5.2" fill="#333" text-anchor="end" textLength="10.00" lengthAdjust="spacingAndGlyphs" transform="rotate(-70 492.10 531.00)" stroke="#333" stroke-width="0.14">2²:1</text>
<line x1="497.50" y1="527.50" x2="497.50" y2="530.20" stroke="#222" stroke-width="0.9"/>
<text x="499.20" y="531.00" font-size="5.2" fill="#333" text-anchor="end" textLength="10.00" lengthAdjust="spacingAndGlyphs" transform="rotate(-70 499.20 531.00)" stroke="#333" stroke-width="0.14">2²:1</text>
<line x1="504.60" y1="527.50" x2="504.60" y2="530.20" stroke="#222" stroke-width="0.9"/>
<text x="506.30" y="531.00" font-size="5.2" fill="#333" text-anchor="end" textLength="10.00" lengthAdjust="spacingAndGlyphs" transform="rotate(-70 506.30 531.00)" stroke="#333" stroke-width="0.14">2²:1</text>
<line x1="511.70" y1="527.50" x2="511.70" y2="530.20" stroke="#222" stroke-width="0.9"/>
<text x="513.40" y="531.00" font-size="5.2" fill="#333" text-anchor="end" textLength="10.00" lengthAdjust="spacingAndGlyphs" transform="rotate(-70 513.40 531.00)" stroke="#333" stroke-width="0.14">2²:1</text>
<text x="476.70" y="551.40" font-size="6.6" fill="#555" text-anchor="middle" textLength="17.50" lengthAdjust="spacingAndGlyphs" stroke="#555" stroke-width="0.14">E:T ratio</text>
<path d="M443.50,468.89 C444.32,469.43 453.06,474.51 454.70,476.22 C456.34,477.93 464.26,489.91 465.90,492.20 C467.54,494.50 475.46,505.76 477.10,507.52 C478.74,509.28 486.66,515.30 488.30,516.18 C489.94,517.06 497.86,518.78 499.50,519.51 C501.14,520.24 509.88,525.68 510.70,526.17" fill="none" stroke="#9a2a40" stroke-width="1.0"/>
<line x1="443.50" y1="466.89" x2="443.50" y2="470.89" stroke="#9a2a40" stroke-width="0.6"/>
<line x1="442.30" y1="466.89" x2="444.70" y2="466.89" stroke="#9a2a40" stroke-width="0.6"/>
<line x1="442.30" y1="470.89" x2="444.70" y2="470.89" stroke="#9a2a40" stroke-width="0.6"/>
<circle cx="443.50" cy="468.89" r="1.40" fill="#9a2a40"/>
<line x1="454.70" y1="474.22" x2="454.70" y2="478.22" stroke="#9a2a40" stroke-width="0.6"/>
<line x1="453.50" y1="474.22" x2="455.90" y2="474.22" stroke="#9a2a40" stroke-width="0.6"/>
<line x1="453.50" y1="478.22" x2="455.90" y2="478.22" stroke="#9a2a40" stroke-width="0.6"/>
<circle cx="454.70" cy="476.22" r="1.40" fill="#9a2a40"/>
<line x1="465.90" y1="488.87" x2="465.90" y2="495.53" stroke="#9a2a40" stroke-width="0.6"/>
<line x1="464.70" y1="488.87" x2="467.10" y2="488.87" stroke="#9a2a40" stroke-width="0.6"/>
<line x1="464.70" y1="495.53" x2="467.10" y2="495.53" stroke="#9a2a40" stroke-width="0.6"/>
<circle cx="465.90" cy="492.20" r="1.40" fill="#9a2a40"/>
<line x1="477.10" y1="504.86" x2="477.10" y2="510.18" stroke="#9a2a40" stroke-width="0.6"/>
<line x1="475.90" y1="504.86" x2="478.30" y2="504.86" stroke="#9a2a40" stroke-width="0.6"/>
<line x1="475.90" y1="510.18" x2="478.30" y2="510.18" stroke="#9a2a40" stroke-width="0.6"/>
<circle cx="477.10" cy="507.52" r="1.40" fill="#9a2a40"/>
<line x1="488.30" y1="512.18" x2="488.30" y2="520.17" stroke="#9a2a40" stroke-width="0.6"/>
<line x1="487.10" y1="512.18" x2="489.50" y2="512.18" stroke="#9a2a40" stroke-width="0.6"/>
<line x1="487.10" y1="520.17" x2="489.50" y2="520.17" stroke="#9a2a40" stroke-width="0.6"/>
<circle cx="488.30" cy="516.18" r="1.40" fill="#9a2a40"/>
<line x1="499.50" y1="516.84" x2="499.50" y2="522.17" stroke="#9a2a40" stroke-width="0.6"/>
<line x1="498.30" y1="516.84" x2="500.70" y2="516.84" stroke="#9a2a40" stroke-width="0.6"/>
<line x1="498.30" y1="522.17" x2="500.70" y2="522.17" stroke="#9a2a40" stroke-width="0.6"/>
<circle cx="499.50" cy="519.51" r="1.40" fill="#9a2a40"/>
<line x1="510.70" y1="524.84" x2="510.70" y2="527.50" stroke="#9a2a40" stroke-width="0.6"/>
<line x1="509.50" y1="524.84" x2="511.90" y2="524.84" stroke="#9a2a40" stroke-width="0.6"/>
<line x1="509.50" y1="527.50" x2="511.90" y2="527.50" stroke="#9a2a40" stroke-width="0.6"/>
<circle cx="510.70" cy="526.17" r="1.40" fill="#9a2a40"/>
<path d="M443.50,467.56 C444.32,468.44 453.06,477.69 454.70,479.55 C456.34,481.40 464.26,490.77 465.90,492.87 C467.54,494.97 475.46,506.13 477.10,508.19 C478.74,510.24 486.66,520.01 488.30,520.84 C489.94,521.67 497.86,519.17 499.50,519.51 C501.14,519.85 509.88,525.06 510.70,525.50" fill="none" stroke="#d0c2c8" stroke-width="1.0"/>
<line x1="443.50" y1="465.56" x2="443.50" y2="469.56" stroke="#d0c2c8" stroke-width="0.6"/>
<line x1="442.30" y1="465.56" x2="444.70" y2="465.56" stroke="#d0c2c8" stroke-width="0.6"/>
<line x1="442.30" y1="469.56" x2="444.70" y2="469.56" stroke="#d0c2c8" stroke-width="0.6"/>
<circle cx="443.50" cy="467.56" r="1.40" fill="#d0c2c8"/>
<line x1="454.70" y1="476.88" x2="454.70" y2="482.21" stroke="#d0c2c8" stroke-width="0.6"/>
<line x1="453.50" y1="476.88" x2="455.90" y2="476.88" stroke="#d0c2c8" stroke-width="0.6"/>
<line x1="453.50" y1="482.21" x2="455.90" y2="482.21" stroke="#d0c2c8" stroke-width="0.6"/>
<circle cx="454.70" cy="479.55" r="1.40" fill="#d0c2c8"/>
<line x1="465.90" y1="488.87" x2="465.90" y2="496.86" stroke="#d0c2c8" stroke-width="0.6"/>
<line x1="464.70" y1="488.87" x2="467.10" y2="488.87" stroke="#d0c2c8" stroke-width="0.6"/>
<line x1="464.70" y1="496.86" x2="467.10" y2="496.86" stroke="#d0c2c8" stroke-width="0.6"/>
<circle cx="465.90" cy="492.87" r="1.40" fill="#d0c2c8"/>
<line x1="477.10" y1="505.52" x2="477.10" y2="510.85" stroke="#d0c2c8" stroke-width="0.6"/>
<line x1="475.90" y1="505.52" x2="478.30" y2="505.52" stroke="#d0c2c8" stroke-width="0.6"/>
<line x1="475.90" y1="510.85" x2="478.30" y2="510.85" stroke="#d0c2c8" stroke-width="0.6"/>
<circle cx="477.10" cy="508.19" r="1.40" fill="#d0c2c8"/>
<line x1="488.30" y1="518.18" x2="488.30" y2="523.50" stroke="#d0c2c8" stroke-width="0.6"/>
<line x1="487.10" y1="518.18" x2="489.50" y2="518.18" stroke="#d0c2c8" stroke-width="0.6"/>
<line x1="487.10" y1="523.50" x2="489.50" y2="523.50" stroke="#d0c2c8" stroke-width="0.6"/>
<circle cx="488.30" cy="520.84" r="1.40" fill="#d0c2c8"/>
<line x1="499.50" y1="516.84" x2="499.50" y2="522.17" stroke="#d0c2c8" stroke-width="0.6"/>
<line x1="498.30" y1="516.84" x2="500.70" y2="516.84" stroke="#d0c2c8" stroke-width="0.6"/>
<line x1="498.30" y1="522.17" x2="500.70" y2="522.17" stroke="#d0c2c8" stroke-width="0.6"/>
<circle cx="499.50" cy="519.51" r="1.40" fill="#d0c2c8"/>
<line x1="510.70" y1="522.84" x2="510.70" y2="527.50" stroke="#d0c2c8" stroke-width="0.6"/>
<line x1="509.50" y1="522.84" x2="511.90" y2="522.84" stroke="#d0c2c8" stroke-width="0.6"/>
<line x1="509.50" y1="527.50" x2="511.90" y2="527.50" stroke="#d0c2c8" stroke-width="0.6"/>
<circle cx="510.70" cy="525.50" r="1.40" fill="#d0c2c8"/>
<path d="M443.50,466.23 C444.32,466.67 453.06,470.37 454.70,472.22 C456.34,474.08 464.26,488.95 465.90,491.54 C467.54,494.12 475.46,505.71 477.10,507.52 C478.74,509.33 486.66,514.81 488.30,516.18 C489.94,517.55 498.44,525.34 499.50,526.17 C500.56,527.00 502.47,527.40 502.70,527.50" fill="none" stroke="#3b2754" stroke-width="1.0"/>
<path d="M441.82,465.11 L445.18,465.11 L443.50,467.77Z" fill="#3b2754"/>
<path d="M453.02,471.10 L456.38,471.10 L454.70,473.76Z" fill="#3b2754"/>
<line x1="465.90" y1="488.87" x2="465.90" y2="494.20" stroke="#3b2754" stroke-width="0.6"/>
<line x1="464.70" y1="488.87" x2="467.10" y2="488.87" stroke="#3b2754" stroke-width="0.6"/>
<line x1="464.70" y1="494.20" x2="467.10" y2="494.20" stroke="#3b2754" stroke-width="0.6"/>
<path d="M464.22,490.42 L467.58,490.42 L465.90,493.08Z" fill="#3b2754"/>
<line x1="477.10" y1="504.86" x2="477.10" y2="510.18" stroke="#3b2754" stroke-width="0.6"/>
<line x1="475.90" y1="504.86" x2="478.30" y2="504.86" stroke="#3b2754" stroke-width="0.6"/>
<line x1="475.90" y1="510.18" x2="478.30" y2="510.18" stroke="#3b2754" stroke-width="0.6"/>
<path d="M475.42,506.40 L478.78,506.40 L477.10,509.06Z" fill="#3b2754"/>
<line x1="488.30" y1="512.18" x2="488.30" y2="520.17" stroke="#3b2754" stroke-width="0.6"/>
<line x1="487.10" y1="512.18" x2="489.50" y2="512.18" stroke="#3b2754" stroke-width="0.6"/>
<line x1="487.10" y1="520.17" x2="489.50" y2="520.17" stroke="#3b2754" stroke-width="0.6"/>
<path d="M486.62,515.06 L489.98,515.06 L488.30,517.72Z" fill="#3b2754"/>
<line x1="499.50" y1="524.84" x2="499.50" y2="527.50" stroke="#3b2754" stroke-width="0.6"/>
<line x1="498.30" y1="524.84" x2="500.70" y2="524.84" stroke="#3b2754" stroke-width="0.6"/>
<line x1="498.30" y1="527.50" x2="500.70" y2="527.50" stroke="#3b2754" stroke-width="0.6"/>
<path d="M497.82,525.05 L501.18,525.05 L499.50,527.71Z" fill="#3b2754"/>
<line x1="456.80" y1="453.90" x2="465.30" y2="453.90" stroke="#9a2a40" stroke-width="1.1"/>
<circle cx="460.80" cy="453.90" r="1.70" fill="#9a2a40"/>
<text x="466.70" y="456.30" font-size="6.7" fill="#333" textLength="33.22" lengthAdjust="spacingAndGlyphs" stroke="#333" stroke-width="0.14">GSH 6-CAR</text>
<line x1="456.80" y1="461.60" x2="465.30" y2="461.60" stroke="#d0c2c8" stroke-width="1.1"/>
<circle cx="460.80" cy="461.60" r="1.70" fill="#d0c2c8"/>
<text x="466.70" y="464.00" font-size="6.7" fill="#333" textLength="44.58" lengthAdjust="spacingAndGlyphs" stroke="#333" stroke-width="0.14">GSH 6+C1-CAR</text>
<line x1="456.80" y1="469.30" x2="465.30" y2="469.30" stroke="#3b2754" stroke-width="1.1"/>
<path d="M458.76,467.94 L462.84,467.94 L460.80,471.17Z" fill="#3b2754"/>
<text x="466.70" y="471.70" font-size="6.7" fill="#333" textLength="31.52" lengthAdjust="spacingAndGlyphs" stroke="#333" stroke-width="0.14">TRAC-CAR</text>
<line x1="43.20" y1="573.00" x2="43.20" y2="647.80" stroke="#222" stroke-width="1.1"/>
<line x1="42.70" y1="647.80" x2="117.70" y2="647.80" stroke="#222" stroke-width="1.1"/>
<line x1="39.70" y1="611.55" x2="43.20" y2="611.55" stroke="#222" stroke-width="0.9"/>
<text x="37.90" y="613.95" font-size="6.6" fill="#333" text-anchor="end" textLength="7.23" lengthAdjust="spacingAndGlyphs" stroke="#333" stroke-width="0.14">10</text>
<line x1="39.70" y1="575.30" x2="43.20" y2="575.30" stroke="#222" stroke-width="0.9"/>
<text x="37.90" y="577.70" font-size="6.6" fill="#333" text-anchor="end" textLength="10.84" lengthAdjust="spacingAndGlyphs" stroke="#333" stroke-width="0.14">100</text>
<line x1="42.20" y1="636.89" x2="43.20" y2="636.89" stroke="#222" stroke-width="0.45"/>
<line x1="42.20" y1="630.50" x2="43.20" y2="630.50" stroke="#222" stroke-width="0.45"/>
<line x1="42.20" y1="625.98" x2="43.20" y2="625.98" stroke="#222" stroke-width="0.45"/>
<line x1="42.20" y1="622.46" x2="43.20" y2="622.46" stroke="#222" stroke-width="0.45"/>
<line x1="42.20" y1="619.59" x2="43.20" y2="619.59" stroke="#222" stroke-width="0.45"/>
<line x1="42.20" y1="617.17" x2="43.20" y2="617.17" stroke="#222" stroke-width="0.45"/>
<line x1="42.20" y1="615.06" x2="43.20" y2="615.06" stroke="#222" stroke-width="0.45"/>
<line x1="42.20" y1="613.21" x2="43.20" y2="613.21" stroke="#222" stroke-width="0.45"/>
<line x1="42.20" y1="600.64" x2="43.20" y2="600.64" stroke="#222" stroke-width="0.45"/>
<line x1="42.20" y1="594.25" x2="43.20" y2="594.25" stroke="#222" stroke-width="0.45"/>
<line x1="42.20" y1="589.73" x2="43.20" y2="589.73" stroke="#222" stroke-width="0.45"/>
<line x1="42.20" y1="586.21" x2="43.20" y2="586.21" stroke="#222" stroke-width="0.45"/>
<line x1="42.20" y1="583.34" x2="43.20" y2="583.34" stroke="#222" stroke-width="0.45"/>
<line x1="42.20" y1="580.92" x2="43.20" y2="580.92" stroke="#222" stroke-width="0.45"/>
<line x1="42.20" y1="578.81" x2="43.20" y2="578.81" stroke="#222" stroke-width="0.45"/>
<line x1="42.20" y1="576.96" x2="43.20" y2="576.96" stroke="#222" stroke-width="0.45"/>
<line x1="43.20" y1="647.80" x2="43.20" y2="650.60" stroke="#222" stroke-width="0.9"/>
<text x="43.20" y="659.60" font-size="6.9" fill="#333" text-anchor="middle" textLength="3.34" lengthAdjust="spacingAndGlyphs" stroke="#333" stroke-width="0.14">0</text>
<line x1="79.20" y1="647.80" x2="79.20" y2="650.60" stroke="#222" stroke-width="0.9"/>
<text x="79.20" y="659.60" font-size="6.9" fill="#333" text-anchor="middle" textLength="3.34" lengthAdjust="spacingAndGlyphs" stroke="#333" stroke-width="0.14">7</text>
<line x1="115.20" y1="647.80" x2="115.20" y2="650.60" stroke="#222" stroke-width="0.9"/>
<text x="115.20" y="659.60" font-size="6.9" fill="#333" text-anchor="middle" textLength="6.67" lengthAdjust="spacingAndGlyphs" stroke="#333" stroke-width="0.14">14</text>
<text x="79.20" y="670.20" font-size="7.2" fill="#333" text-anchor="middle" textLength="12.00" lengthAdjust="spacingAndGlyphs" stroke="#333" stroke-width="0.14">Days</text>
<text x="22.50" y="615.50" font-size="7.0" fill="#444" text-anchor="middle" textLength="61.00" lengthAdjust="spacingAndGlyphs" transform="rotate(-90 22.50 615.50)" stroke="#444" stroke-width="0.14">Cumulative fold change</text>
<path d="M43.20,647.80 L79.20,617.80 L115.20,604.20" fill="none" stroke="#7db04a" stroke-width="0.95"/>
<path d="M43.20,647.80 L79.20,627.70 L115.20,615.50" fill="none" stroke="#3a5aa0" stroke-width="0.95"/>
<path d="M43.20,647.80 L79.20,615.50 L115.20,585.50" fill="none" stroke="#44346e" stroke-width="0.95"/>
<path d="M40.32,649.72 L46.08,649.72 L43.20,645.16Z" fill="#7db04a"/>
<path d="M76.32,619.72 L82.08,619.72 L79.20,615.16Z" fill="#7db04a"/>
<path d="M112.32,606.12 L118.08,606.12 L115.20,601.56Z" fill="#7db04a"/>
<rect x="40.80" y="645.40" width="4.80" height="4.80" fill="#3a5aa0"/>
<rect x="76.80" y="625.30" width="4.80" height="4.80" fill="#3a5aa0"/>
<rect x="112.80" y="613.10" width="4.80" height="4.80" fill="#3a5aa0"/>
<path d="M40.32,645.88 L46.08,645.88 L43.20,650.44Z" fill="#44346e"/>
<path d="M76.32,613.58 L82.08,613.58 L79.20,618.14Z" fill="#44346e"/>
<path d="M112.32,583.58 L118.08,583.58 L115.20,588.14Z" fill="#44346e"/>
<line x1="52.50" y1="573.00" x2="61.00" y2="573.00" stroke="#7db04a" stroke-width="1.1"/>
<path d="M54.46,574.36 L58.54,574.36 L56.50,571.13Z" fill="#7db04a"/>
<text x="63.50" y="575.40" font-size="6.7" fill="#333" textLength="33.22" lengthAdjust="spacingAndGlyphs" stroke="#333" stroke-width="0.14">GSH 2-CAR</text>
<line x1="52.50" y1="581.50" x2="61.00" y2="581.50" stroke="#3a5aa0" stroke-width="1.1"/>
<rect x="54.80" y="579.80" width="3.40" height="3.40" fill="#3a5aa0"/>
<text x="63.50" y="583.90" font-size="6.7" fill="#333" textLength="33.22" lengthAdjust="spacingAndGlyphs" stroke="#333" stroke-width="0.14">GSH 3-CAR</text>
<line x1="52.50" y1="590.00" x2="61.00" y2="590.00" stroke="#44346e" stroke-width="1.1"/>
<path d="M54.46,588.64 L58.54,588.64 L56.50,591.87Z" fill="#44346e"/>
<text x="63.50" y="592.40" font-size="6.7" fill="#333" textLength="31.52" lengthAdjust="spacingAndGlyphs" stroke="#333" stroke-width="0.14">TRAC-CAR</text>
<line x1="137.00" y1="573.00" x2="137.00" y2="647.80" stroke="#222" stroke-width="1.1"/>
<line x1="136.50" y1="647.80" x2="211.50" y2="647.80" stroke="#222" stroke-width="1.1"/>
<line x1="133.50" y1="611.55" x2="137.00" y2="611.55" stroke="#222" stroke-width="0.9"/>
<text x="131.70" y="613.95" font-size="6.6" fill="#333" text-anchor="end" textLength="7.23" lengthAdjust="spacingAndGlyphs" stroke="#333" stroke-width="0.14">10</text>
<line x1="133.50" y1="575.30" x2="137.00" y2="575.30" stroke="#222" stroke-width="0.9"/>
<text x="131.70" y="577.70" font-size="6.6" fill="#333" text-anchor="end" textLength="10.84" lengthAdjust="spacingAndGlyphs" stroke="#333" stroke-width="0.14">100</text>
<line x1="136.00" y1="636.89" x2="137.00" y2="636.89" stroke="#222" stroke-width="0.45"/>
<line x1="136.00" y1="630.50" x2="137.00" y2="630.50" stroke="#222" stroke-width="0.45"/>
<line x1="136.00" y1="625.98" x2="137.00" y2="625.98" stroke="#222" stroke-width="0.45"/>
<line x1="136.00" y1="622.46" x2="137.00" y2="622.46" stroke="#222" stroke-width="0.45"/>
<line x1="136.00" y1="619.59" x2="137.00" y2="619.59" stroke="#222" stroke-width="0.45"/>
<line x1="136.00" y1="617.17" x2="137.00" y2="617.17" stroke="#222" stroke-width="0.45"/>
<line x1="136.00" y1="615.06" x2="137.00" y2="615.06" stroke="#222" stroke-width="0.45"/>
<line x1="136.00" y1="613.21" x2="137.00" y2="613.21" stroke="#222" stroke-width="0.45"/>
<line x1="136.00" y1="600.64" x2="137.00" y2="600.64" stroke="#222" stroke-width="0.45"/>
<line x1="136.00" y1="594.25" x2="137.00" y2="594.25" stroke="#222" stroke-width="0.45"/>
<line x1="136.00" y1="589.73" x2="137.00" y2="589.73" stroke="#222" stroke-width="0.45"/>
<line x1="136.00" y1="586.21" x2="137.00" y2="586.21" stroke="#222" stroke-width="0.45"/>
<line x1="136.00" y1="583.34" x2="137.00" y2="583.34" stroke="#222" stroke-width="0.45"/>
<line x1="136.00" y1="580.92" x2="137.00" y2="580.92" stroke="#222" stroke-width="0.45"/>
<line x1="136.00" y1="578.81" x2="137.00" y2="578.81" stroke="#222" stroke-width="0.45"/>
<line x1="136.00" y1="576.96" x2="137.00" y2="576.96" stroke="#222" stroke-width="0.45"/>
<line x1="137.00" y1="647.80" x2="137.00" y2="650.60" stroke="#222" stroke-width="0.9"/>
<text x="137.00" y="659.60" font-size="6.9" fill="#333" text-anchor="middle" textLength="3.34" lengthAdjust="spacingAndGlyphs" stroke="#333" stroke-width="0.14">0</text>
<line x1="173.00" y1="647.80" x2="173.00" y2="650.60" stroke="#222" stroke-width="0.9"/>
<text x="173.00" y="659.60" font-size="6.9" fill="#333" text-anchor="middle" textLength="3.34" lengthAdjust="spacingAndGlyphs" stroke="#333" stroke-width="0.14">7</text>
<line x1="209.00" y1="647.80" x2="209.00" y2="650.60" stroke="#222" stroke-width="0.9"/>
<text x="209.00" y="659.60" font-size="6.9" fill="#333" text-anchor="middle" textLength="6.67" lengthAdjust="spacingAndGlyphs" stroke="#333" stroke-width="0.14">14</text>
<text x="173.00" y="670.20" font-size="7.2" fill="#333" text-anchor="middle" textLength="12.00" lengthAdjust="spacingAndGlyphs" stroke="#333" stroke-width="0.14">Days</text>
<path d="M137.00,647.80 L173.00,622.00 L209.00,601.20" fill="none" stroke="#9cc0ea" stroke-width="0.95"/>
<path d="M137.00,647.80 L173.00,622.00 L209.00,597.70" fill="none" stroke="#3d4f86" stroke-width="0.95" stroke-dasharray="2.2,1.6"/>
<path d="M137.00,647.80 L173.00,615.00 L209.00,585.00" fill="none" stroke="#44346e" stroke-width="0.95"/>
<circle cx="137.00" cy="647.80" r="2.2" fill="#fff" fill-opacity="0.6" stroke="#9cc0ea" stroke-width="1.2"/>
<circle cx="173.00" cy="622.00" r="2.2" fill="#fff" fill-opacity="0.6" stroke="#9cc0ea" stroke-width="1.2"/>
<circle cx="209.00" cy="601.20" r="2.2" fill="#fff" fill-opacity="0.6" stroke="#9cc0ea" stroke-width="1.2"/>
<circle cx="137.00" cy="647.80" r="2.40" fill="#3d4f86"/>
<circle cx="173.00" cy="622.00" r="2.40" fill="#3d4f86"/>
<circle cx="209.00" cy="597.70" r="2.40" fill="#3d4f86"/>
<path d="M134.12,645.88 L139.88,645.88 L137.00,650.44Z" fill="#44346e"/>
<path d="M170.12,613.08 L175.88,613.08 L173.00,617.64Z" fill="#44346e"/>
<path d="M206.12,583.08 L211.88,583.08 L209.00,587.64Z" fill="#44346e"/>
<line x1="144.00" y1="571.20" x2="152.50" y2="571.20" stroke="#9cc0ea" stroke-width="1.1"/>
<circle cx="148.00" cy="571.20" r="1.70" fill="#9cc0ea"/>
<text x="153.80" y="573.60" font-size="6.7" fill="#333" textLength="33.22" lengthAdjust="spacingAndGlyphs" stroke="#333" stroke-width="0.14">GSH 1-CAR</text>
<line x1="144.00" y1="578.80" x2="152.50" y2="578.80" stroke="#3d4f86" stroke-width="1.1" stroke-dasharray="1.6,1.2"/>
<circle cx="148.00" cy="578.80" r="1.70" fill="#3d4f86"/>
<text x="153.80" y="581.20" font-size="6.7" fill="#333" textLength="44.58" lengthAdjust="spacingAndGlyphs" stroke="#333" stroke-width="0.14">GSH 1+C1-CAR</text>
<line x1="144.00" y1="586.60" x2="152.50" y2="586.60" stroke="#44346e" stroke-width="1.1"/>
<path d="M145.96,585.24 L150.04,585.24 L148.00,588.47Z" fill="#44346e"/>
<text x="153.80" y="589.00" font-size="6.7" fill="#333" textLength="31.52" lengthAdjust="spacingAndGlyphs" stroke="#333" stroke-width="0.14">TRAC-CAR</text>
<line x1="231.90" y1="573.00" x2="231.90" y2="647.80" stroke="#222" stroke-width="1.1"/>
<line x1="231.40" y1="647.80" x2="306.40" y2="647.80" stroke="#222" stroke-width="1.1"/>
<line x1="228.40" y1="611.55" x2="231.90" y2="611.55" stroke="#222" stroke-width="0.9"/>
<text x="226.60" y="613.95" font-size="6.6" fill="#333" text-anchor="end" textLength="7.23" lengthAdjust="spacingAndGlyphs" stroke="#333" stroke-width="0.14">10</text>
<line x1="228.40" y1="575.30" x2="231.90" y2="575.30" stroke="#222" stroke-width="0.9"/>
<text x="226.60" y="577.70" font-size="6.6" fill="#333" text-anchor="end" textLength="10.84" lengthAdjust="spacingAndGlyphs" stroke="#333" stroke-width="0.14">100</text>
<line x1="230.90" y1="636.89" x2="231.90" y2="636.89" stroke="#222" stroke-width="0.45"/>
<line x1="230.90" y1="630.50" x2="231.90" y2="630.50" stroke="#222" stroke-width="0.45"/>
<line x1="230.90" y1="625.98" x2="231.90" y2="625.98" stroke="#222" stroke-width="0.45"/>
<line x1="230.90" y1="622.46" x2="231.90" y2="622.46" stroke="#222" stroke-width="0.45"/>
<line x1="230.90" y1="619.59" x2="231.90" y2="619.59" stroke="#222" stroke-width="0.45"/>
<line x1="230.90" y1="617.17" x2="231.90" y2="617.17" stroke="#222" stroke-width="0.45"/>
<line x1="230.90" y1="615.06" x2="231.90" y2="615.06" stroke="#222" stroke-width="0.45"/>
<line x1="230.90" y1="613.21" x2="231.90" y2="613.21" stroke="#222" stroke-width="0.45"/>
<line x1="230.90" y1="600.64" x2="231.90" y2="600.64" stroke="#222" stroke-width="0.45"/>
<line x1="230.90" y1="594.25" x2="231.90" y2="594.25" stroke="#222" stroke-width="0.45"/>
<line x1="230.90" y1="589.73" x2="231.90" y2="589.73" stroke="#222" stroke-width="0.45"/>
<line x1="230.90" y1="586.21" x2="231.90" y2="586.21" stroke="#222" stroke-width="0.45"/>
<line x1="230.90" y1="583.34" x2="231.90" y2="583.34" stroke="#222" stroke-width="0.45"/>
<line x1="230.90" y1="580.92" x2="231.90" y2="580.92" stroke="#222" stroke-width="0.45"/>
<line x1="230.90" y1="578.81" x2="231.90" y2="578.81" stroke="#222" stroke-width="0.45"/>
<line x1="230.90" y1="576.96" x2="231.90" y2="576.96" stroke="#222" stroke-width="0.45"/>
<line x1="231.90" y1="647.80" x2="231.90" y2="650.60" stroke="#222" stroke-width="0.9"/>
<text x="231.90" y="659.60" font-size="6.9" fill="#333" text-anchor="middle" textLength="3.34" lengthAdjust="spacingAndGlyphs" stroke="#333" stroke-width="0.14">0</text>
<line x1="267.90" y1="647.80" x2="267.90" y2="650.60" stroke="#222" stroke-width="0.9"/>
<text x="267.90" y="659.60" font-size="6.9" fill="#333" text-anchor="middle" textLength="3.34" lengthAdjust="spacingAndGlyphs" stroke="#333" stroke-width="0.14">7</text>
<line x1="303.90" y1="647.80" x2="303.90" y2="650.60" stroke="#222" stroke-width="0.9"/>
<text x="303.90" y="659.60" font-size="6.9" fill="#333" text-anchor="middle" textLength="6.67" lengthAdjust="spacingAndGlyphs" stroke="#333" stroke-width="0.14">14</text>
<text x="267.90" y="670.20" font-size="7.2" fill="#333" text-anchor="middle" textLength="12.00" lengthAdjust="spacingAndGlyphs" stroke="#333" stroke-width="0.14">Days</text>
<path d="M231.90,647.80 L267.90,622.60 L303.90,607.60" fill="none" stroke="#d2aa6a" stroke-width="0.95"/>
<path d="M231.90,647.80 L267.90,619.20 L303.90,602.80" fill="none" stroke="#eab060" stroke-width="0.95" stroke-dasharray="2.2,1.6"/>
<path d="M231.90,647.80 L267.90,615.50 L303.90,585.00" fill="none" stroke="#44346e" stroke-width="0.95"/>
<circle cx="231.90" cy="647.80" r="2.2" fill="#fff" fill-opacity="0.6" stroke="#d2aa6a" stroke-width="1.2"/>
<circle cx="267.90" cy="622.60" r="2.2" fill="#fff" fill-opacity="0.6" stroke="#d2aa6a" stroke-width="1.2"/>
<circle cx="303.90" cy="607.60" r="2.2" fill="#fff" fill-opacity="0.6" stroke="#d2aa6a" stroke-width="1.2"/>
<circle cx="231.90" cy="647.80" r="2.2" fill="#fff" fill-opacity="0.6" stroke="#eab060" stroke-width="1.2"/>
<circle cx="267.90" cy="619.20" r="2.2" fill="#fff" fill-opacity="0.6" stroke="#eab060" stroke-width="1.2"/>
<circle cx="303.90" cy="602.80" r="2.2" fill="#fff" fill-opacity="0.6" stroke="#eab060" stroke-width="1.2"/>
<path d="M229.02,645.88 L234.78,645.88 L231.90,650.44Z" fill="#44346e"/>
<path d="M265.02,613.58 L270.78,613.58 L267.90,618.14Z" fill="#44346e"/>
<path d="M301.02,583.08 L306.78,583.08 L303.90,587.64Z" fill="#44346e"/>
<line x1="245.20" y1="570.70" x2="253.70" y2="570.70" stroke="#d2aa6a" stroke-width="1.1"/>
<path d="M249.20,568.66 L251.24,570.70 L249.20,572.74 L247.16,570.70Z" fill="#d2aa6a"/>
<text x="255.00" y="573.10" font-size="6.7" fill="#333" textLength="33.22" lengthAdjust="spacingAndGlyphs" stroke="#333" stroke-width="0.14">GSH 4-CAR</text>
<line x1="245.20" y1="578.00" x2="253.70" y2="578.00" stroke="#eab060" stroke-width="1.1" stroke-dasharray="1.6,1.2"/>
<circle cx="249.20" cy="578.00" r="1.70" fill="#eab060"/>
<text x="255.00" y="580.40" font-size="6.7" fill="#333" textLength="44.58" lengthAdjust="spacingAndGlyphs" stroke="#333" stroke-width="0.14">GSH 4+C1-CAR</text>
<line x1="245.20" y1="586.20" x2="253.70" y2="586.20" stroke="#44346e" stroke-width="1.1"/>
<path d="M247.16,584.84 L251.24,584.84 L249.20,588.07Z" fill="#44346e"/>
<text x="255.00" y="588.60" font-size="6.7" fill="#333" textLength="31.52" lengthAdjust="spacingAndGlyphs" stroke="#333" stroke-width="0.14">TRAC-CAR</text>
<line x1="337.70" y1="573.00" x2="337.70" y2="647.80" stroke="#222" stroke-width="1.1"/>
<line x1="337.20" y1="647.80" x2="412.20" y2="647.80" stroke="#222" stroke-width="1.1"/>
<line x1="334.20" y1="611.55" x2="337.70" y2="611.55" stroke="#222" stroke-width="0.9"/>
<text x="332.40" y="613.95" font-size="6.6" fill="#333" text-anchor="end" textLength="7.23" lengthAdjust="spacingAndGlyphs" stroke="#333" stroke-width="0.14">10</text>
<line x1="334.20" y1="575.30" x2="337.70" y2="575.30" stroke="#222" stroke-width="0.9"/>
<text x="332.40" y="577.70" font-size="6.6" fill="#333" text-anchor="end" textLength="10.84" lengthAdjust="spacingAndGlyphs" stroke="#333" stroke-width="0.14">100</text>
<line x1="336.70" y1="636.89" x2="337.70" y2="636.89" stroke="#222" stroke-width="0.45"/>
<line x1="336.70" y1="630.50" x2="337.70" y2="630.50" stroke="#222" stroke-width="0.45"/>
<line x1="336.70" y1="625.98" x2="337.70" y2="625.98" stroke="#222" stroke-width="0.45"/>
<line x1="336.70" y1="622.46" x2="337.70" y2="622.46" stroke="#222" stroke-width="0.45"/>
<line x1="336.70" y1="619.59" x2="337.70" y2="619.59" stroke="#222" stroke-width="0.45"/>
<line x1="336.70" y1="617.17" x2="337.70" y2="617.17" stroke="#222" stroke-width="0.45"/>
<line x1="336.70" y1="615.06" x2="337.70" y2="615.06" stroke="#222" stroke-width="0.45"/>
<line x1="336.70" y1="613.21" x2="337.70" y2="613.21" stroke="#222" stroke-width="0.45"/>
<line x1="336.70" y1="600.64" x2="337.70" y2="600.64" stroke="#222" stroke-width="0.45"/>
<line x1="336.70" y1="594.25" x2="337.70" y2="594.25" stroke="#222" stroke-width="0.45"/>
<line x1="336.70" y1="589.73" x2="337.70" y2="589.73" stroke="#222" stroke-width="0.45"/>
<line x1="336.70" y1="586.21" x2="337.70" y2="586.21" stroke="#222" stroke-width="0.45"/>
<line x1="336.70" y1="583.34" x2="337.70" y2="583.34" stroke="#222" stroke-width="0.45"/>
<line x1="336.70" y1="580.92" x2="337.70" y2="580.92" stroke="#222" stroke-width="0.45"/>
<line x1="336.70" y1="578.81" x2="337.70" y2="578.81" stroke="#222" stroke-width="0.45"/>
<line x1="336.70" y1="576.96" x2="337.70" y2="576.96" stroke="#222" stroke-width="0.45"/>
<line x1="337.70" y1="647.80" x2="337.70" y2="650.60" stroke="#222" stroke-width="0.9"/>
<text x="337.70" y="659.60" font-size="6.9" fill="#333" text-anchor="middle" textLength="3.34" lengthAdjust="spacingAndGlyphs" stroke="#333" stroke-width="0.14">0</text>
<line x1="373.70" y1="647.80" x2="373.70" y2="650.60" stroke="#222" stroke-width="0.9"/>
<text x="373.70" y="659.60" font-size="6.9" fill="#333" text-anchor="middle" textLength="3.34" lengthAdjust="spacingAndGlyphs" stroke="#333" stroke-width="0.14">7</text>
<line x1="409.70" y1="647.80" x2="409.70" y2="650.60" stroke="#222" stroke-width="0.9"/>
<text x="409.70" y="659.60" font-size="6.9" fill="#333" text-anchor="middle" textLength="6.67" lengthAdjust="spacingAndGlyphs" stroke="#333" stroke-width="0.14">14</text>
<text x="373.70" y="670.20" font-size="7.2" fill="#333" text-anchor="middle" textLength="12.00" lengthAdjust="spacingAndGlyphs" stroke="#333" stroke-width="0.14">Days</text>
<path d="M337.70,647.80 L373.70,617.30 L409.70,592.00" fill="none" stroke="#dc9a8a" stroke-width="0.95"/>
<path d="M337.70,647.80 L373.70,619.60 L409.70,602.30" fill="none" stroke="#c8489e" stroke-width="0.95" stroke-dasharray="2.2,1.6"/>
<path d="M337.70,647.80 L373.70,615.50 L409.70,585.00" fill="none" stroke="#44346e" stroke-width="0.95"/>
<circle cx="337.70" cy="647.80" r="2.2" fill="#fff" fill-opacity="0.6" stroke="#dc9a8a" stroke-width="1.2"/>
<circle cx="373.70" cy="617.30" r="2.2" fill="#fff" fill-opacity="0.6" stroke="#dc9a8a" stroke-width="1.2"/>
<circle cx="409.70" cy="592.00" r="2.2" fill="#fff" fill-opacity="0.6" stroke="#dc9a8a" stroke-width="1.2"/>
<circle cx="337.70" cy="647.80" r="2.2" fill="#fff" fill-opacity="0.6" stroke="#c8489e" stroke-width="1.2"/>
<circle cx="373.70" cy="619.60" r="2.2" fill="#fff" fill-opacity="0.6" stroke="#c8489e" stroke-width="1.2"/>
<circle cx="409.70" cy="602.30" r="2.2" fill="#fff" fill-opacity="0.6" stroke="#c8489e" stroke-width="1.2"/>
<path d="M334.82,645.88 L340.58,645.88 L337.70,650.44Z" fill="#44346e"/>
<path d="M370.82,613.58 L376.58,613.58 L373.70,618.14Z" fill="#44346e"/>
<path d="M406.82,583.08 L412.58,583.08 L409.70,587.64Z" fill="#44346e"/>
<line x1="347.50" y1="569.30" x2="356.00" y2="569.30" stroke="#dc9a8a" stroke-width="1.1"/>
<circle cx="351.50" cy="569.30" r="1.70" fill="#dc9a8a"/>
<text x="357.30" y="571.70" font-size="6.7" fill="#333" textLength="33.22" lengthAdjust="spacingAndGlyphs" stroke="#333" stroke-width="0.14">GSH 5-CAR</text>
<line x1="347.50" y1="577.40" x2="356.00" y2="577.40" stroke="#c8489e" stroke-width="1.1" stroke-dasharray="1.6,1.2"/>
<circle cx="351.50" cy="577.40" r="1.70" fill="#c8489e"/>
<text x="357.30" y="579.80" font-size="6.7" fill="#333" textLength="44.58" lengthAdjust="spacingAndGlyphs" stroke="#333" stroke-width="0.14">GSH 5+C1-CAR</text>
<line x1="347.50" y1="585.00" x2="356.00" y2="585.00" stroke="#44346e" stroke-width="1.1"/>
<path d="M349.46,583.64 L353.54,583.64 L351.50,586.87Z" fill="#44346e"/>
<text x="357.30" y="587.40" font-size="6.7" fill="#333" textLength="31.52" lengthAdjust="spacingAndGlyphs" stroke="#333" stroke-width="0.14">TRAC-CAR</text>
<line x1="433.50" y1="573.00" x2="433.50" y2="647.80" stroke="#222" stroke-width="1.1"/>
<line x1="433.00" y1="647.80" x2="508.00" y2="647.80" stroke="#222" stroke-width="1.1"/>
<line x1="430.00" y1="611.55" x2="433.50" y2="611.55" stroke="#222" stroke-width="0.9"/>
<text x="428.20" y="613.95" font-size="6.6" fill="#333" text-anchor="end" textLength="7.23" lengthAdjust="spacingAndGlyphs" stroke="#333" stroke-width="0.14">10</text>
<line x1="430.00" y1="575.30" x2="433.50" y2="575.30" stroke="#222" stroke-width="0.9"/>
<text x="428.20" y="577.70" font-size="6.6" fill="#333" text-anchor="end" textLength="10.84" lengthAdjust="spacingAndGlyphs" stroke="#333" stroke-width="0.14">100</text>
<line x1="432.50" y1="636.89" x2="433.50" y2="636.89" stroke="#222" stroke-width="0.45"/>
<line x1="432.50" y1="630.50" x2="433.50" y2="630.50" stroke="#222" stroke-width="0.45"/>
<line x1="432.50" y1="625.98" x2="433.50" y2="625.98" stroke="#222" stroke-width="0.45"/>
<line x1="432.50" y1="622.46" x2="433.50" y2="622.46" stroke="#222" stroke-width="0.45"/>
<line x1="432.50" y1="619.59" x2="433.50" y2="619.59" stroke="#222" stroke-width="0.45"/>
<line x1="432.50" y1="617.17" x2="433.50" y2="617.17" stroke="#222" stroke-width="0.45"/>
<line x1="432.50" y1="615.06" x2="433.50" y2="615.06" stroke="#222" stroke-width="0.45"/>
<line x1="432.50" y1="613.21" x2="433.50" y2="613.21" stroke="#222" stroke-width="0.45"/>
<line x1="432.50" y1="600.64" x2="433.50" y2="600.64" stroke="#222" stroke-width="0.45"/>
<line x1="432.50" y1="594.25" x2="433.50" y2="594.25" stroke="#222" stroke-width="0.45"/>
<line x1="432.50" y1="589.73" x2="433.50" y2="589.73" stroke="#222" stroke-width="0.45"/>
<line x1="432.50" y1="586.21" x2="433.50" y2="586.21" stroke="#222" stroke-width="0.45"/>
<line x1="432.50" y1="583.34" x2="433.50" y2="583.34" stroke="#222" stroke-width="0.45"/>
<line x1="432.50" y1="580.92" x2="433.50" y2="580.92" stroke="#222" stroke-width="0.45"/>
<line x1="432.50" y1="578.81" x2="433.50" y2="578.81" stroke="#222" stroke-width="0.45"/>
<line x1="432.50" y1="576.96" x2="433.50" y2="576.96" stroke="#222" stroke-width="0.45"/>
<line x1="433.50" y1="647.80" x2="433.50" y2="650.60" stroke="#222" stroke-width="0.9"/>
<text x="433.50" y="659.60" font-size="6.9" fill="#333" text-anchor="middle" textLength="3.34" lengthAdjust="spacingAndGlyphs" stroke="#333" stroke-width="0.14">0</text>
<line x1="469.50" y1="647.80" x2="469.50" y2="650.60" stroke="#222" stroke-width="0.9"/>
<text x="469.50" y="659.60" font-size="6.9" fill="#333" text-anchor="middle" textLength="3.34" lengthAdjust="spacingAndGlyphs" stroke="#333" stroke-width="0.14">7</text>
<line x1="505.50" y1="647.80" x2="505.50" y2="650.60" stroke="#222" stroke-width="0.9"/>
<text x="505.50" y="659.60" font-size="6.9" fill="#333" text-anchor="middle" textLength="6.67" lengthAdjust="spacingAndGlyphs" stroke="#333" stroke-width="0.14">14</text>
<text x="469.50" y="670.20" font-size="7.2" fill="#333" text-anchor="middle" textLength="12.00" lengthAdjust="spacingAndGlyphs" stroke="#333" stroke-width="0.14">Days</text>
<path d="M433.50,647.80 L469.50,617.00 L505.50,589.20" fill="none" stroke="#9a2a40" stroke-width="0.95"/>
<path d="M433.50,647.80 L469.50,619.20 L505.50,592.60" fill="none" stroke="#cfc6ca" stroke-width="0.95"/>
<path d="M433.50,647.80 L469.50,615.50 L505.50,585.00" fill="none" stroke="#44346e" stroke-width="0.95"/>
<circle cx="433.50" cy="647.80" r="2.40" fill="#9a2a40"/>
<circle cx="469.50" cy="617.00" r="2.40" fill="#9a2a40"/>
<circle cx="505.50" cy="589.20" r="2.40" fill="#9a2a40"/>
<circle cx="433.50" cy="647.80" r="2.40" fill="#cfc6ca"/>
<circle cx="469.50" cy="619.20" r="2.40" fill="#cfc6ca"/>
<circle cx="505.50" cy="592.60" r="2.40" fill="#cfc6ca"/>
<path d="M430.62,645.88 L436.38,645.88 L433.50,650.44Z" fill="#44346e"/>
<path d="M466.62,613.58 L472.38,613.58 L469.50,618.14Z" fill="#44346e"/>
<path d="M502.62,583.08 L508.38,583.08 L505.50,587.64Z" fill="#44346e"/>
<line x1="439.80" y1="570.00" x2="448.30" y2="570.00" stroke="#9a2a40" stroke-width="1.1"/>
<circle cx="443.80" cy="570.00" r="1.70" fill="#9a2a40"/>
<text x="449.60" y="572.40" font-size="6.7" fill="#333" textLength="33.22" lengthAdjust="spacingAndGlyphs" stroke="#333" stroke-width="0.14">GSH 6-CAR</text>
<line x1="439.80" y1="578.00" x2="448.30" y2="578.00" stroke="#cfc6ca" stroke-width="1.1"/>
<circle cx="443.80" cy="578.00" r="1.70" fill="#cfc6ca"/>
<text x="449.60" y="580.40" font-size="6.7" fill="#333" textLength="44.58" lengthAdjust="spacingAndGlyphs" stroke="#333" stroke-width="0.14">GSH 6+C1-CAR</text>
<line x1="439.80" y1="585.70" x2="448.30" y2="585.70" stroke="#44346e" stroke-width="1.1"/>
<path d="M441.76,584.34 L445.84,584.34 L443.80,587.57Z" fill="#44346e"/>
<text x="449.60" y="588.10" font-size="6.7" fill="#333" textLength="31.52" lengthAdjust="spacingAndGlyphs" stroke="#333" stroke-width="0.14">TRAC-CAR</text>
</svg></body></html>
